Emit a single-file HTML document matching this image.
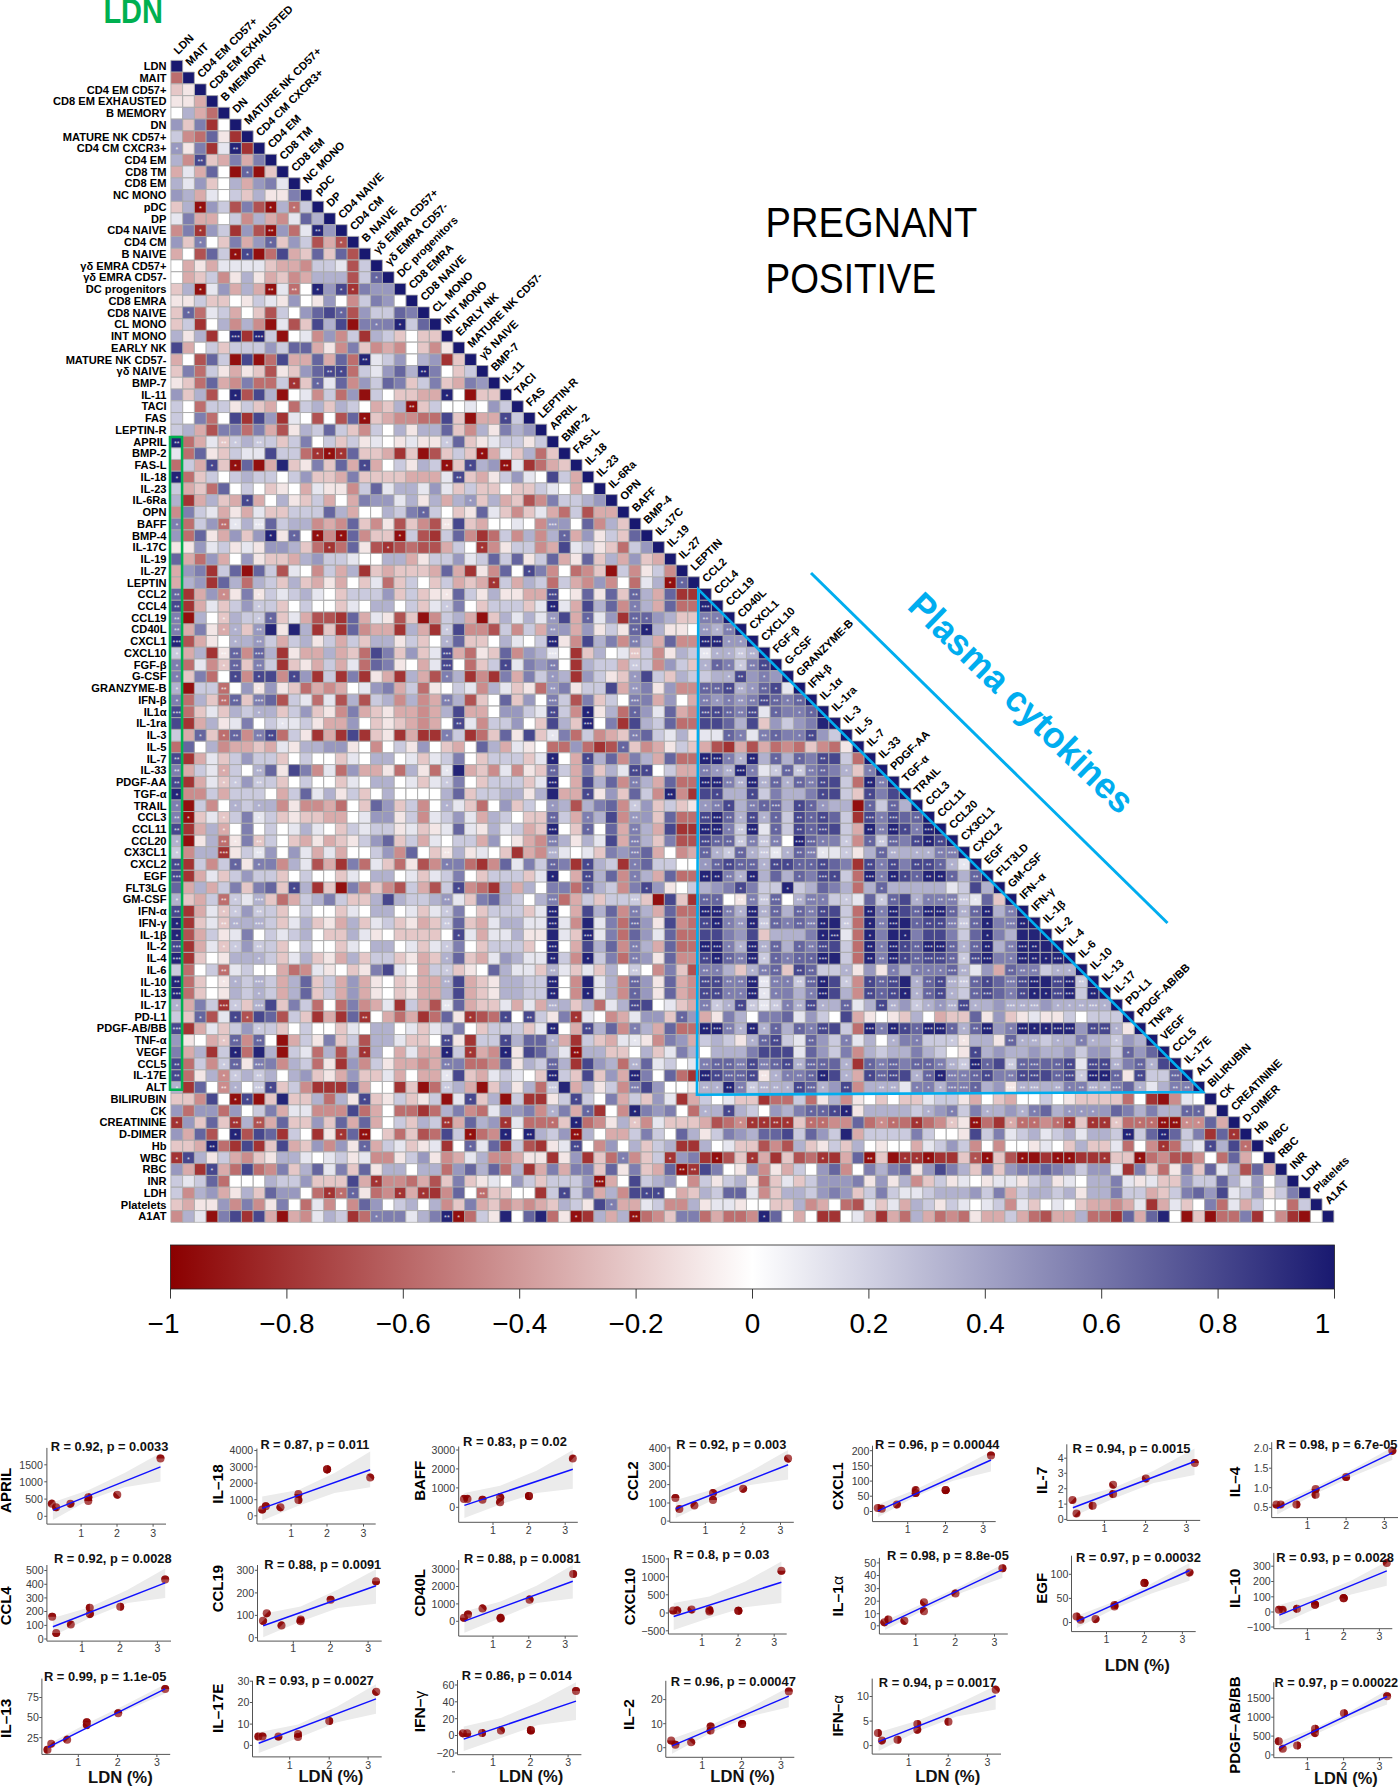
<!DOCTYPE html>
<html><head><meta charset="utf-8"><title>Correlation matrix</title>
<style>html,body{margin:0;padding:0;background:#fff}svg{display:block}</style></head>
<body><svg width="1398" height="1789" viewBox="0 0 1398 1789">
<rect width="1398" height="1789" fill="#fff"/>
<g stroke="#ababab" stroke-width="0.8">
<path fill="#191970" d="M170.9 60.4h11.75v11.74h-11.75zM182.6 72.1h11.75v11.74h-11.75zM194.4 83.9h11.75v11.74h-11.75zM206.1 95.6h11.75v11.74h-11.75zM217.9 107.3h11.75v11.74h-11.75zM229.6 119.1h11.75v11.74h-11.75zM241.4 130.8h11.75v11.74h-11.75zM253.1 142.6h11.75v11.74h-11.75zM264.9 154.3h11.75v11.74h-11.75zM276.6 166.0h11.75v11.74h-11.75zM288.4 177.8h11.75v11.74h-11.75zM300.1 189.5h11.75v11.74h-11.75zM311.9 201.2h11.75v11.74h-11.75zM323.6 213.0h11.75v11.74h-11.75zM335.4 224.7h11.75v11.74h-11.75zM347.1 236.4h11.75v11.74h-11.75zM358.8 248.2h11.75v11.74h-11.75zM370.6 259.9h11.75v11.74h-11.75zM382.3 271.7h11.75v11.74h-11.75zM394.1 283.4h11.75v11.74h-11.75zM405.8 295.1h11.75v11.74h-11.75zM417.6 306.9h11.75v11.74h-11.75zM429.3 318.6h11.75v11.74h-11.75zM441.1 330.3h11.75v11.74h-11.75zM452.8 342.1h11.75v11.74h-11.75zM464.6 353.8h11.75v11.74h-11.75zM476.3 365.5h11.75v11.74h-11.75zM488.1 377.3h11.75v11.74h-11.75zM499.8 389.0h11.75v11.74h-11.75zM511.5 400.8h11.75v11.74h-11.75zM523.3 412.5h11.75v11.74h-11.75zM535.0 424.2h11.75v11.74h-11.75zM546.8 436.0h11.75v11.74h-11.75zM558.5 447.7h11.75v11.74h-11.75zM570.3 459.4h11.75v11.74h-11.75zM582.0 471.2h11.75v11.74h-11.75zM593.8 482.9h11.75v11.74h-11.75zM605.5 494.6h11.75v11.74h-11.75zM617.3 506.4h11.75v11.74h-11.75zM629.0 518.1h11.75v11.74h-11.75zM640.8 529.9h11.75v11.74h-11.75zM652.5 541.6h11.75v11.74h-11.75zM664.3 553.3h11.75v11.74h-11.75zM676.0 565.1h11.75v11.74h-11.75zM687.7 576.8h11.75v11.74h-11.75zM699.5 588.5h11.75v11.74h-11.75zM711.2 600.3h11.75v11.74h-11.75zM723.0 612.0h11.75v11.74h-11.75zM734.7 623.7h11.75v11.74h-11.75zM746.5 635.5h11.75v11.74h-11.75zM758.2 647.2h11.75v11.74h-11.75zM770.0 659.0h11.75v11.74h-11.75zM781.7 670.7h11.75v11.74h-11.75zM793.5 682.4h11.75v11.74h-11.75zM805.2 694.2h11.75v11.74h-11.75zM817.0 705.9h11.75v11.74h-11.75zM828.7 717.6h11.75v11.74h-11.75zM840.4 729.4h11.75v11.74h-11.75zM852.2 741.1h11.75v11.74h-11.75zM863.9 752.8h11.75v11.74h-11.75zM875.7 764.6h11.75v11.74h-11.75zM887.4 776.3h11.75v11.74h-11.75zM899.2 788.1h11.75v11.74h-11.75zM910.9 799.8h11.75v11.74h-11.75zM922.7 811.5h11.75v11.74h-11.75zM934.4 823.3h11.75v11.74h-11.75zM946.2 835.0h11.75v11.74h-11.75zM957.9 846.7h11.75v11.74h-11.75zM969.7 858.5h11.75v11.74h-11.75zM981.4 870.2h11.75v11.74h-11.75zM993.2 881.9h11.75v11.74h-11.75zM1004.9 893.7h11.75v11.74h-11.75zM1016.6 905.4h11.75v11.74h-11.75zM1028.4 917.2h11.75v11.74h-11.75zM1040.1 928.9h11.75v11.74h-11.75zM1051.9 940.6h11.75v11.74h-11.75zM1063.6 952.4h11.75v11.74h-11.75zM1075.4 964.1h11.75v11.74h-11.75zM1087.1 975.8h11.75v11.74h-11.75zM1098.9 987.6h11.75v11.74h-11.75zM1110.6 999.3h11.75v11.74h-11.75zM1122.4 1011.0h11.75v11.74h-11.75zM1134.1 1022.8h11.75v11.74h-11.75zM1145.9 1034.5h11.75v11.74h-11.75zM1157.6 1046.3h11.75v11.74h-11.75zM1169.3 1058.0h11.75v11.74h-11.75zM1181.1 1069.7h11.75v11.74h-11.75zM1192.8 1081.5h11.75v11.74h-11.75zM1204.6 1093.2h11.75v11.74h-11.75zM1216.3 1104.9h11.75v11.74h-11.75zM1228.1 1116.7h11.75v11.74h-11.75zM1239.8 1128.4h11.75v11.74h-11.75zM1251.6 1140.1h11.75v11.74h-11.75zM1263.3 1151.9h11.75v11.74h-11.75zM1275.1 1163.6h11.75v11.74h-11.75zM1286.8 1175.4h11.75v11.74h-11.75zM1298.6 1187.1h11.75v11.74h-11.75zM1310.3 1198.8h11.75v11.74h-11.75zM1322.1 1210.6h11.75v11.74h-11.75z"/>
<path fill="#bd6e6e" d="M170.9 72.1h11.75v11.74h-11.75zM206.1 107.3h11.75v11.74h-11.75zM194.4 130.8h11.75v11.74h-11.75zM288.4 201.2h11.75v11.74h-11.75zM288.4 224.7h11.75v11.74h-11.75zM264.9 248.2h11.75v11.74h-11.75zM288.4 283.4h11.75v11.74h-11.75zM194.4 306.9h11.75v11.74h-11.75zM264.9 353.8h11.75v11.74h-11.75zM347.1 353.8h11.75v11.74h-11.75zM194.4 365.5h11.75v11.74h-11.75zM347.1 365.5h11.75v11.74h-11.75zM194.4 377.3h11.75v11.74h-11.75zM253.1 377.3h11.75v11.74h-11.75zM264.9 377.3h11.75v11.74h-11.75zM335.4 389.0h11.75v11.74h-11.75zM194.4 400.8h11.75v11.74h-11.75zM288.4 400.8h11.75v11.74h-11.75zM206.1 412.5h11.75v11.74h-11.75zM417.6 412.5h11.75v11.74h-11.75zM429.3 412.5h11.75v11.74h-11.75zM241.4 424.2h11.75v11.74h-11.75zM182.6 436.0h11.75v11.74h-11.75zM182.6 447.7h11.75v11.74h-11.75zM300.1 447.7h11.75v11.74h-11.75zM535.0 447.7h11.75v11.74h-11.75zM170.9 459.4h11.75v11.74h-11.75zM535.0 459.4h11.75v11.74h-11.75zM182.6 471.2h11.75v11.74h-11.75zM206.1 482.9h11.75v11.74h-11.75zM558.5 506.4h11.75v11.74h-11.75zM182.6 518.1h11.75v11.74h-11.75zM217.9 518.1h11.75v11.74h-11.75zM182.6 529.9h11.75v11.74h-11.75zM488.1 529.9h11.75v11.74h-11.75zM311.9 541.6h11.75v11.74h-11.75zM335.4 541.6h11.75v11.74h-11.75zM405.8 541.6h11.75v11.74h-11.75zM617.3 541.6h11.75v11.74h-11.75zM194.4 553.3h11.75v11.74h-11.75zM570.3 565.1h11.75v11.74h-11.75zM241.4 576.8h11.75v11.74h-11.75zM382.3 576.8h11.75v11.74h-11.75zM546.8 576.8h11.75v11.74h-11.75zM629.0 576.8h11.75v11.74h-11.75zM676.0 600.3h11.75v11.74h-11.75zM687.7 600.3h11.75v11.74h-11.75zM358.8 647.2h11.75v11.74h-11.75zM464.6 647.2h11.75v11.74h-11.75zM182.6 659.0h11.75v11.74h-11.75zM358.8 659.0h11.75v11.74h-11.75zM464.6 659.0h11.75v11.74h-11.75zM206.1 670.7h11.75v11.74h-11.75zM217.9 682.4h11.75v11.74h-11.75zM300.1 682.4h11.75v11.74h-11.75zM417.6 682.4h11.75v11.74h-11.75zM535.0 682.4h11.75v11.74h-11.75zM182.6 694.2h11.75v11.74h-11.75zM217.9 694.2h11.75v11.74h-11.75zM311.9 694.2h11.75v11.74h-11.75zM182.6 705.9h11.75v11.74h-11.75zM617.3 705.9h11.75v11.74h-11.75zM676.0 717.6h11.75v11.74h-11.75zM687.7 717.6h11.75v11.74h-11.75zM217.9 729.4h11.75v11.74h-11.75zM276.6 729.4h11.75v11.74h-11.75zM476.3 729.4h11.75v11.74h-11.75zM570.3 729.4h11.75v11.74h-11.75zM170.9 741.1h11.75v11.74h-11.75zM546.8 741.1h11.75v11.74h-11.75zM558.5 741.1h11.75v11.74h-11.75zM582.0 741.1h11.75v11.74h-11.75zM770.0 741.1h11.75v11.74h-11.75zM793.5 741.1h11.75v11.74h-11.75zM828.7 741.1h11.75v11.74h-11.75zM676.0 752.8h11.75v11.74h-11.75zM687.7 752.8h11.75v11.74h-11.75zM852.2 752.8h11.75v11.74h-11.75zM335.4 764.6h11.75v11.74h-11.75zM394.1 764.6h11.75v11.74h-11.75zM429.3 764.6h11.75v11.74h-11.75zM676.0 776.3h11.75v11.74h-11.75zM687.7 776.3h11.75v11.74h-11.75zM852.2 776.3h11.75v11.74h-11.75zM335.4 799.8h11.75v11.74h-11.75zM476.3 799.8h11.75v11.74h-11.75zM676.0 811.5h11.75v11.74h-11.75zM687.7 811.5h11.75v11.74h-11.75zM217.9 835.0h11.75v11.74h-11.75zM358.8 858.5h11.75v11.74h-11.75zM394.1 858.5h11.75v11.74h-11.75zM464.6 858.5h11.75v11.74h-11.75zM676.0 870.2h11.75v11.74h-11.75zM687.7 870.2h11.75v11.74h-11.75zM852.2 870.2h11.75v11.74h-11.75zM476.3 881.9h11.75v11.74h-11.75zM570.3 881.9h11.75v11.74h-11.75zM852.2 881.9h11.75v11.74h-11.75zM217.9 893.7h11.75v11.74h-11.75zM276.6 893.7h11.75v11.74h-11.75zM558.5 893.7h11.75v11.74h-11.75zM676.0 905.4h11.75v11.74h-11.75zM687.7 905.4h11.75v11.74h-11.75zM852.2 905.4h11.75v11.74h-11.75zM617.3 917.2h11.75v11.74h-11.75zM687.7 917.2h11.75v11.74h-11.75zM852.2 917.2h11.75v11.74h-11.75zM617.3 928.9h11.75v11.74h-11.75zM676.0 928.9h11.75v11.74h-11.75zM687.7 928.9h11.75v11.74h-11.75zM852.2 928.9h11.75v11.74h-11.75zM676.0 940.6h11.75v11.74h-11.75zM687.7 940.6h11.75v11.74h-11.75zM852.2 940.6h11.75v11.74h-11.75zM617.3 952.4h11.75v11.74h-11.75zM852.2 952.4h11.75v11.74h-11.75zM182.6 964.1h11.75v11.74h-11.75zM217.9 964.1h11.75v11.74h-11.75zM288.4 964.1h11.75v11.74h-11.75zM182.6 975.8h11.75v11.74h-11.75zM182.6 987.6h11.75v11.74h-11.75zM311.9 999.3h11.75v11.74h-11.75zM335.4 999.3h11.75v11.74h-11.75zM593.8 999.3h11.75v11.74h-11.75zM394.1 1011.0h11.75v11.74h-11.75zM429.3 1011.0h11.75v11.74h-11.75zM488.1 1011.0h11.75v11.74h-11.75zM676.0 1022.8h11.75v11.74h-11.75zM687.7 1022.8h11.75v11.74h-11.75zM852.2 1022.8h11.75v11.74h-11.75zM241.4 1046.3h11.75v11.74h-11.75zM311.9 1046.3h11.75v11.74h-11.75zM182.6 1058.0h11.75v11.74h-11.75zM311.9 1058.0h11.75v11.74h-11.75zM464.6 1058.0h11.75v11.74h-11.75zM476.3 1058.0h11.75v11.74h-11.75zM617.3 1058.0h11.75v11.74h-11.75zM182.6 1069.7h11.75v11.74h-11.75zM676.0 1069.7h11.75v11.74h-11.75zM429.3 1081.5h11.75v11.74h-11.75zM535.0 1081.5h11.75v11.74h-11.75zM323.6 1093.2h11.75v11.74h-11.75zM770.0 1093.2h11.75v11.74h-11.75zM781.7 1093.2h11.75v11.74h-11.75zM805.2 1093.2h11.75v11.74h-11.75zM1122.4 1093.2h11.75v11.74h-11.75zM182.6 1104.9h11.75v11.74h-11.75zM217.9 1104.9h11.75v11.74h-11.75zM358.8 1104.9h11.75v11.74h-11.75zM394.1 1104.9h11.75v11.74h-11.75zM405.8 1104.9h11.75v11.74h-11.75zM429.3 1104.9h11.75v11.74h-11.75zM476.3 1104.9h11.75v11.74h-11.75zM687.7 1104.9h11.75v11.74h-11.75zM523.3 1116.7h11.75v11.74h-11.75zM535.0 1116.7h11.75v11.74h-11.75zM546.8 1116.7h11.75v11.74h-11.75zM582.0 1116.7h11.75v11.74h-11.75zM723.0 1116.7h11.75v11.74h-11.75zM805.2 1116.7h11.75v11.74h-11.75zM817.0 1116.7h11.75v11.74h-11.75zM863.9 1116.7h11.75v11.74h-11.75zM887.4 1116.7h11.75v11.74h-11.75zM899.2 1116.7h11.75v11.74h-11.75zM922.7 1116.7h11.75v11.74h-11.75zM981.4 1116.7h11.75v11.74h-11.75zM1016.6 1116.7h11.75v11.74h-11.75zM1028.4 1116.7h11.75v11.74h-11.75zM1051.9 1116.7h11.75v11.74h-11.75zM1122.4 1116.7h11.75v11.74h-11.75zM1134.1 1116.7h11.75v11.74h-11.75zM1145.9 1116.7h11.75v11.74h-11.75zM394.1 1128.4h11.75v11.74h-11.75zM429.3 1128.4h11.75v11.74h-11.75zM476.3 1128.4h11.75v11.74h-11.75zM217.9 1140.1h11.75v11.74h-11.75zM1122.4 1140.1h11.75v11.74h-11.75zM1169.3 1140.1h11.75v11.74h-11.75zM1239.8 1140.1h11.75v11.74h-11.75zM605.5 1151.9h11.75v11.74h-11.75zM805.2 1151.9h11.75v11.74h-11.75zM1145.9 1151.9h11.75v11.74h-11.75zM1216.3 1151.9h11.75v11.74h-11.75zM229.6 1163.6h11.75v11.74h-11.75zM253.1 1163.6h11.75v11.74h-11.75zM441.1 1163.6h11.75v11.74h-11.75zM499.8 1163.6h11.75v11.74h-11.75zM1157.6 1163.6h11.75v11.74h-11.75zM217.9 1175.4h11.75v11.74h-11.75zM405.8 1175.4h11.75v11.74h-11.75zM758.2 1175.4h11.75v11.74h-11.75zM311.9 1187.1h11.75v11.74h-11.75zM335.4 1187.1h11.75v11.74h-11.75zM370.6 1187.1h11.75v11.74h-11.75zM476.3 1187.1h11.75v11.74h-11.75zM300.1 1198.8h11.75v11.74h-11.75zM840.4 1198.8h11.75v11.74h-11.75zM1216.3 1198.8h11.75v11.74h-11.75zM1286.8 1198.8h11.75v11.74h-11.75zM358.8 1210.6h11.75v11.74h-11.75zM464.6 1210.6h11.75v11.74h-11.75zM546.8 1210.6h11.75v11.74h-11.75zM640.8 1210.6h11.75v11.74h-11.75zM699.5 1210.6h11.75v11.74h-11.75zM723.0 1210.6h11.75v11.74h-11.75zM734.7 1210.6h11.75v11.74h-11.75zM899.2 1210.6h11.75v11.74h-11.75zM934.4 1210.6h11.75v11.74h-11.75zM957.9 1210.6h11.75v11.74h-11.75zM1028.4 1210.6h11.75v11.74h-11.75zM1087.1 1210.6h11.75v11.74h-11.75zM1098.9 1210.6h11.75v11.74h-11.75zM1216.3 1210.6h11.75v11.74h-11.75zM1228.1 1210.6h11.75v11.74h-11.75z"/>
<path fill="#e5c7c7" d="M170.9 83.9h11.75v11.74h-11.75zM182.6 119.1h11.75v11.74h-11.75zM206.1 154.3h11.75v11.74h-11.75zM264.9 166.0h11.75v11.74h-11.75zM206.1 177.8h11.75v11.74h-11.75zM241.4 189.5h11.75v11.74h-11.75zM170.9 201.2h11.75v11.74h-11.75zM182.6 236.4h11.75v11.74h-11.75zM217.9 236.4h11.75v11.74h-11.75zM276.6 236.4h11.75v11.74h-11.75zM300.1 248.2h11.75v11.74h-11.75zM323.6 248.2h11.75v11.74h-11.75zM264.9 259.9h11.75v11.74h-11.75zM194.4 271.7h11.75v11.74h-11.75zM276.6 271.7h11.75v11.74h-11.75zM170.9 283.4h11.75v11.74h-11.75zM206.1 295.1h11.75v11.74h-11.75zM217.9 295.1h11.75v11.74h-11.75zM170.9 306.9h11.75v11.74h-11.75zM253.1 306.9h11.75v11.74h-11.75zM170.9 318.6h11.75v11.74h-11.75zM300.1 318.6h11.75v11.74h-11.75zM394.1 330.3h11.75v11.74h-11.75zM417.6 330.3h11.75v11.74h-11.75zM429.3 330.3h11.75v11.74h-11.75zM217.9 342.1h11.75v11.74h-11.75zM358.8 342.1h11.75v11.74h-11.75zM417.6 342.1h11.75v11.74h-11.75zM452.8 353.8h11.75v11.74h-11.75zM170.9 365.5h11.75v11.74h-11.75zM253.1 365.5h11.75v11.74h-11.75zM288.4 365.5h11.75v11.74h-11.75zM452.8 365.5h11.75v11.74h-11.75zM182.6 377.3h11.75v11.74h-11.75zM300.1 377.3h11.75v11.74h-11.75zM405.8 377.3h11.75v11.74h-11.75zM441.1 377.3h11.75v11.74h-11.75zM182.6 389.0h11.75v11.74h-11.75zM394.1 389.0h11.75v11.74h-11.75zM405.8 389.0h11.75v11.74h-11.75zM476.3 389.0h11.75v11.74h-11.75zM488.1 389.0h11.75v11.74h-11.75zM253.1 400.8h11.75v11.74h-11.75zM323.6 400.8h11.75v11.74h-11.75zM382.3 400.8h11.75v11.74h-11.75zM417.6 400.8h11.75v11.74h-11.75zM370.6 412.5h11.75v11.74h-11.75zM452.8 412.5h11.75v11.74h-11.75zM347.1 424.2h11.75v11.74h-11.75zM452.8 424.2h11.75v11.74h-11.75zM217.9 436.0h11.75v11.74h-11.75zM276.6 436.0h11.75v11.74h-11.75zM335.4 436.0h11.75v11.74h-11.75zM464.6 436.0h11.75v11.74h-11.75zM217.9 447.7h11.75v11.74h-11.75zM358.8 447.7h11.75v11.74h-11.75zM370.6 447.7h11.75v11.74h-11.75zM405.8 447.7h11.75v11.74h-11.75zM441.1 447.7h11.75v11.74h-11.75zM464.6 447.7h11.75v11.74h-11.75zM511.5 447.7h11.75v11.74h-11.75zM546.8 447.7h11.75v11.74h-11.75zM217.9 459.4h11.75v11.74h-11.75zM288.4 459.4h11.75v11.74h-11.75zM323.6 459.4h11.75v11.74h-11.75zM452.8 459.4h11.75v11.74h-11.75zM558.5 459.4h11.75v11.74h-11.75zM194.4 471.2h11.75v11.74h-11.75zM311.9 471.2h11.75v11.74h-11.75zM323.6 471.2h11.75v11.74h-11.75zM358.8 471.2h11.75v11.74h-11.75zM370.6 471.2h11.75v11.74h-11.75zM382.3 471.2h11.75v11.74h-11.75zM394.1 471.2h11.75v11.74h-11.75zM464.6 471.2h11.75v11.74h-11.75zM194.4 482.9h11.75v11.74h-11.75zM264.9 482.9h11.75v11.74h-11.75zM452.8 482.9h11.75v11.74h-11.75zM476.3 482.9h11.75v11.74h-11.75zM488.1 482.9h11.75v11.74h-11.75zM511.5 482.9h11.75v11.74h-11.75zM523.3 482.9h11.75v11.74h-11.75zM217.9 494.6h11.75v11.74h-11.75zM300.1 494.6h11.75v11.74h-11.75zM476.3 494.6h11.75v11.74h-11.75zM511.5 494.6h11.75v11.74h-11.75zM264.9 506.4h11.75v11.74h-11.75zM276.6 506.4h11.75v11.74h-11.75zM452.8 506.4h11.75v11.74h-11.75zM499.8 506.4h11.75v11.74h-11.75zM523.3 506.4h11.75v11.74h-11.75zM358.8 518.1h11.75v11.74h-11.75zM405.8 518.1h11.75v11.74h-11.75zM464.6 518.1h11.75v11.74h-11.75zM617.3 518.1h11.75v11.74h-11.75zM241.4 529.9h11.75v11.74h-11.75zM370.6 529.9h11.75v11.74h-11.75zM382.3 529.9h11.75v11.74h-11.75zM617.3 529.9h11.75v11.74h-11.75zM300.1 541.6h11.75v11.74h-11.75zM605.5 541.6h11.75v11.74h-11.75zM264.9 553.3h11.75v11.74h-11.75zM276.6 553.3h11.75v11.74h-11.75zM593.8 553.3h11.75v11.74h-11.75zM640.8 553.3h11.75v11.74h-11.75zM370.6 565.1h11.75v11.74h-11.75zM394.1 565.1h11.75v11.74h-11.75zM405.8 565.1h11.75v11.74h-11.75zM417.6 565.1h11.75v11.74h-11.75zM593.8 565.1h11.75v11.74h-11.75zM276.6 576.8h11.75v11.74h-11.75zM300.1 576.8h11.75v11.74h-11.75zM358.8 576.8h11.75v11.74h-11.75zM394.1 576.8h11.75v11.74h-11.75zM429.3 576.8h11.75v11.74h-11.75zM464.6 576.8h11.75v11.74h-11.75zM335.4 588.5h11.75v11.74h-11.75zM394.1 588.5h11.75v11.74h-11.75zM417.6 588.5h11.75v11.74h-11.75zM617.3 588.5h11.75v11.74h-11.75zM217.9 600.3h11.75v11.74h-11.75zM276.6 600.3h11.75v11.74h-11.75zM335.4 600.3h11.75v11.74h-11.75zM417.6 600.3h11.75v11.74h-11.75zM476.3 600.3h11.75v11.74h-11.75zM523.3 600.3h11.75v11.74h-11.75zM217.9 612.0h11.75v11.74h-11.75zM276.6 612.0h11.75v11.74h-11.75zM405.8 612.0h11.75v11.74h-11.75zM488.1 612.0h11.75v11.74h-11.75zM676.0 612.0h11.75v11.74h-11.75zM687.7 612.0h11.75v11.74h-11.75zM241.4 623.7h11.75v11.74h-11.75zM323.6 623.7h11.75v11.74h-11.75zM358.8 635.5h11.75v11.74h-11.75zM417.6 635.5h11.75v11.74h-11.75zM464.6 635.5h11.75v11.74h-11.75zM476.3 635.5h11.75v11.74h-11.75zM347.1 647.2h11.75v11.74h-11.75zM394.1 647.2h11.75v11.74h-11.75zM417.6 647.2h11.75v11.74h-11.75zM488.1 647.2h11.75v11.74h-11.75zM582.0 647.2h11.75v11.74h-11.75zM629.0 647.2h11.75v11.74h-11.75zM217.9 659.0h11.75v11.74h-11.75zM241.4 659.0h11.75v11.74h-11.75zM288.4 659.0h11.75v11.74h-11.75zM476.3 659.0h11.75v11.74h-11.75zM687.7 659.0h11.75v11.74h-11.75zM182.6 670.7h11.75v11.74h-11.75zM617.3 670.7h11.75v11.74h-11.75zM664.3 670.7h11.75v11.74h-11.75zM288.4 682.4h11.75v11.74h-11.75zM511.5 682.4h11.75v11.74h-11.75zM206.1 694.2h11.75v11.74h-11.75zM241.4 694.2h11.75v11.74h-11.75zM476.3 694.2h11.75v11.74h-11.75zM511.5 694.2h11.75v11.74h-11.75zM593.8 694.2h11.75v11.74h-11.75zM194.4 705.9h11.75v11.74h-11.75zM217.9 705.9h11.75v11.74h-11.75zM276.6 705.9h11.75v11.74h-11.75zM311.9 705.9h11.75v11.74h-11.75zM370.6 705.9h11.75v11.74h-11.75zM370.6 717.6h11.75v11.74h-11.75zM394.1 717.6h11.75v11.74h-11.75zM535.0 717.6h11.75v11.74h-11.75zM570.3 717.6h11.75v11.74h-11.75zM758.2 717.6h11.75v11.74h-11.75zM206.1 729.4h11.75v11.74h-11.75zM370.6 729.4h11.75v11.74h-11.75zM488.1 729.4h11.75v11.74h-11.75zM535.0 729.4h11.75v11.74h-11.75zM617.3 729.4h11.75v11.74h-11.75zM253.1 741.1h11.75v11.74h-11.75zM441.1 741.1h11.75v11.74h-11.75zM629.0 741.1h11.75v11.74h-11.75zM687.7 741.1h11.75v11.74h-11.75zM805.2 741.1h11.75v11.74h-11.75zM217.9 752.8h11.75v11.74h-11.75zM276.6 752.8h11.75v11.74h-11.75zM335.4 752.8h11.75v11.74h-11.75zM417.6 752.8h11.75v11.74h-11.75zM476.3 752.8h11.75v11.74h-11.75zM523.3 752.8h11.75v11.74h-11.75zM476.3 764.6h11.75v11.74h-11.75zM535.0 764.6h11.75v11.74h-11.75zM593.8 764.6h11.75v11.74h-11.75zM852.2 764.6h11.75v11.74h-11.75zM217.9 776.3h11.75v11.74h-11.75zM276.6 776.3h11.75v11.74h-11.75zM335.4 776.3h11.75v11.74h-11.75zM417.6 776.3h11.75v11.74h-11.75zM476.3 776.3h11.75v11.74h-11.75zM523.3 776.3h11.75v11.74h-11.75zM358.8 788.1h11.75v11.74h-11.75zM464.6 788.1h11.75v11.74h-11.75zM617.3 788.1h11.75v11.74h-11.75zM852.2 788.1h11.75v11.74h-11.75zM358.8 799.8h11.75v11.74h-11.75zM394.1 799.8h11.75v11.74h-11.75zM464.6 799.8h11.75v11.74h-11.75zM511.5 799.8h11.75v11.74h-11.75zM652.5 799.8h11.75v11.74h-11.75zM676.0 799.8h11.75v11.74h-11.75zM194.4 811.5h11.75v11.74h-11.75zM217.9 811.5h11.75v11.74h-11.75zM276.6 811.5h11.75v11.74h-11.75zM300.1 811.5h11.75v11.74h-11.75zM311.9 811.5h11.75v11.74h-11.75zM523.3 811.5h11.75v11.74h-11.75zM535.0 811.5h11.75v11.74h-11.75zM652.5 811.5h11.75v11.74h-11.75zM335.4 823.3h11.75v11.74h-11.75zM417.6 823.3h11.75v11.74h-11.75zM535.0 823.3h11.75v11.74h-11.75zM570.3 823.3h11.75v11.74h-11.75zM253.1 835.0h11.75v11.74h-11.75zM288.4 835.0h11.75v11.74h-11.75zM335.4 835.0h11.75v11.74h-11.75zM394.1 835.0h11.75v11.74h-11.75zM652.5 835.0h11.75v11.74h-11.75zM429.3 846.7h11.75v11.74h-11.75zM499.8 846.7h11.75v11.74h-11.75zM593.8 846.7h11.75v11.74h-11.75zM382.3 858.5h11.75v11.74h-11.75zM217.9 870.2h11.75v11.74h-11.75zM276.6 870.2h11.75v11.74h-11.75zM335.4 870.2h11.75v11.74h-11.75zM417.6 870.2h11.75v11.74h-11.75zM476.3 870.2h11.75v11.74h-11.75zM523.3 870.2h11.75v11.74h-11.75zM241.4 881.9h11.75v11.74h-11.75zM276.6 881.9h11.75v11.74h-11.75zM323.6 881.9h11.75v11.74h-11.75zM370.6 881.9h11.75v11.74h-11.75zM182.6 893.7h11.75v11.74h-11.75zM264.9 893.7h11.75v11.74h-11.75zM347.1 893.7h11.75v11.74h-11.75zM358.8 893.7h11.75v11.74h-11.75zM464.6 893.7h11.75v11.74h-11.75zM593.8 893.7h11.75v11.74h-11.75zM640.8 893.7h11.75v11.74h-11.75zM676.0 893.7h11.75v11.74h-11.75zM993.2 893.7h11.75v11.74h-11.75zM217.9 905.4h11.75v11.74h-11.75zM276.6 905.4h11.75v11.74h-11.75zM335.4 905.4h11.75v11.74h-11.75zM417.6 905.4h11.75v11.74h-11.75zM476.3 905.4h11.75v11.74h-11.75zM523.3 905.4h11.75v11.74h-11.75zM194.4 917.2h11.75v11.74h-11.75zM217.9 917.2h11.75v11.74h-11.75zM276.6 917.2h11.75v11.74h-11.75zM311.9 917.2h11.75v11.74h-11.75zM358.8 917.2h11.75v11.74h-11.75zM394.1 917.2h11.75v11.74h-11.75zM429.3 917.2h11.75v11.74h-11.75zM464.6 917.2h11.75v11.74h-11.75zM323.6 928.9h11.75v11.74h-11.75zM335.4 928.9h11.75v11.74h-11.75zM394.1 928.9h11.75v11.74h-11.75zM405.8 928.9h11.75v11.74h-11.75zM417.6 928.9h11.75v11.74h-11.75zM429.3 928.9h11.75v11.74h-11.75zM570.3 928.9h11.75v11.74h-11.75zM758.2 928.9h11.75v11.74h-11.75zM217.9 940.6h11.75v11.74h-11.75zM276.6 940.6h11.75v11.74h-11.75zM335.4 940.6h11.75v11.74h-11.75zM417.6 940.6h11.75v11.74h-11.75zM476.3 940.6h11.75v11.74h-11.75zM523.3 940.6h11.75v11.74h-11.75zM194.4 952.4h11.75v11.74h-11.75zM276.6 952.4h11.75v11.74h-11.75zM311.9 952.4h11.75v11.74h-11.75zM358.8 952.4h11.75v11.74h-11.75zM394.1 952.4h11.75v11.74h-11.75zM429.3 952.4h11.75v11.74h-11.75zM464.6 952.4h11.75v11.74h-11.75zM347.1 964.1h11.75v11.74h-11.75zM452.8 964.1h11.75v11.74h-11.75zM535.0 964.1h11.75v11.74h-11.75zM570.3 964.1h11.75v11.74h-11.75zM593.8 964.1h11.75v11.74h-11.75zM676.0 964.1h11.75v11.74h-11.75zM734.7 964.1h11.75v11.74h-11.75zM781.7 964.1h11.75v11.74h-11.75zM194.4 975.8h11.75v11.74h-11.75zM311.9 975.8h11.75v11.74h-11.75zM394.1 975.8h11.75v11.74h-11.75zM476.3 975.8h11.75v11.74h-11.75zM194.4 987.6h11.75v11.74h-11.75zM311.9 987.6h11.75v11.74h-11.75zM394.1 987.6h11.75v11.74h-11.75zM476.3 987.6h11.75v11.74h-11.75zM241.4 999.3h11.75v11.74h-11.75zM276.6 999.3h11.75v11.74h-11.75zM476.3 999.3h11.75v11.74h-11.75zM488.1 999.3h11.75v11.74h-11.75zM570.3 999.3h11.75v11.74h-11.75zM676.0 999.3h11.75v11.74h-11.75zM182.6 1011.0h11.75v11.74h-11.75zM300.1 1011.0h11.75v11.74h-11.75zM664.3 1011.0h11.75v11.74h-11.75zM899.2 1011.0h11.75v11.74h-11.75zM946.2 1011.0h11.75v11.74h-11.75zM957.9 1011.0h11.75v11.74h-11.75zM1004.9 1011.0h11.75v11.74h-11.75zM217.9 1022.8h11.75v11.74h-11.75zM276.6 1022.8h11.75v11.74h-11.75zM335.4 1022.8h11.75v11.74h-11.75zM417.6 1022.8h11.75v11.74h-11.75zM476.3 1022.8h11.75v11.74h-11.75zM523.3 1022.8h11.75v11.74h-11.75zM217.9 1034.5h11.75v11.74h-11.75zM335.4 1034.5h11.75v11.74h-11.75zM405.8 1034.5h11.75v11.74h-11.75zM417.6 1034.5h11.75v11.74h-11.75zM593.8 1034.5h11.75v11.74h-11.75zM605.5 1046.3h11.75v11.74h-11.75zM617.3 1046.3h11.75v11.74h-11.75zM652.5 1046.3h11.75v11.74h-11.75zM311.9 1069.7h11.75v11.74h-11.75zM358.8 1069.7h11.75v11.74h-11.75zM370.6 1069.7h11.75v11.74h-11.75zM464.6 1069.7h11.75v11.74h-11.75zM535.0 1069.7h11.75v11.74h-11.75zM570.3 1069.7h11.75v11.74h-11.75zM593.8 1069.7h11.75v11.74h-11.75zM276.6 1081.5h11.75v11.74h-11.75zM405.8 1081.5h11.75v11.74h-11.75zM488.1 1081.5h11.75v11.74h-11.75zM170.9 1093.2h11.75v11.74h-11.75zM182.6 1093.2h11.75v11.74h-11.75zM264.9 1093.2h11.75v11.74h-11.75zM288.4 1093.2h11.75v11.74h-11.75zM300.1 1093.2h11.75v11.74h-11.75zM370.6 1093.2h11.75v11.74h-11.75zM405.8 1093.2h11.75v11.74h-11.75zM476.3 1093.2h11.75v11.74h-11.75zM640.8 1093.2h11.75v11.74h-11.75zM734.7 1093.2h11.75v11.74h-11.75zM746.5 1093.2h11.75v11.74h-11.75zM875.7 1093.2h11.75v11.74h-11.75zM899.2 1093.2h11.75v11.74h-11.75zM910.9 1093.2h11.75v11.74h-11.75zM993.2 1093.2h11.75v11.74h-11.75zM1075.4 1093.2h11.75v11.74h-11.75zM1087.1 1093.2h11.75v11.74h-11.75zM1098.9 1093.2h11.75v11.74h-11.75zM1110.6 1093.2h11.75v11.74h-11.75zM194.4 1116.7h11.75v11.74h-11.75zM217.9 1116.7h11.75v11.74h-11.75zM288.4 1116.7h11.75v11.74h-11.75zM300.1 1116.7h11.75v11.74h-11.75zM323.6 1116.7h11.75v11.74h-11.75zM405.8 1116.7h11.75v11.74h-11.75zM558.5 1116.7h11.75v11.74h-11.75zM629.0 1116.7h11.75v11.74h-11.75zM664.3 1116.7h11.75v11.74h-11.75zM676.0 1116.7h11.75v11.74h-11.75zM687.7 1116.7h11.75v11.74h-11.75zM793.5 1116.7h11.75v11.74h-11.75zM946.2 1116.7h11.75v11.74h-11.75zM1075.4 1116.7h11.75v11.74h-11.75zM1110.6 1116.7h11.75v11.74h-11.75zM382.3 1128.4h11.75v11.74h-11.75zM405.8 1128.4h11.75v11.74h-11.75zM170.9 1140.1h11.75v11.74h-11.75zM182.6 1140.1h11.75v11.74h-11.75zM264.9 1140.1h11.75v11.74h-11.75zM300.1 1140.1h11.75v11.74h-11.75zM405.8 1140.1h11.75v11.74h-11.75zM640.8 1140.1h11.75v11.74h-11.75zM734.7 1140.1h11.75v11.74h-11.75zM746.5 1140.1h11.75v11.74h-11.75zM805.2 1140.1h11.75v11.74h-11.75zM840.4 1140.1h11.75v11.74h-11.75zM1063.6 1140.1h11.75v11.74h-11.75zM1087.1 1140.1h11.75v11.74h-11.75zM1098.9 1140.1h11.75v11.74h-11.75zM253.1 1151.9h11.75v11.74h-11.75zM593.8 1151.9h11.75v11.74h-11.75zM640.8 1151.9h11.75v11.74h-11.75zM734.7 1151.9h11.75v11.74h-11.75zM781.7 1151.9h11.75v11.74h-11.75zM875.7 1151.9h11.75v11.74h-11.75zM957.9 1151.9h11.75v11.74h-11.75zM993.2 1151.9h11.75v11.74h-11.75zM1110.6 1151.9h11.75v11.74h-11.75zM1122.4 1151.9h11.75v11.74h-11.75zM288.4 1163.6h11.75v11.74h-11.75zM347.1 1163.6h11.75v11.74h-11.75zM593.8 1163.6h11.75v11.74h-11.75zM640.8 1163.6h11.75v11.74h-11.75zM969.7 1163.6h11.75v11.74h-11.75zM993.2 1163.6h11.75v11.74h-11.75zM1145.9 1163.6h11.75v11.74h-11.75zM1192.8 1163.6h11.75v11.74h-11.75zM311.9 1175.4h11.75v11.74h-11.75zM323.6 1175.4h11.75v11.74h-11.75zM335.4 1175.4h11.75v11.74h-11.75zM441.1 1175.4h11.75v11.74h-11.75zM464.6 1175.4h11.75v11.74h-11.75zM535.0 1175.4h11.75v11.74h-11.75zM770.0 1175.4h11.75v11.74h-11.75zM793.5 1175.4h11.75v11.74h-11.75zM922.7 1175.4h11.75v11.74h-11.75zM1157.6 1175.4h11.75v11.74h-11.75zM1169.3 1175.4h11.75v11.74h-11.75zM253.1 1187.1h11.75v11.74h-11.75zM488.1 1187.1h11.75v11.74h-11.75zM499.8 1187.1h11.75v11.74h-11.75zM687.7 1187.1h11.75v11.74h-11.75zM770.0 1187.1h11.75v11.74h-11.75zM852.2 1187.1h11.75v11.74h-11.75zM1157.6 1187.1h11.75v11.74h-11.75zM170.9 1198.8h11.75v11.74h-11.75zM452.8 1198.8h11.75v11.74h-11.75zM488.1 1198.8h11.75v11.74h-11.75zM546.8 1198.8h11.75v11.74h-11.75zM770.0 1198.8h11.75v11.74h-11.75zM781.7 1198.8h11.75v11.74h-11.75zM875.7 1198.8h11.75v11.74h-11.75zM1028.4 1198.8h11.75v11.74h-11.75zM1075.4 1198.8h11.75v11.74h-11.75zM1181.1 1198.8h11.75v11.74h-11.75zM664.3 1210.6h11.75v11.74h-11.75zM1192.8 1210.6h11.75v11.74h-11.75z"/>
<path fill="#f3e6e6" d="M182.6 83.9h11.75v11.74h-11.75zM170.9 95.6h11.75v11.74h-11.75zM182.6 95.6h11.75v11.74h-11.75zM217.9 130.8h11.75v11.74h-11.75zM182.6 142.6h11.75v11.74h-11.75zM264.9 189.5h11.75v11.74h-11.75zM276.6 189.5h11.75v11.74h-11.75zM194.4 259.9h11.75v11.74h-11.75zM229.6 271.7h11.75v11.74h-11.75zM253.1 271.7h11.75v11.74h-11.75zM170.9 295.1h11.75v11.74h-11.75zM182.6 295.1h11.75v11.74h-11.75zM241.4 295.1h11.75v11.74h-11.75zM276.6 295.1h11.75v11.74h-11.75zM311.9 295.1h11.75v11.74h-11.75zM182.6 330.3h11.75v11.74h-11.75zM323.6 342.1h11.75v11.74h-11.75zM441.1 342.1h11.75v11.74h-11.75zM217.9 365.5h11.75v11.74h-11.75zM241.4 365.5h11.75v11.74h-11.75zM276.6 365.5h11.75v11.74h-11.75zM170.9 377.3h11.75v11.74h-11.75zM229.6 400.8h11.75v11.74h-11.75zM288.4 424.2h11.75v11.74h-11.75zM405.8 424.2h11.75v11.74h-11.75zM488.1 424.2h11.75v11.74h-11.75zM358.8 436.0h11.75v11.74h-11.75zM394.1 436.0h11.75v11.74h-11.75zM417.6 436.0h11.75v11.74h-11.75zM429.3 436.0h11.75v11.74h-11.75zM476.3 436.0h11.75v11.74h-11.75zM523.3 436.0h11.75v11.74h-11.75zM206.1 447.7h11.75v11.74h-11.75zM300.1 459.4h11.75v11.74h-11.75zM405.8 459.4h11.75v11.74h-11.75zM488.1 471.2h11.75v11.74h-11.75zM276.6 482.9h11.75v11.74h-11.75zM323.6 482.9h11.75v11.74h-11.75zM335.4 482.9h11.75v11.74h-11.75zM288.4 494.6h11.75v11.74h-11.75zM417.6 494.6h11.75v11.74h-11.75zM229.6 506.4h11.75v11.74h-11.75zM464.6 506.4h11.75v11.74h-11.75zM382.3 518.1h11.75v11.74h-11.75zM441.1 518.1h11.75v11.74h-11.75zM206.1 529.9h11.75v11.74h-11.75zM276.6 529.9h11.75v11.74h-11.75zM593.8 529.9h11.75v11.74h-11.75zM170.9 541.6h11.75v11.74h-11.75zM182.6 541.6h11.75v11.74h-11.75zM229.6 541.6h11.75v11.74h-11.75zM253.1 541.6h11.75v11.74h-11.75zM358.8 541.6h11.75v11.74h-11.75zM499.8 541.6h11.75v11.74h-11.75zM593.8 541.6h11.75v11.74h-11.75zM253.1 553.3h11.75v11.74h-11.75zM417.6 553.3h11.75v11.74h-11.75zM523.3 553.3h11.75v11.74h-11.75zM570.3 553.3h11.75v11.74h-11.75zM476.3 565.1h11.75v11.74h-11.75zM640.8 565.1h11.75v11.74h-11.75zM323.6 576.8h11.75v11.74h-11.75zM229.6 588.5h11.75v11.74h-11.75zM253.1 588.5h11.75v11.74h-11.75zM429.3 588.5h11.75v11.74h-11.75zM441.1 588.5h11.75v11.74h-11.75zM476.3 588.5h11.75v11.74h-11.75zM499.8 588.5h11.75v11.74h-11.75zM511.5 588.5h11.75v11.74h-11.75zM570.3 588.5h11.75v11.74h-11.75zM593.8 588.5h11.75v11.74h-11.75zM382.3 612.0h11.75v11.74h-11.75zM206.1 623.7h11.75v11.74h-11.75zM276.6 623.7h11.75v11.74h-11.75zM593.8 623.7h11.75v11.74h-11.75zM617.3 623.7h11.75v11.74h-11.75zM664.3 623.7h11.75v11.74h-11.75zM676.0 623.7h11.75v11.74h-11.75zM206.1 635.5h11.75v11.74h-11.75zM311.9 635.5h11.75v11.74h-11.75zM394.1 635.5h11.75v11.74h-11.75zM558.5 635.5h11.75v11.74h-11.75zM217.9 647.2h11.75v11.74h-11.75zM288.4 647.2h11.75v11.74h-11.75zM476.3 647.2h11.75v11.74h-11.75zM664.3 647.2h11.75v11.74h-11.75zM300.1 659.0h11.75v11.74h-11.75zM394.1 659.0h11.75v11.74h-11.75zM370.6 670.7h11.75v11.74h-11.75zM605.5 670.7h11.75v11.74h-11.75zM253.1 682.4h11.75v11.74h-11.75zM276.6 682.4h11.75v11.74h-11.75zM429.3 682.4h11.75v11.74h-11.75zM523.3 682.4h11.75v11.74h-11.75zM570.3 682.4h11.75v11.74h-11.75zM652.5 682.4h11.75v11.74h-11.75zM323.6 705.9h11.75v11.74h-11.75zM382.3 705.9h11.75v11.74h-11.75zM593.8 705.9h11.75v11.74h-11.75zM217.9 717.6h11.75v11.74h-11.75zM311.9 717.6h11.75v11.74h-11.75zM382.3 717.6h11.75v11.74h-11.75zM300.1 729.4h11.75v11.74h-11.75zM382.3 729.4h11.75v11.74h-11.75zM511.5 729.4h11.75v11.74h-11.75zM687.7 729.4h11.75v11.74h-11.75zM288.4 741.1h11.75v11.74h-11.75zM347.1 741.1h11.75v11.74h-11.75zM405.8 741.1h11.75v11.74h-11.75zM523.3 741.1h11.75v11.74h-11.75zM664.3 741.1h11.75v11.74h-11.75zM840.4 741.1h11.75v11.74h-11.75zM276.6 764.6h11.75v11.74h-11.75zM382.3 764.6h11.75v11.74h-11.75zM417.6 764.6h11.75v11.74h-11.75zM523.3 764.6h11.75v11.74h-11.75zM335.4 788.1h11.75v11.74h-11.75zM523.3 788.1h11.75v11.74h-11.75zM593.8 788.1h11.75v11.74h-11.75zM288.4 799.8h11.75v11.74h-11.75zM687.7 799.8h11.75v11.74h-11.75zM288.4 811.5h11.75v11.74h-11.75zM394.1 811.5h11.75v11.74h-11.75zM394.1 823.3h11.75v11.74h-11.75zM429.3 823.3h11.75v11.74h-11.75zM476.3 823.3h11.75v11.74h-11.75zM194.4 835.0h11.75v11.74h-11.75zM229.6 835.0h11.75v11.74h-11.75zM311.9 835.0h11.75v11.74h-11.75zM347.1 835.0h11.75v11.74h-11.75zM511.5 835.0h11.75v11.74h-11.75zM570.3 835.0h11.75v11.74h-11.75zM229.6 846.7h11.75v11.74h-11.75zM441.1 846.7h11.75v11.74h-11.75zM464.6 846.7h11.75v11.74h-11.75zM852.2 846.7h11.75v11.74h-11.75zM241.4 858.5h11.75v11.74h-11.75zM405.8 858.5h11.75v11.74h-11.75zM664.3 881.9h11.75v11.74h-11.75zM734.7 893.7h11.75v11.74h-11.75zM323.6 917.2h11.75v11.74h-11.75zM405.8 917.2h11.75v11.74h-11.75zM652.5 917.2h11.75v11.74h-11.75zM217.9 928.9h11.75v11.74h-11.75zM370.6 928.9h11.75v11.74h-11.75zM523.3 928.9h11.75v11.74h-11.75zM535.0 928.9h11.75v11.74h-11.75zM217.9 952.4h11.75v11.74h-11.75zM323.6 952.4h11.75v11.74h-11.75zM405.8 952.4h11.75v11.74h-11.75zM652.5 952.4h11.75v11.74h-11.75zM323.6 964.1h11.75v11.74h-11.75zM358.8 964.1h11.75v11.74h-11.75zM464.6 964.1h11.75v11.74h-11.75zM852.2 964.1h11.75v11.74h-11.75zM875.7 964.1h11.75v11.74h-11.75zM217.9 975.8h11.75v11.74h-11.75zM370.6 975.8h11.75v11.74h-11.75zM405.8 975.8h11.75v11.74h-11.75zM488.1 975.8h11.75v11.74h-11.75zM652.5 975.8h11.75v11.74h-11.75zM217.9 987.6h11.75v11.74h-11.75zM370.6 987.6h11.75v11.74h-11.75zM405.8 987.6h11.75v11.74h-11.75zM488.1 987.6h11.75v11.74h-11.75zM652.5 987.6h11.75v11.74h-11.75zM452.8 1011.0h11.75v11.74h-11.75zM546.8 1011.0h11.75v11.74h-11.75zM711.2 1011.0h11.75v11.74h-11.75zM863.9 1011.0h11.75v11.74h-11.75zM887.4 1011.0h11.75v11.74h-11.75zM981.4 1011.0h11.75v11.74h-11.75zM1016.6 1011.0h11.75v11.74h-11.75zM1040.1 1011.0h11.75v11.74h-11.75zM1051.9 1011.0h11.75v11.74h-11.75zM1122.4 1022.8h11.75v11.74h-11.75zM182.6 1034.5h11.75v11.74h-11.75zM311.9 1034.5h11.75v11.74h-11.75zM452.8 1034.5h11.75v11.74h-11.75zM640.8 1034.5h11.75v11.74h-11.75zM734.7 1034.5h11.75v11.74h-11.75zM957.9 1034.5h11.75v11.74h-11.75zM993.2 1034.5h11.75v11.74h-11.75zM511.5 1046.3h11.75v11.74h-11.75zM957.9 1046.3h11.75v11.74h-11.75zM241.4 1058.0h11.75v11.74h-11.75zM323.6 1058.0h11.75v11.74h-11.75zM382.3 1058.0h11.75v11.74h-11.75zM511.5 1058.0h11.75v11.74h-11.75zM194.4 1069.7h11.75v11.74h-11.75zM323.6 1069.7h11.75v11.74h-11.75zM758.2 1069.7h11.75v11.74h-11.75zM1122.4 1069.7h11.75v11.74h-11.75zM511.5 1081.5h11.75v11.74h-11.75zM593.8 1081.5h11.75v11.74h-11.75zM687.7 1081.5h11.75v11.74h-11.75zM1004.9 1081.5h11.75v11.74h-11.75zM347.1 1093.2h11.75v11.74h-11.75zM382.3 1093.2h11.75v11.74h-11.75zM417.6 1093.2h11.75v11.74h-11.75zM546.8 1093.2h11.75v11.74h-11.75zM817.0 1093.2h11.75v11.74h-11.75zM852.2 1093.2h11.75v11.74h-11.75zM957.9 1093.2h11.75v11.74h-11.75zM1063.6 1093.2h11.75v11.74h-11.75zM852.2 1104.9h11.75v11.74h-11.75zM1204.6 1104.9h11.75v11.74h-11.75zM605.5 1116.7h11.75v11.74h-11.75zM957.9 1116.7h11.75v11.74h-11.75zM323.6 1128.4h11.75v11.74h-11.75zM699.5 1128.4h11.75v11.74h-11.75zM957.9 1128.4h11.75v11.74h-11.75zM347.1 1140.1h11.75v11.74h-11.75zM417.6 1140.1h11.75v11.74h-11.75zM546.8 1140.1h11.75v11.74h-11.75zM817.0 1140.1h11.75v11.74h-11.75zM875.7 1140.1h11.75v11.74h-11.75zM1028.4 1140.1h11.75v11.74h-11.75zM206.1 1151.9h11.75v11.74h-11.75zM264.9 1151.9h11.75v11.74h-11.75zM347.1 1151.9h11.75v11.74h-11.75zM394.1 1151.9h11.75v11.74h-11.75zM429.3 1151.9h11.75v11.74h-11.75zM523.3 1151.9h11.75v11.74h-11.75zM535.0 1151.9h11.75v11.74h-11.75zM558.5 1151.9h11.75v11.74h-11.75zM370.6 1163.6h11.75v11.74h-11.75zM617.3 1163.6h11.75v11.74h-11.75zM734.7 1163.6h11.75v11.74h-11.75zM770.0 1163.6h11.75v11.74h-11.75zM910.9 1163.6h11.75v11.74h-11.75zM1169.3 1163.6h11.75v11.74h-11.75zM476.3 1175.4h11.75v11.74h-11.75zM711.2 1175.4h11.75v11.74h-11.75zM746.5 1175.4h11.75v11.74h-11.75zM863.9 1175.4h11.75v11.74h-11.75zM887.4 1175.4h11.75v11.74h-11.75zM946.2 1175.4h11.75v11.74h-11.75zM981.4 1175.4h11.75v11.74h-11.75zM1016.6 1175.4h11.75v11.74h-11.75zM1051.9 1175.4h11.75v11.74h-11.75zM1134.1 1175.4h11.75v11.74h-11.75zM229.6 1187.1h11.75v11.74h-11.75zM358.8 1187.1h11.75v11.74h-11.75zM1075.4 1187.1h11.75v11.74h-11.75zM1263.3 1187.1h11.75v11.74h-11.75zM194.4 1198.8h11.75v11.74h-11.75zM206.1 1198.8h11.75v11.74h-11.75zM264.9 1198.8h11.75v11.74h-11.75zM582.0 1198.8h11.75v11.74h-11.75zM699.5 1198.8h11.75v11.74h-11.75zM734.7 1198.8h11.75v11.74h-11.75zM934.4 1198.8h11.75v11.74h-11.75zM488.1 1210.6h11.75v11.74h-11.75zM558.5 1210.6h11.75v11.74h-11.75zM969.7 1210.6h11.75v11.74h-11.75z"/>
<path fill="#d9abab" d="M194.4 95.6h11.75v11.74h-11.75zM194.4 107.3h11.75v11.74h-11.75zM217.9 154.3h11.75v11.74h-11.75zM241.4 154.3h11.75v11.74h-11.75zM170.9 166.0h11.75v11.74h-11.75zM194.4 166.0h11.75v11.74h-11.75zM241.4 177.8h11.75v11.74h-11.75zM194.4 189.5h11.75v11.74h-11.75zM194.4 213.0h11.75v11.74h-11.75zM206.1 213.0h11.75v11.74h-11.75zM264.9 213.0h11.75v11.74h-11.75zM241.4 236.4h11.75v11.74h-11.75zM323.6 236.4h11.75v11.74h-11.75zM170.9 248.2h11.75v11.74h-11.75zM288.4 248.2h11.75v11.74h-11.75zM182.6 259.9h11.75v11.74h-11.75zM206.1 259.9h11.75v11.74h-11.75zM276.6 259.9h11.75v11.74h-11.75zM288.4 259.9h11.75v11.74h-11.75zM182.6 271.7h11.75v11.74h-11.75zM264.9 271.7h11.75v11.74h-11.75zM300.1 271.7h11.75v11.74h-11.75zM229.6 283.4h11.75v11.74h-11.75zM253.1 283.4h11.75v11.74h-11.75zM229.6 306.9h11.75v11.74h-11.75zM182.6 342.1h11.75v11.74h-11.75zM311.9 342.1h11.75v11.74h-11.75zM382.3 342.1h11.75v11.74h-11.75zM170.9 353.8h11.75v11.74h-11.75zM288.4 353.8h11.75v11.74h-11.75zM300.1 353.8h11.75v11.74h-11.75zM323.6 353.8h11.75v11.74h-11.75zM229.6 365.5h11.75v11.74h-11.75zM217.9 377.3h11.75v11.74h-11.75zM452.8 377.3h11.75v11.74h-11.75zM417.6 389.0h11.75v11.74h-11.75zM429.3 389.0h11.75v11.74h-11.75zM264.9 400.8h11.75v11.74h-11.75zM370.6 400.8h11.75v11.74h-11.75zM382.3 412.5h11.75v11.74h-11.75zM476.3 412.5h11.75v11.74h-11.75zM488.1 412.5h11.75v11.74h-11.75zM194.4 424.2h11.75v11.74h-11.75zM264.9 424.2h11.75v11.74h-11.75zM194.4 436.0h11.75v11.74h-11.75zM382.3 447.7h11.75v11.74h-11.75zM488.1 447.7h11.75v11.74h-11.75zM194.4 459.4h11.75v11.74h-11.75zM264.9 459.4h11.75v11.74h-11.75zM347.1 459.4h11.75v11.74h-11.75zM370.6 459.4h11.75v11.74h-11.75zM546.8 459.4h11.75v11.74h-11.75zM335.4 471.2h11.75v11.74h-11.75zM405.8 471.2h11.75v11.74h-11.75zM417.6 471.2h11.75v11.74h-11.75zM429.3 471.2h11.75v11.74h-11.75zM476.3 471.2h11.75v11.74h-11.75zM570.3 471.2h11.75v11.74h-11.75zM182.6 482.9h11.75v11.74h-11.75zM300.1 482.9h11.75v11.74h-11.75zM570.3 482.9h11.75v11.74h-11.75zM194.4 494.6h11.75v11.74h-11.75zM229.6 494.6h11.75v11.74h-11.75zM253.1 494.6h11.75v11.74h-11.75zM323.6 494.6h11.75v11.74h-11.75zM347.1 494.6h11.75v11.74h-11.75zM441.1 494.6h11.75v11.74h-11.75zM499.8 494.6h11.75v11.74h-11.75zM217.9 506.4h11.75v11.74h-11.75zM241.4 506.4h11.75v11.74h-11.75zM347.1 506.4h11.75v11.74h-11.75zM546.8 506.4h11.75v11.74h-11.75zM593.8 506.4h11.75v11.74h-11.75zM605.5 506.4h11.75v11.74h-11.75zM323.6 518.1h11.75v11.74h-11.75zM476.3 518.1h11.75v11.74h-11.75zM217.9 529.9h11.75v11.74h-11.75zM570.3 529.9h11.75v11.74h-11.75zM441.1 541.6h11.75v11.74h-11.75zM546.8 541.6h11.75v11.74h-11.75zM182.6 553.3h11.75v11.74h-11.75zM217.9 553.3h11.75v11.74h-11.75zM288.4 553.3h11.75v11.74h-11.75zM405.8 553.3h11.75v11.74h-11.75zM558.5 553.3h11.75v11.74h-11.75zM617.3 553.3h11.75v11.74h-11.75zM652.5 553.3h11.75v11.74h-11.75zM170.9 565.1h11.75v11.74h-11.75zM335.4 565.1h11.75v11.74h-11.75zM382.3 565.1h11.75v11.74h-11.75zM429.3 565.1h11.75v11.74h-11.75zM452.8 565.1h11.75v11.74h-11.75zM170.9 576.8h11.75v11.74h-11.75zM311.9 576.8h11.75v11.74h-11.75zM335.4 576.8h11.75v11.74h-11.75zM452.8 576.8h11.75v11.74h-11.75zM476.3 576.8h11.75v11.74h-11.75zM511.5 576.8h11.75v11.74h-11.75zM570.3 576.8h11.75v11.74h-11.75zM194.4 588.5h11.75v11.74h-11.75zM523.3 588.5h11.75v11.74h-11.75zM535.0 588.5h11.75v11.74h-11.75zM652.5 588.5h11.75v11.74h-11.75zM194.4 600.3h11.75v11.74h-11.75zM570.3 600.3h11.75v11.74h-11.75zM652.5 600.3h11.75v11.74h-11.75zM300.1 612.0h11.75v11.74h-11.75zM358.8 612.0h11.75v11.74h-11.75zM464.6 612.0h11.75v11.74h-11.75zM570.3 612.0h11.75v11.74h-11.75zM182.6 623.7h11.75v11.74h-11.75zM217.9 623.7h11.75v11.74h-11.75zM370.6 623.7h11.75v11.74h-11.75zM382.3 623.7h11.75v11.74h-11.75zM417.6 623.7h11.75v11.74h-11.75zM535.0 623.7h11.75v11.74h-11.75zM570.3 623.7h11.75v11.74h-11.75zM194.4 635.5h11.75v11.74h-11.75zM276.6 635.5h11.75v11.74h-11.75zM335.4 635.5h11.75v11.74h-11.75zM652.5 635.5h11.75v11.74h-11.75zM182.6 647.2h11.75v11.74h-11.75zM300.1 647.2h11.75v11.74h-11.75zM311.9 647.2h11.75v11.74h-11.75zM335.4 647.2h11.75v11.74h-11.75zM452.8 647.2h11.75v11.74h-11.75zM311.9 659.0h11.75v11.74h-11.75zM335.4 659.0h11.75v11.74h-11.75zM417.6 659.0h11.75v11.74h-11.75zM617.3 659.0h11.75v11.74h-11.75zM382.3 670.7h11.75v11.74h-11.75zM417.6 670.7h11.75v11.74h-11.75zM511.5 670.7h11.75v11.74h-11.75zM311.9 682.4h11.75v11.74h-11.75zM335.4 682.4h11.75v11.74h-11.75zM394.1 682.4h11.75v11.74h-11.75zM617.3 682.4h11.75v11.74h-11.75zM429.3 694.2h11.75v11.74h-11.75zM652.5 694.2h11.75v11.74h-11.75zM687.7 694.2h11.75v11.74h-11.75zM358.8 705.9h11.75v11.74h-11.75zM394.1 705.9h11.75v11.74h-11.75zM405.8 705.9h11.75v11.74h-11.75zM429.3 705.9h11.75v11.74h-11.75zM464.6 705.9h11.75v11.74h-11.75zM476.3 705.9h11.75v11.74h-11.75zM676.0 705.9h11.75v11.74h-11.75zM194.4 717.6h11.75v11.74h-11.75zM323.6 717.6h11.75v11.74h-11.75zM335.4 717.6h11.75v11.74h-11.75zM405.8 717.6h11.75v11.74h-11.75zM429.3 717.6h11.75v11.74h-11.75zM182.6 729.4h11.75v11.74h-11.75zM323.6 729.4h11.75v11.74h-11.75zM405.8 729.4h11.75v11.74h-11.75zM605.5 729.4h11.75v11.74h-11.75zM229.6 741.1h11.75v11.74h-11.75zM241.4 741.1h11.75v11.74h-11.75zM264.9 741.1h11.75v11.74h-11.75zM452.8 741.1h11.75v11.74h-11.75zM499.8 741.1h11.75v11.74h-11.75zM652.5 741.1h11.75v11.74h-11.75zM699.5 741.1h11.75v11.74h-11.75zM734.7 741.1h11.75v11.74h-11.75zM758.2 741.1h11.75v11.74h-11.75zM194.4 752.8h11.75v11.74h-11.75zM570.3 752.8h11.75v11.74h-11.75zM652.5 752.8h11.75v11.74h-11.75zM182.6 764.6h11.75v11.74h-11.75zM217.9 764.6h11.75v11.74h-11.75zM358.8 764.6h11.75v11.74h-11.75zM370.6 764.6h11.75v11.74h-11.75zM464.6 764.6h11.75v11.74h-11.75zM570.3 764.6h11.75v11.74h-11.75zM676.0 764.6h11.75v11.74h-11.75zM687.7 764.6h11.75v11.74h-11.75zM194.4 776.3h11.75v11.74h-11.75zM570.3 776.3h11.75v11.74h-11.75zM652.5 776.3h11.75v11.74h-11.75zM217.9 788.1h11.75v11.74h-11.75zM276.6 788.1h11.75v11.74h-11.75zM558.5 788.1h11.75v11.74h-11.75zM570.3 788.1h11.75v11.74h-11.75zM323.6 799.8h11.75v11.74h-11.75zM323.6 811.5h11.75v11.74h-11.75zM335.4 811.5h11.75v11.74h-11.75zM476.3 811.5h11.75v11.74h-11.75zM570.3 811.5h11.75v11.74h-11.75zM194.4 823.3h11.75v11.74h-11.75zM217.9 823.3h11.75v11.74h-11.75zM523.3 823.3h11.75v11.74h-11.75zM617.3 823.3h11.75v11.74h-11.75zM652.5 823.3h11.75v11.74h-11.75zM852.2 823.3h11.75v11.74h-11.75zM300.1 835.0h11.75v11.74h-11.75zM323.6 835.0h11.75v11.74h-11.75zM417.6 835.0h11.75v11.74h-11.75zM476.3 835.0h11.75v11.74h-11.75zM523.3 835.0h11.75v11.74h-11.75zM617.3 835.0h11.75v11.74h-11.75zM311.9 846.7h11.75v11.74h-11.75zM335.4 846.7h11.75v11.74h-11.75zM523.3 846.7h11.75v11.74h-11.75zM652.5 846.7h11.75v11.74h-11.75zM687.7 846.7h11.75v11.74h-11.75zM323.6 858.5h11.75v11.74h-11.75zM194.4 870.2h11.75v11.74h-11.75zM570.3 870.2h11.75v11.74h-11.75zM652.5 870.2h11.75v11.74h-11.75zM182.6 881.9h11.75v11.74h-11.75zM206.1 881.9h11.75v11.74h-11.75zM417.6 881.9h11.75v11.74h-11.75zM511.5 881.9h11.75v11.74h-11.75zM194.4 893.7h11.75v11.74h-11.75zM288.4 893.7h11.75v11.74h-11.75zM570.3 893.7h11.75v11.74h-11.75zM194.4 905.4h11.75v11.74h-11.75zM570.3 905.4h11.75v11.74h-11.75zM652.5 905.4h11.75v11.74h-11.75zM335.4 917.2h11.75v11.74h-11.75zM417.6 917.2h11.75v11.74h-11.75zM476.3 917.2h11.75v11.74h-11.75zM194.4 928.9h11.75v11.74h-11.75zM476.3 928.9h11.75v11.74h-11.75zM194.4 940.6h11.75v11.74h-11.75zM570.3 940.6h11.75v11.74h-11.75zM652.5 940.6h11.75v11.74h-11.75zM335.4 952.4h11.75v11.74h-11.75zM417.6 952.4h11.75v11.74h-11.75zM476.3 952.4h11.75v11.74h-11.75zM276.6 964.1h11.75v11.74h-11.75zM417.6 964.1h11.75v11.74h-11.75zM993.2 964.1h11.75v11.74h-11.75zM276.6 975.8h11.75v11.74h-11.75zM335.4 975.8h11.75v11.74h-11.75zM358.8 975.8h11.75v11.74h-11.75zM417.6 975.8h11.75v11.74h-11.75zM429.3 975.8h11.75v11.74h-11.75zM464.6 975.8h11.75v11.74h-11.75zM676.0 975.8h11.75v11.74h-11.75zM276.6 987.6h11.75v11.74h-11.75zM335.4 987.6h11.75v11.74h-11.75zM358.8 987.6h11.75v11.74h-11.75zM417.6 987.6h11.75v11.74h-11.75zM429.3 987.6h11.75v11.74h-11.75zM464.6 987.6h11.75v11.74h-11.75zM676.0 987.6h11.75v11.74h-11.75zM182.6 999.3h11.75v11.74h-11.75zM370.6 999.3h11.75v11.74h-11.75zM417.6 999.3h11.75v11.74h-11.75zM464.6 999.3h11.75v11.74h-11.75zM511.5 999.3h11.75v11.74h-11.75zM535.0 999.3h11.75v11.74h-11.75zM687.7 999.3h11.75v11.74h-11.75zM323.6 1011.0h11.75v11.74h-11.75zM382.3 1011.0h11.75v11.74h-11.75zM405.8 1011.0h11.75v11.74h-11.75zM617.3 1011.0h11.75v11.74h-11.75zM699.5 1011.0h11.75v11.74h-11.75zM852.2 1011.0h11.75v11.74h-11.75zM934.4 1011.0h11.75v11.74h-11.75zM194.4 1022.8h11.75v11.74h-11.75zM570.3 1022.8h11.75v11.74h-11.75zM652.5 1022.8h11.75v11.74h-11.75zM206.1 1034.5h11.75v11.74h-11.75zM288.4 1034.5h11.75v11.74h-11.75zM558.5 1034.5h11.75v11.74h-11.75zM605.5 1034.5h11.75v11.74h-11.75zM687.7 1034.5h11.75v11.74h-11.75zM182.6 1046.3h11.75v11.74h-11.75zM394.1 1046.3h11.75v11.74h-11.75zM417.6 1046.3h11.75v11.74h-11.75zM429.3 1046.3h11.75v11.74h-11.75zM476.3 1046.3h11.75v11.74h-11.75zM394.1 1058.0h11.75v11.74h-11.75zM405.8 1058.0h11.75v11.74h-11.75zM429.3 1058.0h11.75v11.74h-11.75zM335.4 1069.7h11.75v11.74h-11.75zM394.1 1069.7h11.75v11.74h-11.75zM417.6 1069.7h11.75v11.74h-11.75zM429.3 1069.7h11.75v11.74h-11.75zM476.3 1069.7h11.75v11.74h-11.75zM617.3 1069.7h11.75v11.74h-11.75zM852.2 1069.7h11.75v11.74h-11.75zM358.8 1081.5h11.75v11.74h-11.75zM464.6 1081.5h11.75v11.74h-11.75zM570.3 1081.5h11.75v11.74h-11.75zM617.3 1093.2h11.75v11.74h-11.75zM687.7 1093.2h11.75v11.74h-11.75zM969.7 1093.2h11.75v11.74h-11.75zM1004.9 1093.2h11.75v11.74h-11.75zM276.6 1104.9h11.75v11.74h-11.75zM370.6 1104.9h11.75v11.74h-11.75zM570.3 1104.9h11.75v11.74h-11.75zM264.9 1116.7h11.75v11.74h-11.75zM347.1 1116.7h11.75v11.74h-11.75zM370.6 1116.7h11.75v11.74h-11.75zM452.8 1116.7h11.75v11.74h-11.75zM699.5 1116.7h11.75v11.74h-11.75zM1004.9 1116.7h11.75v11.74h-11.75zM1216.3 1116.7h11.75v11.74h-11.75zM182.6 1128.4h11.75v11.74h-11.75zM605.5 1128.4h11.75v11.74h-11.75zM617.3 1128.4h11.75v11.74h-11.75zM852.2 1128.4h11.75v11.74h-11.75zM194.4 1140.1h11.75v11.74h-11.75zM288.4 1140.1h11.75v11.74h-11.75zM370.6 1140.1h11.75v11.74h-11.75zM910.9 1140.1h11.75v11.74h-11.75zM229.6 1151.9h11.75v11.74h-11.75zM452.8 1151.9h11.75v11.74h-11.75zM511.5 1151.9h11.75v11.74h-11.75zM758.2 1151.9h11.75v11.74h-11.75zM840.4 1151.9h11.75v11.74h-11.75zM1239.8 1151.9h11.75v11.74h-11.75zM182.6 1163.6h11.75v11.74h-11.75zM217.9 1163.6h11.75v11.74h-11.75zM535.0 1163.6h11.75v11.74h-11.75zM558.5 1163.6h11.75v11.74h-11.75zM652.5 1163.6h11.75v11.74h-11.75zM781.7 1163.6h11.75v11.74h-11.75zM1263.3 1163.6h11.75v11.74h-11.75zM358.8 1175.4h11.75v11.74h-11.75zM417.6 1175.4h11.75v11.74h-11.75zM605.5 1175.4h11.75v11.74h-11.75zM217.9 1187.1h11.75v11.74h-11.75zM405.8 1187.1h11.75v11.74h-11.75zM593.8 1187.1h11.75v11.74h-11.75zM676.0 1187.1h11.75v11.74h-11.75zM1004.9 1187.1h11.75v11.74h-11.75zM1145.9 1187.1h11.75v11.74h-11.75zM182.6 1198.8h11.75v11.74h-11.75zM476.3 1198.8h11.75v11.74h-11.75zM511.5 1198.8h11.75v11.74h-11.75zM535.0 1198.8h11.75v11.74h-11.75zM617.3 1198.8h11.75v11.74h-11.75zM629.0 1198.8h11.75v11.74h-11.75zM817.0 1198.8h11.75v11.74h-11.75zM899.2 1198.8h11.75v11.74h-11.75zM1087.1 1198.8h11.75v11.74h-11.75zM1098.9 1198.8h11.75v11.74h-11.75zM1122.4 1198.8h11.75v11.74h-11.75zM1157.6 1198.8h11.75v11.74h-11.75zM1239.8 1198.8h11.75v11.74h-11.75zM264.9 1210.6h11.75v11.74h-11.75zM288.4 1210.6h11.75v11.74h-11.75zM605.5 1210.6h11.75v11.74h-11.75zM711.2 1210.6h11.75v11.74h-11.75zM793.5 1210.6h11.75v11.74h-11.75zM863.9 1210.6h11.75v11.74h-11.75zM887.4 1210.6h11.75v11.74h-11.75zM922.7 1210.6h11.75v11.74h-11.75zM981.4 1210.6h11.75v11.74h-11.75zM993.2 1210.6h11.75v11.74h-11.75zM1016.6 1210.6h11.75v11.74h-11.75zM1051.9 1210.6h11.75v11.74h-11.75zM1063.6 1210.6h11.75v11.74h-11.75zM1134.1 1210.6h11.75v11.74h-11.75z"/>
<path fill="#ffffff" d="M170.9 107.3h11.75v11.74h-11.75zM217.9 119.1h11.75v11.74h-11.75zM217.9 166.0h11.75v11.74h-11.75zM217.9 177.8h11.75v11.74h-11.75zM217.9 189.5h11.75v11.74h-11.75zM217.9 213.0h11.75v11.74h-11.75zM206.1 236.4h11.75v11.74h-11.75zM182.6 248.2h11.75v11.74h-11.75zM170.9 259.9h11.75v11.74h-11.75zM170.9 271.7h11.75v11.74h-11.75zM300.1 283.4h11.75v11.74h-11.75zM229.6 295.1h11.75v11.74h-11.75zM300.1 295.1h11.75v11.74h-11.75zM335.4 295.1h11.75v11.74h-11.75zM394.1 295.1h11.75v11.74h-11.75zM241.4 306.9h11.75v11.74h-11.75zM288.4 306.9h11.75v11.74h-11.75zM206.1 318.6h11.75v11.74h-11.75zM217.9 330.3h11.75v11.74h-11.75zM288.4 330.3h11.75v11.74h-11.75zM405.8 330.3h11.75v11.74h-11.75zM194.4 342.1h11.75v11.74h-11.75zM405.8 342.1h11.75v11.74h-11.75zM182.6 353.8h11.75v11.74h-11.75zM405.8 353.8h11.75v11.74h-11.75zM441.1 365.5h11.75v11.74h-11.75zM217.9 389.0h11.75v11.74h-11.75zM288.4 389.0h11.75v11.74h-11.75zM382.3 389.0h11.75v11.74h-11.75zM452.8 389.0h11.75v11.74h-11.75zM182.6 400.8h11.75v11.74h-11.75zM276.6 400.8h11.75v11.74h-11.75zM358.8 400.8h11.75v11.74h-11.75zM441.1 400.8h11.75v11.74h-11.75zM452.8 400.8h11.75v11.74h-11.75zM476.3 400.8h11.75v11.74h-11.75zM182.6 412.5h11.75v11.74h-11.75zM217.9 412.5h11.75v11.74h-11.75zM300.1 412.5h11.75v11.74h-11.75zM323.6 412.5h11.75v11.74h-11.75zM382.3 424.2h11.75v11.74h-11.75zM311.9 436.0h11.75v11.74h-11.75zM382.3 436.0h11.75v11.74h-11.75zM382.3 459.4h11.75v11.74h-11.75zM217.9 471.2h11.75v11.74h-11.75zM276.6 471.2h11.75v11.74h-11.75zM535.0 471.2h11.75v11.74h-11.75zM229.6 482.9h11.75v11.74h-11.75zM253.1 482.9h11.75v11.74h-11.75zM288.4 482.9h11.75v11.74h-11.75zM499.8 482.9h11.75v11.74h-11.75zM558.5 482.9h11.75v11.74h-11.75zM582.0 482.9h11.75v11.74h-11.75zM264.9 494.6h11.75v11.74h-11.75zM335.4 494.6h11.75v11.74h-11.75zM358.8 506.4h11.75v11.74h-11.75zM370.6 506.4h11.75v11.74h-11.75zM441.1 506.4h11.75v11.74h-11.75zM488.1 518.1h11.75v11.74h-11.75zM499.8 518.1h11.75v11.74h-11.75zM523.3 518.1h11.75v11.74h-11.75zM570.3 518.1h11.75v11.74h-11.75zM300.1 529.9h11.75v11.74h-11.75zM464.6 541.6h11.75v11.74h-11.75zM229.6 553.3h11.75v11.74h-11.75zM358.8 553.3h11.75v11.74h-11.75zM370.6 553.3h11.75v11.74h-11.75zM300.1 565.1h11.75v11.74h-11.75zM511.5 565.1h11.75v11.74h-11.75zM558.5 565.1h11.75v11.74h-11.75zM347.1 576.8h11.75v11.74h-11.75zM417.6 576.8h11.75v11.74h-11.75zM617.3 576.8h11.75v11.74h-11.75zM323.6 588.5h11.75v11.74h-11.75zM558.5 588.5h11.75v11.74h-11.75zM288.4 600.3h11.75v11.74h-11.75zM311.9 600.3h11.75v11.74h-11.75zM323.6 600.3h11.75v11.74h-11.75zM358.8 600.3h11.75v11.74h-11.75zM394.1 600.3h11.75v11.74h-11.75zM464.6 600.3h11.75v11.74h-11.75zM206.1 612.0h11.75v11.74h-11.75zM687.7 623.7h11.75v11.74h-11.75zM217.9 635.5h11.75v11.74h-11.75zM429.3 635.5h11.75v11.74h-11.75zM488.1 635.5h11.75v11.74h-11.75zM523.3 635.5h11.75v11.74h-11.75zM558.5 647.2h11.75v11.74h-11.75zM605.5 647.2h11.75v11.74h-11.75zM405.8 659.0h11.75v11.74h-11.75zM452.8 659.0h11.75v11.74h-11.75zM558.5 659.0h11.75v11.74h-11.75zM217.9 670.7h11.75v11.74h-11.75zM229.6 682.4h11.75v11.74h-11.75zM347.1 682.4h11.75v11.74h-11.75zM441.1 682.4h11.75v11.74h-11.75zM488.1 694.2h11.75v11.74h-11.75zM535.0 694.2h11.75v11.74h-11.75zM617.3 694.2h11.75v11.74h-11.75zM676.0 694.2h11.75v11.74h-11.75zM488.1 705.9h11.75v11.74h-11.75zM253.1 717.6h11.75v11.74h-11.75zM358.8 717.6h11.75v11.74h-11.75zM441.1 717.6h11.75v11.74h-11.75zM523.3 717.6h11.75v11.74h-11.75zM593.8 717.6h11.75v11.74h-11.75zM194.4 741.1h11.75v11.74h-11.75zM358.8 741.1h11.75v11.74h-11.75zM382.3 741.1h11.75v11.74h-11.75zM429.3 741.1h11.75v11.74h-11.75zM464.6 741.1h11.75v11.74h-11.75zM535.0 741.1h11.75v11.74h-11.75zM288.4 752.8h11.75v11.74h-11.75zM311.9 752.8h11.75v11.74h-11.75zM323.6 752.8h11.75v11.74h-11.75zM358.8 752.8h11.75v11.74h-11.75zM394.1 752.8h11.75v11.74h-11.75zM464.6 752.8h11.75v11.74h-11.75zM558.5 752.8h11.75v11.74h-11.75zM241.4 764.6h11.75v11.74h-11.75zM652.5 764.6h11.75v11.74h-11.75zM288.4 776.3h11.75v11.74h-11.75zM311.9 776.3h11.75v11.74h-11.75zM323.6 776.3h11.75v11.74h-11.75zM358.8 776.3h11.75v11.74h-11.75zM394.1 776.3h11.75v11.74h-11.75zM464.6 776.3h11.75v11.74h-11.75zM558.5 776.3h11.75v11.74h-11.75zM264.9 788.1h11.75v11.74h-11.75zM370.6 788.1h11.75v11.74h-11.75zM394.1 788.1h11.75v11.74h-11.75zM405.8 788.1h11.75v11.74h-11.75zM417.6 788.1h11.75v11.74h-11.75zM429.3 788.1h11.75v11.74h-11.75zM217.9 799.8h11.75v11.74h-11.75zM347.1 799.8h11.75v11.74h-11.75zM429.3 799.8h11.75v11.74h-11.75zM488.1 799.8h11.75v11.74h-11.75zM535.0 799.8h11.75v11.74h-11.75zM347.1 811.5h11.75v11.74h-11.75zM511.5 811.5h11.75v11.74h-11.75zM229.6 823.3h11.75v11.74h-11.75zM253.1 823.3h11.75v11.74h-11.75zM276.6 823.3h11.75v11.74h-11.75zM323.6 823.3h11.75v11.74h-11.75zM558.5 823.3h11.75v11.74h-11.75zM593.8 823.3h11.75v11.74h-11.75zM276.6 835.0h11.75v11.74h-11.75zM441.1 835.0h11.75v11.74h-11.75zM499.8 835.0h11.75v11.74h-11.75zM781.7 835.0h11.75v11.74h-11.75zM276.6 846.7h11.75v11.74h-11.75zM347.1 846.7h11.75v11.74h-11.75zM358.8 846.7h11.75v11.74h-11.75zM417.6 846.7h11.75v11.74h-11.75zM488.1 846.7h11.75v11.74h-11.75zM570.3 846.7h11.75v11.74h-11.75zM664.3 846.7h11.75v11.74h-11.75zM676.0 858.5h11.75v11.74h-11.75zM687.7 858.5h11.75v11.74h-11.75zM288.4 870.2h11.75v11.74h-11.75zM311.9 870.2h11.75v11.74h-11.75zM323.6 870.2h11.75v11.74h-11.75zM358.8 870.2h11.75v11.74h-11.75zM394.1 870.2h11.75v11.74h-11.75zM464.6 870.2h11.75v11.74h-11.75zM558.5 870.2h11.75v11.74h-11.75zM535.0 881.9h11.75v11.74h-11.75zM676.0 881.9h11.75v11.74h-11.75zM523.3 893.7h11.75v11.74h-11.75zM723.0 893.7h11.75v11.74h-11.75zM781.7 893.7h11.75v11.74h-11.75zM288.4 905.4h11.75v11.74h-11.75zM311.9 905.4h11.75v11.74h-11.75zM323.6 905.4h11.75v11.74h-11.75zM358.8 905.4h11.75v11.74h-11.75zM394.1 905.4h11.75v11.74h-11.75zM464.6 905.4h11.75v11.74h-11.75zM558.5 905.4h11.75v11.74h-11.75zM253.1 928.9h11.75v11.74h-11.75zM311.9 928.9h11.75v11.74h-11.75zM382.3 928.9h11.75v11.74h-11.75zM441.1 928.9h11.75v11.74h-11.75zM288.4 940.6h11.75v11.74h-11.75zM311.9 940.6h11.75v11.74h-11.75zM323.6 940.6h11.75v11.74h-11.75zM358.8 940.6h11.75v11.74h-11.75zM394.1 940.6h11.75v11.74h-11.75zM464.6 940.6h11.75v11.74h-11.75zM535.0 940.6h11.75v11.74h-11.75zM558.5 940.6h11.75v11.74h-11.75zM206.1 952.4h11.75v11.74h-11.75zM194.4 964.1h11.75v11.74h-11.75zM253.1 964.1h11.75v11.74h-11.75zM264.9 964.1h11.75v11.74h-11.75zM335.4 964.1h11.75v11.74h-11.75zM405.8 964.1h11.75v11.74h-11.75zM476.3 964.1h11.75v11.74h-11.75zM617.3 964.1h11.75v11.74h-11.75zM640.8 964.1h11.75v11.74h-11.75zM206.1 975.8h11.75v11.74h-11.75zM382.3 975.8h11.75v11.74h-11.75zM558.5 975.8h11.75v11.74h-11.75zM206.1 987.6h11.75v11.74h-11.75zM382.3 987.6h11.75v11.74h-11.75zM558.5 987.6h11.75v11.74h-11.75zM323.6 999.3h11.75v11.74h-11.75zM652.5 999.3h11.75v11.74h-11.75zM370.6 1011.0h11.75v11.74h-11.75zM511.5 1011.0h11.75v11.74h-11.75zM593.8 1011.0h11.75v11.74h-11.75zM746.5 1011.0h11.75v11.74h-11.75zM828.7 1011.0h11.75v11.74h-11.75zM875.7 1011.0h11.75v11.74h-11.75zM922.7 1011.0h11.75v11.74h-11.75zM1075.4 1011.0h11.75v11.74h-11.75zM288.4 1022.8h11.75v11.74h-11.75zM311.9 1022.8h11.75v11.74h-11.75zM323.6 1022.8h11.75v11.74h-11.75zM358.8 1022.8h11.75v11.74h-11.75zM394.1 1022.8h11.75v11.74h-11.75zM464.6 1022.8h11.75v11.74h-11.75zM558.5 1022.8h11.75v11.74h-11.75zM194.4 1034.5h11.75v11.74h-11.75zM264.9 1034.5h11.75v11.74h-11.75zM429.3 1034.5h11.75v11.74h-11.75zM875.7 1034.5h11.75v11.74h-11.75zM382.3 1046.3h11.75v11.74h-11.75zM629.0 1046.3h11.75v11.74h-11.75zM699.5 1046.3h11.75v11.74h-11.75zM946.2 1046.3h11.75v11.74h-11.75zM676.0 1058.0h11.75v11.74h-11.75zM276.6 1069.7h11.75v11.74h-11.75zM405.8 1069.7h11.75v11.74h-11.75zM523.3 1069.7h11.75v11.74h-11.75zM652.5 1069.7h11.75v11.74h-11.75zM206.1 1081.5h11.75v11.74h-11.75zM241.4 1081.5h11.75v11.74h-11.75zM370.6 1081.5h11.75v11.74h-11.75zM382.3 1081.5h11.75v11.74h-11.75zM664.3 1081.5h11.75v11.74h-11.75zM676.0 1081.5h11.75v11.74h-11.75zM217.9 1093.2h11.75v11.74h-11.75zM593.8 1093.2h11.75v11.74h-11.75zM711.2 1093.2h11.75v11.74h-11.75zM863.9 1093.2h11.75v11.74h-11.75zM887.4 1093.2h11.75v11.74h-11.75zM981.4 1093.2h11.75v11.74h-11.75zM1016.6 1093.2h11.75v11.74h-11.75zM1028.4 1093.2h11.75v11.74h-11.75zM1051.9 1093.2h11.75v11.74h-11.75zM1134.1 1093.2h11.75v11.74h-11.75zM1192.8 1093.2h11.75v11.74h-11.75zM241.4 1104.9h11.75v11.74h-11.75zM382.3 1104.9h11.75v11.74h-11.75zM605.5 1104.9h11.75v11.74h-11.75zM676.0 1104.9h11.75v11.74h-11.75zM758.2 1104.9h11.75v11.74h-11.75zM382.3 1116.7h11.75v11.74h-11.75zM217.9 1128.4h11.75v11.74h-11.75zM300.1 1128.4h11.75v11.74h-11.75zM370.6 1128.4h11.75v11.74h-11.75zM511.5 1128.4h11.75v11.74h-11.75zM593.8 1128.4h11.75v11.74h-11.75zM664.3 1128.4h11.75v11.74h-11.75zM934.4 1128.4h11.75v11.74h-11.75zM946.2 1128.4h11.75v11.74h-11.75zM452.8 1140.1h11.75v11.74h-11.75zM582.0 1140.1h11.75v11.74h-11.75zM617.3 1140.1h11.75v11.74h-11.75zM711.2 1140.1h11.75v11.74h-11.75zM863.9 1140.1h11.75v11.74h-11.75zM887.4 1140.1h11.75v11.74h-11.75zM899.2 1140.1h11.75v11.74h-11.75zM981.4 1140.1h11.75v11.74h-11.75zM1004.9 1140.1h11.75v11.74h-11.75zM1016.6 1140.1h11.75v11.74h-11.75zM1051.9 1140.1h11.75v11.74h-11.75zM1134.1 1140.1h11.75v11.74h-11.75zM311.9 1151.9h11.75v11.74h-11.75zM1204.6 1151.9h11.75v11.74h-11.75zM1251.6 1151.9h11.75v11.74h-11.75zM405.8 1163.6h11.75v11.74h-11.75zM723.0 1163.6h11.75v11.74h-11.75zM805.2 1163.6h11.75v11.74h-11.75zM852.2 1163.6h11.75v11.74h-11.75zM229.6 1175.4h11.75v11.74h-11.75zM241.4 1175.4h11.75v11.74h-11.75zM253.1 1175.4h11.75v11.74h-11.75zM499.8 1175.4h11.75v11.74h-11.75zM617.3 1175.4h11.75v11.74h-11.75zM676.0 1175.4h11.75v11.74h-11.75zM969.7 1175.4h11.75v11.74h-11.75zM1075.4 1175.4h11.75v11.74h-11.75zM1263.3 1175.4h11.75v11.74h-11.75zM300.1 1187.1h11.75v11.74h-11.75zM464.6 1187.1h11.75v11.74h-11.75zM511.5 1187.1h11.75v11.74h-11.75zM523.3 1187.1h11.75v11.74h-11.75zM664.3 1187.1h11.75v11.74h-11.75zM288.4 1198.8h11.75v11.74h-11.75zM335.4 1198.8h11.75v11.74h-11.75zM382.3 1198.8h11.75v11.74h-11.75zM417.6 1198.8h11.75v11.74h-11.75zM746.5 1198.8h11.75v11.74h-11.75zM758.2 1198.8h11.75v11.74h-11.75zM828.7 1198.8h11.75v11.74h-11.75zM969.7 1198.8h11.75v11.74h-11.75zM1040.1 1198.8h11.75v11.74h-11.75zM1063.6 1198.8h11.75v11.74h-11.75zM1192.8 1198.8h11.75v11.74h-11.75zM1263.3 1198.8h11.75v11.74h-11.75zM1275.1 1198.8h11.75v11.74h-11.75zM511.5 1210.6h11.75v11.74h-11.75zM781.7 1210.6h11.75v11.74h-11.75zM805.2 1210.6h11.75v11.74h-11.75zM840.4 1210.6h11.75v11.74h-11.75zM1169.3 1210.6h11.75v11.74h-11.75zM1263.3 1210.6h11.75v11.74h-11.75zM1310.3 1210.6h11.75v11.74h-11.75z"/>
<path fill="#b1b1ce" d="M182.6 107.3h11.75v11.74h-11.75zM170.9 154.3h11.75v11.74h-11.75zM170.9 177.8h11.75v11.74h-11.75zM229.6 177.8h11.75v11.74h-11.75zM182.6 189.5h11.75v11.74h-11.75zM253.1 189.5h11.75v11.74h-11.75zM182.6 201.2h11.75v11.74h-11.75zM276.6 201.2h11.75v11.74h-11.75zM253.1 213.0h11.75v11.74h-11.75zM311.9 213.0h11.75v11.74h-11.75zM241.4 271.7h11.75v11.74h-11.75zM311.9 271.7h11.75v11.74h-11.75zM323.6 271.7h11.75v11.74h-11.75zM335.4 271.7h11.75v11.74h-11.75zM182.6 283.4h11.75v11.74h-11.75zM241.4 283.4h11.75v11.74h-11.75zM217.9 318.6h11.75v11.74h-11.75zM241.4 318.6h11.75v11.74h-11.75zM323.6 318.6h11.75v11.74h-11.75zM170.9 330.3h11.75v11.74h-11.75zM194.4 330.3h11.75v11.74h-11.75zM370.6 330.3h11.75v11.74h-11.75zM417.6 353.8h11.75v11.74h-11.75zM405.8 365.5h11.75v11.74h-11.75zM194.4 389.0h11.75v11.74h-11.75zM264.9 389.0h11.75v11.74h-11.75zM311.9 400.8h11.75v11.74h-11.75zM335.4 400.8h11.75v11.74h-11.75zM394.1 400.8h11.75v11.74h-11.75zM182.6 424.2h11.75v11.74h-11.75zM300.1 424.2h11.75v11.74h-11.75zM394.1 424.2h11.75v11.74h-11.75zM417.6 424.2h11.75v11.74h-11.75zM429.3 424.2h11.75v11.74h-11.75zM476.3 424.2h11.75v11.74h-11.75zM511.5 424.2h11.75v11.74h-11.75zM241.4 436.0h11.75v11.74h-11.75zM523.3 447.7h11.75v11.74h-11.75zM417.6 459.4h11.75v11.74h-11.75zM476.3 459.4h11.75v11.74h-11.75zM241.4 471.2h11.75v11.74h-11.75zM394.1 482.9h11.75v11.74h-11.75zM405.8 482.9h11.75v11.74h-11.75zM170.9 494.6h11.75v11.74h-11.75zM206.1 494.6h11.75v11.74h-11.75zM276.6 494.6h11.75v11.74h-11.75zM405.8 494.6h11.75v11.74h-11.75zM429.3 494.6h11.75v11.74h-11.75zM452.8 494.6h11.75v11.74h-11.75zM488.1 494.6h11.75v11.74h-11.75zM582.0 494.6h11.75v11.74h-11.75zM335.4 506.4h11.75v11.74h-11.75zM382.3 506.4h11.75v11.74h-11.75zM241.4 518.1h11.75v11.74h-11.75zM288.4 518.1h11.75v11.74h-11.75zM300.1 518.1h11.75v11.74h-11.75zM605.5 518.1h11.75v11.74h-11.75zM523.3 529.9h11.75v11.74h-11.75zM546.8 529.9h11.75v11.74h-11.75zM288.4 541.6h11.75v11.74h-11.75zM300.1 553.3h11.75v11.74h-11.75zM382.3 553.3h11.75v11.74h-11.75zM394.1 553.3h11.75v11.74h-11.75zM605.5 553.3h11.75v11.74h-11.75zM347.1 565.1h11.75v11.74h-11.75zM182.6 576.8h11.75v11.74h-11.75zM229.6 576.8h11.75v11.74h-11.75zM253.1 576.8h11.75v11.74h-11.75zM288.4 576.8h11.75v11.74h-11.75zM523.3 576.8h11.75v11.74h-11.75zM652.5 576.8h11.75v11.74h-11.75zM300.1 588.5h11.75v11.74h-11.75zM488.1 588.5h11.75v11.74h-11.75zM640.8 588.5h11.75v11.74h-11.75zM370.6 600.3h11.75v11.74h-11.75zM382.3 600.3h11.75v11.74h-11.75zM593.8 600.3h11.75v11.74h-11.75zM640.8 600.3h11.75v11.74h-11.75zM194.4 612.0h11.75v11.74h-11.75zM229.6 612.0h11.75v11.74h-11.75zM452.8 612.0h11.75v11.74h-11.75zM499.8 612.0h11.75v11.74h-11.75zM523.3 612.0h11.75v11.74h-11.75zM664.3 612.0h11.75v11.74h-11.75zM229.6 623.7h11.75v11.74h-11.75zM300.1 623.7h11.75v11.74h-11.75zM405.8 623.7h11.75v11.74h-11.75zM652.5 623.7h11.75v11.74h-11.75zM711.2 623.7h11.75v11.74h-11.75zM229.6 635.5h11.75v11.74h-11.75zM241.4 635.5h11.75v11.74h-11.75zM300.1 635.5h11.75v11.74h-11.75zM370.6 635.5h11.75v11.74h-11.75zM382.3 635.5h11.75v11.74h-11.75zM441.1 635.5h11.75v11.74h-11.75zM499.8 635.5h11.75v11.74h-11.75zM593.8 635.5h11.75v11.74h-11.75zM640.8 635.5h11.75v11.74h-11.75zM194.4 647.2h11.75v11.74h-11.75zM264.9 647.2h11.75v11.74h-11.75zM323.6 647.2h11.75v11.74h-11.75zM535.0 647.2h11.75v11.74h-11.75zM593.8 647.2h11.75v11.74h-11.75zM676.0 647.2h11.75v11.74h-11.75zM711.2 647.2h11.75v11.74h-11.75zM723.0 647.2h11.75v11.74h-11.75zM746.5 647.2h11.75v11.74h-11.75zM582.0 659.0h11.75v11.74h-11.75zM699.5 659.0h11.75v11.74h-11.75zM405.8 670.7h11.75v11.74h-11.75zM452.8 670.7h11.75v11.74h-11.75zM558.5 670.7h11.75v11.74h-11.75zM676.0 670.7h11.75v11.74h-11.75zM711.2 670.7h11.75v11.74h-11.75zM723.0 670.7h11.75v11.74h-11.75zM170.9 682.4h11.75v11.74h-11.75zM488.1 682.4h11.75v11.74h-11.75zM734.7 682.4h11.75v11.74h-11.75zM194.4 694.2h11.75v11.74h-11.75zM347.1 694.2h11.75v11.74h-11.75zM382.3 694.2h11.75v11.74h-11.75zM405.8 694.2h11.75v11.74h-11.75zM452.8 694.2h11.75v11.74h-11.75zM229.6 705.9h11.75v11.74h-11.75zM253.1 705.9h11.75v11.74h-11.75zM264.9 705.9h11.75v11.74h-11.75zM441.1 705.9h11.75v11.74h-11.75zM605.5 705.9h11.75v11.74h-11.75zM206.1 717.6h11.75v11.74h-11.75zM558.5 717.6h11.75v11.74h-11.75zM640.8 717.6h11.75v11.74h-11.75zM734.7 717.6h11.75v11.74h-11.75zM676.0 729.4h11.75v11.74h-11.75zM206.1 741.1h11.75v11.74h-11.75zM300.1 741.1h11.75v11.74h-11.75zM311.9 741.1h11.75v11.74h-11.75zM488.1 741.1h11.75v11.74h-11.75zM370.6 752.8h11.75v11.74h-11.75zM382.3 752.8h11.75v11.74h-11.75zM593.8 752.8h11.75v11.74h-11.75zM640.8 752.8h11.75v11.74h-11.75zM734.7 752.8h11.75v11.74h-11.75zM758.2 752.8h11.75v11.74h-11.75zM781.7 752.8h11.75v11.74h-11.75zM253.1 764.6h11.75v11.74h-11.75zM405.8 764.6h11.75v11.74h-11.75zM605.5 764.6h11.75v11.74h-11.75zM723.0 764.6h11.75v11.74h-11.75zM840.4 764.6h11.75v11.74h-11.75zM370.6 776.3h11.75v11.74h-11.75zM382.3 776.3h11.75v11.74h-11.75zM593.8 776.3h11.75v11.74h-11.75zM640.8 776.3h11.75v11.74h-11.75zM734.7 776.3h11.75v11.74h-11.75zM758.2 776.3h11.75v11.74h-11.75zM781.7 776.3h11.75v11.74h-11.75zM323.6 788.1h11.75v11.74h-11.75zM382.3 788.1h11.75v11.74h-11.75zM441.1 788.1h11.75v11.74h-11.75zM499.8 788.1h11.75v11.74h-11.75zM511.5 788.1h11.75v11.74h-11.75zM535.0 788.1h11.75v11.74h-11.75zM723.0 788.1h11.75v11.74h-11.75zM734.7 788.1h11.75v11.74h-11.75zM781.7 788.1h11.75v11.74h-11.75zM793.5 788.1h11.75v11.74h-11.75zM229.6 799.8h11.75v11.74h-11.75zM253.1 799.8h11.75v11.74h-11.75zM264.9 799.8h11.75v11.74h-11.75zM441.1 799.8h11.75v11.74h-11.75zM558.5 799.8h11.75v11.74h-11.75zM582.0 799.8h11.75v11.74h-11.75zM734.7 799.8h11.75v11.74h-11.75zM781.7 799.8h11.75v11.74h-11.75zM828.7 799.8h11.75v11.74h-11.75zM840.4 799.8h11.75v11.74h-11.75zM899.2 799.8h11.75v11.74h-11.75zM488.1 811.5h11.75v11.74h-11.75zM593.8 811.5h11.75v11.74h-11.75zM734.7 811.5h11.75v11.74h-11.75zM758.2 811.5h11.75v11.74h-11.75zM206.1 823.3h11.75v11.74h-11.75zM300.1 823.3h11.75v11.74h-11.75zM488.1 823.3h11.75v11.74h-11.75zM640.8 823.3h11.75v11.74h-11.75zM170.9 835.0h11.75v11.74h-11.75zM206.1 835.0h11.75v11.74h-11.75zM558.5 835.0h11.75v11.74h-11.75zM582.0 835.0h11.75v11.74h-11.75zM640.8 835.0h11.75v11.74h-11.75zM194.4 846.7h11.75v11.74h-11.75zM206.1 846.7h11.75v11.74h-11.75zM452.8 846.7h11.75v11.74h-11.75zM546.8 846.7h11.75v11.74h-11.75zM711.2 846.7h11.75v11.74h-11.75zM746.5 846.7h11.75v11.74h-11.75zM781.7 846.7h11.75v11.74h-11.75zM863.9 846.7h11.75v11.74h-11.75zM887.4 846.7h11.75v11.74h-11.75zM899.2 846.7h11.75v11.74h-11.75zM910.9 846.7h11.75v11.74h-11.75zM922.7 846.7h11.75v11.74h-11.75zM288.4 858.5h11.75v11.74h-11.75zM593.8 858.5h11.75v11.74h-11.75zM758.2 858.5h11.75v11.74h-11.75zM946.2 858.5h11.75v11.74h-11.75zM370.6 870.2h11.75v11.74h-11.75zM382.3 870.2h11.75v11.74h-11.75zM593.8 870.2h11.75v11.74h-11.75zM640.8 870.2h11.75v11.74h-11.75zM734.7 870.2h11.75v11.74h-11.75zM758.2 870.2h11.75v11.74h-11.75zM781.7 870.2h11.75v11.74h-11.75zM957.9 870.2h11.75v11.74h-11.75zM194.4 881.9h11.75v11.74h-11.75zM300.1 881.9h11.75v11.74h-11.75zM499.8 881.9h11.75v11.74h-11.75zM523.3 881.9h11.75v11.74h-11.75zM593.8 881.9h11.75v11.74h-11.75zM699.5 881.9h11.75v11.74h-11.75zM805.2 881.9h11.75v11.74h-11.75zM840.4 881.9h11.75v11.74h-11.75zM863.9 881.9h11.75v11.74h-11.75zM887.4 881.9h11.75v11.74h-11.75zM899.2 881.9h11.75v11.74h-11.75zM910.9 881.9h11.75v11.74h-11.75zM922.7 881.9h11.75v11.74h-11.75zM934.4 881.9h11.75v11.74h-11.75zM981.4 881.9h11.75v11.74h-11.75zM170.9 893.7h11.75v11.74h-11.75zM253.1 893.7h11.75v11.74h-11.75zM311.9 893.7h11.75v11.74h-11.75zM370.6 893.7h11.75v11.74h-11.75zM394.1 893.7h11.75v11.74h-11.75zM429.3 893.7h11.75v11.74h-11.75zM499.8 893.7h11.75v11.74h-11.75zM535.0 893.7h11.75v11.74h-11.75zM793.5 893.7h11.75v11.74h-11.75zM910.9 893.7h11.75v11.74h-11.75zM370.6 905.4h11.75v11.74h-11.75zM382.3 905.4h11.75v11.74h-11.75zM593.8 905.4h11.75v11.74h-11.75zM640.8 905.4h11.75v11.74h-11.75zM734.7 905.4h11.75v11.74h-11.75zM758.2 905.4h11.75v11.74h-11.75zM781.7 905.4h11.75v11.74h-11.75zM957.9 905.4h11.75v11.74h-11.75zM993.2 905.4h11.75v11.74h-11.75zM229.6 917.2h11.75v11.74h-11.75zM241.4 917.2h11.75v11.74h-11.75zM253.1 917.2h11.75v11.74h-11.75zM300.1 917.2h11.75v11.74h-11.75zM347.1 917.2h11.75v11.74h-11.75zM499.8 917.2h11.75v11.74h-11.75zM511.5 917.2h11.75v11.74h-11.75zM300.1 928.9h11.75v11.74h-11.75zM347.1 928.9h11.75v11.74h-11.75zM511.5 928.9h11.75v11.74h-11.75zM770.0 928.9h11.75v11.74h-11.75zM781.7 928.9h11.75v11.74h-11.75zM793.5 928.9h11.75v11.74h-11.75zM1004.9 928.9h11.75v11.74h-11.75zM370.6 940.6h11.75v11.74h-11.75zM382.3 940.6h11.75v11.74h-11.75zM593.8 940.6h11.75v11.74h-11.75zM640.8 940.6h11.75v11.74h-11.75zM734.7 940.6h11.75v11.74h-11.75zM758.2 940.6h11.75v11.74h-11.75zM781.7 940.6h11.75v11.74h-11.75zM957.9 940.6h11.75v11.74h-11.75zM993.2 940.6h11.75v11.74h-11.75zM229.6 952.4h11.75v11.74h-11.75zM241.4 952.4h11.75v11.74h-11.75zM253.1 952.4h11.75v11.74h-11.75zM300.1 952.4h11.75v11.74h-11.75zM347.1 952.4h11.75v11.74h-11.75zM441.1 952.4h11.75v11.74h-11.75zM511.5 952.4h11.75v11.74h-11.75zM499.8 964.1h11.75v11.74h-11.75zM546.8 964.1h11.75v11.74h-11.75zM605.5 964.1h11.75v11.74h-11.75zM723.0 964.1h11.75v11.74h-11.75zM746.5 964.1h11.75v11.74h-11.75zM840.4 964.1h11.75v11.74h-11.75zM899.2 964.1h11.75v11.74h-11.75zM957.9 964.1h11.75v11.74h-11.75zM1051.9 964.1h11.75v11.74h-11.75zM1063.6 964.1h11.75v11.74h-11.75zM229.6 975.8h11.75v11.74h-11.75zM253.1 975.8h11.75v11.74h-11.75zM288.4 975.8h11.75v11.74h-11.75zM441.1 975.8h11.75v11.74h-11.75zM499.8 975.8h11.75v11.74h-11.75zM511.5 975.8h11.75v11.74h-11.75zM605.5 975.8h11.75v11.74h-11.75zM910.9 975.8h11.75v11.74h-11.75zM946.2 975.8h11.75v11.74h-11.75zM229.6 987.6h11.75v11.74h-11.75zM253.1 987.6h11.75v11.74h-11.75zM288.4 987.6h11.75v11.74h-11.75zM441.1 987.6h11.75v11.74h-11.75zM499.8 987.6h11.75v11.74h-11.75zM511.5 987.6h11.75v11.74h-11.75zM605.5 987.6h11.75v11.74h-11.75zM793.5 987.6h11.75v11.74h-11.75zM840.4 987.6h11.75v11.74h-11.75zM910.9 987.6h11.75v11.74h-11.75zM946.2 987.6h11.75v11.74h-11.75zM170.9 999.3h11.75v11.74h-11.75zM253.1 999.3h11.75v11.74h-11.75zM546.8 999.3h11.75v11.74h-11.75zM558.5 999.3h11.75v11.74h-11.75zM582.0 999.3h11.75v11.74h-11.75zM617.3 999.3h11.75v11.74h-11.75zM723.0 999.3h11.75v11.74h-11.75zM793.5 999.3h11.75v11.74h-11.75zM817.0 999.3h11.75v11.74h-11.75zM828.7 999.3h11.75v11.74h-11.75zM863.9 999.3h11.75v11.74h-11.75zM887.4 999.3h11.75v11.74h-11.75zM922.7 999.3h11.75v11.74h-11.75zM946.2 999.3h11.75v11.74h-11.75zM969.7 999.3h11.75v11.74h-11.75zM981.4 999.3h11.75v11.74h-11.75zM1004.9 999.3h11.75v11.74h-11.75zM1016.6 999.3h11.75v11.74h-11.75zM1028.4 999.3h11.75v11.74h-11.75zM1051.9 999.3h11.75v11.74h-11.75zM1063.6 999.3h11.75v11.74h-11.75zM1075.4 999.3h11.75v11.74h-11.75zM1087.1 999.3h11.75v11.74h-11.75zM1098.9 999.3h11.75v11.74h-11.75zM734.7 1011.0h11.75v11.74h-11.75zM910.9 1011.0h11.75v11.74h-11.75zM370.6 1022.8h11.75v11.74h-11.75zM382.3 1022.8h11.75v11.74h-11.75zM593.8 1022.8h11.75v11.74h-11.75zM640.8 1022.8h11.75v11.74h-11.75zM734.7 1022.8h11.75v11.74h-11.75zM758.2 1022.8h11.75v11.74h-11.75zM781.7 1022.8h11.75v11.74h-11.75zM957.9 1022.8h11.75v11.74h-11.75zM1110.6 1022.8h11.75v11.74h-11.75zM370.6 1034.5h11.75v11.74h-11.75zM382.3 1034.5h11.75v11.74h-11.75zM511.5 1034.5h11.75v11.74h-11.75zM546.8 1034.5h11.75v11.74h-11.75zM711.2 1034.5h11.75v11.74h-11.75zM746.5 1034.5h11.75v11.74h-11.75zM863.9 1034.5h11.75v11.74h-11.75zM887.4 1034.5h11.75v11.74h-11.75zM969.7 1034.5h11.75v11.74h-11.75zM981.4 1034.5h11.75v11.74h-11.75zM1016.6 1034.5h11.75v11.74h-11.75zM1028.4 1034.5h11.75v11.74h-11.75zM1051.9 1034.5h11.75v11.74h-11.75zM1063.6 1034.5h11.75v11.74h-11.75zM1087.1 1034.5h11.75v11.74h-11.75zM1098.9 1034.5h11.75v11.74h-11.75zM1134.1 1034.5h11.75v11.74h-11.75zM194.4 1046.3h11.75v11.74h-11.75zM264.9 1046.3h11.75v11.74h-11.75zM323.6 1046.3h11.75v11.74h-11.75zM347.1 1046.3h11.75v11.74h-11.75zM370.6 1046.3h11.75v11.74h-11.75zM546.8 1046.3h11.75v11.74h-11.75zM582.0 1046.3h11.75v11.74h-11.75zM593.8 1046.3h11.75v11.74h-11.75zM640.8 1046.3h11.75v11.74h-11.75zM687.7 1046.3h11.75v11.74h-11.75zM711.2 1046.3h11.75v11.74h-11.75zM723.0 1046.3h11.75v11.74h-11.75zM734.7 1046.3h11.75v11.74h-11.75zM863.9 1046.3h11.75v11.74h-11.75zM887.4 1046.3h11.75v11.74h-11.75zM899.2 1046.3h11.75v11.74h-11.75zM922.7 1046.3h11.75v11.74h-11.75zM981.4 1046.3h11.75v11.74h-11.75zM1004.9 1046.3h11.75v11.74h-11.75zM1016.6 1046.3h11.75v11.74h-11.75zM1040.1 1046.3h11.75v11.74h-11.75zM1051.9 1046.3h11.75v11.74h-11.75zM288.4 1058.0h11.75v11.74h-11.75zM523.3 1058.0h11.75v11.74h-11.75zM558.5 1058.0h11.75v11.74h-11.75zM605.5 1058.0h11.75v11.74h-11.75zM629.0 1058.0h11.75v11.74h-11.75zM793.5 1058.0h11.75v11.74h-11.75zM840.4 1058.0h11.75v11.74h-11.75zM946.2 1058.0h11.75v11.74h-11.75zM1110.6 1058.0h11.75v11.74h-11.75zM1145.9 1058.0h11.75v11.74h-11.75zM206.1 1069.7h11.75v11.74h-11.75zM241.4 1069.7h11.75v11.74h-11.75zM264.9 1069.7h11.75v11.74h-11.75zM288.4 1069.7h11.75v11.74h-11.75zM770.0 1069.7h11.75v11.74h-11.75zM840.4 1069.7h11.75v11.74h-11.75zM910.9 1069.7h11.75v11.74h-11.75zM170.9 1081.5h11.75v11.74h-11.75zM229.6 1081.5h11.75v11.74h-11.75zM452.8 1081.5h11.75v11.74h-11.75zM499.8 1081.5h11.75v11.74h-11.75zM523.3 1081.5h11.75v11.74h-11.75zM582.0 1081.5h11.75v11.74h-11.75zM699.5 1081.5h11.75v11.74h-11.75zM711.2 1081.5h11.75v11.74h-11.75zM758.2 1081.5h11.75v11.74h-11.75zM770.0 1081.5h11.75v11.74h-11.75zM781.7 1081.5h11.75v11.74h-11.75zM817.0 1081.5h11.75v11.74h-11.75zM863.9 1081.5h11.75v11.74h-11.75zM875.7 1081.5h11.75v11.74h-11.75zM887.4 1081.5h11.75v11.74h-11.75zM934.4 1081.5h11.75v11.74h-11.75zM981.4 1081.5h11.75v11.74h-11.75zM1016.6 1081.5h11.75v11.74h-11.75zM1028.4 1081.5h11.75v11.74h-11.75zM1040.1 1081.5h11.75v11.74h-11.75zM1051.9 1081.5h11.75v11.74h-11.75zM1087.1 1081.5h11.75v11.74h-11.75zM1098.9 1081.5h11.75v11.74h-11.75zM1134.1 1081.5h11.75v11.74h-11.75zM1157.6 1081.5h11.75v11.74h-11.75zM311.9 1093.2h11.75v11.74h-11.75zM335.4 1093.2h11.75v11.74h-11.75zM488.1 1093.2h11.75v11.74h-11.75zM828.7 1093.2h11.75v11.74h-11.75zM441.1 1104.9h11.75v11.74h-11.75zM546.8 1104.9h11.75v11.74h-11.75zM699.5 1104.9h11.75v11.74h-11.75zM711.2 1104.9h11.75v11.74h-11.75zM734.7 1104.9h11.75v11.74h-11.75zM781.7 1104.9h11.75v11.74h-11.75zM863.9 1104.9h11.75v11.74h-11.75zM875.7 1104.9h11.75v11.74h-11.75zM887.4 1104.9h11.75v11.74h-11.75zM899.2 1104.9h11.75v11.74h-11.75zM922.7 1104.9h11.75v11.74h-11.75zM981.4 1104.9h11.75v11.74h-11.75zM993.2 1104.9h11.75v11.74h-11.75zM1016.6 1104.9h11.75v11.74h-11.75zM1051.9 1104.9h11.75v11.74h-11.75zM1134.1 1104.9h11.75v11.74h-11.75zM1157.6 1104.9h11.75v11.74h-11.75zM1169.3 1104.9h11.75v11.74h-11.75zM241.4 1116.7h11.75v11.74h-11.75zM417.6 1116.7h11.75v11.74h-11.75zM476.3 1116.7h11.75v11.74h-11.75zM617.3 1116.7h11.75v11.74h-11.75zM535.0 1128.4h11.75v11.74h-11.75zM582.0 1128.4h11.75v11.74h-11.75zM687.7 1128.4h11.75v11.74h-11.75zM746.5 1128.4h11.75v11.74h-11.75zM1028.4 1128.4h11.75v11.74h-11.75zM1063.6 1128.4h11.75v11.74h-11.75zM1087.1 1128.4h11.75v11.74h-11.75zM1098.9 1128.4h11.75v11.74h-11.75zM629.0 1140.1h11.75v11.74h-11.75zM664.3 1140.1h11.75v11.74h-11.75zM699.5 1140.1h11.75v11.74h-11.75zM793.5 1140.1h11.75v11.74h-11.75zM852.2 1140.1h11.75v11.74h-11.75zM1075.4 1140.1h11.75v11.74h-11.75zM1216.3 1140.1h11.75v11.74h-11.75zM194.4 1151.9h11.75v11.74h-11.75zM276.6 1151.9h11.75v11.74h-11.75zM288.4 1151.9h11.75v11.74h-11.75zM476.3 1151.9h11.75v11.74h-11.75zM300.1 1163.6h11.75v11.74h-11.75zM382.3 1163.6h11.75v11.74h-11.75zM394.1 1163.6h11.75v11.74h-11.75zM417.6 1163.6h11.75v11.74h-11.75zM429.3 1163.6h11.75v11.74h-11.75zM476.3 1163.6h11.75v11.74h-11.75zM511.5 1163.6h11.75v11.74h-11.75zM875.7 1163.6h11.75v11.74h-11.75zM957.9 1163.6h11.75v11.74h-11.75zM1228.1 1163.6h11.75v11.74h-11.75zM264.9 1175.4h11.75v11.74h-11.75zM652.5 1175.4h11.75v11.74h-11.75zM734.7 1175.4h11.75v11.74h-11.75zM899.2 1175.4h11.75v11.74h-11.75zM1040.1 1175.4h11.75v11.74h-11.75zM1087.1 1175.4h11.75v11.74h-11.75zM1098.9 1175.4h11.75v11.74h-11.75zM1228.1 1175.4h11.75v11.74h-11.75zM1275.1 1175.4h11.75v11.74h-11.75zM194.4 1187.1h11.75v11.74h-11.75zM241.4 1187.1h11.75v11.74h-11.75zM605.5 1187.1h11.75v11.74h-11.75zM699.5 1187.1h11.75v11.74h-11.75zM781.7 1187.1h11.75v11.74h-11.75zM793.5 1187.1h11.75v11.74h-11.75zM934.4 1187.1h11.75v11.74h-11.75zM946.2 1187.1h11.75v11.74h-11.75zM957.9 1187.1h11.75v11.74h-11.75zM1028.4 1187.1h11.75v11.74h-11.75zM1040.1 1187.1h11.75v11.74h-11.75zM1063.6 1187.1h11.75v11.74h-11.75zM1087.1 1187.1h11.75v11.74h-11.75zM1098.9 1187.1h11.75v11.74h-11.75zM405.8 1198.8h11.75v11.74h-11.75zM429.3 1198.8h11.75v11.74h-11.75zM558.5 1198.8h11.75v11.74h-11.75zM687.7 1198.8h11.75v11.74h-11.75zM793.5 1198.8h11.75v11.74h-11.75zM910.9 1198.8h11.75v11.74h-11.75zM182.6 1210.6h11.75v11.74h-11.75zM323.6 1210.6h11.75v11.74h-11.75zM417.6 1210.6h11.75v11.74h-11.75zM593.8 1210.6h11.75v11.74h-11.75zM617.3 1210.6h11.75v11.74h-11.75zM910.9 1210.6h11.75v11.74h-11.75zM1075.4 1210.6h11.75v11.74h-11.75z"/>
<path fill="#9898bf" d="M170.9 119.1h11.75v11.74h-11.75zM170.9 142.6h11.75v11.74h-11.75zM194.4 177.8h11.75v11.74h-11.75zM253.1 177.8h11.75v11.74h-11.75zM170.9 189.5h11.75v11.74h-11.75zM206.1 201.2h11.75v11.74h-11.75zM206.1 224.7h11.75v11.74h-11.75zM241.4 224.7h11.75v11.74h-11.75zM276.6 224.7h11.75v11.74h-11.75zM323.6 224.7h11.75v11.74h-11.75zM170.9 236.4h11.75v11.74h-11.75zM253.1 236.4h11.75v11.74h-11.75zM288.4 236.4h11.75v11.74h-11.75zM217.9 283.4h11.75v11.74h-11.75zM323.6 283.4h11.75v11.74h-11.75zM370.6 283.4h11.75v11.74h-11.75zM382.3 283.4h11.75v11.74h-11.75zM288.4 295.1h11.75v11.74h-11.75zM323.6 295.1h11.75v11.74h-11.75zM382.3 295.1h11.75v11.74h-11.75zM300.1 306.9h11.75v11.74h-11.75zM358.8 306.9h11.75v11.74h-11.75zM323.6 330.3h11.75v11.74h-11.75zM264.9 342.1h11.75v11.74h-11.75zM394.1 353.8h11.75v11.74h-11.75zM429.3 353.8h11.75v11.74h-11.75zM300.1 365.5h11.75v11.74h-11.75zM382.3 365.5h11.75v11.74h-11.75zM358.8 377.3h11.75v11.74h-11.75zM476.3 377.3h11.75v11.74h-11.75zM170.9 389.0h11.75v11.74h-11.75zM347.1 389.0h11.75v11.74h-11.75zM488.1 400.8h11.75v11.74h-11.75zM264.9 412.5h11.75v11.74h-11.75zM523.3 424.2h11.75v11.74h-11.75zM488.1 459.4h11.75v11.74h-11.75zM300.1 471.2h11.75v11.74h-11.75zM511.5 471.2h11.75v11.74h-11.75zM429.3 482.9h11.75v11.74h-11.75zM370.6 494.6h11.75v11.74h-11.75zM382.3 494.6h11.75v11.74h-11.75zM464.6 494.6h11.75v11.74h-11.75zM593.8 494.6h11.75v11.74h-11.75zM206.1 518.1h11.75v11.74h-11.75zM546.8 518.1h11.75v11.74h-11.75zM558.5 518.1h11.75v11.74h-11.75zM170.9 529.9h11.75v11.74h-11.75zM229.6 529.9h11.75v11.74h-11.75zM253.1 529.9h11.75v11.74h-11.75zM582.0 529.9h11.75v11.74h-11.75zM194.4 541.6h11.75v11.74h-11.75zM264.9 541.6h11.75v11.74h-11.75zM276.6 541.6h11.75v11.74h-11.75zM640.8 541.6h11.75v11.74h-11.75zM206.1 553.3h11.75v11.74h-11.75zM241.4 553.3h11.75v11.74h-11.75zM311.9 553.3h11.75v11.74h-11.75zM452.8 553.3h11.75v11.74h-11.75zM629.0 553.3h11.75v11.74h-11.75zM182.6 565.1h11.75v11.74h-11.75zM194.4 576.8h11.75v11.74h-11.75zM593.8 576.8h11.75v11.74h-11.75zM206.1 588.5h11.75v11.74h-11.75zM382.3 588.5h11.75v11.74h-11.75zM241.4 600.3h11.75v11.74h-11.75zM546.8 612.0h11.75v11.74h-11.75zM605.5 612.0h11.75v11.74h-11.75zM652.5 612.0h11.75v11.74h-11.75zM253.1 623.7h11.75v11.74h-11.75zM546.8 623.7h11.75v11.74h-11.75zM558.5 623.7h11.75v11.74h-11.75zM582.0 623.7h11.75v11.74h-11.75zM699.5 623.7h11.75v11.74h-11.75zM253.1 635.5h11.75v11.74h-11.75zM723.0 635.5h11.75v11.74h-11.75zM734.7 635.5h11.75v11.74h-11.75zM405.8 647.2h11.75v11.74h-11.75zM523.3 647.2h11.75v11.74h-11.75zM535.0 659.0h11.75v11.74h-11.75zM664.3 659.0h11.75v11.74h-11.75zM300.1 670.7h11.75v11.74h-11.75zM546.8 670.7h11.75v11.74h-11.75zM582.0 670.7h11.75v11.74h-11.75zM629.0 670.7h11.75v11.74h-11.75zM746.5 670.7h11.75v11.74h-11.75zM770.0 670.7h11.75v11.74h-11.75zM241.4 682.4h11.75v11.74h-11.75zM264.9 682.4h11.75v11.74h-11.75zM370.6 682.4h11.75v11.74h-11.75zM546.8 682.4h11.75v11.74h-11.75zM629.0 682.4h11.75v11.74h-11.75zM664.3 682.4h11.75v11.74h-11.75zM746.5 682.4h11.75v11.74h-11.75zM523.3 694.2h11.75v11.74h-11.75zM664.3 694.2h11.75v11.74h-11.75zM711.2 694.2h11.75v11.74h-11.75zM734.7 694.2h11.75v11.74h-11.75zM300.1 705.9h11.75v11.74h-11.75zM499.8 705.9h11.75v11.74h-11.75zM511.5 705.9h11.75v11.74h-11.75zM640.8 705.9h11.75v11.74h-11.75zM347.1 717.6h11.75v11.74h-11.75zM511.5 717.6h11.75v11.74h-11.75zM770.0 717.6h11.75v11.74h-11.75zM793.5 717.6h11.75v11.74h-11.75zM817.0 729.4h11.75v11.74h-11.75zM323.6 741.1h11.75v11.74h-11.75zM335.4 741.1h11.75v11.74h-11.75zM417.6 741.1h11.75v11.74h-11.75zM570.3 741.1h11.75v11.74h-11.75zM241.4 752.8h11.75v11.74h-11.75zM347.1 764.6h11.75v11.74h-11.75zM711.2 764.6h11.75v11.74h-11.75zM241.4 776.3h11.75v11.74h-11.75zM605.5 788.1h11.75v11.74h-11.75zM382.3 799.8h11.75v11.74h-11.75zM499.8 799.8h11.75v11.74h-11.75zM546.8 799.8h11.75v11.74h-11.75zM640.8 799.8h11.75v11.74h-11.75zM699.5 799.8h11.75v11.74h-11.75zM817.0 799.8h11.75v11.74h-11.75zM370.6 811.5h11.75v11.74h-11.75zM382.3 811.5h11.75v11.74h-11.75zM452.8 811.5h11.75v11.74h-11.75zM629.0 811.5h11.75v11.74h-11.75zM640.8 811.5h11.75v11.74h-11.75zM370.6 835.0h11.75v11.74h-11.75zM488.1 835.0h11.75v11.74h-11.75zM264.9 846.7h11.75v11.74h-11.75zM288.4 846.7h11.75v11.74h-11.75zM382.3 846.7h11.75v11.74h-11.75zM617.3 846.7h11.75v11.74h-11.75zM699.5 858.5h11.75v11.74h-11.75zM241.4 870.2h11.75v11.74h-11.75zM652.5 881.9h11.75v11.74h-11.75zM711.2 881.9h11.75v11.74h-11.75zM441.1 893.7h11.75v11.74h-11.75zM241.4 905.4h11.75v11.74h-11.75zM640.8 917.2h11.75v11.74h-11.75zM734.7 917.2h11.75v11.74h-11.75zM640.8 928.9h11.75v11.74h-11.75zM734.7 928.9h11.75v11.74h-11.75zM241.4 940.6h11.75v11.74h-11.75zM499.8 952.4h11.75v11.74h-11.75zM640.8 952.4h11.75v11.74h-11.75zM863.9 964.1h11.75v11.74h-11.75zM981.4 964.1h11.75v11.74h-11.75zM347.1 975.8h11.75v11.74h-11.75zM640.8 975.8h11.75v11.74h-11.75zM347.1 987.6h11.75v11.74h-11.75zM640.8 987.6h11.75v11.74h-11.75zM899.2 999.3h11.75v11.74h-11.75zM934.4 999.3h11.75v11.74h-11.75zM993.2 999.3h11.75v11.74h-11.75zM1040.1 999.3h11.75v11.74h-11.75zM640.8 1011.0h11.75v11.74h-11.75zM652.5 1011.0h11.75v11.74h-11.75zM687.7 1011.0h11.75v11.74h-11.75zM805.2 1011.0h11.75v11.74h-11.75zM993.2 1011.0h11.75v11.74h-11.75zM241.4 1022.8h11.75v11.74h-11.75zM993.2 1022.8h11.75v11.74h-11.75zM1075.4 1022.8h11.75v11.74h-11.75zM170.9 1034.5h11.75v11.74h-11.75zM676.0 1034.5h11.75v11.74h-11.75zM817.0 1034.5h11.75v11.74h-11.75zM1122.4 1034.5h11.75v11.74h-11.75zM817.0 1046.3h11.75v11.74h-11.75zM993.2 1046.3h11.75v11.74h-11.75zM1028.4 1046.3h11.75v11.74h-11.75zM1063.6 1046.3h11.75v11.74h-11.75zM1087.1 1046.3h11.75v11.74h-11.75zM1098.9 1046.3h11.75v11.74h-11.75zM1134.1 1046.3h11.75v11.74h-11.75zM347.1 1058.0h11.75v11.74h-11.75zM593.8 1058.0h11.75v11.74h-11.75zM300.1 1069.7h11.75v11.74h-11.75zM347.1 1069.7h11.75v11.74h-11.75zM605.5 1069.7h11.75v11.74h-11.75zM652.5 1081.5h11.75v11.74h-11.75zM828.7 1081.5h11.75v11.74h-11.75zM993.2 1081.5h11.75v11.74h-11.75zM652.5 1093.2h11.75v11.74h-11.75zM170.9 1104.9h11.75v11.74h-11.75zM194.4 1104.9h11.75v11.74h-11.75zM206.1 1104.9h11.75v11.74h-11.75zM229.6 1104.9h11.75v11.74h-11.75zM499.8 1104.9h11.75v11.74h-11.75zM511.5 1104.9h11.75v11.74h-11.75zM652.5 1104.9h11.75v11.74h-11.75zM770.0 1104.9h11.75v11.74h-11.75zM934.4 1104.9h11.75v11.74h-11.75zM1004.9 1104.9h11.75v11.74h-11.75zM1063.6 1104.9h11.75v11.74h-11.75zM1075.4 1104.9h11.75v11.74h-11.75zM1087.1 1104.9h11.75v11.74h-11.75zM1098.9 1104.9h11.75v11.74h-11.75zM182.6 1116.7h11.75v11.74h-11.75zM311.9 1116.7h11.75v11.74h-11.75zM488.1 1116.7h11.75v11.74h-11.75zM170.9 1128.4h11.75v11.74h-11.75zM558.5 1128.4h11.75v11.74h-11.75zM734.7 1128.4h11.75v11.74h-11.75zM817.0 1128.4h11.75v11.74h-11.75zM311.9 1140.1h11.75v11.74h-11.75zM335.4 1140.1h11.75v11.74h-11.75zM605.5 1140.1h11.75v11.74h-11.75zM946.2 1140.1h11.75v11.74h-11.75zM417.6 1151.9h11.75v11.74h-11.75zM570.3 1151.9h11.75v11.74h-11.75zM676.0 1151.9h11.75v11.74h-11.75zM170.9 1163.6h11.75v11.74h-11.75zM452.8 1163.6h11.75v11.74h-11.75zM746.5 1163.6h11.75v11.74h-11.75zM817.0 1163.6h11.75v11.74h-11.75zM922.7 1163.6h11.75v11.74h-11.75zM1004.9 1163.6h11.75v11.74h-11.75zM1063.6 1163.6h11.75v11.74h-11.75zM1087.1 1163.6h11.75v11.74h-11.75zM1098.9 1163.6h11.75v11.74h-11.75zM300.1 1175.4h11.75v11.74h-11.75zM511.5 1175.4h11.75v11.74h-11.75zM582.0 1175.4h11.75v11.74h-11.75zM664.3 1175.4h11.75v11.74h-11.75zM817.0 1175.4h11.75v11.74h-11.75zM828.7 1175.4h11.75v11.74h-11.75zM840.4 1175.4h11.75v11.74h-11.75zM875.7 1175.4h11.75v11.74h-11.75zM1181.1 1175.4h11.75v11.74h-11.75zM1251.6 1175.4h11.75v11.74h-11.75zM206.1 1187.1h11.75v11.74h-11.75zM276.6 1187.1h11.75v11.74h-11.75zM288.4 1187.1h11.75v11.74h-11.75zM817.0 1187.1h11.75v11.74h-11.75zM840.4 1187.1h11.75v11.74h-11.75zM969.7 1187.1h11.75v11.74h-11.75zM1204.6 1187.1h11.75v11.74h-11.75zM1251.6 1187.1h11.75v11.74h-11.75zM217.9 1198.8h11.75v11.74h-11.75zM370.6 1198.8h11.75v11.74h-11.75z"/>
<path fill="#7e7eaf" d="M194.4 119.1h11.75v11.74h-11.75zM194.4 142.6h11.75v11.74h-11.75zM229.6 154.3h11.75v11.74h-11.75zM253.1 154.3h11.75v11.74h-11.75zM264.9 177.8h11.75v11.74h-11.75zM288.4 189.5h11.75v11.74h-11.75zM241.4 201.2h11.75v11.74h-11.75zM182.6 213.0h11.75v11.74h-11.75zM182.6 224.7h11.75v11.74h-11.75zM194.4 236.4h11.75v11.74h-11.75zM229.6 236.4h11.75v11.74h-11.75zM358.8 283.4h11.75v11.74h-11.75zM370.6 295.1h11.75v11.74h-11.75zM405.8 306.9h11.75v11.74h-11.75zM358.8 318.6h11.75v11.74h-11.75zM370.6 318.6h11.75v11.74h-11.75zM382.3 318.6h11.75v11.74h-11.75zM347.1 342.1h11.75v11.74h-11.75zM182.6 365.5h11.75v11.74h-11.75zM429.3 365.5h11.75v11.74h-11.75zM241.4 377.3h11.75v11.74h-11.75zM394.1 377.3h11.75v11.74h-11.75zM429.3 377.3h11.75v11.74h-11.75zM464.6 377.3h11.75v11.74h-11.75zM194.4 412.5h11.75v11.74h-11.75zM217.9 424.2h11.75v11.74h-11.75zM229.6 424.2h11.75v11.74h-11.75zM253.1 424.2h11.75v11.74h-11.75zM499.8 424.2h11.75v11.74h-11.75zM300.1 436.0h11.75v11.74h-11.75zM311.9 459.4h11.75v11.74h-11.75zM347.1 471.2h11.75v11.74h-11.75zM358.8 494.6h11.75v11.74h-11.75zM546.8 494.6h11.75v11.74h-11.75zM182.6 506.4h11.75v11.74h-11.75zM405.8 506.4h11.75v11.74h-11.75zM170.9 518.1h11.75v11.74h-11.75zM194.4 565.1h11.75v11.74h-11.75zM535.0 565.1h11.75v11.74h-11.75zM241.4 588.5h11.75v11.74h-11.75zM452.8 600.3h11.75v11.74h-11.75zM629.0 600.3h11.75v11.74h-11.75zM170.9 612.0h11.75v11.74h-11.75zM699.5 612.0h11.75v11.74h-11.75zM711.2 612.0h11.75v11.74h-11.75zM170.9 623.7h11.75v11.74h-11.75zM194.4 623.7h11.75v11.74h-11.75zM723.0 623.7h11.75v11.74h-11.75zM605.5 635.5h11.75v11.74h-11.75zM629.0 635.5h11.75v11.74h-11.75zM382.3 647.2h11.75v11.74h-11.75zM170.9 659.0h11.75v11.74h-11.75zM253.1 659.0h11.75v11.74h-11.75zM382.3 659.0h11.75v11.74h-11.75zM523.3 659.0h11.75v11.74h-11.75zM546.8 659.0h11.75v11.74h-11.75zM723.0 659.0h11.75v11.74h-11.75zM746.5 659.0h11.75v11.74h-11.75zM170.9 670.7h11.75v11.74h-11.75zM194.4 670.7h11.75v11.74h-11.75zM347.1 670.7h11.75v11.74h-11.75zM441.1 670.7h11.75v11.74h-11.75zM499.8 670.7h11.75v11.74h-11.75zM523.3 670.7h11.75v11.74h-11.75zM758.2 670.7h11.75v11.74h-11.75zM382.3 682.4h11.75v11.74h-11.75zM558.5 682.4h11.75v11.74h-11.75zM640.8 682.4h11.75v11.74h-11.75zM170.9 694.2h11.75v11.74h-11.75zM253.1 694.2h11.75v11.74h-11.75zM441.1 694.2h11.75v11.74h-11.75zM546.8 694.2h11.75v11.74h-11.75zM582.0 694.2h11.75v11.74h-11.75zM629.0 694.2h11.75v11.74h-11.75zM640.8 694.2h11.75v11.74h-11.75zM699.5 694.2h11.75v11.74h-11.75zM723.0 694.2h11.75v11.74h-11.75zM746.5 694.2h11.75v11.74h-11.75zM781.7 694.2h11.75v11.74h-11.75zM347.1 705.9h11.75v11.74h-11.75zM734.7 705.9h11.75v11.74h-11.75zM781.7 705.9h11.75v11.74h-11.75zM793.5 705.9h11.75v11.74h-11.75zM241.4 717.6h11.75v11.74h-11.75zM605.5 717.6h11.75v11.74h-11.75zM805.2 717.6h11.75v11.74h-11.75zM253.1 729.4h11.75v11.74h-11.75zM441.1 729.4h11.75v11.74h-11.75zM558.5 729.4h11.75v11.74h-11.75zM629.0 729.4h11.75v11.74h-11.75zM734.7 729.4h11.75v11.74h-11.75zM758.2 729.4h11.75v11.74h-11.75zM781.7 729.4h11.75v11.74h-11.75zM793.5 729.4h11.75v11.74h-11.75zM452.8 752.8h11.75v11.74h-11.75zM629.0 752.8h11.75v11.74h-11.75zM723.0 752.8h11.75v11.74h-11.75zM805.2 752.8h11.75v11.74h-11.75zM170.9 764.6h11.75v11.74h-11.75zM300.1 764.6h11.75v11.74h-11.75zM582.0 764.6h11.75v11.74h-11.75zM699.5 764.6h11.75v11.74h-11.75zM746.5 764.6h11.75v11.74h-11.75zM805.2 764.6h11.75v11.74h-11.75zM828.7 764.6h11.75v11.74h-11.75zM863.9 764.6h11.75v11.74h-11.75zM452.8 776.3h11.75v11.74h-11.75zM629.0 776.3h11.75v11.74h-11.75zM723.0 776.3h11.75v11.74h-11.75zM805.2 776.3h11.75v11.74h-11.75zM875.7 776.3h11.75v11.74h-11.75zM770.0 788.1h11.75v11.74h-11.75zM805.2 788.1h11.75v11.74h-11.75zM875.7 788.1h11.75v11.74h-11.75zM170.9 799.8h11.75v11.74h-11.75zM593.8 799.8h11.75v11.74h-11.75zM711.2 799.8h11.75v11.74h-11.75zM746.5 799.8h11.75v11.74h-11.75zM170.9 811.5h11.75v11.74h-11.75zM241.4 811.5h11.75v11.74h-11.75zM582.0 811.5h11.75v11.74h-11.75zM875.7 811.5h11.75v11.74h-11.75zM241.4 823.3h11.75v11.74h-11.75zM629.0 823.3h11.75v11.74h-11.75zM723.0 823.3h11.75v11.74h-11.75zM875.7 823.3h11.75v11.74h-11.75zM910.9 823.3h11.75v11.74h-11.75zM241.4 835.0h11.75v11.74h-11.75zM546.8 835.0h11.75v11.74h-11.75zM629.0 835.0h11.75v11.74h-11.75zM664.3 835.0h11.75v11.74h-11.75zM746.5 835.0h11.75v11.74h-11.75zM770.0 835.0h11.75v11.74h-11.75zM817.0 835.0h11.75v11.74h-11.75zM828.7 835.0h11.75v11.74h-11.75zM899.2 835.0h11.75v11.74h-11.75zM605.5 846.7h11.75v11.74h-11.75zM629.0 846.7h11.75v11.74h-11.75zM805.2 846.7h11.75v11.74h-11.75zM934.4 846.7h11.75v11.74h-11.75zM946.2 846.7h11.75v11.74h-11.75zM253.1 858.5h11.75v11.74h-11.75zM264.9 858.5h11.75v11.74h-11.75zM347.1 858.5h11.75v11.74h-11.75zM441.1 858.5h11.75v11.74h-11.75zM452.8 858.5h11.75v11.74h-11.75zM523.3 858.5h11.75v11.74h-11.75zM558.5 858.5h11.75v11.74h-11.75zM629.0 858.5h11.75v11.74h-11.75zM840.4 858.5h11.75v11.74h-11.75zM875.7 858.5h11.75v11.74h-11.75zM899.2 858.5h11.75v11.74h-11.75zM452.8 870.2h11.75v11.74h-11.75zM629.0 870.2h11.75v11.74h-11.75zM723.0 870.2h11.75v11.74h-11.75zM805.2 870.2h11.75v11.74h-11.75zM875.7 870.2h11.75v11.74h-11.75zM229.6 881.9h11.75v11.74h-11.75zM253.1 881.9h11.75v11.74h-11.75zM347.1 881.9h11.75v11.74h-11.75zM546.8 881.9h11.75v11.74h-11.75zM558.5 881.9h11.75v11.74h-11.75zM629.0 881.9h11.75v11.74h-11.75zM723.0 881.9h11.75v11.74h-11.75zM746.5 881.9h11.75v11.74h-11.75zM828.7 881.9h11.75v11.74h-11.75zM323.6 893.7h11.75v11.74h-11.75zM476.3 893.7h11.75v11.74h-11.75zM546.8 893.7h11.75v11.74h-11.75zM746.5 893.7h11.75v11.74h-11.75zM805.2 893.7h11.75v11.74h-11.75zM817.0 893.7h11.75v11.74h-11.75zM922.7 893.7h11.75v11.74h-11.75zM934.4 893.7h11.75v11.74h-11.75zM946.2 893.7h11.75v11.74h-11.75zM452.8 905.4h11.75v11.74h-11.75zM629.0 905.4h11.75v11.74h-11.75zM723.0 905.4h11.75v11.74h-11.75zM805.2 905.4h11.75v11.74h-11.75zM875.7 905.4h11.75v11.74h-11.75zM1004.9 905.4h11.75v11.74h-11.75zM605.5 917.2h11.75v11.74h-11.75zM723.0 917.2h11.75v11.74h-11.75zM781.7 917.2h11.75v11.74h-11.75zM805.2 917.2h11.75v11.74h-11.75zM875.7 917.2h11.75v11.74h-11.75zM946.2 917.2h11.75v11.74h-11.75zM993.2 917.2h11.75v11.74h-11.75zM1004.9 917.2h11.75v11.74h-11.75zM241.4 928.9h11.75v11.74h-11.75zM605.5 928.9h11.75v11.74h-11.75zM723.0 928.9h11.75v11.74h-11.75zM805.2 928.9h11.75v11.74h-11.75zM875.7 928.9h11.75v11.74h-11.75zM910.9 928.9h11.75v11.74h-11.75zM946.2 928.9h11.75v11.74h-11.75zM993.2 928.9h11.75v11.74h-11.75zM452.8 940.6h11.75v11.74h-11.75zM629.0 940.6h11.75v11.74h-11.75zM723.0 940.6h11.75v11.74h-11.75zM805.2 940.6h11.75v11.74h-11.75zM875.7 940.6h11.75v11.74h-11.75zM1004.9 940.6h11.75v11.74h-11.75zM605.5 952.4h11.75v11.74h-11.75zM629.0 952.4h11.75v11.74h-11.75zM734.7 952.4h11.75v11.74h-11.75zM781.7 952.4h11.75v11.74h-11.75zM875.7 952.4h11.75v11.74h-11.75zM993.2 952.4h11.75v11.74h-11.75zM1004.9 952.4h11.75v11.74h-11.75zM370.6 964.1h11.75v11.74h-11.75zM664.3 964.1h11.75v11.74h-11.75zM699.5 964.1h11.75v11.74h-11.75zM711.2 964.1h11.75v11.74h-11.75zM758.2 964.1h11.75v11.74h-11.75zM887.4 964.1h11.75v11.74h-11.75zM910.9 964.1h11.75v11.74h-11.75zM922.7 964.1h11.75v11.74h-11.75zM934.4 964.1h11.75v11.74h-11.75zM1016.6 964.1h11.75v11.74h-11.75zM1028.4 964.1h11.75v11.74h-11.75zM723.0 975.8h11.75v11.74h-11.75zM734.7 975.8h11.75v11.74h-11.75zM770.0 975.8h11.75v11.74h-11.75zM781.7 975.8h11.75v11.74h-11.75zM1004.9 975.8h11.75v11.74h-11.75zM723.0 987.6h11.75v11.74h-11.75zM734.7 987.6h11.75v11.74h-11.75zM770.0 987.6h11.75v11.74h-11.75zM781.7 987.6h11.75v11.74h-11.75zM805.2 987.6h11.75v11.74h-11.75zM1004.9 987.6h11.75v11.74h-11.75zM194.4 999.3h11.75v11.74h-11.75zM288.4 999.3h11.75v11.74h-11.75zM347.1 999.3h11.75v11.74h-11.75zM699.5 999.3h11.75v11.74h-11.75zM781.7 999.3h11.75v11.74h-11.75zM558.5 1011.0h11.75v11.74h-11.75zM723.0 1011.0h11.75v11.74h-11.75zM758.2 1011.0h11.75v11.74h-11.75zM770.0 1011.0h11.75v11.74h-11.75zM452.8 1022.8h11.75v11.74h-11.75zM629.0 1022.8h11.75v11.74h-11.75zM723.0 1022.8h11.75v11.74h-11.75zM805.2 1022.8h11.75v11.74h-11.75zM875.7 1022.8h11.75v11.74h-11.75zM1004.9 1022.8h11.75v11.74h-11.75zM323.6 1034.5h11.75v11.74h-11.75zM664.3 1034.5h11.75v11.74h-11.75zM840.4 1034.5h11.75v11.74h-11.75zM899.2 1034.5h11.75v11.74h-11.75zM910.9 1034.5h11.75v11.74h-11.75zM1075.4 1034.5h11.75v11.74h-11.75zM170.9 1046.3h11.75v11.74h-11.75zM676.0 1046.3h11.75v11.74h-11.75zM746.5 1046.3h11.75v11.74h-11.75zM840.4 1046.3h11.75v11.74h-11.75zM910.9 1046.3h11.75v11.74h-11.75zM253.1 1058.0h11.75v11.74h-11.75zM264.9 1058.0h11.75v11.74h-11.75zM441.1 1058.0h11.75v11.74h-11.75zM452.8 1058.0h11.75v11.74h-11.75zM699.5 1058.0h11.75v11.74h-11.75zM734.7 1058.0h11.75v11.74h-11.75zM758.2 1058.0h11.75v11.74h-11.75zM875.7 1058.0h11.75v11.74h-11.75zM899.2 1058.0h11.75v11.74h-11.75zM934.4 1058.0h11.75v11.74h-11.75zM1122.4 1058.0h11.75v11.74h-11.75zM640.8 1069.7h11.75v11.74h-11.75zM781.7 1069.7h11.75v11.74h-11.75zM793.5 1069.7h11.75v11.74h-11.75zM946.2 1069.7h11.75v11.74h-11.75zM957.9 1069.7h11.75v11.74h-11.75zM993.2 1069.7h11.75v11.74h-11.75zM1004.9 1069.7h11.75v11.74h-11.75zM629.0 1081.5h11.75v11.74h-11.75zM734.7 1081.5h11.75v11.74h-11.75zM910.9 1081.5h11.75v11.74h-11.75zM922.7 1081.5h11.75v11.74h-11.75zM946.2 1081.5h11.75v11.74h-11.75zM957.9 1081.5h11.75v11.74h-11.75zM1063.6 1081.5h11.75v11.74h-11.75zM1075.4 1081.5h11.75v11.74h-11.75zM1110.6 1081.5h11.75v11.74h-11.75zM1169.3 1081.5h11.75v11.74h-11.75zM1181.1 1081.5h11.75v11.74h-11.75zM605.5 1093.2h11.75v11.74h-11.75zM264.9 1104.9h11.75v11.74h-11.75zM452.8 1104.9h11.75v11.74h-11.75zM523.3 1104.9h11.75v11.74h-11.75zM558.5 1104.9h11.75v11.74h-11.75zM640.8 1104.9h11.75v11.74h-11.75zM664.3 1104.9h11.75v11.74h-11.75zM793.5 1104.9h11.75v11.74h-11.75zM946.2 1104.9h11.75v11.74h-11.75zM969.7 1104.9h11.75v11.74h-11.75zM1028.4 1104.9h11.75v11.74h-11.75zM1122.4 1104.9h11.75v11.74h-11.75zM1145.9 1104.9h11.75v11.74h-11.75zM640.8 1128.4h11.75v11.74h-11.75zM723.0 1128.4h11.75v11.74h-11.75zM910.9 1128.4h11.75v11.74h-11.75zM993.2 1128.4h11.75v11.74h-11.75zM1192.8 1128.4h11.75v11.74h-11.75zM617.3 1151.9h11.75v11.74h-11.75zM687.7 1151.9h11.75v11.74h-11.75zM276.6 1163.6h11.75v11.74h-11.75zM335.4 1163.6h11.75v11.74h-11.75zM546.8 1163.6h11.75v11.74h-11.75zM570.3 1163.6h11.75v11.74h-11.75zM582.0 1163.6h11.75v11.74h-11.75zM629.0 1163.6h11.75v11.74h-11.75zM711.2 1163.6h11.75v11.74h-11.75zM863.9 1163.6h11.75v11.74h-11.75zM887.4 1163.6h11.75v11.74h-11.75zM946.2 1163.6h11.75v11.74h-11.75zM981.4 1163.6h11.75v11.74h-11.75zM1016.6 1163.6h11.75v11.74h-11.75zM1028.4 1163.6h11.75v11.74h-11.75zM1051.9 1163.6h11.75v11.74h-11.75zM1134.1 1163.6h11.75v11.74h-11.75zM1181.1 1163.6h11.75v11.74h-11.75zM452.8 1175.4h11.75v11.74h-11.75zM852.2 1175.4h11.75v11.74h-11.75zM1110.6 1175.4h11.75v11.74h-11.75zM582.0 1187.1h11.75v11.74h-11.75zM828.7 1187.1h11.75v11.74h-11.75zM875.7 1187.1h11.75v11.74h-11.75zM993.2 1187.1h11.75v11.74h-11.75zM1110.6 1187.1h11.75v11.74h-11.75zM1181.1 1187.1h11.75v11.74h-11.75zM1286.8 1187.1h11.75v11.74h-11.75zM241.4 1198.8h11.75v11.74h-11.75zM276.6 1198.8h11.75v11.74h-11.75zM464.6 1198.8h11.75v11.74h-11.75zM605.5 1198.8h11.75v11.74h-11.75zM1204.6 1198.8h11.75v11.74h-11.75zM217.9 1210.6h11.75v11.74h-11.75zM370.6 1210.6h11.75v11.74h-11.75zM382.3 1210.6h11.75v11.74h-11.75zM394.1 1210.6h11.75v11.74h-11.75zM429.3 1210.6h11.75v11.74h-11.75zM676.0 1210.6h11.75v11.74h-11.75zM687.7 1210.6h11.75v11.74h-11.75zM1239.8 1210.6h11.75v11.74h-11.75z"/>
<path fill="#a23333" d="M206.1 119.1h11.75v11.74h-11.75zM229.6 130.8h11.75v11.74h-11.75zM206.1 142.6h11.75v11.74h-11.75zM241.4 142.6h11.75v11.74h-11.75zM194.4 224.7h11.75v11.74h-11.75zM229.6 224.7h11.75v11.74h-11.75zM347.1 283.4h11.75v11.74h-11.75zM194.4 318.6h11.75v11.74h-11.75zM206.1 330.3h11.75v11.74h-11.75zM241.4 330.3h11.75v11.74h-11.75zM358.8 330.3h11.75v11.74h-11.75zM441.1 353.8h11.75v11.74h-11.75zM288.4 377.3h11.75v11.74h-11.75zM241.4 412.5h11.75v11.74h-11.75zM276.6 412.5h11.75v11.74h-11.75zM311.9 447.7h11.75v11.74h-11.75zM335.4 447.7h11.75v11.74h-11.75zM394.1 447.7h11.75v11.74h-11.75zM523.3 459.4h11.75v11.74h-11.75zM182.6 494.6h11.75v11.74h-11.75zM429.3 529.9h11.75v11.74h-11.75zM476.3 529.9h11.75v11.74h-11.75zM323.6 541.6h11.75v11.74h-11.75zM382.3 541.6h11.75v11.74h-11.75zM476.3 541.6h11.75v11.74h-11.75zM206.1 565.1h11.75v11.74h-11.75zM358.8 565.1h11.75v11.74h-11.75zM464.6 565.1h11.75v11.74h-11.75zM206.1 576.8h11.75v11.74h-11.75zM488.1 576.8h11.75v11.74h-11.75zM182.6 588.5h11.75v11.74h-11.75zM676.0 588.5h11.75v11.74h-11.75zM687.7 588.5h11.75v11.74h-11.75zM182.6 600.3h11.75v11.74h-11.75zM335.4 612.0h11.75v11.74h-11.75zM617.3 612.0h11.75v11.74h-11.75zM311.9 623.7h11.75v11.74h-11.75zM335.4 623.7h11.75v11.74h-11.75zM394.1 623.7h11.75v11.74h-11.75zM429.3 623.7h11.75v11.74h-11.75zM206.1 647.2h11.75v11.74h-11.75zM276.6 647.2h11.75v11.74h-11.75zM570.3 647.2h11.75v11.74h-11.75zM276.6 659.0h11.75v11.74h-11.75zM570.3 659.0h11.75v11.74h-11.75zM311.9 670.7h11.75v11.74h-11.75zM335.4 670.7h11.75v11.74h-11.75zM358.8 670.7h11.75v11.74h-11.75zM394.1 670.7h11.75v11.74h-11.75zM464.6 670.7h11.75v11.74h-11.75zM488.1 670.7h11.75v11.74h-11.75zM570.3 670.7h11.75v11.74h-11.75zM182.6 717.6h11.75v11.74h-11.75zM617.3 717.6h11.75v11.74h-11.75zM311.9 729.4h11.75v11.74h-11.75zM335.4 729.4h11.75v11.74h-11.75zM358.8 729.4h11.75v11.74h-11.75zM394.1 729.4h11.75v11.74h-11.75zM417.6 729.4h11.75v11.74h-11.75zM429.3 729.4h11.75v11.74h-11.75zM464.6 729.4h11.75v11.74h-11.75zM593.8 741.1h11.75v11.74h-11.75zM723.0 741.1h11.75v11.74h-11.75zM182.6 752.8h11.75v11.74h-11.75zM182.6 776.3h11.75v11.74h-11.75zM687.7 788.1h11.75v11.74h-11.75zM852.2 811.5h11.75v11.74h-11.75zM182.6 823.3h11.75v11.74h-11.75zM676.0 823.3h11.75v11.74h-11.75zM687.7 823.3h11.75v11.74h-11.75zM217.9 846.7h11.75v11.74h-11.75zM511.5 846.7h11.75v11.74h-11.75zM182.6 858.5h11.75v11.74h-11.75zM335.4 858.5h11.75v11.74h-11.75zM476.3 858.5h11.75v11.74h-11.75zM570.3 858.5h11.75v11.74h-11.75zM617.3 858.5h11.75v11.74h-11.75zM852.2 858.5h11.75v11.74h-11.75zM182.6 870.2h11.75v11.74h-11.75zM311.9 881.9h11.75v11.74h-11.75zM488.1 881.9h11.75v11.74h-11.75zM687.7 893.7h11.75v11.74h-11.75zM182.6 905.4h11.75v11.74h-11.75zM182.6 917.2h11.75v11.74h-11.75zM182.6 940.6h11.75v11.74h-11.75zM182.6 952.4h11.75v11.74h-11.75zM217.9 999.3h11.75v11.74h-11.75zM394.1 999.3h11.75v11.74h-11.75zM311.9 1011.0h11.75v11.74h-11.75zM335.4 1011.0h11.75v11.74h-11.75zM358.8 1011.0h11.75v11.74h-11.75zM417.6 1011.0h11.75v11.74h-11.75zM464.6 1011.0h11.75v11.74h-11.75zM570.3 1011.0h11.75v11.74h-11.75zM182.6 1022.8h11.75v11.74h-11.75zM464.6 1034.5h11.75v11.74h-11.75zM570.3 1034.5h11.75v11.74h-11.75zM206.1 1046.3h11.75v11.74h-11.75zM358.8 1046.3h11.75v11.74h-11.75zM464.6 1046.3h11.75v11.74h-11.75zM335.4 1058.0h11.75v11.74h-11.75zM570.3 1058.0h11.75v11.74h-11.75zM852.2 1058.0h11.75v11.74h-11.75zM687.7 1069.7h11.75v11.74h-11.75zM182.6 1081.5h11.75v11.74h-11.75zM311.9 1081.5h11.75v11.74h-11.75zM323.6 1081.5h11.75v11.74h-11.75zM335.4 1081.5h11.75v11.74h-11.75zM394.1 1081.5h11.75v11.74h-11.75zM523.3 1093.2h11.75v11.74h-11.75zM535.0 1093.2h11.75v11.74h-11.75zM676.0 1093.2h11.75v11.74h-11.75zM758.2 1093.2h11.75v11.74h-11.75zM1145.9 1093.2h11.75v11.74h-11.75zM417.6 1104.9h11.75v11.74h-11.75zM593.8 1104.9h11.75v11.74h-11.75zM170.9 1116.7h11.75v11.74h-11.75zM229.6 1116.7h11.75v11.74h-11.75zM441.1 1116.7h11.75v11.74h-11.75zM499.8 1116.7h11.75v11.74h-11.75zM746.5 1116.7h11.75v11.74h-11.75zM758.2 1116.7h11.75v11.74h-11.75zM770.0 1116.7h11.75v11.74h-11.75zM781.7 1116.7h11.75v11.74h-11.75zM910.9 1116.7h11.75v11.74h-11.75zM993.2 1116.7h11.75v11.74h-11.75zM1063.6 1116.7h11.75v11.74h-11.75zM1087.1 1116.7h11.75v11.74h-11.75zM1098.9 1116.7h11.75v11.74h-11.75zM276.6 1128.4h11.75v11.74h-11.75zM311.9 1128.4h11.75v11.74h-11.75zM335.4 1128.4h11.75v11.74h-11.75zM1204.6 1128.4h11.75v11.74h-11.75zM1228.1 1128.4h11.75v11.74h-11.75zM229.6 1140.1h11.75v11.74h-11.75zM253.1 1140.1h11.75v11.74h-11.75zM441.1 1140.1h11.75v11.74h-11.75zM499.8 1140.1h11.75v11.74h-11.75zM535.0 1140.1h11.75v11.74h-11.75zM676.0 1140.1h11.75v11.74h-11.75zM687.7 1140.1h11.75v11.74h-11.75zM1157.6 1140.1h11.75v11.74h-11.75zM170.9 1151.9h11.75v11.74h-11.75zM546.8 1151.9h11.75v11.74h-11.75zM582.0 1151.9h11.75v11.74h-11.75zM664.3 1151.9h11.75v11.74h-11.75zM699.5 1151.9h11.75v11.74h-11.75zM746.5 1151.9h11.75v11.74h-11.75zM770.0 1151.9h11.75v11.74h-11.75zM817.0 1151.9h11.75v11.74h-11.75zM828.7 1151.9h11.75v11.74h-11.75zM899.2 1151.9h11.75v11.74h-11.75zM910.9 1151.9h11.75v11.74h-11.75zM934.4 1151.9h11.75v11.74h-11.75zM946.2 1151.9h11.75v11.74h-11.75zM1040.1 1151.9h11.75v11.74h-11.75zM1075.4 1151.9h11.75v11.74h-11.75zM1087.1 1151.9h11.75v11.74h-11.75zM1098.9 1151.9h11.75v11.74h-11.75zM194.4 1163.6h11.75v11.74h-11.75zM523.3 1163.6h11.75v11.74h-11.75zM687.7 1163.6h11.75v11.74h-11.75zM1122.4 1163.6h11.75v11.74h-11.75zM370.6 1175.4h11.75v11.74h-11.75zM323.6 1187.1h11.75v11.74h-11.75zM394.1 1187.1h11.75v11.74h-11.75zM417.6 1187.1h11.75v11.74h-11.75zM429.3 1187.1h11.75v11.74h-11.75zM535.0 1187.1h11.75v11.74h-11.75zM1145.9 1198.8h11.75v11.74h-11.75zM241.4 1210.6h11.75v11.74h-11.75zM347.1 1210.6h11.75v11.74h-11.75zM582.0 1210.6h11.75v11.74h-11.75zM817.0 1210.6h11.75v11.74h-11.75zM828.7 1210.6h11.75v11.74h-11.75zM875.7 1210.6h11.75v11.74h-11.75zM1110.6 1210.6h11.75v11.74h-11.75zM1251.6 1210.6h11.75v11.74h-11.75zM1286.8 1210.6h11.75v11.74h-11.75z"/>
<path fill="#cacade" d="M170.9 130.8h11.75v11.74h-11.75zM229.6 189.5h11.75v11.74h-11.75zM217.9 201.2h11.75v11.74h-11.75zM300.1 201.2h11.75v11.74h-11.75zM229.6 213.0h11.75v11.74h-11.75zM217.9 224.7h11.75v11.74h-11.75zM300.1 236.4h11.75v11.74h-11.75zM217.9 248.2h11.75v11.74h-11.75zM311.9 259.9h11.75v11.74h-11.75zM323.6 259.9h11.75v11.74h-11.75zM358.8 259.9h11.75v11.74h-11.75zM206.1 271.7h11.75v11.74h-11.75zM358.8 271.7h11.75v11.74h-11.75zM194.4 295.1h11.75v11.74h-11.75zM253.1 295.1h11.75v11.74h-11.75zM358.8 295.1h11.75v11.74h-11.75zM217.9 306.9h11.75v11.74h-11.75zM276.6 306.9h11.75v11.74h-11.75zM370.6 306.9h11.75v11.74h-11.75zM382.3 306.9h11.75v11.74h-11.75zM182.6 318.6h11.75v11.74h-11.75zM405.8 318.6h11.75v11.74h-11.75zM264.9 330.3h11.75v11.74h-11.75zM347.1 330.3h11.75v11.74h-11.75zM382.3 330.3h11.75v11.74h-11.75zM206.1 342.1h11.75v11.74h-11.75zM229.6 342.1h11.75v11.74h-11.75zM241.4 342.1h11.75v11.74h-11.75zM253.1 342.1h11.75v11.74h-11.75zM276.6 342.1h11.75v11.74h-11.75zM217.9 353.8h11.75v11.74h-11.75zM382.3 353.8h11.75v11.74h-11.75zM206.1 365.5h11.75v11.74h-11.75zM358.8 365.5h11.75v11.74h-11.75zM464.6 365.5h11.75v11.74h-11.75zM276.6 377.3h11.75v11.74h-11.75zM370.6 377.3h11.75v11.74h-11.75zM417.6 377.3h11.75v11.74h-11.75zM323.6 389.0h11.75v11.74h-11.75zM370.6 389.0h11.75v11.74h-11.75zM170.9 400.8h11.75v11.74h-11.75zM206.1 400.8h11.75v11.74h-11.75zM217.9 400.8h11.75v11.74h-11.75zM241.4 400.8h11.75v11.74h-11.75zM300.1 400.8h11.75v11.74h-11.75zM347.1 400.8h11.75v11.74h-11.75zM429.3 400.8h11.75v11.74h-11.75zM499.8 400.8h11.75v11.74h-11.75zM170.9 412.5h11.75v11.74h-11.75zM511.5 412.5h11.75v11.74h-11.75zM170.9 424.2h11.75v11.74h-11.75zM311.9 424.2h11.75v11.74h-11.75zM335.4 424.2h11.75v11.74h-11.75zM370.6 424.2h11.75v11.74h-11.75zM229.6 436.0h11.75v11.74h-11.75zM253.1 436.0h11.75v11.74h-11.75zM264.9 436.0h11.75v11.74h-11.75zM288.4 436.0h11.75v11.74h-11.75zM323.6 436.0h11.75v11.74h-11.75zM347.1 436.0h11.75v11.74h-11.75zM441.1 436.0h11.75v11.74h-11.75zM499.8 436.0h11.75v11.74h-11.75zM511.5 436.0h11.75v11.74h-11.75zM535.0 436.0h11.75v11.74h-11.75zM229.6 447.7h11.75v11.74h-11.75zM276.6 447.7h11.75v11.74h-11.75zM288.4 447.7h11.75v11.74h-11.75zM452.8 447.7h11.75v11.74h-11.75zM182.6 459.4h11.75v11.74h-11.75zM394.1 459.4h11.75v11.74h-11.75zM429.3 459.4h11.75v11.74h-11.75zM206.1 471.2h11.75v11.74h-11.75zM229.6 471.2h11.75v11.74h-11.75zM253.1 471.2h11.75v11.74h-11.75zM264.9 471.2h11.75v11.74h-11.75zM288.4 471.2h11.75v11.74h-11.75zM499.8 471.2h11.75v11.74h-11.75zM558.5 471.2h11.75v11.74h-11.75zM170.9 482.9h11.75v11.74h-11.75zM241.4 482.9h11.75v11.74h-11.75zM358.8 482.9h11.75v11.74h-11.75zM464.6 482.9h11.75v11.74h-11.75zM535.0 482.9h11.75v11.74h-11.75zM311.9 494.6h11.75v11.74h-11.75zM558.5 494.6h11.75v11.74h-11.75zM570.3 494.6h11.75v11.74h-11.75zM194.4 506.4h11.75v11.74h-11.75zM288.4 506.4h11.75v11.74h-11.75zM300.1 506.4h11.75v11.74h-11.75zM311.9 506.4h11.75v11.74h-11.75zM394.1 506.4h11.75v11.74h-11.75zM429.3 506.4h11.75v11.74h-11.75zM570.3 506.4h11.75v11.74h-11.75zM194.4 518.1h11.75v11.74h-11.75zM276.6 518.1h11.75v11.74h-11.75zM405.8 529.9h11.75v11.74h-11.75zM441.1 529.9h11.75v11.74h-11.75zM499.8 529.9h11.75v11.74h-11.75zM605.5 529.9h11.75v11.74h-11.75zM217.9 541.6h11.75v11.74h-11.75zM452.8 541.6h11.75v11.74h-11.75zM511.5 541.6h11.75v11.74h-11.75zM523.3 541.6h11.75v11.74h-11.75zM582.0 541.6h11.75v11.74h-11.75zM629.0 541.6h11.75v11.74h-11.75zM323.6 553.3h11.75v11.74h-11.75zM335.4 553.3h11.75v11.74h-11.75zM429.3 553.3h11.75v11.74h-11.75zM441.1 553.3h11.75v11.74h-11.75zM476.3 553.3h11.75v11.74h-11.75zM499.8 553.3h11.75v11.74h-11.75zM535.0 553.3h11.75v11.74h-11.75zM217.9 565.1h11.75v11.74h-11.75zM264.9 565.1h11.75v11.74h-11.75zM323.6 565.1h11.75v11.74h-11.75zM617.3 565.1h11.75v11.74h-11.75zM652.5 565.1h11.75v11.74h-11.75zM264.9 576.8h11.75v11.74h-11.75zM405.8 576.8h11.75v11.74h-11.75zM441.1 576.8h11.75v11.74h-11.75zM499.8 576.8h11.75v11.74h-11.75zM535.0 576.8h11.75v11.74h-11.75zM558.5 576.8h11.75v11.74h-11.75zM264.9 588.5h11.75v11.74h-11.75zM288.4 588.5h11.75v11.74h-11.75zM347.1 588.5h11.75v11.74h-11.75zM358.8 588.5h11.75v11.74h-11.75zM370.6 588.5h11.75v11.74h-11.75zM405.8 588.5h11.75v11.74h-11.75zM464.6 588.5h11.75v11.74h-11.75zM229.6 600.3h11.75v11.74h-11.75zM253.1 600.3h11.75v11.74h-11.75zM264.9 600.3h11.75v11.74h-11.75zM300.1 600.3h11.75v11.74h-11.75zM405.8 600.3h11.75v11.74h-11.75zM441.1 600.3h11.75v11.74h-11.75zM488.1 600.3h11.75v11.74h-11.75zM499.8 600.3h11.75v11.74h-11.75zM511.5 600.3h11.75v11.74h-11.75zM241.4 612.0h11.75v11.74h-11.75zM253.1 612.0h11.75v11.74h-11.75zM441.1 612.0h11.75v11.74h-11.75zM441.1 623.7h11.75v11.74h-11.75zM499.8 623.7h11.75v11.74h-11.75zM523.3 623.7h11.75v11.74h-11.75zM605.5 623.7h11.75v11.74h-11.75zM264.9 635.5h11.75v11.74h-11.75zM288.4 635.5h11.75v11.74h-11.75zM323.6 635.5h11.75v11.74h-11.75zM347.1 635.5h11.75v11.74h-11.75zM405.8 635.5h11.75v11.74h-11.75zM535.0 635.5h11.75v11.74h-11.75zM170.9 647.2h11.75v11.74h-11.75zM640.8 647.2h11.75v11.74h-11.75zM687.7 647.2h11.75v11.74h-11.75zM734.7 647.2h11.75v11.74h-11.75zM264.9 659.0h11.75v11.74h-11.75zM323.6 659.0h11.75v11.74h-11.75zM488.1 659.0h11.75v11.74h-11.75zM593.8 659.0h11.75v11.74h-11.75zM605.5 659.0h11.75v11.74h-11.75zM629.0 659.0h11.75v11.74h-11.75zM640.8 659.0h11.75v11.74h-11.75zM676.0 659.0h11.75v11.74h-11.75zM734.7 659.0h11.75v11.74h-11.75zM323.6 670.7h11.75v11.74h-11.75zM535.0 670.7h11.75v11.74h-11.75zM593.8 670.7h11.75v11.74h-11.75zM652.5 670.7h11.75v11.74h-11.75zM687.7 670.7h11.75v11.74h-11.75zM699.5 670.7h11.75v11.74h-11.75zM194.4 682.4h11.75v11.74h-11.75zM206.1 682.4h11.75v11.74h-11.75zM405.8 682.4h11.75v11.74h-11.75zM452.8 682.4h11.75v11.74h-11.75zM582.0 682.4h11.75v11.74h-11.75zM593.8 682.4h11.75v11.74h-11.75zM288.4 694.2h11.75v11.74h-11.75zM370.6 694.2h11.75v11.74h-11.75zM558.5 694.2h11.75v11.74h-11.75zM605.5 694.2h11.75v11.74h-11.75zM241.4 705.9h11.75v11.74h-11.75zM288.4 705.9h11.75v11.74h-11.75zM523.3 705.9h11.75v11.74h-11.75zM558.5 705.9h11.75v11.74h-11.75zM264.9 717.6h11.75v11.74h-11.75zM300.1 717.6h11.75v11.74h-11.75zM488.1 717.6h11.75v11.74h-11.75zM499.8 717.6h11.75v11.74h-11.75zM652.5 717.6h11.75v11.74h-11.75zM781.7 717.6h11.75v11.74h-11.75zM170.9 729.4h11.75v11.74h-11.75zM288.4 729.4h11.75v11.74h-11.75zM452.8 729.4h11.75v11.74h-11.75zM582.0 729.4h11.75v11.74h-11.75zM652.5 729.4h11.75v11.74h-11.75zM828.7 729.4h11.75v11.74h-11.75zM394.1 741.1h11.75v11.74h-11.75zM676.0 741.1h11.75v11.74h-11.75zM229.6 752.8h11.75v11.74h-11.75zM253.1 752.8h11.75v11.74h-11.75zM264.9 752.8h11.75v11.74h-11.75zM300.1 752.8h11.75v11.74h-11.75zM441.1 752.8h11.75v11.74h-11.75zM488.1 752.8h11.75v11.74h-11.75zM499.8 752.8h11.75v11.74h-11.75zM511.5 752.8h11.75v11.74h-11.75zM840.4 752.8h11.75v11.74h-11.75zM194.4 764.6h11.75v11.74h-11.75zM229.6 764.6h11.75v11.74h-11.75zM558.5 764.6h11.75v11.74h-11.75zM664.3 764.6h11.75v11.74h-11.75zM770.0 764.6h11.75v11.74h-11.75zM793.5 764.6h11.75v11.74h-11.75zM229.6 776.3h11.75v11.74h-11.75zM253.1 776.3h11.75v11.74h-11.75zM264.9 776.3h11.75v11.74h-11.75zM300.1 776.3h11.75v11.74h-11.75zM441.1 776.3h11.75v11.74h-11.75zM488.1 776.3h11.75v11.74h-11.75zM499.8 776.3h11.75v11.74h-11.75zM511.5 776.3h11.75v11.74h-11.75zM840.4 776.3h11.75v11.74h-11.75zM206.1 788.1h11.75v11.74h-11.75zM229.6 788.1h11.75v11.74h-11.75zM241.4 788.1h11.75v11.74h-11.75zM253.1 788.1h11.75v11.74h-11.75zM288.4 788.1h11.75v11.74h-11.75zM347.1 788.1h11.75v11.74h-11.75zM476.3 788.1h11.75v11.74h-11.75zM488.1 788.1h11.75v11.74h-11.75zM640.8 788.1h11.75v11.74h-11.75zM758.2 788.1h11.75v11.74h-11.75zM840.4 788.1h11.75v11.74h-11.75zM194.4 799.8h11.75v11.74h-11.75zM241.4 799.8h11.75v11.74h-11.75zM405.8 799.8h11.75v11.74h-11.75zM523.3 799.8h11.75v11.74h-11.75zM629.0 799.8h11.75v11.74h-11.75zM664.3 799.8h11.75v11.74h-11.75zM875.7 799.8h11.75v11.74h-11.75zM229.6 811.5h11.75v11.74h-11.75zM264.9 811.5h11.75v11.74h-11.75zM405.8 811.5h11.75v11.74h-11.75zM441.1 811.5h11.75v11.74h-11.75zM499.8 811.5h11.75v11.74h-11.75zM558.5 811.5h11.75v11.74h-11.75zM781.7 811.5h11.75v11.74h-11.75zM840.4 811.5h11.75v11.74h-11.75zM264.9 823.3h11.75v11.74h-11.75zM347.1 823.3h11.75v11.74h-11.75zM370.6 823.3h11.75v11.74h-11.75zM382.3 823.3h11.75v11.74h-11.75zM511.5 823.3h11.75v11.74h-11.75zM734.7 823.3h11.75v11.74h-11.75zM781.7 823.3h11.75v11.74h-11.75zM840.4 823.3h11.75v11.74h-11.75zM264.9 835.0h11.75v11.74h-11.75zM358.8 835.0h11.75v11.74h-11.75zM405.8 835.0h11.75v11.74h-11.75zM452.8 835.0h11.75v11.74h-11.75zM464.6 835.0h11.75v11.74h-11.75zM734.7 835.0h11.75v11.74h-11.75zM758.2 835.0h11.75v11.74h-11.75zM840.4 835.0h11.75v11.74h-11.75zM875.7 835.0h11.75v11.74h-11.75zM170.9 846.7h11.75v11.74h-11.75zM241.4 846.7h11.75v11.74h-11.75zM370.6 846.7h11.75v11.74h-11.75zM723.0 846.7h11.75v11.74h-11.75zM758.2 846.7h11.75v11.74h-11.75zM840.4 846.7h11.75v11.74h-11.75zM194.4 858.5h11.75v11.74h-11.75zM217.9 858.5h11.75v11.74h-11.75zM535.0 858.5h11.75v11.74h-11.75zM605.5 858.5h11.75v11.74h-11.75zM652.5 858.5h11.75v11.74h-11.75zM664.3 858.5h11.75v11.74h-11.75zM229.6 870.2h11.75v11.74h-11.75zM253.1 870.2h11.75v11.74h-11.75zM264.9 870.2h11.75v11.74h-11.75zM300.1 870.2h11.75v11.74h-11.75zM441.1 870.2h11.75v11.74h-11.75zM488.1 870.2h11.75v11.74h-11.75zM499.8 870.2h11.75v11.74h-11.75zM511.5 870.2h11.75v11.74h-11.75zM840.4 870.2h11.75v11.74h-11.75zM217.9 881.9h11.75v11.74h-11.75zM405.8 881.9h11.75v11.74h-11.75zM441.1 881.9h11.75v11.74h-11.75zM605.5 881.9h11.75v11.74h-11.75zM687.7 881.9h11.75v11.74h-11.75zM758.2 881.9h11.75v11.74h-11.75zM770.0 881.9h11.75v11.74h-11.75zM793.5 881.9h11.75v11.74h-11.75zM957.9 881.9h11.75v11.74h-11.75zM206.1 893.7h11.75v11.74h-11.75zM229.6 893.7h11.75v11.74h-11.75zM300.1 893.7h11.75v11.74h-11.75zM335.4 893.7h11.75v11.74h-11.75zM405.8 893.7h11.75v11.74h-11.75zM417.6 893.7h11.75v11.74h-11.75zM511.5 893.7h11.75v11.74h-11.75zM582.0 893.7h11.75v11.74h-11.75zM605.5 893.7h11.75v11.74h-11.75zM617.3 893.7h11.75v11.74h-11.75zM629.0 893.7h11.75v11.74h-11.75zM758.2 893.7h11.75v11.74h-11.75zM828.7 893.7h11.75v11.74h-11.75zM840.4 893.7h11.75v11.74h-11.75zM875.7 893.7h11.75v11.74h-11.75zM957.9 893.7h11.75v11.74h-11.75zM229.6 905.4h11.75v11.74h-11.75zM253.1 905.4h11.75v11.74h-11.75zM264.9 905.4h11.75v11.74h-11.75zM300.1 905.4h11.75v11.74h-11.75zM441.1 905.4h11.75v11.74h-11.75zM488.1 905.4h11.75v11.74h-11.75zM499.8 905.4h11.75v11.74h-11.75zM511.5 905.4h11.75v11.74h-11.75zM840.4 905.4h11.75v11.74h-11.75zM264.9 917.2h11.75v11.74h-11.75zM382.3 917.2h11.75v11.74h-11.75zM441.1 917.2h11.75v11.74h-11.75zM758.2 917.2h11.75v11.74h-11.75zM840.4 917.2h11.75v11.74h-11.75zM957.9 917.2h11.75v11.74h-11.75zM206.1 928.9h11.75v11.74h-11.75zM264.9 928.9h11.75v11.74h-11.75zM288.4 928.9h11.75v11.74h-11.75zM957.9 928.9h11.75v11.74h-11.75zM229.6 940.6h11.75v11.74h-11.75zM253.1 940.6h11.75v11.74h-11.75zM264.9 940.6h11.75v11.74h-11.75zM300.1 940.6h11.75v11.74h-11.75zM441.1 940.6h11.75v11.74h-11.75zM488.1 940.6h11.75v11.74h-11.75zM499.8 940.6h11.75v11.74h-11.75zM511.5 940.6h11.75v11.74h-11.75zM840.4 940.6h11.75v11.74h-11.75zM264.9 952.4h11.75v11.74h-11.75zM370.6 952.4h11.75v11.74h-11.75zM382.3 952.4h11.75v11.74h-11.75zM558.5 952.4h11.75v11.74h-11.75zM593.8 952.4h11.75v11.74h-11.75zM758.2 952.4h11.75v11.74h-11.75zM840.4 952.4h11.75v11.74h-11.75zM957.9 952.4h11.75v11.74h-11.75zM170.9 964.1h11.75v11.74h-11.75zM206.1 964.1h11.75v11.74h-11.75zM241.4 964.1h11.75v11.74h-11.75zM429.3 964.1h11.75v11.74h-11.75zM441.1 964.1h11.75v11.74h-11.75zM629.0 964.1h11.75v11.74h-11.75zM817.0 964.1h11.75v11.74h-11.75zM828.7 964.1h11.75v11.74h-11.75zM1040.1 964.1h11.75v11.74h-11.75zM241.4 975.8h11.75v11.74h-11.75zM264.9 975.8h11.75v11.74h-11.75zM323.6 975.8h11.75v11.74h-11.75zM523.3 975.8h11.75v11.74h-11.75zM535.0 975.8h11.75v11.74h-11.75zM793.5 975.8h11.75v11.74h-11.75zM840.4 975.8h11.75v11.74h-11.75zM957.9 975.8h11.75v11.74h-11.75zM1075.4 975.8h11.75v11.74h-11.75zM241.4 987.6h11.75v11.74h-11.75zM264.9 987.6h11.75v11.74h-11.75zM323.6 987.6h11.75v11.74h-11.75zM523.3 987.6h11.75v11.74h-11.75zM535.0 987.6h11.75v11.74h-11.75zM957.9 987.6h11.75v11.74h-11.75zM1075.4 987.6h11.75v11.74h-11.75zM206.1 999.3h11.75v11.74h-11.75zM229.6 999.3h11.75v11.74h-11.75zM300.1 999.3h11.75v11.74h-11.75zM405.8 999.3h11.75v11.74h-11.75zM711.2 999.3h11.75v11.74h-11.75zM746.5 999.3h11.75v11.74h-11.75zM770.0 999.3h11.75v11.74h-11.75zM910.9 999.3h11.75v11.74h-11.75zM170.9 1011.0h11.75v11.74h-11.75zM288.4 1011.0h11.75v11.74h-11.75zM535.0 1011.0h11.75v11.74h-11.75zM817.0 1011.0h11.75v11.74h-11.75zM1063.6 1011.0h11.75v11.74h-11.75zM1087.1 1011.0h11.75v11.74h-11.75zM1098.9 1011.0h11.75v11.74h-11.75zM1110.6 1011.0h11.75v11.74h-11.75zM229.6 1022.8h11.75v11.74h-11.75zM253.1 1022.8h11.75v11.74h-11.75zM264.9 1022.8h11.75v11.74h-11.75zM300.1 1022.8h11.75v11.74h-11.75zM441.1 1022.8h11.75v11.74h-11.75zM488.1 1022.8h11.75v11.74h-11.75zM499.8 1022.8h11.75v11.74h-11.75zM511.5 1022.8h11.75v11.74h-11.75zM840.4 1022.8h11.75v11.74h-11.75zM300.1 1034.5h11.75v11.74h-11.75zM347.1 1034.5h11.75v11.74h-11.75zM476.3 1034.5h11.75v11.74h-11.75zM488.1 1034.5h11.75v11.74h-11.75zM582.0 1034.5h11.75v11.74h-11.75zM699.5 1034.5h11.75v11.74h-11.75zM723.0 1034.5h11.75v11.74h-11.75zM781.7 1034.5h11.75v11.74h-11.75zM828.7 1034.5h11.75v11.74h-11.75zM922.7 1034.5h11.75v11.74h-11.75zM934.4 1034.5h11.75v11.74h-11.75zM946.2 1034.5h11.75v11.74h-11.75zM1040.1 1034.5h11.75v11.74h-11.75zM1110.6 1034.5h11.75v11.74h-11.75zM217.9 1046.3h11.75v11.74h-11.75zM288.4 1046.3h11.75v11.74h-11.75zM452.8 1046.3h11.75v11.74h-11.75zM828.7 1046.3h11.75v11.74h-11.75zM875.7 1046.3h11.75v11.74h-11.75zM934.4 1046.3h11.75v11.74h-11.75zM1075.4 1046.3h11.75v11.74h-11.75zM1110.6 1046.3h11.75v11.74h-11.75zM194.4 1058.0h11.75v11.74h-11.75zM217.9 1058.0h11.75v11.74h-11.75zM300.1 1058.0h11.75v11.74h-11.75zM370.6 1058.0h11.75v11.74h-11.75zM535.0 1058.0h11.75v11.74h-11.75zM664.3 1058.0h11.75v11.74h-11.75zM957.9 1058.0h11.75v11.74h-11.75zM1004.9 1058.0h11.75v11.74h-11.75zM229.6 1069.7h11.75v11.74h-11.75zM253.1 1069.7h11.75v11.74h-11.75zM499.8 1069.7h11.75v11.74h-11.75zM558.5 1069.7h11.75v11.74h-11.75zM1075.4 1069.7h11.75v11.74h-11.75zM1145.9 1069.7h11.75v11.74h-11.75zM1157.6 1069.7h11.75v11.74h-11.75zM253.1 1081.5h11.75v11.74h-11.75zM288.4 1081.5h11.75v11.74h-11.75zM441.1 1081.5h11.75v11.74h-11.75zM546.8 1081.5h11.75v11.74h-11.75zM605.5 1081.5h11.75v11.74h-11.75zM746.5 1081.5h11.75v11.74h-11.75zM394.1 1093.2h11.75v11.74h-11.75zM429.3 1093.2h11.75v11.74h-11.75zM511.5 1093.2h11.75v11.74h-11.75zM558.5 1093.2h11.75v11.74h-11.75zM582.0 1093.2h11.75v11.74h-11.75zM629.0 1093.2h11.75v11.74h-11.75zM699.5 1093.2h11.75v11.74h-11.75zM793.5 1093.2h11.75v11.74h-11.75zM934.4 1093.2h11.75v11.74h-11.75zM946.2 1093.2h11.75v11.74h-11.75zM1040.1 1093.2h11.75v11.74h-11.75zM253.1 1104.9h11.75v11.74h-11.75zM746.5 1104.9h11.75v11.74h-11.75zM910.9 1104.9h11.75v11.74h-11.75zM957.9 1104.9h11.75v11.74h-11.75zM394.1 1116.7h11.75v11.74h-11.75zM429.3 1116.7h11.75v11.74h-11.75zM288.4 1128.4h11.75v11.74h-11.75zM452.8 1128.4h11.75v11.74h-11.75zM546.8 1128.4h11.75v11.74h-11.75zM629.0 1128.4h11.75v11.74h-11.75zM652.5 1128.4h11.75v11.74h-11.75zM711.2 1128.4h11.75v11.74h-11.75zM793.5 1128.4h11.75v11.74h-11.75zM828.7 1128.4h11.75v11.74h-11.75zM863.9 1128.4h11.75v11.74h-11.75zM875.7 1128.4h11.75v11.74h-11.75zM887.4 1128.4h11.75v11.74h-11.75zM899.2 1128.4h11.75v11.74h-11.75zM922.7 1128.4h11.75v11.74h-11.75zM981.4 1128.4h11.75v11.74h-11.75zM1016.6 1128.4h11.75v11.74h-11.75zM1051.9 1128.4h11.75v11.74h-11.75zM1110.6 1128.4h11.75v11.74h-11.75zM1134.1 1128.4h11.75v11.74h-11.75zM1181.1 1128.4h11.75v11.74h-11.75zM382.3 1140.1h11.75v11.74h-11.75zM511.5 1140.1h11.75v11.74h-11.75zM652.5 1140.1h11.75v11.74h-11.75zM828.7 1140.1h11.75v11.74h-11.75zM934.4 1140.1h11.75v11.74h-11.75zM957.9 1140.1h11.75v11.74h-11.75zM1181.1 1140.1h11.75v11.74h-11.75zM217.9 1151.9h11.75v11.74h-11.75zM335.4 1151.9h11.75v11.74h-11.75zM405.8 1151.9h11.75v11.74h-11.75zM652.5 1151.9h11.75v11.74h-11.75zM793.5 1163.6h11.75v11.74h-11.75zM1075.4 1163.6h11.75v11.74h-11.75zM170.9 1175.4h11.75v11.74h-11.75zM194.4 1175.4h11.75v11.74h-11.75zM276.6 1175.4h11.75v11.74h-11.75zM288.4 1175.4h11.75v11.74h-11.75zM523.3 1175.4h11.75v11.74h-11.75zM546.8 1175.4h11.75v11.74h-11.75zM558.5 1175.4h11.75v11.74h-11.75zM570.3 1175.4h11.75v11.74h-11.75zM640.8 1175.4h11.75v11.74h-11.75zM699.5 1175.4h11.75v11.74h-11.75zM723.0 1175.4h11.75v11.74h-11.75zM805.2 1175.4h11.75v11.74h-11.75zM934.4 1175.4h11.75v11.74h-11.75zM1028.4 1175.4h11.75v11.74h-11.75zM1192.8 1175.4h11.75v11.74h-11.75zM1204.6 1175.4h11.75v11.74h-11.75zM170.9 1187.1h11.75v11.74h-11.75zM546.8 1187.1h11.75v11.74h-11.75zM570.3 1187.1h11.75v11.74h-11.75zM711.2 1187.1h11.75v11.74h-11.75zM805.2 1187.1h11.75v11.74h-11.75zM863.9 1187.1h11.75v11.74h-11.75zM887.4 1187.1h11.75v11.74h-11.75zM922.7 1187.1h11.75v11.74h-11.75zM981.4 1187.1h11.75v11.74h-11.75zM1016.6 1187.1h11.75v11.74h-11.75zM1051.9 1187.1h11.75v11.74h-11.75zM1122.4 1187.1h11.75v11.74h-11.75zM1134.1 1187.1h11.75v11.74h-11.75zM1169.3 1187.1h11.75v11.74h-11.75zM1239.8 1187.1h11.75v11.74h-11.75zM1275.1 1187.1h11.75v11.74h-11.75zM394.1 1198.8h11.75v11.74h-11.75zM570.3 1198.8h11.75v11.74h-11.75zM652.5 1198.8h11.75v11.74h-11.75zM922.7 1198.8h11.75v11.74h-11.75zM946.2 1198.8h11.75v11.74h-11.75zM993.2 1198.8h11.75v11.74h-11.75zM1251.6 1198.8h11.75v11.74h-11.75zM1298.6 1198.8h11.75v11.74h-11.75zM335.4 1210.6h11.75v11.74h-11.75zM476.3 1210.6h11.75v11.74h-11.75zM1004.9 1210.6h11.75v11.74h-11.75z"/>
<path fill="#cb8c8c" d="M182.6 130.8h11.75v11.74h-11.75zM182.6 154.3h11.75v11.74h-11.75zM241.4 213.0h11.75v11.74h-11.75zM276.6 213.0h11.75v11.74h-11.75zM170.9 224.7h11.75v11.74h-11.75zM300.1 259.9h11.75v11.74h-11.75zM217.9 271.7h11.75v11.74h-11.75zM288.4 271.7h11.75v11.74h-11.75zM347.1 295.1h11.75v11.74h-11.75zM229.6 318.6h11.75v11.74h-11.75zM253.1 318.6h11.75v11.74h-11.75zM311.9 330.3h11.75v11.74h-11.75zM335.4 330.3h11.75v11.74h-11.75zM335.4 342.1h11.75v11.74h-11.75zM370.6 342.1h11.75v11.74h-11.75zM394.1 342.1h11.75v11.74h-11.75zM429.3 342.1h11.75v11.74h-11.75zM229.6 377.3h11.75v11.74h-11.75zM347.1 377.3h11.75v11.74h-11.75zM311.9 389.0h11.75v11.74h-11.75zM394.1 412.5h11.75v11.74h-11.75zM405.8 412.5h11.75v11.74h-11.75zM358.8 424.2h11.75v11.74h-11.75zM464.6 424.2h11.75v11.74h-11.75zM347.1 482.9h11.75v11.74h-11.75zM535.0 494.6h11.75v11.74h-11.75zM170.9 506.4h11.75v11.74h-11.75zM511.5 506.4h11.75v11.74h-11.75zM311.9 518.1h11.75v11.74h-11.75zM335.4 518.1h11.75v11.74h-11.75zM370.6 518.1h11.75v11.74h-11.75zM417.6 518.1h11.75v11.74h-11.75zM535.0 518.1h11.75v11.74h-11.75zM593.8 518.1h11.75v11.74h-11.75zM323.6 529.9h11.75v11.74h-11.75zM358.8 529.9h11.75v11.74h-11.75zM464.6 529.9h11.75v11.74h-11.75zM511.5 529.9h11.75v11.74h-11.75zM535.0 529.9h11.75v11.74h-11.75zM488.1 541.6h11.75v11.74h-11.75zM535.0 541.6h11.75v11.74h-11.75zM311.9 565.1h11.75v11.74h-11.75zM488.1 565.1h11.75v11.74h-11.75zM546.8 565.1h11.75v11.74h-11.75zM582.0 565.1h11.75v11.74h-11.75zM629.0 565.1h11.75v11.74h-11.75zM664.3 565.1h11.75v11.74h-11.75zM582.0 576.8h11.75v11.74h-11.75zM605.5 576.8h11.75v11.74h-11.75zM217.9 588.5h11.75v11.74h-11.75zM617.3 600.3h11.75v11.74h-11.75zM429.3 612.0h11.75v11.74h-11.75zM358.8 623.7h11.75v11.74h-11.75zM464.6 623.7h11.75v11.74h-11.75zM476.3 623.7h11.75v11.74h-11.75zM511.5 623.7h11.75v11.74h-11.75zM570.3 635.5h11.75v11.74h-11.75zM617.3 635.5h11.75v11.74h-11.75zM676.0 635.5h11.75v11.74h-11.75zM687.7 635.5h11.75v11.74h-11.75zM241.4 647.2h11.75v11.74h-11.75zM511.5 647.2h11.75v11.74h-11.75zM652.5 647.2h11.75v11.74h-11.75zM206.1 659.0h11.75v11.74h-11.75zM652.5 659.0h11.75v11.74h-11.75zM241.4 670.7h11.75v11.74h-11.75zM276.6 670.7h11.75v11.74h-11.75zM476.3 670.7h11.75v11.74h-11.75zM323.6 682.4h11.75v11.74h-11.75zM476.3 682.4h11.75v11.74h-11.75zM676.0 682.4h11.75v11.74h-11.75zM687.7 682.4h11.75v11.74h-11.75zM394.1 694.2h11.75v11.74h-11.75zM417.6 694.2h11.75v11.74h-11.75zM335.4 705.9h11.75v11.74h-11.75zM417.6 705.9h11.75v11.74h-11.75zM570.3 705.9h11.75v11.74h-11.75zM687.7 705.9h11.75v11.74h-11.75zM417.6 717.6h11.75v11.74h-11.75zM476.3 717.6h11.75v11.74h-11.75zM241.4 729.4h11.75v11.74h-11.75zM593.8 729.4h11.75v11.74h-11.75zM217.9 741.1h11.75v11.74h-11.75zM370.6 741.1h11.75v11.74h-11.75zM640.8 741.1h11.75v11.74h-11.75zM781.7 741.1h11.75v11.74h-11.75zM817.0 741.1h11.75v11.74h-11.75zM617.3 752.8h11.75v11.74h-11.75zM311.9 764.6h11.75v11.74h-11.75zM488.1 764.6h11.75v11.74h-11.75zM511.5 764.6h11.75v11.74h-11.75zM617.3 776.3h11.75v11.74h-11.75zM182.6 788.1h11.75v11.74h-11.75zM194.4 788.1h11.75v11.74h-11.75zM652.5 788.1h11.75v11.74h-11.75zM676.0 788.1h11.75v11.74h-11.75zM206.1 799.8h11.75v11.74h-11.75zM276.6 799.8h11.75v11.74h-11.75zM300.1 799.8h11.75v11.74h-11.75zM311.9 799.8h11.75v11.74h-11.75zM417.6 799.8h11.75v11.74h-11.75zM617.3 799.8h11.75v11.74h-11.75zM417.6 811.5h11.75v11.74h-11.75zM617.3 811.5h11.75v11.74h-11.75zM535.0 835.0h11.75v11.74h-11.75zM852.2 835.0h11.75v11.74h-11.75zM182.6 846.7h11.75v11.74h-11.75zM394.1 846.7h11.75v11.74h-11.75zM535.0 846.7h11.75v11.74h-11.75zM676.0 846.7h11.75v11.74h-11.75zM206.1 858.5h11.75v11.74h-11.75zM276.6 858.5h11.75v11.74h-11.75zM429.3 858.5h11.75v11.74h-11.75zM488.1 858.5h11.75v11.74h-11.75zM617.3 870.2h11.75v11.74h-11.75zM358.8 881.9h11.75v11.74h-11.75zM382.3 881.9h11.75v11.74h-11.75zM464.6 881.9h11.75v11.74h-11.75zM617.3 881.9h11.75v11.74h-11.75zM617.3 905.4h11.75v11.74h-11.75zM570.3 917.2h11.75v11.74h-11.75zM676.0 917.2h11.75v11.74h-11.75zM617.3 940.6h11.75v11.74h-11.75zM570.3 952.4h11.75v11.74h-11.75zM676.0 952.4h11.75v11.74h-11.75zM687.7 952.4h11.75v11.74h-11.75zM300.1 964.1h11.75v11.74h-11.75zM652.5 964.1h11.75v11.74h-11.75zM570.3 975.8h11.75v11.74h-11.75zM617.3 975.8h11.75v11.74h-11.75zM687.7 975.8h11.75v11.74h-11.75zM852.2 975.8h11.75v11.74h-11.75zM570.3 987.6h11.75v11.74h-11.75zM617.3 987.6h11.75v11.74h-11.75zM687.7 987.6h11.75v11.74h-11.75zM852.2 987.6h11.75v11.74h-11.75zM358.8 999.3h11.75v11.74h-11.75zM605.5 1011.0h11.75v11.74h-11.75zM617.3 1022.8h11.75v11.74h-11.75zM241.4 1034.5h11.75v11.74h-11.75zM652.5 1034.5h11.75v11.74h-11.75zM488.1 1046.3h11.75v11.74h-11.75zM852.2 1046.3h11.75v11.74h-11.75zM206.1 1058.0h11.75v11.74h-11.75zM276.6 1058.0h11.75v11.74h-11.75zM358.8 1058.0h11.75v11.74h-11.75zM417.6 1058.0h11.75v11.74h-11.75zM488.1 1058.0h11.75v11.74h-11.75zM217.9 1069.7h11.75v11.74h-11.75zM217.9 1081.5h11.75v11.74h-11.75zM300.1 1081.5h11.75v11.74h-11.75zM617.3 1081.5h11.75v11.74h-11.75zM852.2 1081.5h11.75v11.74h-11.75zM194.4 1093.2h11.75v11.74h-11.75zM840.4 1093.2h11.75v11.74h-11.75zM1169.3 1093.2h11.75v11.74h-11.75zM311.9 1104.9h11.75v11.74h-11.75zM323.6 1104.9h11.75v11.74h-11.75zM335.4 1104.9h11.75v11.74h-11.75zM464.6 1104.9h11.75v11.74h-11.75zM535.0 1104.9h11.75v11.74h-11.75zM617.3 1104.9h11.75v11.74h-11.75zM593.8 1116.7h11.75v11.74h-11.75zM640.8 1116.7h11.75v11.74h-11.75zM734.7 1116.7h11.75v11.74h-11.75zM828.7 1116.7h11.75v11.74h-11.75zM840.4 1116.7h11.75v11.74h-11.75zM875.7 1116.7h11.75v11.74h-11.75zM934.4 1116.7h11.75v11.74h-11.75zM1040.1 1116.7h11.75v11.74h-11.75zM1181.1 1116.7h11.75v11.74h-11.75zM1192.8 1116.7h11.75v11.74h-11.75zM488.1 1128.4h11.75v11.74h-11.75zM323.6 1140.1h11.75v11.74h-11.75zM593.8 1140.1h11.75v11.74h-11.75zM770.0 1140.1h11.75v11.74h-11.75zM969.7 1140.1h11.75v11.74h-11.75zM993.2 1140.1h11.75v11.74h-11.75zM1145.9 1140.1h11.75v11.74h-11.75zM241.4 1151.9h11.75v11.74h-11.75zM370.6 1151.9h11.75v11.74h-11.75zM382.3 1151.9h11.75v11.74h-11.75zM441.1 1151.9h11.75v11.74h-11.75zM488.1 1151.9h11.75v11.74h-11.75zM499.8 1151.9h11.75v11.74h-11.75zM629.0 1151.9h11.75v11.74h-11.75zM1157.6 1151.9h11.75v11.74h-11.75zM1192.8 1151.9h11.75v11.74h-11.75zM264.9 1163.6h11.75v11.74h-11.75zM758.2 1163.6h11.75v11.74h-11.75zM840.4 1163.6h11.75v11.74h-11.75zM382.3 1175.4h11.75v11.74h-11.75zM394.1 1175.4h11.75v11.74h-11.75zM687.7 1175.4h11.75v11.74h-11.75zM910.9 1175.4h11.75v11.74h-11.75zM182.6 1187.1h11.75v11.74h-11.75zM382.3 1187.1h11.75v11.74h-11.75zM441.1 1187.1h11.75v11.74h-11.75zM617.3 1187.1h11.75v11.74h-11.75zM758.2 1187.1h11.75v11.74h-11.75zM229.6 1198.8h11.75v11.74h-11.75zM253.1 1198.8h11.75v11.74h-11.75zM323.6 1198.8h11.75v11.74h-11.75zM347.1 1198.8h11.75v11.74h-11.75zM441.1 1198.8h11.75v11.74h-11.75zM499.8 1198.8h11.75v11.74h-11.75zM523.3 1198.8h11.75v11.74h-11.75zM664.3 1198.8h11.75v11.74h-11.75zM676.0 1198.8h11.75v11.74h-11.75zM805.2 1198.8h11.75v11.74h-11.75zM1004.9 1198.8h11.75v11.74h-11.75zM1110.6 1198.8h11.75v11.74h-11.75zM170.9 1210.6h11.75v11.74h-11.75zM300.1 1210.6h11.75v11.74h-11.75zM652.5 1210.6h11.75v11.74h-11.75zM746.5 1210.6h11.75v11.74h-11.75zM946.2 1210.6h11.75v11.74h-11.75zM1275.1 1210.6h11.75v11.74h-11.75z"/>
<path fill="#65659f" d="M206.1 130.8h11.75v11.74h-11.75zM206.1 166.0h11.75v11.74h-11.75zM241.4 166.0h11.75v11.74h-11.75zM300.1 213.0h11.75v11.74h-11.75zM264.9 236.4h11.75v11.74h-11.75zM206.1 248.2h11.75v11.74h-11.75zM311.9 248.2h11.75v11.74h-11.75zM335.4 248.2h11.75v11.74h-11.75zM370.6 271.7h11.75v11.74h-11.75zM182.6 306.9h11.75v11.74h-11.75zM311.9 306.9h11.75v11.74h-11.75zM335.4 306.9h11.75v11.74h-11.75zM394.1 306.9h11.75v11.74h-11.75zM417.6 318.6h11.75v11.74h-11.75zM288.4 342.1h11.75v11.74h-11.75zM300.1 342.1h11.75v11.74h-11.75zM206.1 353.8h11.75v11.74h-11.75zM311.9 353.8h11.75v11.74h-11.75zM335.4 353.8h11.75v11.74h-11.75zM311.9 365.5h11.75v11.74h-11.75zM394.1 365.5h11.75v11.74h-11.75zM206.1 377.3h11.75v11.74h-11.75zM311.9 377.3h11.75v11.74h-11.75zM335.4 377.3h11.75v11.74h-11.75zM382.3 377.3h11.75v11.74h-11.75zM347.1 412.5h11.75v11.74h-11.75zM323.6 424.2h11.75v11.74h-11.75zM441.1 424.2h11.75v11.74h-11.75zM452.8 436.0h11.75v11.74h-11.75zM194.4 447.7h11.75v11.74h-11.75zM347.1 447.7h11.75v11.74h-11.75zM241.4 459.4h11.75v11.74h-11.75zM335.4 459.4h11.75v11.74h-11.75zM217.9 482.9h11.75v11.74h-11.75zM370.6 482.9h11.75v11.74h-11.75zM323.6 506.4h11.75v11.74h-11.75zM417.6 506.4h11.75v11.74h-11.75zM476.3 506.4h11.75v11.74h-11.75zM264.9 518.1h11.75v11.74h-11.75zM347.1 518.1h11.75v11.74h-11.75zM582.0 518.1h11.75v11.74h-11.75zM194.4 529.9h11.75v11.74h-11.75zM288.4 529.9h11.75v11.74h-11.75zM347.1 529.9h11.75v11.74h-11.75zM452.8 529.9h11.75v11.74h-11.75zM558.5 529.9h11.75v11.74h-11.75zM629.0 529.9h11.75v11.74h-11.75zM347.1 541.6h11.75v11.74h-11.75zM170.9 553.3h11.75v11.74h-11.75zM488.1 553.3h11.75v11.74h-11.75zM511.5 553.3h11.75v11.74h-11.75zM546.8 553.3h11.75v11.74h-11.75zM582.0 553.3h11.75v11.74h-11.75zM229.6 565.1h11.75v11.74h-11.75zM253.1 565.1h11.75v11.74h-11.75zM441.1 565.1h11.75v11.74h-11.75zM499.8 565.1h11.75v11.74h-11.75zM217.9 576.8h11.75v11.74h-11.75zM676.0 576.8h11.75v11.74h-11.75zM170.9 588.5h11.75v11.74h-11.75zM452.8 588.5h11.75v11.74h-11.75zM582.0 588.5h11.75v11.74h-11.75zM605.5 588.5h11.75v11.74h-11.75zM629.0 588.5h11.75v11.74h-11.75zM664.3 588.5h11.75v11.74h-11.75zM605.5 600.3h11.75v11.74h-11.75zM664.3 600.3h11.75v11.74h-11.75zM264.9 612.0h11.75v11.74h-11.75zM347.1 612.0h11.75v11.74h-11.75zM582.0 612.0h11.75v11.74h-11.75zM629.0 612.0h11.75v11.74h-11.75zM640.8 612.0h11.75v11.74h-11.75zM347.1 623.7h11.75v11.74h-11.75zM629.0 623.7h11.75v11.74h-11.75zM452.8 635.5h11.75v11.74h-11.75zM664.3 635.5h11.75v11.74h-11.75zM229.6 647.2h11.75v11.74h-11.75zM253.1 647.2h11.75v11.74h-11.75zM499.8 647.2h11.75v11.74h-11.75zM229.6 659.0h11.75v11.74h-11.75zM370.6 659.0h11.75v11.74h-11.75zM711.2 659.0h11.75v11.74h-11.75zM699.5 682.4h11.75v11.74h-11.75zM711.2 682.4h11.75v11.74h-11.75zM758.2 682.4h11.75v11.74h-11.75zM229.6 694.2h11.75v11.74h-11.75zM264.9 694.2h11.75v11.74h-11.75zM499.8 694.2h11.75v11.74h-11.75zM770.0 694.2h11.75v11.74h-11.75zM793.5 694.2h11.75v11.74h-11.75zM629.0 705.9h11.75v11.74h-11.75zM664.3 705.9h11.75v11.74h-11.75zM723.0 705.9h11.75v11.74h-11.75zM770.0 705.9h11.75v11.74h-11.75zM805.2 705.9h11.75v11.74h-11.75zM664.3 717.6h11.75v11.74h-11.75zM723.0 717.6h11.75v11.74h-11.75zM194.4 729.4h11.75v11.74h-11.75zM229.6 729.4h11.75v11.74h-11.75zM499.8 729.4h11.75v11.74h-11.75zM640.8 729.4h11.75v11.74h-11.75zM723.0 729.4h11.75v11.74h-11.75zM770.0 729.4h11.75v11.74h-11.75zM182.6 741.1h11.75v11.74h-11.75zM476.3 741.1h11.75v11.74h-11.75zM617.3 741.1h11.75v11.74h-11.75zM605.5 752.8h11.75v11.74h-11.75zM664.3 752.8h11.75v11.74h-11.75zM770.0 752.8h11.75v11.74h-11.75zM793.5 752.8h11.75v11.74h-11.75zM264.9 764.6h11.75v11.74h-11.75zM546.8 764.6h11.75v11.74h-11.75zM781.7 764.6h11.75v11.74h-11.75zM817.0 764.6h11.75v11.74h-11.75zM605.5 776.3h11.75v11.74h-11.75zM664.3 776.3h11.75v11.74h-11.75zM770.0 776.3h11.75v11.74h-11.75zM793.5 776.3h11.75v11.74h-11.75zM300.1 788.1h11.75v11.74h-11.75zM452.8 788.1h11.75v11.74h-11.75zM629.0 788.1h11.75v11.74h-11.75zM370.6 799.8h11.75v11.74h-11.75zM605.5 799.8h11.75v11.74h-11.75zM758.2 799.8h11.75v11.74h-11.75zM770.0 799.8h11.75v11.74h-11.75zM805.2 799.8h11.75v11.74h-11.75zM863.9 799.8h11.75v11.74h-11.75zM887.4 799.8h11.75v11.74h-11.75zM546.8 811.5h11.75v11.74h-11.75zM664.3 811.5h11.75v11.74h-11.75zM723.0 811.5h11.75v11.74h-11.75zM770.0 811.5h11.75v11.74h-11.75zM805.2 811.5h11.75v11.74h-11.75zM828.7 811.5h11.75v11.74h-11.75zM899.2 811.5h11.75v11.74h-11.75zM910.9 811.5h11.75v11.74h-11.75zM452.8 823.3h11.75v11.74h-11.75zM582.0 823.3h11.75v11.74h-11.75zM605.5 823.3h11.75v11.74h-11.75zM770.0 823.3h11.75v11.74h-11.75zM805.2 823.3h11.75v11.74h-11.75zM382.3 835.0h11.75v11.74h-11.75zM711.2 835.0h11.75v11.74h-11.75zM723.0 835.0h11.75v11.74h-11.75zM805.2 835.0h11.75v11.74h-11.75zM863.9 835.0h11.75v11.74h-11.75zM887.4 835.0h11.75v11.74h-11.75zM405.8 846.7h11.75v11.74h-11.75zM640.8 846.7h11.75v11.74h-11.75zM699.5 846.7h11.75v11.74h-11.75zM734.7 846.7h11.75v11.74h-11.75zM793.5 846.7h11.75v11.74h-11.75zM875.7 846.7h11.75v11.74h-11.75zM229.6 858.5h11.75v11.74h-11.75zM499.8 858.5h11.75v11.74h-11.75zM546.8 858.5h11.75v11.74h-11.75zM640.8 858.5h11.75v11.74h-11.75zM711.2 858.5h11.75v11.74h-11.75zM734.7 858.5h11.75v11.74h-11.75zM746.5 858.5h11.75v11.74h-11.75zM793.5 858.5h11.75v11.74h-11.75zM805.2 858.5h11.75v11.74h-11.75zM828.7 858.5h11.75v11.74h-11.75zM934.4 858.5h11.75v11.74h-11.75zM605.5 870.2h11.75v11.74h-11.75zM664.3 870.2h11.75v11.74h-11.75zM770.0 870.2h11.75v11.74h-11.75zM793.5 870.2h11.75v11.74h-11.75zM910.9 870.2h11.75v11.74h-11.75zM946.2 870.2h11.75v11.74h-11.75zM969.7 870.2h11.75v11.74h-11.75zM170.9 881.9h11.75v11.74h-11.75zM264.9 881.9h11.75v11.74h-11.75zM582.0 881.9h11.75v11.74h-11.75zM817.0 881.9h11.75v11.74h-11.75zM875.7 881.9h11.75v11.74h-11.75zM488.1 893.7h11.75v11.74h-11.75zM699.5 893.7h11.75v11.74h-11.75zM711.2 893.7h11.75v11.74h-11.75zM770.0 893.7h11.75v11.74h-11.75zM863.9 893.7h11.75v11.74h-11.75zM887.4 893.7h11.75v11.74h-11.75zM981.4 893.7h11.75v11.74h-11.75zM605.5 905.4h11.75v11.74h-11.75zM664.3 905.4h11.75v11.74h-11.75zM770.0 905.4h11.75v11.74h-11.75zM793.5 905.4h11.75v11.74h-11.75zM910.9 905.4h11.75v11.74h-11.75zM946.2 905.4h11.75v11.74h-11.75zM969.7 905.4h11.75v11.74h-11.75zM452.8 917.2h11.75v11.74h-11.75zM629.0 917.2h11.75v11.74h-11.75zM770.0 917.2h11.75v11.74h-11.75zM793.5 917.2h11.75v11.74h-11.75zM910.9 917.2h11.75v11.74h-11.75zM969.7 917.2h11.75v11.74h-11.75zM629.0 928.9h11.75v11.74h-11.75zM664.3 928.9h11.75v11.74h-11.75zM969.7 928.9h11.75v11.74h-11.75zM605.5 940.6h11.75v11.74h-11.75zM664.3 940.6h11.75v11.74h-11.75zM770.0 940.6h11.75v11.74h-11.75zM793.5 940.6h11.75v11.74h-11.75zM910.9 940.6h11.75v11.74h-11.75zM946.2 940.6h11.75v11.74h-11.75zM969.7 940.6h11.75v11.74h-11.75zM452.8 952.4h11.75v11.74h-11.75zM664.3 952.4h11.75v11.74h-11.75zM723.0 952.4h11.75v11.74h-11.75zM770.0 952.4h11.75v11.74h-11.75zM793.5 952.4h11.75v11.74h-11.75zM805.2 952.4h11.75v11.74h-11.75zM910.9 952.4h11.75v11.74h-11.75zM946.2 952.4h11.75v11.74h-11.75zM488.1 964.1h11.75v11.74h-11.75zM770.0 964.1h11.75v11.74h-11.75zM805.2 964.1h11.75v11.74h-11.75zM946.2 964.1h11.75v11.74h-11.75zM1004.9 964.1h11.75v11.74h-11.75zM300.1 975.8h11.75v11.74h-11.75zM629.0 975.8h11.75v11.74h-11.75zM664.3 975.8h11.75v11.74h-11.75zM805.2 975.8h11.75v11.74h-11.75zM875.7 975.8h11.75v11.74h-11.75zM922.7 975.8h11.75v11.74h-11.75zM969.7 975.8h11.75v11.74h-11.75zM993.2 975.8h11.75v11.74h-11.75zM300.1 987.6h11.75v11.74h-11.75zM629.0 987.6h11.75v11.74h-11.75zM664.3 987.6h11.75v11.74h-11.75zM875.7 987.6h11.75v11.74h-11.75zM922.7 987.6h11.75v11.74h-11.75zM969.7 987.6h11.75v11.74h-11.75zM993.2 987.6h11.75v11.74h-11.75zM452.8 999.3h11.75v11.74h-11.75zM840.4 999.3h11.75v11.74h-11.75zM194.4 1011.0h11.75v11.74h-11.75zM264.9 1011.0h11.75v11.74h-11.75zM347.1 1011.0h11.75v11.74h-11.75zM441.1 1011.0h11.75v11.74h-11.75zM676.0 1011.0h11.75v11.74h-11.75zM781.7 1011.0h11.75v11.74h-11.75zM969.7 1011.0h11.75v11.74h-11.75zM605.5 1022.8h11.75v11.74h-11.75zM664.3 1022.8h11.75v11.74h-11.75zM770.0 1022.8h11.75v11.74h-11.75zM793.5 1022.8h11.75v11.74h-11.75zM910.9 1022.8h11.75v11.74h-11.75zM946.2 1022.8h11.75v11.74h-11.75zM969.7 1022.8h11.75v11.74h-11.75zM229.6 1034.5h11.75v11.74h-11.75zM253.1 1034.5h11.75v11.74h-11.75zM523.3 1034.5h11.75v11.74h-11.75zM535.0 1034.5h11.75v11.74h-11.75zM758.2 1034.5h11.75v11.74h-11.75zM805.2 1034.5h11.75v11.74h-11.75zM1004.9 1034.5h11.75v11.74h-11.75zM535.0 1046.3h11.75v11.74h-11.75zM805.2 1046.3h11.75v11.74h-11.75zM1122.4 1046.3h11.75v11.74h-11.75zM1145.9 1046.3h11.75v11.74h-11.75zM229.6 1058.0h11.75v11.74h-11.75zM499.8 1058.0h11.75v11.74h-11.75zM546.8 1058.0h11.75v11.74h-11.75zM640.8 1058.0h11.75v11.74h-11.75zM711.2 1058.0h11.75v11.74h-11.75zM723.0 1058.0h11.75v11.74h-11.75zM770.0 1058.0h11.75v11.74h-11.75zM805.2 1058.0h11.75v11.74h-11.75zM817.0 1058.0h11.75v11.74h-11.75zM828.7 1058.0h11.75v11.74h-11.75zM863.9 1058.0h11.75v11.74h-11.75zM887.4 1058.0h11.75v11.74h-11.75zM910.9 1058.0h11.75v11.74h-11.75zM922.7 1058.0h11.75v11.74h-11.75zM981.4 1058.0h11.75v11.74h-11.75zM1016.6 1058.0h11.75v11.74h-11.75zM1028.4 1058.0h11.75v11.74h-11.75zM1040.1 1058.0h11.75v11.74h-11.75zM1051.9 1058.0h11.75v11.74h-11.75zM1134.1 1058.0h11.75v11.74h-11.75zM664.3 1069.7h11.75v11.74h-11.75zM723.0 1069.7h11.75v11.74h-11.75zM734.7 1069.7h11.75v11.74h-11.75zM805.2 1069.7h11.75v11.74h-11.75zM875.7 1069.7h11.75v11.74h-11.75zM922.7 1069.7h11.75v11.74h-11.75zM969.7 1069.7h11.75v11.74h-11.75zM1051.9 1069.7h11.75v11.74h-11.75zM1110.6 1069.7h11.75v11.74h-11.75zM1169.3 1069.7h11.75v11.74h-11.75zM194.4 1081.5h11.75v11.74h-11.75zM347.1 1081.5h11.75v11.74h-11.75zM805.2 1081.5h11.75v11.74h-11.75zM969.7 1081.5h11.75v11.74h-11.75zM1122.4 1081.5h11.75v11.74h-11.75zM582.0 1104.9h11.75v11.74h-11.75zM805.2 1104.9h11.75v11.74h-11.75zM817.0 1104.9h11.75v11.74h-11.75zM1040.1 1104.9h11.75v11.74h-11.75zM1110.6 1104.9h11.75v11.74h-11.75zM1181.1 1104.9h11.75v11.74h-11.75zM1192.8 1104.9h11.75v11.74h-11.75zM206.1 1116.7h11.75v11.74h-11.75zM276.6 1116.7h11.75v11.74h-11.75zM335.4 1116.7h11.75v11.74h-11.75zM358.8 1116.7h11.75v11.74h-11.75zM464.6 1116.7h11.75v11.74h-11.75zM852.2 1116.7h11.75v11.74h-11.75zM1204.6 1116.7h11.75v11.74h-11.75zM194.4 1128.4h11.75v11.74h-11.75zM264.9 1128.4h11.75v11.74h-11.75zM347.1 1128.4h11.75v11.74h-11.75zM676.0 1128.4h11.75v11.74h-11.75zM758.2 1128.4h11.75v11.74h-11.75zM770.0 1128.4h11.75v11.74h-11.75zM805.2 1128.4h11.75v11.74h-11.75zM1145.9 1128.4h11.75v11.74h-11.75zM1169.3 1128.4h11.75v11.74h-11.75zM1216.3 1128.4h11.75v11.74h-11.75zM358.8 1140.1h11.75v11.74h-11.75zM464.6 1140.1h11.75v11.74h-11.75zM488.1 1140.1h11.75v11.74h-11.75zM852.2 1151.9h11.75v11.74h-11.75zM1228.1 1151.9h11.75v11.74h-11.75zM311.9 1163.6h11.75v11.74h-11.75zM358.8 1163.6h11.75v11.74h-11.75zM464.6 1163.6h11.75v11.74h-11.75zM488.1 1163.6h11.75v11.74h-11.75zM605.5 1163.6h11.75v11.74h-11.75zM664.3 1163.6h11.75v11.74h-11.75zM828.7 1163.6h11.75v11.74h-11.75zM899.2 1163.6h11.75v11.74h-11.75zM1040.1 1163.6h11.75v11.74h-11.75zM1204.6 1163.6h11.75v11.74h-11.75zM1251.6 1163.6h11.75v11.74h-11.75zM206.1 1175.4h11.75v11.74h-11.75zM1216.3 1175.4h11.75v11.74h-11.75zM264.9 1187.1h11.75v11.74h-11.75zM347.1 1187.1h11.75v11.74h-11.75zM452.8 1187.1h11.75v11.74h-11.75zM723.0 1187.1h11.75v11.74h-11.75zM734.7 1187.1h11.75v11.74h-11.75zM1192.8 1187.1h11.75v11.74h-11.75zM358.8 1198.8h11.75v11.74h-11.75zM523.3 1210.6h11.75v11.74h-11.75zM770.0 1210.6h11.75v11.74h-11.75zM1122.4 1210.6h11.75v11.74h-11.75zM1145.9 1210.6h11.75v11.74h-11.75z"/>
<path fill="#e6e6ef" d="M217.9 142.6h11.75v11.74h-11.75zM182.6 166.0h11.75v11.74h-11.75zM182.6 177.8h11.75v11.74h-11.75zM276.6 177.8h11.75v11.74h-11.75zM206.1 189.5h11.75v11.74h-11.75zM170.9 213.0h11.75v11.74h-11.75zM288.4 213.0h11.75v11.74h-11.75zM300.1 224.7h11.75v11.74h-11.75zM217.9 259.9h11.75v11.74h-11.75zM229.6 259.9h11.75v11.74h-11.75zM241.4 259.9h11.75v11.74h-11.75zM253.1 259.9h11.75v11.74h-11.75zM335.4 259.9h11.75v11.74h-11.75zM206.1 283.4h11.75v11.74h-11.75zM276.6 283.4h11.75v11.74h-11.75zM264.9 295.1h11.75v11.74h-11.75zM206.1 306.9h11.75v11.74h-11.75zM276.6 318.6h11.75v11.74h-11.75zM300.1 330.3h11.75v11.74h-11.75zM370.6 353.8h11.75v11.74h-11.75zM370.6 365.5h11.75v11.74h-11.75zM323.6 377.3h11.75v11.74h-11.75zM300.1 389.0h11.75v11.74h-11.75zM464.6 400.8h11.75v11.74h-11.75zM288.4 412.5h11.75v11.74h-11.75zM206.1 436.0h11.75v11.74h-11.75zM370.6 436.0h11.75v11.74h-11.75zM405.8 436.0h11.75v11.74h-11.75zM488.1 436.0h11.75v11.74h-11.75zM170.9 447.7h11.75v11.74h-11.75zM241.4 447.7h11.75v11.74h-11.75zM253.1 447.7h11.75v11.74h-11.75zM499.8 447.7h11.75v11.74h-11.75zM511.5 459.4h11.75v11.74h-11.75zM441.1 471.2h11.75v11.74h-11.75zM523.3 471.2h11.75v11.74h-11.75zM311.9 482.9h11.75v11.74h-11.75zM382.3 482.9h11.75v11.74h-11.75zM417.6 482.9h11.75v11.74h-11.75zM441.1 482.9h11.75v11.74h-11.75zM546.8 482.9h11.75v11.74h-11.75zM394.1 494.6h11.75v11.74h-11.75zM206.1 506.4h11.75v11.74h-11.75zM253.1 506.4h11.75v11.74h-11.75zM488.1 506.4h11.75v11.74h-11.75zM535.0 506.4h11.75v11.74h-11.75zM229.6 518.1h11.75v11.74h-11.75zM253.1 518.1h11.75v11.74h-11.75zM511.5 518.1h11.75v11.74h-11.75zM206.1 541.6h11.75v11.74h-11.75zM241.4 541.6h11.75v11.74h-11.75zM570.3 541.6h11.75v11.74h-11.75zM347.1 553.3h11.75v11.74h-11.75zM464.6 553.3h11.75v11.74h-11.75zM288.4 565.1h11.75v11.74h-11.75zM370.6 576.8h11.75v11.74h-11.75zM640.8 576.8h11.75v11.74h-11.75zM276.6 588.5h11.75v11.74h-11.75zM311.9 588.5h11.75v11.74h-11.75zM206.1 600.3h11.75v11.74h-11.75zM347.1 600.3h11.75v11.74h-11.75zM429.3 600.3h11.75v11.74h-11.75zM535.0 600.3h11.75v11.74h-11.75zM558.5 600.3h11.75v11.74h-11.75zM288.4 612.0h11.75v11.74h-11.75zM370.6 612.0h11.75v11.74h-11.75zM511.5 612.0h11.75v11.74h-11.75zM535.0 612.0h11.75v11.74h-11.75zM593.8 612.0h11.75v11.74h-11.75zM511.5 635.5h11.75v11.74h-11.75zM429.3 647.2h11.75v11.74h-11.75zM546.8 647.2h11.75v11.74h-11.75zM617.3 647.2h11.75v11.74h-11.75zM699.5 647.2h11.75v11.74h-11.75zM194.4 659.0h11.75v11.74h-11.75zM347.1 659.0h11.75v11.74h-11.75zM429.3 659.0h11.75v11.74h-11.75zM511.5 659.0h11.75v11.74h-11.75zM358.8 682.4h11.75v11.74h-11.75zM464.6 682.4h11.75v11.74h-11.75zM499.8 682.4h11.75v11.74h-11.75zM781.7 682.4h11.75v11.74h-11.75zM300.1 694.2h11.75v11.74h-11.75zM323.6 694.2h11.75v11.74h-11.75zM206.1 705.9h11.75v11.74h-11.75zM535.0 705.9h11.75v11.74h-11.75zM652.5 705.9h11.75v11.74h-11.75zM758.2 705.9h11.75v11.74h-11.75zM229.6 717.6h11.75v11.74h-11.75zM276.6 717.6h11.75v11.74h-11.75zM288.4 717.6h11.75v11.74h-11.75zM464.6 717.6h11.75v11.74h-11.75zM546.8 729.4h11.75v11.74h-11.75zM664.3 729.4h11.75v11.74h-11.75zM699.5 729.4h11.75v11.74h-11.75zM711.2 729.4h11.75v11.74h-11.75zM746.5 729.4h11.75v11.74h-11.75zM276.6 741.1h11.75v11.74h-11.75zM511.5 741.1h11.75v11.74h-11.75zM206.1 752.8h11.75v11.74h-11.75zM347.1 752.8h11.75v11.74h-11.75zM405.8 752.8h11.75v11.74h-11.75zM429.3 752.8h11.75v11.74h-11.75zM535.0 752.8h11.75v11.74h-11.75zM206.1 764.6h11.75v11.74h-11.75zM323.6 764.6h11.75v11.74h-11.75zM441.1 764.6h11.75v11.74h-11.75zM499.8 764.6h11.75v11.74h-11.75zM617.3 764.6h11.75v11.74h-11.75zM758.2 764.6h11.75v11.74h-11.75zM206.1 776.3h11.75v11.74h-11.75zM347.1 776.3h11.75v11.74h-11.75zM405.8 776.3h11.75v11.74h-11.75zM429.3 776.3h11.75v11.74h-11.75zM535.0 776.3h11.75v11.74h-11.75zM311.9 788.1h11.75v11.74h-11.75zM452.8 799.8h11.75v11.74h-11.75zM206.1 811.5h11.75v11.74h-11.75zM253.1 811.5h11.75v11.74h-11.75zM358.8 811.5h11.75v11.74h-11.75zM429.3 811.5h11.75v11.74h-11.75zM464.6 811.5h11.75v11.74h-11.75zM288.4 823.3h11.75v11.74h-11.75zM311.9 823.3h11.75v11.74h-11.75zM358.8 823.3h11.75v11.74h-11.75zM405.8 823.3h11.75v11.74h-11.75zM441.1 823.3h11.75v11.74h-11.75zM464.6 823.3h11.75v11.74h-11.75zM499.8 823.3h11.75v11.74h-11.75zM758.2 823.3h11.75v11.74h-11.75zM429.3 835.0h11.75v11.74h-11.75zM593.8 835.0h11.75v11.74h-11.75zM253.1 846.7h11.75v11.74h-11.75zM300.1 846.7h11.75v11.74h-11.75zM323.6 846.7h11.75v11.74h-11.75zM476.3 846.7h11.75v11.74h-11.75zM558.5 846.7h11.75v11.74h-11.75zM582.0 846.7h11.75v11.74h-11.75zM770.0 846.7h11.75v11.74h-11.75zM817.0 846.7h11.75v11.74h-11.75zM828.7 846.7h11.75v11.74h-11.75zM300.1 858.5h11.75v11.74h-11.75zM370.6 858.5h11.75v11.74h-11.75zM511.5 858.5h11.75v11.74h-11.75zM957.9 858.5h11.75v11.74h-11.75zM206.1 870.2h11.75v11.74h-11.75zM347.1 870.2h11.75v11.74h-11.75zM405.8 870.2h11.75v11.74h-11.75zM429.3 870.2h11.75v11.74h-11.75zM535.0 870.2h11.75v11.74h-11.75zM946.2 881.9h11.75v11.74h-11.75zM241.4 893.7h11.75v11.74h-11.75zM452.8 893.7h11.75v11.74h-11.75zM852.2 893.7h11.75v11.74h-11.75zM969.7 893.7h11.75v11.74h-11.75zM206.1 905.4h11.75v11.74h-11.75zM347.1 905.4h11.75v11.74h-11.75zM405.8 905.4h11.75v11.74h-11.75zM429.3 905.4h11.75v11.74h-11.75zM535.0 905.4h11.75v11.74h-11.75zM206.1 917.2h11.75v11.74h-11.75zM288.4 917.2h11.75v11.74h-11.75zM370.6 917.2h11.75v11.74h-11.75zM488.1 917.2h11.75v11.74h-11.75zM523.3 917.2h11.75v11.74h-11.75zM535.0 917.2h11.75v11.74h-11.75zM558.5 917.2h11.75v11.74h-11.75zM593.8 917.2h11.75v11.74h-11.75zM229.6 928.9h11.75v11.74h-11.75zM276.6 928.9h11.75v11.74h-11.75zM358.8 928.9h11.75v11.74h-11.75zM464.6 928.9h11.75v11.74h-11.75zM488.1 928.9h11.75v11.74h-11.75zM499.8 928.9h11.75v11.74h-11.75zM558.5 928.9h11.75v11.74h-11.75zM593.8 928.9h11.75v11.74h-11.75zM652.5 928.9h11.75v11.74h-11.75zM840.4 928.9h11.75v11.74h-11.75zM206.1 940.6h11.75v11.74h-11.75zM347.1 940.6h11.75v11.74h-11.75zM405.8 940.6h11.75v11.74h-11.75zM429.3 940.6h11.75v11.74h-11.75zM288.4 952.4h11.75v11.74h-11.75zM488.1 952.4h11.75v11.74h-11.75zM523.3 952.4h11.75v11.74h-11.75zM535.0 952.4h11.75v11.74h-11.75zM229.6 964.1h11.75v11.74h-11.75zM311.9 964.1h11.75v11.74h-11.75zM394.1 964.1h11.75v11.74h-11.75zM511.5 964.1h11.75v11.74h-11.75zM523.3 964.1h11.75v11.74h-11.75zM558.5 964.1h11.75v11.74h-11.75zM582.0 964.1h11.75v11.74h-11.75zM969.7 964.1h11.75v11.74h-11.75zM593.8 975.8h11.75v11.74h-11.75zM758.2 975.8h11.75v11.74h-11.75zM593.8 987.6h11.75v11.74h-11.75zM758.2 987.6h11.75v11.74h-11.75zM382.3 999.3h11.75v11.74h-11.75zM441.1 999.3h11.75v11.74h-11.75zM499.8 999.3h11.75v11.74h-11.75zM523.3 999.3h11.75v11.74h-11.75zM605.5 999.3h11.75v11.74h-11.75zM664.3 999.3h11.75v11.74h-11.75zM758.2 999.3h11.75v11.74h-11.75zM852.2 999.3h11.75v11.74h-11.75zM217.9 1011.0h11.75v11.74h-11.75zM582.0 1011.0h11.75v11.74h-11.75zM629.0 1011.0h11.75v11.74h-11.75zM793.5 1011.0h11.75v11.74h-11.75zM1028.4 1011.0h11.75v11.74h-11.75zM206.1 1022.8h11.75v11.74h-11.75zM347.1 1022.8h11.75v11.74h-11.75zM405.8 1022.8h11.75v11.74h-11.75zM429.3 1022.8h11.75v11.74h-11.75zM535.0 1022.8h11.75v11.74h-11.75zM394.1 1034.5h11.75v11.74h-11.75zM617.3 1034.5h11.75v11.74h-11.75zM629.0 1034.5h11.75v11.74h-11.75zM793.5 1034.5h11.75v11.74h-11.75zM852.2 1034.5h11.75v11.74h-11.75zM300.1 1046.3h11.75v11.74h-11.75zM405.8 1046.3h11.75v11.74h-11.75zM558.5 1046.3h11.75v11.74h-11.75zM664.3 1046.3h11.75v11.74h-11.75zM793.5 1046.3h11.75v11.74h-11.75zM652.5 1058.0h11.75v11.74h-11.75zM687.7 1058.0h11.75v11.74h-11.75zM1075.4 1058.0h11.75v11.74h-11.75zM382.3 1069.7h11.75v11.74h-11.75zM441.1 1069.7h11.75v11.74h-11.75zM488.1 1069.7h11.75v11.74h-11.75zM511.5 1069.7h11.75v11.74h-11.75zM899.2 1081.5h11.75v11.74h-11.75zM1145.9 1081.5h11.75v11.74h-11.75zM452.8 1093.2h11.75v11.74h-11.75zM664.3 1093.2h11.75v11.74h-11.75zM723.0 1093.2h11.75v11.74h-11.75zM922.7 1093.2h11.75v11.74h-11.75zM1181.1 1093.2h11.75v11.74h-11.75zM288.4 1104.9h11.75v11.74h-11.75zM300.1 1104.9h11.75v11.74h-11.75zM488.1 1104.9h11.75v11.74h-11.75zM511.5 1116.7h11.75v11.74h-11.75zM652.5 1116.7h11.75v11.74h-11.75zM1004.9 1128.4h11.75v11.74h-11.75zM1040.1 1128.4h11.75v11.74h-11.75zM1075.4 1128.4h11.75v11.74h-11.75zM394.1 1140.1h11.75v11.74h-11.75zM429.3 1140.1h11.75v11.74h-11.75zM476.3 1140.1h11.75v11.74h-11.75zM558.5 1140.1h11.75v11.74h-11.75zM723.0 1140.1h11.75v11.74h-11.75zM922.7 1140.1h11.75v11.74h-11.75zM1040.1 1140.1h11.75v11.74h-11.75zM1110.6 1140.1h11.75v11.74h-11.75zM1192.8 1140.1h11.75v11.74h-11.75zM300.1 1151.9h11.75v11.74h-11.75zM323.6 1151.9h11.75v11.74h-11.75zM358.8 1151.9h11.75v11.74h-11.75zM464.6 1151.9h11.75v11.74h-11.75zM323.6 1163.6h11.75v11.74h-11.75zM1110.6 1163.6h11.75v11.74h-11.75zM1216.3 1163.6h11.75v11.74h-11.75zM182.6 1175.4h11.75v11.74h-11.75zM488.1 1175.4h11.75v11.74h-11.75zM781.7 1175.4h11.75v11.74h-11.75zM957.9 1175.4h11.75v11.74h-11.75zM993.2 1175.4h11.75v11.74h-11.75zM1004.9 1175.4h11.75v11.74h-11.75zM1063.6 1175.4h11.75v11.74h-11.75zM1122.4 1175.4h11.75v11.74h-11.75zM1145.9 1175.4h11.75v11.74h-11.75zM1239.8 1175.4h11.75v11.74h-11.75zM746.5 1187.1h11.75v11.74h-11.75zM899.2 1187.1h11.75v11.74h-11.75zM910.9 1187.1h11.75v11.74h-11.75zM1228.1 1187.1h11.75v11.74h-11.75zM311.9 1198.8h11.75v11.74h-11.75zM640.8 1198.8h11.75v11.74h-11.75zM711.2 1198.8h11.75v11.74h-11.75zM723.0 1198.8h11.75v11.74h-11.75zM863.9 1198.8h11.75v11.74h-11.75zM887.4 1198.8h11.75v11.74h-11.75zM957.9 1198.8h11.75v11.74h-11.75zM981.4 1198.8h11.75v11.74h-11.75zM1016.6 1198.8h11.75v11.74h-11.75zM1051.9 1198.8h11.75v11.74h-11.75zM1134.1 1198.8h11.75v11.74h-11.75zM1169.3 1198.8h11.75v11.74h-11.75zM1228.1 1198.8h11.75v11.74h-11.75zM194.4 1210.6h11.75v11.74h-11.75zM311.9 1210.6h11.75v11.74h-11.75zM405.8 1210.6h11.75v11.74h-11.75zM852.2 1210.6h11.75v11.74h-11.75z"/>
<path fill="#242477" d="M229.6 142.6h11.75v11.74h-11.75zM311.9 224.7h11.75v11.74h-11.75zM311.9 283.4h11.75v11.74h-11.75zM394.1 318.6h11.75v11.74h-11.75zM229.6 330.3h11.75v11.74h-11.75zM253.1 330.3h11.75v11.74h-11.75zM358.8 353.8h11.75v11.74h-11.75zM417.6 365.5h11.75v11.74h-11.75zM229.6 389.0h11.75v11.74h-11.75zM441.1 389.0h11.75v11.74h-11.75zM170.9 436.0h11.75v11.74h-11.75zM276.6 459.4h11.75v11.74h-11.75zM170.9 471.2h11.75v11.74h-11.75zM264.9 529.9h11.75v11.74h-11.75zM546.8 600.3h11.75v11.74h-11.75zM699.5 600.3h11.75v11.74h-11.75zM264.9 623.7h11.75v11.74h-11.75zM288.4 623.7h11.75v11.74h-11.75zM640.8 623.7h11.75v11.74h-11.75zM170.9 635.5h11.75v11.74h-11.75zM546.8 635.5h11.75v11.74h-11.75zM699.5 635.5h11.75v11.74h-11.75zM711.2 635.5h11.75v11.74h-11.75zM582.0 705.9h11.75v11.74h-11.75zM582.0 717.6h11.75v11.74h-11.75zM817.0 717.6h11.75v11.74h-11.75zM546.8 752.8h11.75v11.74h-11.75zM699.5 752.8h11.75v11.74h-11.75zM711.2 752.8h11.75v11.74h-11.75zM746.5 752.8h11.75v11.74h-11.75zM452.8 764.6h11.75v11.74h-11.75zM734.7 764.6h11.75v11.74h-11.75zM546.8 776.3h11.75v11.74h-11.75zM699.5 776.3h11.75v11.74h-11.75zM711.2 776.3h11.75v11.74h-11.75zM746.5 776.3h11.75v11.74h-11.75zM863.9 776.3h11.75v11.74h-11.75zM170.9 788.1h11.75v11.74h-11.75zM546.8 788.1h11.75v11.74h-11.75zM664.3 788.1h11.75v11.74h-11.75zM711.2 811.5h11.75v11.74h-11.75zM546.8 823.3h11.75v11.74h-11.75zM699.5 823.3h11.75v11.74h-11.75zM711.2 823.3h11.75v11.74h-11.75zM746.5 823.3h11.75v11.74h-11.75zM863.9 823.3h11.75v11.74h-11.75zM887.4 823.3h11.75v11.74h-11.75zM922.7 823.3h11.75v11.74h-11.75zM793.5 835.0h11.75v11.74h-11.75zM922.7 835.0h11.75v11.74h-11.75zM546.8 870.2h11.75v11.74h-11.75zM699.5 870.2h11.75v11.74h-11.75zM711.2 870.2h11.75v11.74h-11.75zM746.5 870.2h11.75v11.74h-11.75zM863.9 870.2h11.75v11.74h-11.75zM887.4 870.2h11.75v11.74h-11.75zM922.7 870.2h11.75v11.74h-11.75zM934.4 870.2h11.75v11.74h-11.75zM781.7 881.9h11.75v11.74h-11.75zM546.8 905.4h11.75v11.74h-11.75zM699.5 905.4h11.75v11.74h-11.75zM711.2 905.4h11.75v11.74h-11.75zM746.5 905.4h11.75v11.74h-11.75zM863.9 905.4h11.75v11.74h-11.75zM887.4 905.4h11.75v11.74h-11.75zM922.7 905.4h11.75v11.74h-11.75zM934.4 905.4h11.75v11.74h-11.75zM981.4 905.4h11.75v11.74h-11.75zM170.9 917.2h11.75v11.74h-11.75zM546.8 917.2h11.75v11.74h-11.75zM582.0 917.2h11.75v11.74h-11.75zM711.2 917.2h11.75v11.74h-11.75zM746.5 917.2h11.75v11.74h-11.75zM817.0 917.2h11.75v11.74h-11.75zM828.7 917.2h11.75v11.74h-11.75zM863.9 917.2h11.75v11.74h-11.75zM887.4 917.2h11.75v11.74h-11.75zM899.2 917.2h11.75v11.74h-11.75zM981.4 917.2h11.75v11.74h-11.75zM1016.6 917.2h11.75v11.74h-11.75zM170.9 928.9h11.75v11.74h-11.75zM546.8 928.9h11.75v11.74h-11.75zM582.0 928.9h11.75v11.74h-11.75zM817.0 928.9h11.75v11.74h-11.75zM828.7 928.9h11.75v11.74h-11.75zM863.9 928.9h11.75v11.74h-11.75zM887.4 928.9h11.75v11.74h-11.75zM899.2 928.9h11.75v11.74h-11.75zM981.4 928.9h11.75v11.74h-11.75zM1016.6 928.9h11.75v11.74h-11.75zM1028.4 928.9h11.75v11.74h-11.75zM546.8 940.6h11.75v11.74h-11.75zM699.5 940.6h11.75v11.74h-11.75zM711.2 940.6h11.75v11.74h-11.75zM746.5 940.6h11.75v11.74h-11.75zM863.9 940.6h11.75v11.74h-11.75zM887.4 940.6h11.75v11.74h-11.75zM922.7 940.6h11.75v11.74h-11.75zM934.4 940.6h11.75v11.74h-11.75zM981.4 940.6h11.75v11.74h-11.75zM1016.6 940.6h11.75v11.74h-11.75zM1028.4 940.6h11.75v11.74h-11.75zM1040.1 940.6h11.75v11.74h-11.75zM170.9 952.4h11.75v11.74h-11.75zM546.8 952.4h11.75v11.74h-11.75zM582.0 952.4h11.75v11.74h-11.75zM711.2 952.4h11.75v11.74h-11.75zM746.5 952.4h11.75v11.74h-11.75zM817.0 952.4h11.75v11.74h-11.75zM828.7 952.4h11.75v11.74h-11.75zM863.9 952.4h11.75v11.74h-11.75zM887.4 952.4h11.75v11.74h-11.75zM981.4 952.4h11.75v11.74h-11.75zM1016.6 952.4h11.75v11.74h-11.75zM1028.4 952.4h11.75v11.74h-11.75zM1040.1 952.4h11.75v11.74h-11.75zM1051.9 952.4h11.75v11.74h-11.75zM170.9 975.8h11.75v11.74h-11.75zM546.8 975.8h11.75v11.74h-11.75zM582.0 975.8h11.75v11.74h-11.75zM746.5 975.8h11.75v11.74h-11.75zM817.0 975.8h11.75v11.74h-11.75zM899.2 975.8h11.75v11.74h-11.75zM1028.4 975.8h11.75v11.74h-11.75zM1040.1 975.8h11.75v11.74h-11.75zM1063.6 975.8h11.75v11.74h-11.75zM170.9 987.6h11.75v11.74h-11.75zM546.8 987.6h11.75v11.74h-11.75zM582.0 987.6h11.75v11.74h-11.75zM746.5 987.6h11.75v11.74h-11.75zM817.0 987.6h11.75v11.74h-11.75zM899.2 987.6h11.75v11.74h-11.75zM1028.4 987.6h11.75v11.74h-11.75zM1040.1 987.6h11.75v11.74h-11.75zM1063.6 987.6h11.75v11.74h-11.75zM1087.1 987.6h11.75v11.74h-11.75zM546.8 1022.8h11.75v11.74h-11.75zM699.5 1022.8h11.75v11.74h-11.75zM711.2 1022.8h11.75v11.74h-11.75zM746.5 1022.8h11.75v11.74h-11.75zM863.9 1022.8h11.75v11.74h-11.75zM887.4 1022.8h11.75v11.74h-11.75zM922.7 1022.8h11.75v11.74h-11.75zM934.4 1022.8h11.75v11.74h-11.75zM981.4 1022.8h11.75v11.74h-11.75zM1016.6 1022.8h11.75v11.74h-11.75zM1028.4 1022.8h11.75v11.74h-11.75zM1040.1 1022.8h11.75v11.74h-11.75zM1051.9 1022.8h11.75v11.74h-11.75zM1063.6 1022.8h11.75v11.74h-11.75zM229.6 1046.3h11.75v11.74h-11.75zM253.1 1046.3h11.75v11.74h-11.75zM441.1 1046.3h11.75v11.74h-11.75zM499.8 1046.3h11.75v11.74h-11.75zM969.7 1058.0h11.75v11.74h-11.75zM546.8 1069.7h11.75v11.74h-11.75zM629.0 1069.7h11.75v11.74h-11.75zM699.5 1069.7h11.75v11.74h-11.75zM817.0 1069.7h11.75v11.74h-11.75zM934.4 1069.7h11.75v11.74h-11.75zM1087.1 1069.7h11.75v11.74h-11.75zM1098.9 1069.7h11.75v11.74h-11.75zM558.5 1081.5h11.75v11.74h-11.75zM723.0 1081.5h11.75v11.74h-11.75zM276.6 1093.2h11.75v11.74h-11.75zM629.0 1104.9h11.75v11.74h-11.75zM840.4 1104.9h11.75v11.74h-11.75zM570.3 1116.7h11.75v11.74h-11.75zM229.6 1128.4h11.75v11.74h-11.75zM499.8 1128.4h11.75v11.74h-11.75zM523.3 1128.4h11.75v11.74h-11.75zM840.4 1128.4h11.75v11.74h-11.75zM1122.4 1128.4h11.75v11.74h-11.75zM1157.6 1128.4h11.75v11.74h-11.75zM206.1 1140.1h11.75v11.74h-11.75zM441.1 1210.6h11.75v11.74h-11.75zM499.8 1210.6h11.75v11.74h-11.75zM535.0 1210.6h11.75v11.74h-11.75zM758.2 1210.6h11.75v11.74h-11.75zM1157.6 1210.6h11.75v11.74h-11.75z"/>
<path fill="#47478d" d="M194.4 154.3h11.75v11.74h-11.75zM241.4 248.2h11.75v11.74h-11.75zM276.6 248.2h11.75v11.74h-11.75zM335.4 283.4h11.75v11.74h-11.75zM323.6 306.9h11.75v11.74h-11.75zM311.9 318.6h11.75v11.74h-11.75zM335.4 318.6h11.75v11.74h-11.75zM170.9 342.1h11.75v11.74h-11.75zM241.4 353.8h11.75v11.74h-11.75zM276.6 353.8h11.75v11.74h-11.75zM323.6 365.5h11.75v11.74h-11.75zM335.4 365.5h11.75v11.74h-11.75zM253.1 389.0h11.75v11.74h-11.75zM229.6 412.5h11.75v11.74h-11.75zM253.1 412.5h11.75v11.74h-11.75zM441.1 412.5h11.75v11.74h-11.75zM499.8 412.5h11.75v11.74h-11.75zM264.9 447.7h11.75v11.74h-11.75zM206.1 459.4h11.75v11.74h-11.75zM358.8 459.4h11.75v11.74h-11.75zM464.6 459.4h11.75v11.74h-11.75zM452.8 471.2h11.75v11.74h-11.75zM546.8 471.2h11.75v11.74h-11.75zM241.4 494.6h11.75v11.74h-11.75zM452.8 518.1h11.75v11.74h-11.75zM558.5 541.6h11.75v11.74h-11.75zM523.3 565.1h11.75v11.74h-11.75zM546.8 588.5h11.75v11.74h-11.75zM170.9 600.3h11.75v11.74h-11.75zM582.0 600.3h11.75v11.74h-11.75zM558.5 612.0h11.75v11.74h-11.75zM452.8 623.7h11.75v11.74h-11.75zM582.0 635.5h11.75v11.74h-11.75zM370.6 647.2h11.75v11.74h-11.75zM441.1 647.2h11.75v11.74h-11.75zM441.1 659.0h11.75v11.74h-11.75zM499.8 659.0h11.75v11.74h-11.75zM758.2 659.0h11.75v11.74h-11.75zM229.6 670.7h11.75v11.74h-11.75zM253.1 670.7h11.75v11.74h-11.75zM264.9 670.7h11.75v11.74h-11.75zM288.4 670.7h11.75v11.74h-11.75zM640.8 670.7h11.75v11.74h-11.75zM734.7 670.7h11.75v11.74h-11.75zM605.5 682.4h11.75v11.74h-11.75zM723.0 682.4h11.75v11.74h-11.75zM770.0 682.4h11.75v11.74h-11.75zM758.2 694.2h11.75v11.74h-11.75zM170.9 705.9h11.75v11.74h-11.75zM452.8 705.9h11.75v11.74h-11.75zM546.8 705.9h11.75v11.74h-11.75zM699.5 705.9h11.75v11.74h-11.75zM711.2 705.9h11.75v11.74h-11.75zM746.5 705.9h11.75v11.74h-11.75zM170.9 717.6h11.75v11.74h-11.75zM452.8 717.6h11.75v11.74h-11.75zM546.8 717.6h11.75v11.74h-11.75zM629.0 717.6h11.75v11.74h-11.75zM699.5 717.6h11.75v11.74h-11.75zM711.2 717.6h11.75v11.74h-11.75zM746.5 717.6h11.75v11.74h-11.75zM264.9 729.4h11.75v11.74h-11.75zM347.1 729.4h11.75v11.74h-11.75zM523.3 729.4h11.75v11.74h-11.75zM805.2 729.4h11.75v11.74h-11.75zM170.9 752.8h11.75v11.74h-11.75zM582.0 752.8h11.75v11.74h-11.75zM817.0 752.8h11.75v11.74h-11.75zM828.7 752.8h11.75v11.74h-11.75zM288.4 764.6h11.75v11.74h-11.75zM629.0 764.6h11.75v11.74h-11.75zM640.8 764.6h11.75v11.74h-11.75zM170.9 776.3h11.75v11.74h-11.75zM582.0 776.3h11.75v11.74h-11.75zM817.0 776.3h11.75v11.74h-11.75zM828.7 776.3h11.75v11.74h-11.75zM582.0 788.1h11.75v11.74h-11.75zM699.5 788.1h11.75v11.74h-11.75zM711.2 788.1h11.75v11.74h-11.75zM746.5 788.1h11.75v11.74h-11.75zM817.0 788.1h11.75v11.74h-11.75zM828.7 788.1h11.75v11.74h-11.75zM863.9 788.1h11.75v11.74h-11.75zM887.4 788.1h11.75v11.74h-11.75zM723.0 799.8h11.75v11.74h-11.75zM793.5 799.8h11.75v11.74h-11.75zM605.5 811.5h11.75v11.74h-11.75zM699.5 811.5h11.75v11.74h-11.75zM746.5 811.5h11.75v11.74h-11.75zM793.5 811.5h11.75v11.74h-11.75zM817.0 811.5h11.75v11.74h-11.75zM863.9 811.5h11.75v11.74h-11.75zM887.4 811.5h11.75v11.74h-11.75zM170.9 823.3h11.75v11.74h-11.75zM664.3 823.3h11.75v11.74h-11.75zM793.5 823.3h11.75v11.74h-11.75zM817.0 823.3h11.75v11.74h-11.75zM828.7 823.3h11.75v11.74h-11.75zM899.2 823.3h11.75v11.74h-11.75zM605.5 835.0h11.75v11.74h-11.75zM699.5 835.0h11.75v11.74h-11.75zM910.9 835.0h11.75v11.74h-11.75zM934.4 835.0h11.75v11.74h-11.75zM170.9 858.5h11.75v11.74h-11.75zM582.0 858.5h11.75v11.74h-11.75zM723.0 858.5h11.75v11.74h-11.75zM770.0 858.5h11.75v11.74h-11.75zM781.7 858.5h11.75v11.74h-11.75zM817.0 858.5h11.75v11.74h-11.75zM863.9 858.5h11.75v11.74h-11.75zM887.4 858.5h11.75v11.74h-11.75zM910.9 858.5h11.75v11.74h-11.75zM922.7 858.5h11.75v11.74h-11.75zM170.9 870.2h11.75v11.74h-11.75zM582.0 870.2h11.75v11.74h-11.75zM817.0 870.2h11.75v11.74h-11.75zM828.7 870.2h11.75v11.74h-11.75zM899.2 870.2h11.75v11.74h-11.75zM288.4 881.9h11.75v11.74h-11.75zM452.8 881.9h11.75v11.74h-11.75zM640.8 881.9h11.75v11.74h-11.75zM734.7 881.9h11.75v11.74h-11.75zM969.7 881.9h11.75v11.74h-11.75zM382.3 893.7h11.75v11.74h-11.75zM664.3 893.7h11.75v11.74h-11.75zM899.2 893.7h11.75v11.74h-11.75zM170.9 905.4h11.75v11.74h-11.75zM582.0 905.4h11.75v11.74h-11.75zM817.0 905.4h11.75v11.74h-11.75zM828.7 905.4h11.75v11.74h-11.75zM899.2 905.4h11.75v11.74h-11.75zM664.3 917.2h11.75v11.74h-11.75zM699.5 917.2h11.75v11.74h-11.75zM922.7 917.2h11.75v11.74h-11.75zM934.4 917.2h11.75v11.74h-11.75zM452.8 928.9h11.75v11.74h-11.75zM699.5 928.9h11.75v11.74h-11.75zM711.2 928.9h11.75v11.74h-11.75zM746.5 928.9h11.75v11.74h-11.75zM922.7 928.9h11.75v11.74h-11.75zM934.4 928.9h11.75v11.74h-11.75zM170.9 940.6h11.75v11.74h-11.75zM582.0 940.6h11.75v11.74h-11.75zM817.0 940.6h11.75v11.74h-11.75zM828.7 940.6h11.75v11.74h-11.75zM899.2 940.6h11.75v11.74h-11.75zM699.5 952.4h11.75v11.74h-11.75zM899.2 952.4h11.75v11.74h-11.75zM922.7 952.4h11.75v11.74h-11.75zM934.4 952.4h11.75v11.74h-11.75zM969.7 952.4h11.75v11.74h-11.75zM382.3 964.1h11.75v11.74h-11.75zM793.5 964.1h11.75v11.74h-11.75zM452.8 975.8h11.75v11.74h-11.75zM699.5 975.8h11.75v11.74h-11.75zM711.2 975.8h11.75v11.74h-11.75zM828.7 975.8h11.75v11.74h-11.75zM863.9 975.8h11.75v11.74h-11.75zM887.4 975.8h11.75v11.74h-11.75zM934.4 975.8h11.75v11.74h-11.75zM981.4 975.8h11.75v11.74h-11.75zM1016.6 975.8h11.75v11.74h-11.75zM1051.9 975.8h11.75v11.74h-11.75zM452.8 987.6h11.75v11.74h-11.75zM699.5 987.6h11.75v11.74h-11.75zM711.2 987.6h11.75v11.74h-11.75zM828.7 987.6h11.75v11.74h-11.75zM863.9 987.6h11.75v11.74h-11.75zM887.4 987.6h11.75v11.74h-11.75zM934.4 987.6h11.75v11.74h-11.75zM981.4 987.6h11.75v11.74h-11.75zM1016.6 987.6h11.75v11.74h-11.75zM1051.9 987.6h11.75v11.74h-11.75zM264.9 999.3h11.75v11.74h-11.75zM629.0 999.3h11.75v11.74h-11.75zM640.8 999.3h11.75v11.74h-11.75zM734.7 999.3h11.75v11.74h-11.75zM805.2 999.3h11.75v11.74h-11.75zM875.7 999.3h11.75v11.74h-11.75zM957.9 999.3h11.75v11.74h-11.75zM229.6 1011.0h11.75v11.74h-11.75zM253.1 1011.0h11.75v11.74h-11.75zM499.8 1011.0h11.75v11.74h-11.75zM523.3 1011.0h11.75v11.74h-11.75zM840.4 1011.0h11.75v11.74h-11.75zM170.9 1022.8h11.75v11.74h-11.75zM582.0 1022.8h11.75v11.74h-11.75zM817.0 1022.8h11.75v11.74h-11.75zM828.7 1022.8h11.75v11.74h-11.75zM899.2 1022.8h11.75v11.74h-11.75zM1087.1 1022.8h11.75v11.74h-11.75zM1098.9 1022.8h11.75v11.74h-11.75zM441.1 1034.5h11.75v11.74h-11.75zM499.8 1034.5h11.75v11.74h-11.75zM770.0 1034.5h11.75v11.74h-11.75zM523.3 1046.3h11.75v11.74h-11.75zM758.2 1046.3h11.75v11.74h-11.75zM770.0 1046.3h11.75v11.74h-11.75zM781.7 1046.3h11.75v11.74h-11.75zM969.7 1046.3h11.75v11.74h-11.75zM170.9 1058.0h11.75v11.74h-11.75zM582.0 1058.0h11.75v11.74h-11.75zM746.5 1058.0h11.75v11.74h-11.75zM781.7 1058.0h11.75v11.74h-11.75zM993.2 1058.0h11.75v11.74h-11.75zM1063.6 1058.0h11.75v11.74h-11.75zM1087.1 1058.0h11.75v11.74h-11.75zM1098.9 1058.0h11.75v11.74h-11.75zM1157.6 1058.0h11.75v11.74h-11.75zM170.9 1069.7h11.75v11.74h-11.75zM452.8 1069.7h11.75v11.74h-11.75zM582.0 1069.7h11.75v11.74h-11.75zM711.2 1069.7h11.75v11.74h-11.75zM746.5 1069.7h11.75v11.74h-11.75zM828.7 1069.7h11.75v11.74h-11.75zM863.9 1069.7h11.75v11.74h-11.75zM887.4 1069.7h11.75v11.74h-11.75zM899.2 1069.7h11.75v11.74h-11.75zM981.4 1069.7h11.75v11.74h-11.75zM1016.6 1069.7h11.75v11.74h-11.75zM1028.4 1069.7h11.75v11.74h-11.75zM1040.1 1069.7h11.75v11.74h-11.75zM1063.6 1069.7h11.75v11.74h-11.75zM1134.1 1069.7h11.75v11.74h-11.75zM264.9 1081.5h11.75v11.74h-11.75zM640.8 1081.5h11.75v11.74h-11.75zM793.5 1081.5h11.75v11.74h-11.75zM840.4 1081.5h11.75v11.74h-11.75zM206.1 1093.2h11.75v11.74h-11.75zM241.4 1093.2h11.75v11.74h-11.75zM358.8 1093.2h11.75v11.74h-11.75zM464.6 1093.2h11.75v11.74h-11.75zM570.3 1093.2h11.75v11.74h-11.75zM347.1 1104.9h11.75v11.74h-11.75zM723.0 1104.9h11.75v11.74h-11.75zM828.7 1104.9h11.75v11.74h-11.75zM253.1 1128.4h11.75v11.74h-11.75zM441.1 1128.4h11.75v11.74h-11.75zM781.7 1128.4h11.75v11.74h-11.75zM969.7 1128.4h11.75v11.74h-11.75zM241.4 1140.1h11.75v11.74h-11.75zM276.6 1140.1h11.75v11.74h-11.75zM570.3 1140.1h11.75v11.74h-11.75zM1204.6 1140.1h11.75v11.74h-11.75zM1228.1 1140.1h11.75v11.74h-11.75zM182.6 1151.9h11.75v11.74h-11.75zM206.1 1163.6h11.75v11.74h-11.75zM241.4 1163.6h11.75v11.74h-11.75zM699.5 1163.6h11.75v11.74h-11.75zM934.4 1163.6h11.75v11.74h-11.75zM347.1 1175.4h11.75v11.74h-11.75zM629.0 1175.4h11.75v11.74h-11.75zM558.5 1187.1h11.75v11.74h-11.75zM629.0 1187.1h11.75v11.74h-11.75zM640.8 1187.1h11.75v11.74h-11.75zM652.5 1187.1h11.75v11.74h-11.75zM1216.3 1187.1h11.75v11.74h-11.75zM593.8 1198.8h11.75v11.74h-11.75zM229.6 1210.6h11.75v11.74h-11.75zM253.1 1210.6h11.75v11.74h-11.75z"/>
<path fill="#920f0f" d="M229.6 166.0h11.75v11.74h-11.75zM253.1 166.0h11.75v11.74h-11.75zM194.4 201.2h11.75v11.74h-11.75zM264.9 201.2h11.75v11.74h-11.75zM264.9 224.7h11.75v11.74h-11.75zM229.6 248.2h11.75v11.74h-11.75zM253.1 248.2h11.75v11.74h-11.75zM194.4 283.4h11.75v11.74h-11.75zM264.9 283.4h11.75v11.74h-11.75zM264.9 318.6h11.75v11.74h-11.75zM347.1 318.6h11.75v11.74h-11.75zM276.6 330.3h11.75v11.74h-11.75zM229.6 353.8h11.75v11.74h-11.75zM253.1 353.8h11.75v11.74h-11.75zM276.6 389.0h11.75v11.74h-11.75zM358.8 389.0h11.75v11.74h-11.75zM464.6 389.0h11.75v11.74h-11.75zM405.8 400.8h11.75v11.74h-11.75zM358.8 412.5h11.75v11.74h-11.75zM464.6 412.5h11.75v11.74h-11.75zM323.6 447.7h11.75v11.74h-11.75zM417.6 447.7h11.75v11.74h-11.75zM476.3 447.7h11.75v11.74h-11.75zM229.6 459.4h11.75v11.74h-11.75zM253.1 459.4h11.75v11.74h-11.75zM441.1 459.4h11.75v11.74h-11.75zM499.8 459.4h11.75v11.74h-11.75zM311.9 529.9h11.75v11.74h-11.75zM335.4 529.9h11.75v11.74h-11.75zM394.1 529.9h11.75v11.74h-11.75zM241.4 565.1h11.75v11.74h-11.75zM605.5 565.1h11.75v11.74h-11.75zM664.3 576.8h11.75v11.74h-11.75zM182.6 612.0h11.75v11.74h-11.75zM417.6 612.0h11.75v11.74h-11.75zM476.3 612.0h11.75v11.74h-11.75zM182.6 682.4h11.75v11.74h-11.75zM182.6 799.8h11.75v11.74h-11.75zM852.2 799.8h11.75v11.74h-11.75zM182.6 811.5h11.75v11.74h-11.75zM182.6 835.0h11.75v11.74h-11.75zM335.4 881.9h11.75v11.74h-11.75zM652.5 893.7h11.75v11.74h-11.75zM276.6 1034.5h11.75v11.74h-11.75zM276.6 1046.3h11.75v11.74h-11.75zM570.3 1046.3h11.75v11.74h-11.75zM417.6 1081.5h11.75v11.74h-11.75zM476.3 1081.5h11.75v11.74h-11.75zM229.6 1093.2h11.75v11.74h-11.75zM253.1 1093.2h11.75v11.74h-11.75zM441.1 1093.2h11.75v11.74h-11.75zM499.8 1093.2h11.75v11.74h-11.75zM1157.6 1093.2h11.75v11.74h-11.75zM969.7 1116.7h11.75v11.74h-11.75zM1157.6 1116.7h11.75v11.74h-11.75zM1169.3 1116.7h11.75v11.74h-11.75zM358.8 1128.4h11.75v11.74h-11.75zM464.6 1128.4h11.75v11.74h-11.75zM570.3 1128.4h11.75v11.74h-11.75zM711.2 1151.9h11.75v11.74h-11.75zM863.9 1151.9h11.75v11.74h-11.75zM887.4 1151.9h11.75v11.74h-11.75zM922.7 1151.9h11.75v11.74h-11.75zM981.4 1151.9h11.75v11.74h-11.75zM1016.6 1151.9h11.75v11.74h-11.75zM1028.4 1151.9h11.75v11.74h-11.75zM1051.9 1151.9h11.75v11.74h-11.75zM1063.6 1151.9h11.75v11.74h-11.75zM1134.1 1151.9h11.75v11.74h-11.75zM676.0 1163.6h11.75v11.74h-11.75zM593.8 1175.4h11.75v11.74h-11.75zM206.1 1210.6h11.75v11.74h-11.75zM276.6 1210.6h11.75v11.74h-11.75zM452.8 1210.6h11.75v11.74h-11.75zM570.3 1210.6h11.75v11.74h-11.75zM629.0 1210.6h11.75v11.74h-11.75zM1181.1 1210.6h11.75v11.74h-11.75zM1204.6 1210.6h11.75v11.74h-11.75zM1298.6 1210.6h11.75v11.74h-11.75z"/>
<path fill="#b05252" d="M229.6 201.2h11.75v11.74h-11.75zM253.1 201.2h11.75v11.74h-11.75zM253.1 224.7h11.75v11.74h-11.75zM311.9 236.4h11.75v11.74h-11.75zM335.4 236.4h11.75v11.74h-11.75zM194.4 248.2h11.75v11.74h-11.75zM347.1 248.2h11.75v11.74h-11.75zM347.1 259.9h11.75v11.74h-11.75zM347.1 271.7h11.75v11.74h-11.75zM264.9 306.9h11.75v11.74h-11.75zM347.1 306.9h11.75v11.74h-11.75zM288.4 318.6h11.75v11.74h-11.75zM194.4 353.8h11.75v11.74h-11.75zM264.9 365.5h11.75v11.74h-11.75zM206.1 389.0h11.75v11.74h-11.75zM241.4 389.0h11.75v11.74h-11.75zM311.9 412.5h11.75v11.74h-11.75zM335.4 412.5h11.75v11.74h-11.75zM206.1 424.2h11.75v11.74h-11.75zM276.6 424.2h11.75v11.74h-11.75zM429.3 447.7h11.75v11.74h-11.75zM523.3 494.6h11.75v11.74h-11.75zM582.0 506.4h11.75v11.74h-11.75zM394.1 518.1h11.75v11.74h-11.75zM429.3 518.1h11.75v11.74h-11.75zM417.6 529.9h11.75v11.74h-11.75zM370.6 541.6h11.75v11.74h-11.75zM394.1 541.6h11.75v11.74h-11.75zM417.6 541.6h11.75v11.74h-11.75zM429.3 541.6h11.75v11.74h-11.75zM276.6 565.1h11.75v11.74h-11.75zM311.9 612.0h11.75v11.74h-11.75zM323.6 612.0h11.75v11.74h-11.75zM394.1 612.0h11.75v11.74h-11.75zM488.1 623.7h11.75v11.74h-11.75zM182.6 635.5h11.75v11.74h-11.75zM429.3 670.7h11.75v11.74h-11.75zM276.6 694.2h11.75v11.74h-11.75zM335.4 694.2h11.75v11.74h-11.75zM358.8 694.2h11.75v11.74h-11.75zM464.6 694.2h11.75v11.74h-11.75zM570.3 694.2h11.75v11.74h-11.75zM605.5 741.1h11.75v11.74h-11.75zM711.2 741.1h11.75v11.74h-11.75zM746.5 741.1h11.75v11.74h-11.75zM570.3 799.8h11.75v11.74h-11.75zM676.0 835.0h11.75v11.74h-11.75zM687.7 835.0h11.75v11.74h-11.75zM311.9 858.5h11.75v11.74h-11.75zM417.6 858.5h11.75v11.74h-11.75zM394.1 881.9h11.75v11.74h-11.75zM429.3 881.9h11.75v11.74h-11.75zM182.6 928.9h11.75v11.74h-11.75zM687.7 964.1h11.75v11.74h-11.75zM429.3 999.3h11.75v11.74h-11.75zM206.1 1011.0h11.75v11.74h-11.75zM241.4 1011.0h11.75v11.74h-11.75zM276.6 1011.0h11.75v11.74h-11.75zM476.3 1011.0h11.75v11.74h-11.75zM358.8 1034.5h11.75v11.74h-11.75zM335.4 1046.3h11.75v11.74h-11.75zM253.1 1116.7h11.75v11.74h-11.75zM711.2 1116.7h11.75v11.74h-11.75zM206.1 1128.4h11.75v11.74h-11.75zM241.4 1128.4h11.75v11.74h-11.75zM417.6 1128.4h11.75v11.74h-11.75zM523.3 1140.1h11.75v11.74h-11.75zM758.2 1140.1h11.75v11.74h-11.75zM781.7 1140.1h11.75v11.74h-11.75zM723.0 1151.9h11.75v11.74h-11.75zM793.5 1151.9h11.75v11.74h-11.75zM969.7 1151.9h11.75v11.74h-11.75zM1004.9 1151.9h11.75v11.74h-11.75zM1169.3 1151.9h11.75v11.74h-11.75zM1181.1 1151.9h11.75v11.74h-11.75zM1239.8 1163.6h11.75v11.74h-11.75zM429.3 1175.4h11.75v11.74h-11.75zM852.2 1198.8h11.75v11.74h-11.75zM1040.1 1210.6h11.75v11.74h-11.75z"/>
</g>
<g font-family="'Liberation Sans',sans-serif" font-size="7.2" fill="#fff" fill-opacity="0.82" text-anchor="middle">
<text x="176.8" y="152.1">*</text>
<text x="235.5" y="152.1">**</text>
<text x="200.3" y="163.9">**</text>
<text x="247.3" y="175.6">*</text>
<text x="200.3" y="210.8">*</text>
<text x="270.7" y="210.8">*</text>
<text x="294.2" y="210.8">*</text>
<text x="200.3" y="234.3">*</text>
<text x="270.7" y="234.3">**</text>
<text x="317.7" y="234.3">**</text>
<text x="200.3" y="246.0">*</text>
<text x="270.7" y="246.0">*</text>
<text x="341.2" y="246.0">*</text>
<text x="235.5" y="257.8">*</text>
<text x="247.3" y="257.8">*</text>
<text x="376.5" y="281.2">*</text>
<text x="200.3" y="293.0">*</text>
<text x="270.7" y="293.0">**</text>
<text x="294.2" y="293.0">**</text>
<text x="317.7" y="293.0">*</text>
<text x="341.2" y="293.0">*</text>
<text x="353.0" y="293.0">*</text>
<text x="188.5" y="316.4">*</text>
<text x="341.2" y="316.4">*</text>
<text x="376.5" y="328.2">*</text>
<text x="400.0" y="328.2">*</text>
<text x="235.5" y="339.9">***</text>
<text x="259.0" y="339.9">***</text>
<text x="364.7" y="363.4">**</text>
<text x="329.5" y="375.1">**</text>
<text x="341.2" y="375.1">*</text>
<text x="423.4" y="375.1">**</text>
<text x="294.2" y="386.8">*</text>
<text x="317.7" y="386.8">*</text>
<text x="235.5" y="398.6">*</text>
<text x="446.9" y="398.6">*</text>
<text x="411.7" y="410.3">**</text>
<text x="364.7" y="422.1">*</text>
<text x="505.7" y="422.1">*</text>
<text x="176.8" y="445.5">**</text>
<text x="223.8" y="445.5">**</text>
<text x="235.5" y="445.5">*</text>
<text x="259.0" y="445.5">**</text>
<text x="446.9" y="445.5">*</text>
<text x="317.7" y="457.3">*</text>
<text x="329.5" y="457.3">*</text>
<text x="341.2" y="457.3">*</text>
<text x="482.2" y="457.3">*</text>
<text x="212.0" y="469.0">*</text>
<text x="235.5" y="469.0">*</text>
<text x="364.7" y="469.0">*</text>
<text x="446.9" y="469.0">*</text>
<text x="470.4" y="469.0">*</text>
<text x="505.7" y="469.0">**</text>
<text x="176.8" y="480.7">*</text>
<text x="458.7" y="480.7">**</text>
<text x="247.3" y="504.2">*</text>
<text x="470.4" y="504.2">*</text>
<text x="423.4" y="515.9">*</text>
<text x="176.8" y="527.7">*</text>
<text x="223.8" y="527.7">**</text>
<text x="235.5" y="527.7">*</text>
<text x="259.0" y="527.7">***</text>
<text x="446.9" y="527.7">**</text>
<text x="552.7" y="527.7">***</text>
<text x="270.7" y="539.4">*</text>
<text x="294.2" y="539.4">*</text>
<text x="317.7" y="539.4">*</text>
<text x="341.2" y="539.4">*</text>
<text x="400.0" y="539.4">*</text>
<text x="564.4" y="539.4">*</text>
<text x="329.5" y="551.2">*</text>
<text x="388.2" y="551.2">*</text>
<text x="482.2" y="551.2">*</text>
<text x="529.2" y="574.6">*</text>
<text x="493.9" y="586.4">*</text>
<text x="670.1" y="586.4">*</text>
<text x="681.9" y="586.4">*</text>
<text x="176.8" y="598.1">**</text>
<text x="223.8" y="598.1">*</text>
<text x="259.0" y="598.1">*</text>
<text x="446.9" y="598.1">*</text>
<text x="552.7" y="598.1">***</text>
<text x="634.9" y="598.1">**</text>
<text x="176.8" y="609.8">**</text>
<text x="259.0" y="609.8">*</text>
<text x="446.9" y="609.8">*</text>
<text x="552.7" y="609.8">**</text>
<text x="634.9" y="609.8">*</text>
<text x="705.4" y="609.8">***</text>
<text x="176.8" y="621.6">**</text>
<text x="223.8" y="621.6">*</text>
<text x="259.0" y="621.6">*</text>
<text x="270.7" y="621.6">*</text>
<text x="552.7" y="621.6">**</text>
<text x="587.9" y="621.6">*</text>
<text x="634.9" y="621.6">**</text>
<text x="646.6" y="621.6">*</text>
<text x="705.4" y="621.6">**</text>
<text x="717.1" y="621.6">*</text>
<text x="176.8" y="633.3">**</text>
<text x="223.8" y="633.3">*</text>
<text x="235.5" y="633.3">*</text>
<text x="259.0" y="633.3">**</text>
<text x="446.9" y="633.3">*</text>
<text x="552.7" y="633.3">**</text>
<text x="634.9" y="633.3">**</text>
<text x="646.6" y="633.3">*</text>
<text x="705.4" y="633.3">**</text>
<text x="717.1" y="633.3">*</text>
<text x="728.9" y="633.3">**</text>
<text x="176.8" y="645.0">***</text>
<text x="235.5" y="645.0">*</text>
<text x="259.0" y="645.0">**</text>
<text x="446.9" y="645.0">*</text>
<text x="552.7" y="645.0">***</text>
<text x="634.9" y="645.0">**</text>
<text x="705.4" y="645.0">***</text>
<text x="717.1" y="645.0">***</text>
<text x="728.9" y="645.0">*</text>
<text x="740.6" y="645.0">*</text>
<text x="176.8" y="656.8">*</text>
<text x="223.8" y="656.8">**</text>
<text x="235.5" y="656.8">**</text>
<text x="259.0" y="656.8">***</text>
<text x="446.9" y="656.8">***</text>
<text x="552.7" y="656.8">***</text>
<text x="634.9" y="656.8">***</text>
<text x="705.4" y="656.8">**</text>
<text x="717.1" y="656.8">*</text>
<text x="728.9" y="656.8">*</text>
<text x="740.6" y="656.8">**</text>
<text x="752.3" y="656.8">**</text>
<text x="176.8" y="668.5">*</text>
<text x="223.8" y="668.5">*</text>
<text x="235.5" y="668.5">**</text>
<text x="259.0" y="668.5">**</text>
<text x="446.9" y="668.5">***</text>
<text x="505.7" y="668.5">*</text>
<text x="552.7" y="668.5">**</text>
<text x="634.9" y="668.5">**</text>
<text x="705.4" y="668.5">*</text>
<text x="717.1" y="668.5">*</text>
<text x="728.9" y="668.5">*</text>
<text x="740.6" y="668.5">*</text>
<text x="752.3" y="668.5">**</text>
<text x="764.1" y="668.5">**</text>
<text x="176.8" y="680.3">*</text>
<text x="235.5" y="680.3">*</text>
<text x="259.0" y="680.3">*</text>
<text x="294.2" y="680.3">*</text>
<text x="446.9" y="680.3">*</text>
<text x="552.7" y="680.3">*</text>
<text x="634.9" y="680.3">*</text>
<text x="728.9" y="680.3">*</text>
<text x="740.6" y="680.3">**</text>
<text x="764.1" y="680.3">*</text>
<text x="176.8" y="692.0">*</text>
<text x="223.8" y="692.0">**</text>
<text x="259.0" y="692.0">*</text>
<text x="552.7" y="692.0">**</text>
<text x="634.9" y="692.0">**</text>
<text x="705.4" y="692.0">**</text>
<text x="717.1" y="692.0">**</text>
<text x="728.9" y="692.0">**</text>
<text x="740.6" y="692.0">**</text>
<text x="752.3" y="692.0">*</text>
<text x="764.1" y="692.0">**</text>
<text x="775.8" y="692.0">*</text>
<text x="176.8" y="703.7">*</text>
<text x="223.8" y="703.7">**</text>
<text x="235.5" y="703.7">**</text>
<text x="259.0" y="703.7">***</text>
<text x="446.9" y="703.7">**</text>
<text x="552.7" y="703.7">***</text>
<text x="634.9" y="703.7">***</text>
<text x="705.4" y="703.7">**</text>
<text x="717.1" y="703.7">*</text>
<text x="728.9" y="703.7">*</text>
<text x="740.6" y="703.7">**</text>
<text x="752.3" y="703.7">**</text>
<text x="764.1" y="703.7">***</text>
<text x="775.8" y="703.7">**</text>
<text x="787.6" y="703.7">*</text>
<text x="799.3" y="703.7">**</text>
<text x="176.8" y="715.5">***</text>
<text x="259.0" y="715.5">*</text>
<text x="552.7" y="715.5">**</text>
<text x="587.9" y="715.5">*</text>
<text x="634.9" y="715.5">*</text>
<text x="705.4" y="715.5">***</text>
<text x="717.1" y="715.5">**</text>
<text x="728.9" y="715.5">**</text>
<text x="740.6" y="715.5">**</text>
<text x="752.3" y="715.5">***</text>
<text x="775.8" y="715.5">*</text>
<text x="799.3" y="715.5">*</text>
<text x="811.1" y="715.5">*</text>
<text x="282.5" y="727.2">*</text>
<text x="458.7" y="727.2">**</text>
<text x="587.9" y="727.2">***</text>
<text x="200.3" y="738.9">*</text>
<text x="223.8" y="738.9">*</text>
<text x="235.5" y="738.9">**</text>
<text x="259.0" y="738.9">**</text>
<text x="270.7" y="738.9">**</text>
<text x="446.9" y="738.9">*</text>
<text x="552.7" y="738.9">*</text>
<text x="634.9" y="738.9">**</text>
<text x="728.9" y="738.9">*</text>
<text x="740.6" y="738.9">*</text>
<text x="764.1" y="738.9">**</text>
<text x="775.8" y="738.9">*</text>
<text x="799.3" y="738.9">*</text>
<text x="811.1" y="738.9">**</text>
<text x="623.1" y="750.7">*</text>
<text x="176.8" y="762.4">**</text>
<text x="552.7" y="762.4">*</text>
<text x="587.9" y="762.4">*</text>
<text x="705.4" y="762.4">**</text>
<text x="717.1" y="762.4">***</text>
<text x="728.9" y="762.4">*</text>
<text x="740.6" y="762.4">*</text>
<text x="752.3" y="762.4">**</text>
<text x="775.8" y="762.4">*</text>
<text x="799.3" y="762.4">*</text>
<text x="822.8" y="762.4">**</text>
<text x="176.8" y="774.1">**</text>
<text x="223.8" y="774.1">*</text>
<text x="259.0" y="774.1">**</text>
<text x="446.9" y="774.1">*</text>
<text x="552.7" y="774.1">**</text>
<text x="634.9" y="774.1">**</text>
<text x="646.6" y="774.1">*</text>
<text x="705.4" y="774.1">**</text>
<text x="717.1" y="774.1">*</text>
<text x="728.9" y="774.1">**</text>
<text x="740.6" y="774.1">***</text>
<text x="752.3" y="774.1">*</text>
<text x="775.8" y="774.1">*</text>
<text x="787.6" y="774.1">**</text>
<text x="799.3" y="774.1">**</text>
<text x="811.1" y="774.1">**</text>
<text x="822.8" y="774.1">**</text>
<text x="846.3" y="774.1">*</text>
<text x="869.8" y="774.1">*</text>
<text x="176.8" y="785.9">**</text>
<text x="223.8" y="785.9">*</text>
<text x="235.5" y="785.9">*</text>
<text x="259.0" y="785.9">**</text>
<text x="446.9" y="785.9">*</text>
<text x="552.7" y="785.9">***</text>
<text x="634.9" y="785.9">**</text>
<text x="705.4" y="785.9">***</text>
<text x="717.1" y="785.9">***</text>
<text x="728.9" y="785.9">**</text>
<text x="740.6" y="785.9">**</text>
<text x="752.3" y="785.9">***</text>
<text x="764.1" y="785.9">**</text>
<text x="775.8" y="785.9">**</text>
<text x="787.6" y="785.9">*</text>
<text x="799.3" y="785.9">**</text>
<text x="811.1" y="785.9">**</text>
<text x="822.8" y="785.9">**</text>
<text x="869.8" y="785.9">**</text>
<text x="881.6" y="785.9">**</text>
<text x="176.8" y="797.6">*</text>
<text x="587.9" y="797.6">*</text>
<text x="670.1" y="797.6">**</text>
<text x="717.1" y="797.6">*</text>
<text x="752.3" y="797.6">*</text>
<text x="822.8" y="797.6">*</text>
<text x="869.8" y="797.6">*</text>
<text x="176.8" y="809.4">*</text>
<text x="235.5" y="809.4">*</text>
<text x="259.0" y="809.4">*</text>
<text x="446.9" y="809.4">*</text>
<text x="552.7" y="809.4">*</text>
<text x="634.9" y="809.4">*</text>
<text x="705.4" y="809.4">*</text>
<text x="717.1" y="809.4">**</text>
<text x="728.9" y="809.4">*</text>
<text x="752.3" y="809.4">**</text>
<text x="764.1" y="809.4">*</text>
<text x="775.8" y="809.4">***</text>
<text x="799.3" y="809.4">*</text>
<text x="811.1" y="809.4">*</text>
<text x="822.8" y="809.4">*</text>
<text x="869.8" y="809.4">*</text>
<text x="893.3" y="809.4">**</text>
<text x="176.8" y="821.1">**</text>
<text x="188.5" y="821.1">*</text>
<text x="223.8" y="821.1">*</text>
<text x="259.0" y="821.1">*</text>
<text x="552.7" y="821.1">**</text>
<text x="587.9" y="821.1">*</text>
<text x="634.9" y="821.1">**</text>
<text x="705.4" y="821.1">***</text>
<text x="717.1" y="821.1">***</text>
<text x="728.9" y="821.1">**</text>
<text x="740.6" y="821.1">*</text>
<text x="752.3" y="821.1">**</text>
<text x="764.1" y="821.1">*</text>
<text x="775.8" y="821.1">*</text>
<text x="799.3" y="821.1">**</text>
<text x="811.1" y="821.1">*</text>
<text x="822.8" y="821.1">**</text>
<text x="869.8" y="821.1">***</text>
<text x="881.6" y="821.1">*</text>
<text x="893.3" y="821.1">***</text>
<text x="916.8" y="821.1">**</text>
<text x="176.8" y="832.8">**</text>
<text x="223.8" y="832.8">*</text>
<text x="259.0" y="832.8">*</text>
<text x="552.7" y="832.8">***</text>
<text x="587.9" y="832.8">*</text>
<text x="634.9" y="832.8">**</text>
<text x="705.4" y="832.8">***</text>
<text x="717.1" y="832.8">***</text>
<text x="728.9" y="832.8">*</text>
<text x="740.6" y="832.8">**</text>
<text x="752.3" y="832.8">***</text>
<text x="775.8" y="832.8">*</text>
<text x="799.3" y="832.8">**</text>
<text x="811.1" y="832.8">*</text>
<text x="822.8" y="832.8">***</text>
<text x="869.8" y="832.8">**</text>
<text x="881.6" y="832.8">**</text>
<text x="893.3" y="832.8">***</text>
<text x="905.1" y="832.8">*</text>
<text x="916.8" y="832.8">*</text>
<text x="928.5" y="832.8">***</text>
<text x="176.8" y="844.6">*</text>
<text x="223.8" y="844.6">**</text>
<text x="235.5" y="844.6">*</text>
<text x="259.0" y="844.6">**</text>
<text x="552.7" y="844.6">***</text>
<text x="634.9" y="844.6">***</text>
<text x="705.4" y="844.6">***</text>
<text x="717.1" y="844.6">**</text>
<text x="728.9" y="844.6">**</text>
<text x="740.6" y="844.6">**</text>
<text x="752.3" y="844.6">**</text>
<text x="764.1" y="844.6">***</text>
<text x="775.8" y="844.6">**</text>
<text x="799.3" y="844.6">***</text>
<text x="811.1" y="844.6">***</text>
<text x="822.8" y="844.6">*</text>
<text x="846.3" y="844.6">*</text>
<text x="869.8" y="844.6">*</text>
<text x="881.6" y="844.6">**</text>
<text x="893.3" y="844.6">***</text>
<text x="916.8" y="844.6">**</text>
<text x="928.5" y="844.6">**</text>
<text x="940.3" y="844.6">**</text>
<text x="176.8" y="856.3">*</text>
<text x="223.8" y="856.3">***</text>
<text x="259.0" y="856.3">**</text>
<text x="446.9" y="856.3">**</text>
<text x="552.7" y="856.3">***</text>
<text x="634.9" y="856.3">***</text>
<text x="705.4" y="856.3">**</text>
<text x="717.1" y="856.3">*</text>
<text x="728.9" y="856.3">*</text>
<text x="740.6" y="856.3">**</text>
<text x="752.3" y="856.3">*</text>
<text x="764.1" y="856.3">***</text>
<text x="775.8" y="856.3">**</text>
<text x="787.6" y="856.3">*</text>
<text x="799.3" y="856.3">**</text>
<text x="811.1" y="856.3">***</text>
<text x="822.8" y="856.3">*</text>
<text x="846.3" y="856.3">*</text>
<text x="881.6" y="856.3">**</text>
<text x="893.3" y="856.3">**</text>
<text x="916.8" y="856.3">*</text>
<text x="928.5" y="856.3">*</text>
<text x="940.3" y="856.3">**</text>
<text x="952.0" y="856.3">***</text>
<text x="176.8" y="868.0">**</text>
<text x="235.5" y="868.0">*</text>
<text x="259.0" y="868.0">*</text>
<text x="446.9" y="868.0">*</text>
<text x="552.7" y="868.0">**</text>
<text x="587.9" y="868.0">*</text>
<text x="634.9" y="868.0">*</text>
<text x="705.4" y="868.0">*</text>
<text x="717.1" y="868.0">**</text>
<text x="728.9" y="868.0">**</text>
<text x="740.6" y="868.0">**</text>
<text x="752.3" y="868.0">**</text>
<text x="764.1" y="868.0">*</text>
<text x="775.8" y="868.0">**</text>
<text x="787.6" y="868.0">*</text>
<text x="799.3" y="868.0">*</text>
<text x="811.1" y="868.0">*</text>
<text x="822.8" y="868.0">**</text>
<text x="869.8" y="868.0">**</text>
<text x="881.6" y="868.0">*</text>
<text x="893.3" y="868.0">**</text>
<text x="916.8" y="868.0">**</text>
<text x="928.5" y="868.0">**</text>
<text x="940.3" y="868.0">*</text>
<text x="952.0" y="868.0">*</text>
<text x="963.8" y="868.0">*</text>
<text x="176.8" y="879.8">***</text>
<text x="552.7" y="879.8">*</text>
<text x="587.9" y="879.8">**</text>
<text x="634.9" y="879.8">*</text>
<text x="705.4" y="879.8">**</text>
<text x="717.1" y="879.8">**</text>
<text x="728.9" y="879.8">**</text>
<text x="740.6" y="879.8">*</text>
<text x="752.3" y="879.8">**</text>
<text x="799.3" y="879.8">*</text>
<text x="822.8" y="879.8">***</text>
<text x="834.6" y="879.8">*</text>
<text x="869.8" y="879.8">***</text>
<text x="881.6" y="879.8">*</text>
<text x="893.3" y="879.8">**</text>
<text x="905.1" y="879.8">*</text>
<text x="916.8" y="879.8">*</text>
<text x="928.5" y="879.8">**</text>
<text x="940.3" y="879.8">**</text>
<text x="952.0" y="879.8">*</text>
<text x="975.5" y="879.8">**</text>
<text x="294.2" y="891.5">*</text>
<text x="458.7" y="891.5">*</text>
<text x="587.9" y="891.5">*</text>
<text x="646.6" y="891.5">*</text>
<text x="740.6" y="891.5">*</text>
<text x="787.6" y="891.5">*</text>
<text x="881.6" y="891.5">*</text>
<text x="176.8" y="903.2">*</text>
<text x="223.8" y="903.2">**</text>
<text x="235.5" y="903.2">*</text>
<text x="259.0" y="903.2">***</text>
<text x="446.9" y="903.2">**</text>
<text x="552.7" y="903.2">***</text>
<text x="634.9" y="903.2">***</text>
<text x="705.4" y="903.2">**</text>
<text x="717.1" y="903.2">*</text>
<text x="728.9" y="903.2">*</text>
<text x="740.6" y="903.2">**</text>
<text x="752.3" y="903.2">**</text>
<text x="764.1" y="903.2">***</text>
<text x="775.8" y="903.2">***</text>
<text x="799.3" y="903.2">**</text>
<text x="811.1" y="903.2">***</text>
<text x="822.8" y="903.2">*</text>
<text x="846.3" y="903.2">*</text>
<text x="881.6" y="903.2">*</text>
<text x="893.3" y="903.2">**</text>
<text x="916.8" y="903.2">*</text>
<text x="928.5" y="903.2">*</text>
<text x="940.3" y="903.2">**</text>
<text x="952.0" y="903.2">***</text>
<text x="963.8" y="903.2">***</text>
<text x="975.5" y="903.2">*</text>
<text x="176.8" y="915.0">**</text>
<text x="223.8" y="915.0">*</text>
<text x="235.5" y="915.0">*</text>
<text x="259.0" y="915.0">**</text>
<text x="446.9" y="915.0">*</text>
<text x="552.7" y="915.0">***</text>
<text x="634.9" y="915.0">**</text>
<text x="705.4" y="915.0">***</text>
<text x="717.1" y="915.0">***</text>
<text x="728.9" y="915.0">**</text>
<text x="740.6" y="915.0">*</text>
<text x="752.3" y="915.0">***</text>
<text x="764.1" y="915.0">**</text>
<text x="775.8" y="915.0">**</text>
<text x="799.3" y="915.0">**</text>
<text x="811.1" y="915.0">**</text>
<text x="822.8" y="915.0">**</text>
<text x="869.8" y="915.0">**</text>
<text x="881.6" y="915.0">*</text>
<text x="893.3" y="915.0">***</text>
<text x="916.8" y="915.0">**</text>
<text x="928.5" y="915.0">***</text>
<text x="940.3" y="915.0">***</text>
<text x="952.0" y="915.0">**</text>
<text x="963.8" y="915.0">**</text>
<text x="975.5" y="915.0">**</text>
<text x="987.3" y="915.0">**</text>
<text x="1010.8" y="915.0">**</text>
<text x="176.8" y="926.7">*</text>
<text x="223.8" y="926.7">**</text>
<text x="235.5" y="926.7">**</text>
<text x="259.0" y="926.7">***</text>
<text x="446.9" y="926.7">**</text>
<text x="552.7" y="926.7">***</text>
<text x="634.9" y="926.7">***</text>
<text x="705.4" y="926.7">**</text>
<text x="717.1" y="926.7">**</text>
<text x="728.9" y="926.7">*</text>
<text x="740.6" y="926.7">**</text>
<text x="752.3" y="926.7">**</text>
<text x="764.1" y="926.7">***</text>
<text x="775.8" y="926.7">**</text>
<text x="787.6" y="926.7">*</text>
<text x="799.3" y="926.7">**</text>
<text x="811.1" y="926.7">***</text>
<text x="822.8" y="926.7">**</text>
<text x="846.3" y="926.7">**</text>
<text x="869.8" y="926.7">*</text>
<text x="881.6" y="926.7">**</text>
<text x="893.3" y="926.7">***</text>
<text x="916.8" y="926.7">*</text>
<text x="928.5" y="926.7">**</text>
<text x="940.3" y="926.7">**</text>
<text x="952.0" y="926.7">***</text>
<text x="963.8" y="926.7">***</text>
<text x="975.5" y="926.7">**</text>
<text x="987.3" y="926.7">*</text>
<text x="1010.8" y="926.7">***</text>
<text x="1022.5" y="926.7">**</text>
<text x="176.8" y="938.5">*</text>
<text x="458.7" y="938.5">*</text>
<text x="587.9" y="938.5">***</text>
<text x="822.8" y="938.5">*</text>
<text x="834.6" y="938.5">***</text>
<text x="869.8" y="938.5">*</text>
<text x="905.1" y="938.5">*</text>
<text x="987.3" y="938.5">*</text>
<text x="176.8" y="950.2">***</text>
<text x="223.8" y="950.2">*</text>
<text x="235.5" y="950.2">*</text>
<text x="259.0" y="950.2">**</text>
<text x="446.9" y="950.2">*</text>
<text x="552.7" y="950.2">***</text>
<text x="634.9" y="950.2">**</text>
<text x="705.4" y="950.2">***</text>
<text x="717.1" y="950.2">***</text>
<text x="728.9" y="950.2">*</text>
<text x="740.6" y="950.2">*</text>
<text x="752.3" y="950.2">***</text>
<text x="764.1" y="950.2">**</text>
<text x="775.8" y="950.2">**</text>
<text x="799.3" y="950.2">*</text>
<text x="811.1" y="950.2">**</text>
<text x="822.8" y="950.2">***</text>
<text x="869.8" y="950.2">**</text>
<text x="881.6" y="950.2">*</text>
<text x="893.3" y="950.2">***</text>
<text x="905.1" y="950.2">*</text>
<text x="916.8" y="950.2">**</text>
<text x="928.5" y="950.2">***</text>
<text x="940.3" y="950.2">***</text>
<text x="952.0" y="950.2">**</text>
<text x="963.8" y="950.2">*</text>
<text x="975.5" y="950.2">**</text>
<text x="987.3" y="950.2">**</text>
<text x="1010.8" y="950.2">**</text>
<text x="1022.5" y="950.2">***</text>
<text x="1034.3" y="950.2">**</text>
<text x="176.8" y="961.9">***</text>
<text x="259.0" y="961.9">*</text>
<text x="446.9" y="961.9">*</text>
<text x="552.7" y="961.9">**</text>
<text x="587.9" y="961.9">*</text>
<text x="634.9" y="961.9">**</text>
<text x="705.4" y="961.9">**</text>
<text x="717.1" y="961.9">**</text>
<text x="728.9" y="961.9">**</text>
<text x="740.6" y="961.9">**</text>
<text x="752.3" y="961.9">***</text>
<text x="764.1" y="961.9">*</text>
<text x="775.8" y="961.9">*</text>
<text x="787.6" y="961.9">*</text>
<text x="799.3" y="961.9">*</text>
<text x="811.1" y="961.9">*</text>
<text x="822.8" y="961.9">***</text>
<text x="869.8" y="961.9">**</text>
<text x="881.6" y="961.9">**</text>
<text x="893.3" y="961.9">***</text>
<text x="905.1" y="961.9">*</text>
<text x="916.8" y="961.9">**</text>
<text x="928.5" y="961.9">***</text>
<text x="940.3" y="961.9">***</text>
<text x="952.0" y="961.9">**</text>
<text x="963.8" y="961.9">*</text>
<text x="975.5" y="961.9">***</text>
<text x="987.3" y="961.9">***</text>
<text x="1010.8" y="961.9">*</text>
<text x="1022.5" y="961.9">***</text>
<text x="1034.3" y="961.9">**</text>
<text x="1046.0" y="961.9">*</text>
<text x="1057.8" y="961.9">***</text>
<text x="223.8" y="973.7">**</text>
<text x="446.9" y="973.7">*</text>
<text x="552.7" y="973.7">**</text>
<text x="634.9" y="973.7">**</text>
<text x="705.4" y="973.7">**</text>
<text x="717.1" y="973.7">*</text>
<text x="752.3" y="973.7">*</text>
<text x="764.1" y="973.7">**</text>
<text x="775.8" y="973.7">**</text>
<text x="799.3" y="973.7">**</text>
<text x="811.1" y="973.7">**</text>
<text x="846.3" y="973.7">*</text>
<text x="893.3" y="973.7">*</text>
<text x="916.8" y="973.7">*</text>
<text x="928.5" y="973.7">*</text>
<text x="940.3" y="973.7">*</text>
<text x="952.0" y="973.7">***</text>
<text x="963.8" y="973.7">**</text>
<text x="1010.8" y="973.7">**</text>
<text x="1022.5" y="973.7">**</text>
<text x="1034.3" y="973.7">**</text>
<text x="1057.8" y="973.7">*</text>
<text x="1069.5" y="973.7">*</text>
<text x="176.8" y="985.4">**</text>
<text x="223.8" y="985.4">*</text>
<text x="235.5" y="985.4">*</text>
<text x="259.0" y="985.4">***</text>
<text x="446.9" y="985.4">**</text>
<text x="552.7" y="985.4">***</text>
<text x="634.9" y="985.4">***</text>
<text x="705.4" y="985.4">***</text>
<text x="717.1" y="985.4">**</text>
<text x="728.9" y="985.4">**</text>
<text x="740.6" y="985.4">**</text>
<text x="752.3" y="985.4">***</text>
<text x="764.1" y="985.4">***</text>
<text x="775.8" y="985.4">**</text>
<text x="787.6" y="985.4">*</text>
<text x="799.3" y="985.4">**</text>
<text x="811.1" y="985.4">***</text>
<text x="822.8" y="985.4">**</text>
<text x="846.3" y="985.4">*</text>
<text x="869.8" y="985.4">*</text>
<text x="881.6" y="985.4">**</text>
<text x="893.3" y="985.4">***</text>
<text x="916.8" y="985.4">*</text>
<text x="928.5" y="985.4">**</text>
<text x="940.3" y="985.4">**</text>
<text x="952.0" y="985.4">***</text>
<text x="963.8" y="985.4">***</text>
<text x="975.5" y="985.4">**</text>
<text x="987.3" y="985.4">*</text>
<text x="1010.8" y="985.4">***</text>
<text x="1022.5" y="985.4">***</text>
<text x="1034.3" y="985.4">***</text>
<text x="1057.8" y="985.4">***</text>
<text x="1069.5" y="985.4">***</text>
<text x="1081.3" y="985.4">**</text>
<text x="176.8" y="997.1">***</text>
<text x="259.0" y="997.1">*</text>
<text x="552.7" y="997.1">**</text>
<text x="587.9" y="997.1">*</text>
<text x="634.9" y="997.1">*</text>
<text x="705.4" y="997.1">**</text>
<text x="717.1" y="997.1">**</text>
<text x="728.9" y="997.1">*</text>
<text x="740.6" y="997.1">*</text>
<text x="752.3" y="997.1">***</text>
<text x="764.1" y="997.1">*</text>
<text x="775.8" y="997.1">*</text>
<text x="811.1" y="997.1">*</text>
<text x="822.8" y="997.1">***</text>
<text x="869.8" y="997.1">**</text>
<text x="881.6" y="997.1">*</text>
<text x="893.3" y="997.1">**</text>
<text x="905.1" y="997.1">*</text>
<text x="916.8" y="997.1">*</text>
<text x="928.5" y="997.1">**</text>
<text x="940.3" y="997.1">**</text>
<text x="952.0" y="997.1">*</text>
<text x="975.5" y="997.1">**</text>
<text x="987.3" y="997.1">***</text>
<text x="1010.8" y="997.1">*</text>
<text x="1022.5" y="997.1">**</text>
<text x="1034.3" y="997.1">*</text>
<text x="1046.0" y="997.1">*</text>
<text x="1057.8" y="997.1">***</text>
<text x="1069.5" y="997.1">***</text>
<text x="1093.0" y="997.1">**</text>
<text x="176.8" y="1008.9">*</text>
<text x="223.8" y="1008.9">***</text>
<text x="235.5" y="1008.9">*</text>
<text x="259.0" y="1008.9">***</text>
<text x="446.9" y="1008.9">**</text>
<text x="552.7" y="1008.9">***</text>
<text x="634.9" y="1008.9">***</text>
<text x="705.4" y="1008.9">**</text>
<text x="717.1" y="1008.9">*</text>
<text x="728.9" y="1008.9">*</text>
<text x="740.6" y="1008.9">**</text>
<text x="752.3" y="1008.9">**</text>
<text x="764.1" y="1008.9">***</text>
<text x="775.8" y="1008.9">**</text>
<text x="787.6" y="1008.9">*</text>
<text x="799.3" y="1008.9">**</text>
<text x="811.1" y="1008.9">***</text>
<text x="822.8" y="1008.9">*</text>
<text x="846.3" y="1008.9">**</text>
<text x="881.6" y="1008.9">**</text>
<text x="893.3" y="1008.9">**</text>
<text x="916.8" y="1008.9">*</text>
<text x="928.5" y="1008.9">*</text>
<text x="940.3" y="1008.9">*</text>
<text x="952.0" y="1008.9">***</text>
<text x="963.8" y="1008.9">***</text>
<text x="975.5" y="1008.9">*</text>
<text x="1010.8" y="1008.9">***</text>
<text x="1022.5" y="1008.9">**</text>
<text x="1034.3" y="1008.9">***</text>
<text x="1057.8" y="1008.9">*</text>
<text x="1069.5" y="1008.9">*</text>
<text x="1081.3" y="1008.9">**</text>
<text x="1093.0" y="1008.9">***</text>
<text x="1104.7" y="1008.9">*</text>
<text x="200.3" y="1020.6">*</text>
<text x="235.5" y="1020.6">*</text>
<text x="247.3" y="1020.6">*</text>
<text x="364.7" y="1020.6">**</text>
<text x="470.4" y="1020.6">*</text>
<text x="505.7" y="1020.6">*</text>
<text x="529.2" y="1020.6">**</text>
<text x="576.2" y="1020.6">*</text>
<text x="681.9" y="1020.6">*</text>
<text x="176.8" y="1032.3">***</text>
<text x="259.0" y="1032.3">*</text>
<text x="552.7" y="1032.3">**</text>
<text x="587.9" y="1032.3">**</text>
<text x="634.9" y="1032.3">*</text>
<text x="705.4" y="1032.3">**</text>
<text x="717.1" y="1032.3">***</text>
<text x="728.9" y="1032.3">**</text>
<text x="740.6" y="1032.3">*</text>
<text x="752.3" y="1032.3">**</text>
<text x="764.1" y="1032.3">*</text>
<text x="775.8" y="1032.3">*</text>
<text x="799.3" y="1032.3">*</text>
<text x="811.1" y="1032.3">*</text>
<text x="822.8" y="1032.3">***</text>
<text x="869.8" y="1032.3">***</text>
<text x="881.6" y="1032.3">*</text>
<text x="893.3" y="1032.3">**</text>
<text x="905.1" y="1032.3">*</text>
<text x="916.8" y="1032.3">*</text>
<text x="928.5" y="1032.3">***</text>
<text x="940.3" y="1032.3">***</text>
<text x="952.0" y="1032.3">*</text>
<text x="963.8" y="1032.3">*</text>
<text x="975.5" y="1032.3">**</text>
<text x="987.3" y="1032.3">***</text>
<text x="1010.8" y="1032.3">*</text>
<text x="1022.5" y="1032.3">***</text>
<text x="1034.3" y="1032.3">*</text>
<text x="1046.0" y="1032.3">*</text>
<text x="1057.8" y="1032.3">***</text>
<text x="1069.5" y="1032.3">***</text>
<text x="1093.0" y="1032.3">**</text>
<text x="1104.7" y="1032.3">***</text>
<text x="1116.5" y="1032.3">*</text>
<text x="223.8" y="1044.1">*</text>
<text x="235.5" y="1044.1">**</text>
<text x="259.0" y="1044.1">**</text>
<text x="446.9" y="1044.1">**</text>
<text x="505.7" y="1044.1">*</text>
<text x="552.7" y="1044.1">*</text>
<text x="634.9" y="1044.1">*</text>
<text x="752.3" y="1044.1">*</text>
<text x="764.1" y="1044.1">**</text>
<text x="775.8" y="1044.1">**</text>
<text x="811.1" y="1044.1">**</text>
<text x="846.3" y="1044.1">*</text>
<text x="893.3" y="1044.1">*</text>
<text x="916.8" y="1044.1">*</text>
<text x="952.0" y="1044.1">*</text>
<text x="963.8" y="1044.1">*</text>
<text x="1010.8" y="1044.1">**</text>
<text x="1022.5" y="1044.1">*</text>
<text x="1034.3" y="1044.1">**</text>
<text x="1057.8" y="1044.1">*</text>
<text x="1081.3" y="1044.1">*</text>
<text x="1093.0" y="1044.1">*</text>
<text x="1116.5" y="1044.1">*</text>
<text x="235.5" y="1055.8">*</text>
<text x="364.7" y="1055.8">*</text>
<text x="446.9" y="1055.8">*</text>
<text x="470.4" y="1055.8">*</text>
<text x="505.7" y="1055.8">*</text>
<text x="576.2" y="1055.8">**</text>
<text x="975.5" y="1055.8">*</text>
<text x="1128.2" y="1055.8">*</text>
<text x="176.8" y="1067.6">**</text>
<text x="223.8" y="1067.6">*</text>
<text x="235.5" y="1067.6">**</text>
<text x="259.0" y="1067.6">***</text>
<text x="446.9" y="1067.6">**</text>
<text x="552.7" y="1067.6">***</text>
<text x="634.9" y="1067.6">**</text>
<text x="705.4" y="1067.6">**</text>
<text x="717.1" y="1067.6">**</text>
<text x="728.9" y="1067.6">**</text>
<text x="740.6" y="1067.6">***</text>
<text x="752.3" y="1067.6">**</text>
<text x="764.1" y="1067.6">***</text>
<text x="775.8" y="1067.6">**</text>
<text x="787.6" y="1067.6">**</text>
<text x="799.3" y="1067.6">**</text>
<text x="811.1" y="1067.6">***</text>
<text x="822.8" y="1067.6">**</text>
<text x="846.3" y="1067.6">*</text>
<text x="869.8" y="1067.6">*</text>
<text x="881.6" y="1067.6">**</text>
<text x="893.3" y="1067.6">***</text>
<text x="916.8" y="1067.6">**</text>
<text x="928.5" y="1067.6">**</text>
<text x="940.3" y="1067.6">**</text>
<text x="952.0" y="1067.6">**</text>
<text x="963.8" y="1067.6">**</text>
<text x="975.5" y="1067.6">***</text>
<text x="987.3" y="1067.6">*</text>
<text x="1010.8" y="1067.6">**</text>
<text x="1022.5" y="1067.6">**</text>
<text x="1034.3" y="1067.6">***</text>
<text x="1057.8" y="1067.6">**</text>
<text x="1069.5" y="1067.6">**</text>
<text x="1093.0" y="1067.6">***</text>
<text x="1104.7" y="1067.6">**</text>
<text x="1116.5" y="1067.6">**</text>
<text x="1140.0" y="1067.6">**</text>
<text x="1151.7" y="1067.6">*</text>
<text x="176.8" y="1079.3">**</text>
<text x="223.8" y="1079.3">*</text>
<text x="235.5" y="1079.3">*</text>
<text x="259.0" y="1079.3">**</text>
<text x="446.9" y="1079.3">*</text>
<text x="552.7" y="1079.3">***</text>
<text x="634.9" y="1079.3">***</text>
<text x="705.4" y="1079.3">***</text>
<text x="717.1" y="1079.3">**</text>
<text x="728.9" y="1079.3">***</text>
<text x="740.6" y="1079.3">***</text>
<text x="752.3" y="1079.3">**</text>
<text x="764.1" y="1079.3">**</text>
<text x="775.8" y="1079.3">*</text>
<text x="787.6" y="1079.3">*</text>
<text x="799.3" y="1079.3">**</text>
<text x="811.1" y="1079.3">**</text>
<text x="822.8" y="1079.3">**</text>
<text x="846.3" y="1079.3">*</text>
<text x="869.8" y="1079.3">*</text>
<text x="881.6" y="1079.3">***</text>
<text x="893.3" y="1079.3">***</text>
<text x="916.8" y="1079.3">*</text>
<text x="928.5" y="1079.3">**</text>
<text x="940.3" y="1079.3">**</text>
<text x="952.0" y="1079.3">***</text>
<text x="963.8" y="1079.3">**</text>
<text x="975.5" y="1079.3">**</text>
<text x="987.3" y="1079.3">**</text>
<text x="1010.8" y="1079.3">**</text>
<text x="1022.5" y="1079.3">**</text>
<text x="1034.3" y="1079.3">***</text>
<text x="1057.8" y="1079.3">**</text>
<text x="1069.5" y="1079.3">***</text>
<text x="1081.3" y="1079.3">*</text>
<text x="1093.0" y="1079.3">***</text>
<text x="1104.7" y="1079.3">**</text>
<text x="1116.5" y="1079.3">**</text>
<text x="1140.0" y="1079.3">**</text>
<text x="1175.2" y="1079.3">***</text>
<text x="176.8" y="1091.0">*</text>
<text x="223.8" y="1091.0">**</text>
<text x="235.5" y="1091.0">*</text>
<text x="259.0" y="1091.0">***</text>
<text x="270.7" y="1091.0">*</text>
<text x="446.9" y="1091.0">**</text>
<text x="552.7" y="1091.0">***</text>
<text x="634.9" y="1091.0">***</text>
<text x="705.4" y="1091.0">**</text>
<text x="717.1" y="1091.0">*</text>
<text x="728.9" y="1091.0">**</text>
<text x="740.6" y="1091.0">**</text>
<text x="752.3" y="1091.0">**</text>
<text x="764.1" y="1091.0">***</text>
<text x="775.8" y="1091.0">**</text>
<text x="787.6" y="1091.0">*</text>
<text x="799.3" y="1091.0">**</text>
<text x="811.1" y="1091.0">***</text>
<text x="822.8" y="1091.0">*</text>
<text x="846.3" y="1091.0">**</text>
<text x="881.6" y="1091.0">**</text>
<text x="893.3" y="1091.0">**</text>
<text x="916.8" y="1091.0">*</text>
<text x="928.5" y="1091.0">*</text>
<text x="940.3" y="1091.0">*</text>
<text x="952.0" y="1091.0">***</text>
<text x="963.8" y="1091.0">***</text>
<text x="975.5" y="1091.0">*</text>
<text x="1010.8" y="1091.0">***</text>
<text x="1022.5" y="1091.0">**</text>
<text x="1034.3" y="1091.0">***</text>
<text x="1057.8" y="1091.0">**</text>
<text x="1069.5" y="1091.0">*</text>
<text x="1081.3" y="1091.0">**</text>
<text x="1093.0" y="1091.0">***</text>
<text x="1104.7" y="1091.0">*</text>
<text x="1116.5" y="1091.0">***</text>
<text x="1140.0" y="1091.0">*</text>
<text x="1175.2" y="1091.0">**</text>
<text x="1187.0" y="1091.0">**</text>
<text x="235.5" y="1102.8">*</text>
<text x="247.3" y="1102.8">*</text>
<text x="364.7" y="1102.8">*</text>
<text x="470.4" y="1102.8">*</text>
<text x="576.2" y="1102.8">*</text>
<text x="552.7" y="1114.5">*</text>
<text x="587.9" y="1114.5">*</text>
<text x="634.9" y="1114.5">*</text>
<text x="705.4" y="1114.5">*</text>
<text x="728.9" y="1114.5">*</text>
<text x="811.1" y="1114.5">*</text>
<text x="822.8" y="1114.5">*</text>
<text x="834.6" y="1114.5">*</text>
<text x="846.3" y="1114.5">*</text>
<text x="928.5" y="1114.5">*</text>
<text x="952.0" y="1114.5">*</text>
<text x="987.3" y="1114.5">*</text>
<text x="1022.5" y="1114.5">*</text>
<text x="1034.3" y="1114.5">*</text>
<text x="1069.5" y="1114.5">*</text>
<text x="1081.3" y="1114.5">*</text>
<text x="1093.0" y="1114.5">*</text>
<text x="1187.0" y="1114.5">*</text>
<text x="1198.7" y="1114.5">*</text>
<text x="176.8" y="1126.2">*</text>
<text x="235.5" y="1126.2">**</text>
<text x="259.0" y="1126.2">**</text>
<text x="446.9" y="1126.2">**</text>
<text x="505.7" y="1126.2">*</text>
<text x="552.7" y="1126.2">*</text>
<text x="576.2" y="1126.2">*</text>
<text x="634.9" y="1126.2">*</text>
<text x="740.6" y="1126.2">*</text>
<text x="752.3" y="1126.2">*</text>
<text x="764.1" y="1126.2">*</text>
<text x="775.8" y="1126.2">**</text>
<text x="787.6" y="1126.2">*</text>
<text x="811.1" y="1126.2">*</text>
<text x="822.8" y="1126.2">*</text>
<text x="881.6" y="1126.2">*</text>
<text x="893.3" y="1126.2">*</text>
<text x="916.8" y="1126.2">*</text>
<text x="952.0" y="1126.2">*</text>
<text x="975.5" y="1126.2">**</text>
<text x="1010.8" y="1126.2">*</text>
<text x="1022.5" y="1126.2">*</text>
<text x="1034.3" y="1126.2">*</text>
<text x="1057.8" y="1126.2">*</text>
<text x="1069.5" y="1126.2">*</text>
<text x="1093.0" y="1126.2">*</text>
<text x="1104.7" y="1126.2">*</text>
<text x="1116.5" y="1126.2">*</text>
<text x="1140.0" y="1126.2">*</text>
<text x="1151.7" y="1126.2">*</text>
<text x="1163.5" y="1126.2">**</text>
<text x="1175.2" y="1126.2">**</text>
<text x="1187.0" y="1126.2">*</text>
<text x="1198.7" y="1126.2">*</text>
<text x="235.5" y="1138.0">*</text>
<text x="341.2" y="1138.0">*</text>
<text x="364.7" y="1138.0">**</text>
<text x="470.4" y="1138.0">*</text>
<text x="505.7" y="1138.0">*</text>
<text x="529.2" y="1138.0">**</text>
<text x="576.2" y="1138.0">**</text>
<text x="1128.2" y="1138.0">**</text>
<text x="1163.5" y="1138.0">**</text>
<text x="1234.0" y="1138.0">*</text>
<text x="212.0" y="1149.7">**</text>
<text x="364.7" y="1149.7">*</text>
<text x="470.4" y="1149.7">*</text>
<text x="576.2" y="1149.7">**</text>
<text x="1163.5" y="1149.7">*</text>
<text x="1210.5" y="1149.7">*</text>
<text x="1245.7" y="1149.7">*</text>
<text x="176.8" y="1161.5">*</text>
<text x="188.5" y="1161.5">*</text>
<text x="623.1" y="1161.5">*</text>
<text x="670.1" y="1161.5">*</text>
<text x="717.1" y="1161.5">*</text>
<text x="752.3" y="1161.5">*</text>
<text x="822.8" y="1161.5">*</text>
<text x="869.8" y="1161.5">**</text>
<text x="905.1" y="1161.5">*</text>
<text x="916.8" y="1161.5">*</text>
<text x="928.5" y="1161.5">*</text>
<text x="975.5" y="1161.5">*</text>
<text x="987.3" y="1161.5">*</text>
<text x="1022.5" y="1161.5">*</text>
<text x="1057.8" y="1161.5">*</text>
<text x="1069.5" y="1161.5">*</text>
<text x="1104.7" y="1161.5">*</text>
<text x="1140.0" y="1161.5">*</text>
<text x="212.0" y="1173.2">*</text>
<text x="681.9" y="1173.2">**</text>
<text x="693.6" y="1173.2">**</text>
<text x="376.5" y="1184.9">*</text>
<text x="599.6" y="1184.9">***</text>
<text x="329.5" y="1196.7">*</text>
<text x="341.2" y="1196.7">*</text>
<text x="353.0" y="1196.7">*</text>
<text x="400.0" y="1196.7">*</text>
<text x="423.4" y="1196.7">*</text>
<text x="482.2" y="1196.7">**</text>
<text x="564.4" y="1196.7">*</text>
<text x="646.6" y="1196.7">*</text>
<text x="658.4" y="1196.7">*</text>
<text x="611.4" y="1208.4">*</text>
<text x="376.5" y="1220.1">*</text>
<text x="446.9" y="1220.1">**</text>
<text x="458.7" y="1220.1">*</text>
<text x="576.2" y="1220.1">*</text>
<text x="634.9" y="1220.1">**</text>
<text x="764.1" y="1220.1">*</text>
</g>
<g font-family="'Liberation Sans',sans-serif" font-weight="bold" font-size="11.1" fill="#000">
<g text-anchor="end">
<text x="166.5" y="70.1">LDN</text>
<text x="166.5" y="81.8">MAIT</text>
<text x="166.5" y="93.5">CD4 EM CD57+</text>
<text x="166.5" y="105.3">CD8 EM EXHAUSTED</text>
<text x="166.5" y="117.0">B MEMORY</text>
<text x="166.5" y="128.8">DN</text>
<text x="166.5" y="140.5">MATURE NK CD57+</text>
<text x="166.5" y="152.2">CD4 CM CXCR3+</text>
<text x="166.5" y="164.0">CD4 EM</text>
<text x="166.5" y="175.7">CD8 TM</text>
<text x="166.5" y="187.4">CD8 EM</text>
<text x="166.5" y="199.2">NC MONO</text>
<text x="166.5" y="210.9">pDC</text>
<text x="166.5" y="222.6">DP</text>
<text x="166.5" y="234.4">CD4 NAIVE</text>
<text x="166.5" y="246.1">CD4 CM</text>
<text x="166.5" y="257.8">B NAIVE</text>
<text x="166.5" y="269.6">γδ EMRA CD57+</text>
<text x="166.5" y="281.3">γδ EMRA CD57-</text>
<text x="166.5" y="293.1">DC progenitors</text>
<text x="166.5" y="304.8">CD8 EMRA</text>
<text x="166.5" y="316.5">CD8 NAIVE</text>
<text x="166.5" y="328.3">CL MONO</text>
<text x="166.5" y="340.0">INT MONO</text>
<text x="166.5" y="351.7">EARLY NK</text>
<text x="166.5" y="363.5">MATURE NK CD57-</text>
<text x="166.5" y="375.2">γδ NAIVE</text>
<text x="166.5" y="386.9">BMP-7</text>
<text x="166.5" y="398.7">IL-11</text>
<text x="166.5" y="410.4">TACI</text>
<text x="166.5" y="422.2">FAS</text>
<text x="166.5" y="433.9">LEPTIN-R</text>
<text x="166.5" y="445.6">APRIL</text>
<text x="166.5" y="457.4">BMP-2</text>
<text x="166.5" y="469.1">FAS-L</text>
<text x="166.5" y="480.8">IL-18</text>
<text x="166.5" y="492.6">IL-23</text>
<text x="166.5" y="504.3">IL-6Ra</text>
<text x="166.5" y="516.0">OPN</text>
<text x="166.5" y="527.8">BAFF</text>
<text x="166.5" y="539.5">BMP-4</text>
<text x="166.5" y="551.3">IL-17C</text>
<text x="166.5" y="563.0">IL-19</text>
<text x="166.5" y="574.7">IL-27</text>
<text x="166.5" y="586.5">LEPTIN</text>
<text x="166.5" y="598.2">CCL2</text>
<text x="166.5" y="609.9">CCL4</text>
<text x="166.5" y="621.7">CCL19</text>
<text x="166.5" y="633.4">CD40L</text>
<text x="166.5" y="645.1">CXCL1</text>
<text x="166.5" y="656.9">CXCL10</text>
<text x="166.5" y="668.6">FGF-β</text>
<text x="166.5" y="680.4">G-CSF</text>
<text x="166.5" y="692.1">GRANZYME-B</text>
<text x="166.5" y="703.8">IFN-β</text>
<text x="166.5" y="715.6">IL1α</text>
<text x="166.5" y="727.3">IL-1ra</text>
<text x="166.5" y="739.0">IL-3</text>
<text x="166.5" y="750.8">IL-5</text>
<text x="166.5" y="762.5">IL-7</text>
<text x="166.5" y="774.2">IL-33</text>
<text x="166.5" y="786.0">PDGF-AA</text>
<text x="166.5" y="797.7">TGF-α</text>
<text x="166.5" y="809.5">TRAIL</text>
<text x="166.5" y="821.2">CCL3</text>
<text x="166.5" y="832.9">CCL11</text>
<text x="166.5" y="844.7">CCL20</text>
<text x="166.5" y="856.4">CX3CL1</text>
<text x="166.5" y="868.1">CXCL2</text>
<text x="166.5" y="879.9">EGF</text>
<text x="166.5" y="891.6">FLT3LG</text>
<text x="166.5" y="903.3">GM-CSF</text>
<text x="166.5" y="915.1">IFN-α</text>
<text x="166.5" y="926.8">IFN-γ</text>
<text x="166.5" y="938.6">IL-1β</text>
<text x="166.5" y="950.3">IL-2</text>
<text x="166.5" y="962.0">IL-4</text>
<text x="166.5" y="973.8">IL-6</text>
<text x="166.5" y="985.5">IL-10</text>
<text x="166.5" y="997.2">IL-13</text>
<text x="166.5" y="1009.0">IL-17</text>
<text x="166.5" y="1020.7">PD-L1</text>
<text x="166.5" y="1032.4">PDGF-AB/BB</text>
<text x="166.5" y="1044.2">TNF-α</text>
<text x="166.5" y="1055.9">VEGF</text>
<text x="166.5" y="1067.7">CCL5</text>
<text x="166.5" y="1079.4">IL-17E</text>
<text x="166.5" y="1091.1">ALT</text>
<text x="166.5" y="1102.9">BILIRUBIN</text>
<text x="166.5" y="1114.6">CK</text>
<text x="166.5" y="1126.3">CREATININE</text>
<text x="166.5" y="1138.1">D-DIMER</text>
<text x="166.5" y="1149.8">Hb</text>
<text x="166.5" y="1161.5">WBC</text>
<text x="166.5" y="1173.3">RBC</text>
<text x="166.5" y="1185.0">INR</text>
<text x="166.5" y="1196.8">LDH</text>
<text x="166.5" y="1208.5">Platelets</text>
<text x="166.5" y="1220.2">A1AT</text>
</g>
<text transform="translate(178.2 54.9) rotate(-45)" x="0" y="0">LDN</text>
<text transform="translate(190.0 66.6) rotate(-45)" x="0" y="0">MAIT</text>
<text transform="translate(201.7 78.4) rotate(-45)" x="0" y="0">CD4 EM CD57+</text>
<text transform="translate(213.5 90.1) rotate(-45)" x="0" y="0">CD8 EM EXHAUSTED</text>
<text transform="translate(225.2 101.8) rotate(-45)" x="0" y="0">B MEMORY</text>
<text transform="translate(237.0 113.6) rotate(-45)" x="0" y="0">DN</text>
<text transform="translate(248.7 125.3) rotate(-45)" x="0" y="0">MATURE NK CD57+</text>
<text transform="translate(260.5 137.1) rotate(-45)" x="0" y="0">CD4 CM CXCR3+</text>
<text transform="translate(272.2 148.8) rotate(-45)" x="0" y="0">CD4 EM</text>
<text transform="translate(284.0 160.5) rotate(-45)" x="0" y="0">CD8 TM</text>
<text transform="translate(295.7 172.3) rotate(-45)" x="0" y="0">CD8 EM</text>
<text transform="translate(307.5 184.0) rotate(-45)" x="0" y="0">NC MONO</text>
<text transform="translate(319.2 195.7) rotate(-45)" x="0" y="0">pDC</text>
<text transform="translate(331.0 207.5) rotate(-45)" x="0" y="0">DP</text>
<text transform="translate(342.7 219.2) rotate(-45)" x="0" y="0">CD4 NAIVE</text>
<text transform="translate(354.4 230.9) rotate(-45)" x="0" y="0">CD4 CM</text>
<text transform="translate(366.2 242.7) rotate(-45)" x="0" y="0">B NAIVE</text>
<text transform="translate(377.9 254.4) rotate(-45)" x="0" y="0">γδ EMRA CD57+</text>
<text transform="translate(389.7 266.2) rotate(-45)" x="0" y="0">γδ EMRA CD57-</text>
<text transform="translate(401.4 277.9) rotate(-45)" x="0" y="0">DC progenitors</text>
<text transform="translate(413.2 289.6) rotate(-45)" x="0" y="0">CD8 EMRA</text>
<text transform="translate(424.9 301.4) rotate(-45)" x="0" y="0">CD8 NAIVE</text>
<text transform="translate(436.7 313.1) rotate(-45)" x="0" y="0">CL MONO</text>
<text transform="translate(448.4 324.8) rotate(-45)" x="0" y="0">INT MONO</text>
<text transform="translate(460.2 336.6) rotate(-45)" x="0" y="0">EARLY NK</text>
<text transform="translate(471.9 348.3) rotate(-45)" x="0" y="0">MATURE NK CD57-</text>
<text transform="translate(483.7 360.0) rotate(-45)" x="0" y="0">γδ NAIVE</text>
<text transform="translate(495.4 371.8) rotate(-45)" x="0" y="0">BMP-7</text>
<text transform="translate(507.1 383.5) rotate(-45)" x="0" y="0">IL-11</text>
<text transform="translate(518.9 395.3) rotate(-45)" x="0" y="0">TACI</text>
<text transform="translate(530.6 407.0) rotate(-45)" x="0" y="0">FAS</text>
<text transform="translate(542.4 418.7) rotate(-45)" x="0" y="0">LEPTIN-R</text>
<text transform="translate(554.1 430.5) rotate(-45)" x="0" y="0">APRIL</text>
<text transform="translate(565.9 442.2) rotate(-45)" x="0" y="0">BMP-2</text>
<text transform="translate(577.6 453.9) rotate(-45)" x="0" y="0">FAS-L</text>
<text transform="translate(589.4 465.7) rotate(-45)" x="0" y="0">IL-18</text>
<text transform="translate(601.1 477.4) rotate(-45)" x="0" y="0">IL-23</text>
<text transform="translate(612.9 489.1) rotate(-45)" x="0" y="0">IL-6Ra</text>
<text transform="translate(624.6 500.9) rotate(-45)" x="0" y="0">OPN</text>
<text transform="translate(636.4 512.6) rotate(-45)" x="0" y="0">BAFF</text>
<text transform="translate(648.1 524.4) rotate(-45)" x="0" y="0">BMP-4</text>
<text transform="translate(659.9 536.1) rotate(-45)" x="0" y="0">IL-17C</text>
<text transform="translate(671.6 547.8) rotate(-45)" x="0" y="0">IL-19</text>
<text transform="translate(683.3 559.6) rotate(-45)" x="0" y="0">IL-27</text>
<text transform="translate(695.1 571.3) rotate(-45)" x="0" y="0">LEPTIN</text>
<text transform="translate(706.8 583.0) rotate(-45)" x="0" y="0">CCL2</text>
<text transform="translate(718.6 594.8) rotate(-45)" x="0" y="0">CCL4</text>
<text transform="translate(730.3 606.5) rotate(-45)" x="0" y="0">CCL19</text>
<text transform="translate(742.1 618.2) rotate(-45)" x="0" y="0">CD40L</text>
<text transform="translate(753.8 630.0) rotate(-45)" x="0" y="0">CXCL1</text>
<text transform="translate(765.6 641.7) rotate(-45)" x="0" y="0">CXCL10</text>
<text transform="translate(777.3 653.5) rotate(-45)" x="0" y="0">FGF-β</text>
<text transform="translate(789.1 665.2) rotate(-45)" x="0" y="0">G-CSF</text>
<text transform="translate(800.8 676.9) rotate(-45)" x="0" y="0">GRANZYME-B</text>
<text transform="translate(812.6 688.7) rotate(-45)" x="0" y="0">IFN-β</text>
<text transform="translate(824.3 700.4) rotate(-45)" x="0" y="0">IL-1α</text>
<text transform="translate(836.0 712.1) rotate(-45)" x="0" y="0">IL-1ra</text>
<text transform="translate(847.8 723.9) rotate(-45)" x="0" y="0">IL-3</text>
<text transform="translate(859.5 735.6) rotate(-45)" x="0" y="0">IL-5</text>
<text transform="translate(871.3 747.3) rotate(-45)" x="0" y="0">IL-7</text>
<text transform="translate(883.0 759.1) rotate(-45)" x="0" y="0">IL-33</text>
<text transform="translate(894.8 770.8) rotate(-45)" x="0" y="0">PDGF-AA</text>
<text transform="translate(906.5 782.6) rotate(-45)" x="0" y="0">TGF-α</text>
<text transform="translate(918.3 794.3) rotate(-45)" x="0" y="0">TRAIL</text>
<text transform="translate(930.0 806.0) rotate(-45)" x="0" y="0">CCL3</text>
<text transform="translate(941.8 817.8) rotate(-45)" x="0" y="0">CCL11</text>
<text transform="translate(953.5 829.5) rotate(-45)" x="0" y="0">CCL20</text>
<text transform="translate(965.3 841.2) rotate(-45)" x="0" y="0">CX3CL1</text>
<text transform="translate(977.0 853.0) rotate(-45)" x="0" y="0">CXCL2</text>
<text transform="translate(988.8 864.7) rotate(-45)" x="0" y="0">EGF</text>
<text transform="translate(1000.5 876.4) rotate(-45)" x="0" y="0">FLT3LD</text>
<text transform="translate(1012.2 888.2) rotate(-45)" x="0" y="0">GM-CSF</text>
<text transform="translate(1024.0 899.9) rotate(-45)" x="0" y="0">IFN--α</text>
<text transform="translate(1035.7 911.7) rotate(-45)" x="0" y="0">IFN-γ</text>
<text transform="translate(1047.5 923.4) rotate(-45)" x="0" y="0">IL-1β</text>
<text transform="translate(1059.2 935.1) rotate(-45)" x="0" y="0">IL-2</text>
<text transform="translate(1071.0 946.9) rotate(-45)" x="0" y="0">IL-4</text>
<text transform="translate(1082.7 958.6) rotate(-45)" x="0" y="0">IL-6</text>
<text transform="translate(1094.5 970.3) rotate(-45)" x="0" y="0">IL-10</text>
<text transform="translate(1106.2 982.1) rotate(-45)" x="0" y="0">IL-13</text>
<text transform="translate(1118.0 993.8) rotate(-45)" x="0" y="0">IL-17</text>
<text transform="translate(1129.7 1005.5) rotate(-45)" x="0" y="0">PD-L1</text>
<text transform="translate(1141.5 1017.3) rotate(-45)" x="0" y="0">PDGF-AB/BB</text>
<text transform="translate(1153.2 1029.0) rotate(-45)" x="0" y="0">TNFa</text>
<text transform="translate(1164.9 1040.8) rotate(-45)" x="0" y="0">VEGF</text>
<text transform="translate(1176.7 1052.5) rotate(-45)" x="0" y="0">CCL5</text>
<text transform="translate(1188.4 1064.2) rotate(-45)" x="0" y="0">IL-17E</text>
<text transform="translate(1200.2 1076.0) rotate(-45)" x="0" y="0">ALT</text>
<text transform="translate(1211.9 1087.7) rotate(-45)" x="0" y="0">BILIRUBIN</text>
<text transform="translate(1223.7 1099.4) rotate(-45)" x="0" y="0">CK</text>
<text transform="translate(1235.4 1111.2) rotate(-45)" x="0" y="0">CREATININE</text>
<text transform="translate(1247.2 1122.9) rotate(-45)" x="0" y="0">D-DIMER</text>
<text transform="translate(1258.9 1134.6) rotate(-45)" x="0" y="0">Hb</text>
<text transform="translate(1270.7 1146.4) rotate(-45)" x="0" y="0">WBC</text>
<text transform="translate(1282.4 1158.1) rotate(-45)" x="0" y="0">RBC</text>
<text transform="translate(1294.2 1169.9) rotate(-45)" x="0" y="0">INR</text>
<text transform="translate(1305.9 1181.6) rotate(-45)" x="0" y="0">LDH</text>
<text transform="translate(1317.7 1193.3) rotate(-45)" x="0" y="0">Platelets</text>
<text transform="translate(1329.4 1205.1) rotate(-45)" x="0" y="0">A1AT</text>
</g>
<text transform="translate(103.4 23.1) scale(1 1.21)" font-family="'Liberation Sans',sans-serif" font-weight="bold" font-size="29" fill="#00b050">LDN</text>
<g font-family="'Liberation Sans',sans-serif" font-size="42.8" fill="#000"><text x="765.6" y="236.9" textLength="211.8" lengthAdjust="spacingAndGlyphs">PREGNANT</text><text x="765.6" y="293.2" textLength="170.5" lengthAdjust="spacingAndGlyphs">POSITIVE</text></g>
<rect x="169.95" y="437.05" width="12.1" height="652.7" fill="none" stroke="#00b050" stroke-width="2.5"/>
<path d="M698.3 589.4 L697 1094.7 L1202.8 1092 Z" fill="none" stroke="#00adef" stroke-width="2.6" stroke-linejoin="miter"/>
<path d="M811 573 L1167.5 923" fill="none" stroke="#00adef" stroke-width="3"/>
<text transform="translate(906.1 607.7) rotate(44.3)" font-family="'Liberation Sans',sans-serif" font-weight="bold" font-size="36.5" fill="#00adef" textLength="298" lengthAdjust="spacingAndGlyphs">Plasma cytokines</text>
<defs><linearGradient id="cb" x1="0" x2="1" y1="0" y2="0"><stop offset="0" stop-color="#8b0000"/><stop offset="0.5" stop-color="#ffffff"/><stop offset="1" stop-color="#191970"/></linearGradient></defs>
<rect x="170.5" y="1245.0" width="1164.0" height="44.0" fill="url(#cb)" stroke="#222" stroke-width="0.8"/>
<g font-family="'Liberation Sans',sans-serif" font-size="27.9" fill="#000" text-anchor="middle">
<text x="163.5" y="1333.2">−1</text>
<text x="286.9" y="1333.2">−0.8</text>
<text x="403.3" y="1333.2">−0.6</text>
<text x="519.7" y="1333.2">−0.4</text>
<text x="636.1" y="1333.2">−0.2</text>
<text x="752.5" y="1333.2">0</text>
<text x="868.9" y="1333.2">0.2</text>
<text x="985.3" y="1333.2">0.4</text>
<text x="1101.7" y="1333.2">0.6</text>
<text x="1218.1" y="1333.2">0.8</text>
<text x="1322.5" y="1333.2">1</text>
</g>
<path d="M170.5 1289.0v9.6M286.9 1289.0v9.6M403.3 1289.0v9.6M519.7 1289.0v9.6M636.1 1289.0v9.6M752.5 1289.0v9.6M868.9 1289.0v9.6M985.3 1289.0v9.6M1101.7 1289.0v9.6M1218.1 1289.0v9.6M1334.5 1289.0v9.6" stroke="#222" stroke-width="0.9" fill="none"/>
<g><polygon points="52.9,1502.2 88.7,1490.1 124.5,1472.9 160.5,1452.9 160.5,1481.5 124.5,1487.2 88.7,1500.1 52.9,1520.1" fill="#ebebeb"/><circle cx="51.8" cy="1503.7" r="4" fill="#8b0000" fill-opacity="0.7"/><path d="M49.0 1506.5A4 4 0 0 1 54.6 1500.8Z" fill="#8b0000" fill-opacity="0.8"/><circle cx="56.1" cy="1507.3" r="4" fill="#8b0000" fill-opacity="0.7"/><path d="M58.9 1510.1A4 4 0 0 1 53.3 1504.4Z" fill="#8b0000" fill-opacity="0.8"/><circle cx="70.4" cy="1503.7" r="4" fill="#8b0000" fill-opacity="0.7"/><path d="M73.2 1500.8A4 4 0 0 1 67.6 1506.5Z" fill="#8b0000" fill-opacity="0.8"/><circle cx="88.3" cy="1497.2" r="4" fill="#8b0000" fill-opacity="0.7"/><path d="M88.3 1493.2A4 4 0 0 1 88.3 1501.2Z" fill="#8b0000" fill-opacity="0.8"/><circle cx="88.3" cy="1501.1" r="4" fill="#8b0000" fill-opacity="0.7"/><path d="M84.3 1501.1A4 4 0 0 1 92.3 1501.1Z" fill="#8b0000" fill-opacity="0.8"/><circle cx="117.3" cy="1494.7" r="4" fill="#8b0000" fill-opacity="0.7"/><path d="M120.1 1497.5A4 4 0 0 1 114.5 1491.8Z" fill="#8b0000" fill-opacity="0.8"/><circle cx="160.5" cy="1458.6" r="4" fill="#8b0000" fill-opacity="0.7"/><path d="M156.5 1458.6A4 4 0 0 1 164.5 1458.6Z" fill="#8b0000" fill-opacity="0.8"/><path d="M52.9 1510.1L160.5 1466.9" stroke="#1010ff" stroke-width="1.45" fill="none"/><path d="M46.9 1447.9V1524.1H166.0M46.9 1464.8h-2.6M46.9 1481.8h-2.6M46.9 1499.1h-2.6M46.9 1516.3h-2.6M81.1 1524.1v2.6M117.0 1524.1v2.6M153.1 1524.1v2.6" stroke="#555" stroke-width="1" fill="none"/><g font-family="'Liberation Sans',sans-serif" font-size="10.6" fill="#3c3c3c"><text x="42.9" y="1468.6" text-anchor="end">1500</text><text x="42.9" y="1485.6" text-anchor="end">1000</text><text x="42.9" y="1502.9" text-anchor="end">500</text><text x="42.9" y="1520.1" text-anchor="end">0</text><text x="81.1" y="1536.7" text-anchor="middle">1</text><text x="117.0" y="1536.7" text-anchor="middle">2</text><text x="153.1" y="1536.7" text-anchor="middle">3</text></g><text x="50.7" y="1450.7" font-family="'Liberation Sans',sans-serif" font-weight="bold" font-size="12.2" fill="#111" textLength="117.6" lengthAdjust="spacingAndGlyphs">R = 0.92, p = 0.0033</text><text transform="translate(11.4 1490.4) rotate(-90)" text-anchor="middle" font-family="'Liberation Sans',sans-serif" font-weight="bold" font-size="14.6" fill="#000" textLength="45.1" lengthAdjust="spacingAndGlyphs">APRIL</text></g>
<g><polygon points="52.9,1618.0 89.8,1607.2 127.3,1590.1 165.2,1568.6 165.2,1597.9 127.3,1602.9 89.8,1618.0 52.9,1635.9" fill="#ebebeb"/><circle cx="52.2" cy="1616.8" r="4" fill="#8b0000" fill-opacity="0.7"/><path d="M48.2 1616.8A4 4 0 0 1 56.2 1616.8Z" fill="#8b0000" fill-opacity="0.8"/><circle cx="56.2" cy="1633.0" r="4" fill="#8b0000" fill-opacity="0.7"/><path d="M60.2 1633.0A4 4 0 0 1 52.2 1633.0Z" fill="#8b0000" fill-opacity="0.8"/><circle cx="70.8" cy="1624.4" r="4" fill="#8b0000" fill-opacity="0.7"/><path d="M68.0 1627.2A4 4 0 0 1 73.6 1621.6Z" fill="#8b0000" fill-opacity="0.8"/><circle cx="89.8" cy="1607.7" r="4" fill="#8b0000" fill-opacity="0.7"/><path d="M89.8 1611.7A4 4 0 0 1 89.8 1603.7Z" fill="#8b0000" fill-opacity="0.8"/><circle cx="89.8" cy="1614.0" r="4" fill="#8b0000" fill-opacity="0.7"/><path d="M92.7 1611.1A4 4 0 0 1 87.0 1616.8Z" fill="#8b0000" fill-opacity="0.8"/><circle cx="120.2" cy="1606.8" r="4" fill="#8b0000" fill-opacity="0.7"/><path d="M120.2 1602.8A4 4 0 0 1 120.2 1610.8Z" fill="#8b0000" fill-opacity="0.8"/><circle cx="165.2" cy="1579.6" r="4" fill="#8b0000" fill-opacity="0.7"/><path d="M161.2 1579.6A4 4 0 0 1 169.2 1579.6Z" fill="#8b0000" fill-opacity="0.8"/><path d="M52.9 1626.8L165.2 1582.9" stroke="#1010ff" stroke-width="1.45" fill="none"/><path d="M46.9 1565.0V1641.1H171.0M46.9 1570.5h-2.6M46.9 1584.3h-2.6M46.9 1597.9h-2.6M46.9 1611.5h-2.6M46.9 1625.4h-2.6M46.9 1639.0h-2.6M82.0 1641.1v2.6M119.9 1641.1v2.6M157.4 1641.1v2.6" stroke="#555" stroke-width="1" fill="none"/><g font-family="'Liberation Sans',sans-serif" font-size="10.6" fill="#3c3c3c"><text x="43.6" y="1574.3" text-anchor="end">500</text><text x="43.6" y="1588.1" text-anchor="end">400</text><text x="43.6" y="1601.7" text-anchor="end">300</text><text x="43.6" y="1615.3" text-anchor="end">200</text><text x="43.6" y="1629.2" text-anchor="end">100</text><text x="43.6" y="1642.8" text-anchor="end">0</text><text x="82.0" y="1652.4" text-anchor="middle">1</text><text x="119.9" y="1652.4" text-anchor="middle">2</text><text x="157.4" y="1652.4" text-anchor="middle">3</text></g><text x="54.0" y="1563.2" font-family="'Liberation Sans',sans-serif" font-weight="bold" font-size="12.2" fill="#111" textLength="117.6" lengthAdjust="spacingAndGlyphs">R = 0.92, p = 0.0028</text><text transform="translate(11.4 1605.8) rotate(-90)" text-anchor="middle" font-family="'Liberation Sans',sans-serif" font-weight="bold" font-size="14.6" fill="#000" textLength="38.7" lengthAdjust="spacingAndGlyphs">CCL4</text></g>
<g><polygon points="47.9,1744.4 86.8,1723.4 125.9,1704.4 165.2,1684.3 165.2,1693.6 125.9,1710.8 86.8,1728.0 47.9,1750.1" fill="#ebebeb"/><circle cx="47.5" cy="1749.7" r="4" fill="#8b0000" fill-opacity="0.7"/><path d="M47.5 1753.7A4 4 0 0 1 47.5 1745.7Z" fill="#8b0000" fill-opacity="0.8"/><circle cx="51.2" cy="1743.7" r="4" fill="#8b0000" fill-opacity="0.7"/><path d="M54.0 1740.9A4 4 0 0 1 48.4 1746.5Z" fill="#8b0000" fill-opacity="0.8"/><circle cx="67.2" cy="1739.8" r="4" fill="#8b0000" fill-opacity="0.7"/><path d="M64.4 1742.7A4 4 0 0 1 70.1 1737.0Z" fill="#8b0000" fill-opacity="0.8"/><circle cx="86.8" cy="1722.2" r="4" fill="#8b0000" fill-opacity="0.7"/><path d="M82.8 1722.2A4 4 0 0 1 90.8 1722.2Z" fill="#8b0000" fill-opacity="0.8"/><circle cx="86.8" cy="1725.1" r="4" fill="#8b0000" fill-opacity="0.7"/><path d="M89.7 1727.9A4 4 0 0 1 84.0 1722.3Z" fill="#8b0000" fill-opacity="0.8"/><circle cx="118.2" cy="1713.2" r="4" fill="#8b0000" fill-opacity="0.7"/><path d="M114.2 1713.2A4 4 0 0 1 122.2 1713.2Z" fill="#8b0000" fill-opacity="0.8"/><circle cx="165.2" cy="1688.9" r="4" fill="#8b0000" fill-opacity="0.7"/><path d="M161.2 1688.9A4 4 0 0 1 169.2 1688.9Z" fill="#8b0000" fill-opacity="0.8"/><path d="M47.9 1747.3L165.2 1688.9" stroke="#1010ff" stroke-width="1.45" fill="none"/><path d="M41.9 1678.6V1754.4H170.2M41.9 1697.5h-2.6M41.9 1717.5h-2.6M41.9 1737.7h-2.6M78.3 1754.4v2.6M117.6 1754.4v2.6M156.9 1754.4v2.6" stroke="#555" stroke-width="1" fill="none"/><g font-family="'Liberation Sans',sans-serif" font-size="10.6" fill="#3c3c3c"><text x="38.9" y="1701.3" text-anchor="end">75</text><text x="38.9" y="1721.3" text-anchor="end">50</text><text x="38.9" y="1741.5" text-anchor="end">25</text><text x="78.3" y="1766.0" text-anchor="middle">1</text><text x="117.6" y="1766.0" text-anchor="middle">2</text><text x="156.9" y="1766.0" text-anchor="middle">3</text></g><text x="44.0" y="1681.2" font-family="'Liberation Sans',sans-serif" font-weight="bold" font-size="12.2" fill="#111" textLength="122.3" lengthAdjust="spacingAndGlyphs">R = 0.99, p = 1.1e-05</text><text transform="translate(11.4 1718.3) rotate(-90)" text-anchor="middle" font-family="'Liberation Sans',sans-serif" font-weight="bold" font-size="14.6" fill="#000" textLength="39.4" lengthAdjust="spacingAndGlyphs">IL–13</text><text x="88.0" y="1782.8" font-family="'Liberation Sans',sans-serif" font-weight="bold" font-size="15.6" fill="#111" textLength="64.7" lengthAdjust="spacingAndGlyphs">LDN (%)</text></g>
<g><polygon points="262.2,1496.5 298.4,1490.1 334.5,1472.9 370.2,1451.5 370.2,1487.2 334.5,1492.9 298.4,1505.8 262.2,1520.4" fill="#ebebeb"/><circle cx="262.2" cy="1509.4" r="4" fill="#8b0000" fill-opacity="0.7"/><path d="M266.2 1509.4A4 4 0 0 1 258.2 1509.4Z" fill="#8b0000" fill-opacity="0.8"/><circle cx="265.8" cy="1506.3" r="4" fill="#8b0000" fill-opacity="0.7"/><path d="M261.8 1506.3A4 4 0 0 1 269.8 1506.3Z" fill="#8b0000" fill-opacity="0.8"/><circle cx="280.5" cy="1507.3" r="4" fill="#8b0000" fill-opacity="0.7"/><path d="M283.4 1510.1A4 4 0 0 1 277.7 1504.4Z" fill="#8b0000" fill-opacity="0.8"/><circle cx="298.4" cy="1493.9" r="4" fill="#8b0000" fill-opacity="0.7"/><path d="M302.4 1493.9A4 4 0 0 1 294.4 1493.9Z" fill="#8b0000" fill-opacity="0.8"/><circle cx="298.4" cy="1500.1" r="4" fill="#8b0000" fill-opacity="0.7"/><path d="M298.4 1496.1A4 4 0 0 1 298.4 1504.1Z" fill="#8b0000" fill-opacity="0.8"/><circle cx="327.0" cy="1469.3" r="4" fill="#8b0000" fill-opacity="0.7"/><path d="M327.0 1465.3A4 4 0 0 1 327.0 1473.3Z" fill="#8b0000" fill-opacity="0.8"/><circle cx="327.0" cy="1469.3" r="4" fill="#8b0000" fill-opacity="0.7"/><path d="M329.9 1466.5A4 4 0 0 1 324.2 1472.2Z" fill="#8b0000" fill-opacity="0.8"/><circle cx="370.2" cy="1477.5" r="4" fill="#8b0000" fill-opacity="0.7"/><path d="M367.4 1474.7A4 4 0 0 1 373.1 1480.3Z" fill="#8b0000" fill-opacity="0.8"/><path d="M262.2 1508.4L370.2 1469.8" stroke="#1010ff" stroke-width="1.45" fill="none"/><path d="M256.9 1448.6V1524.0H375.7M256.9 1450.5h-2.6M256.9 1466.8h-2.6M256.9 1483.2h-2.6M256.9 1499.7h-2.6M256.9 1515.8h-2.6M291.1 1524.0v2.6M327.0 1524.0v2.6M363.5 1524.0v2.6" stroke="#555" stroke-width="1" fill="none"/><g font-family="'Liberation Sans',sans-serif" font-size="10.6" fill="#3c3c3c"><text x="253.2" y="1454.3" text-anchor="end">4000</text><text x="253.2" y="1470.6" text-anchor="end">3000</text><text x="253.2" y="1487.0" text-anchor="end">2000</text><text x="253.2" y="1503.5" text-anchor="end">1000</text><text x="253.2" y="1519.6" text-anchor="end">0</text><text x="291.1" y="1536.7" text-anchor="middle">1</text><text x="327.0" y="1536.7" text-anchor="middle">2</text><text x="363.5" y="1536.7" text-anchor="middle">3</text></g><text x="260.4" y="1449.3" font-family="'Liberation Sans',sans-serif" font-weight="bold" font-size="12.2" fill="#111" textLength="109.0" lengthAdjust="spacingAndGlyphs">R = 0.87, p = 0.011</text><text transform="translate(222.9 1484.0) rotate(-90)" text-anchor="middle" font-family="'Liberation Sans',sans-serif" font-weight="bold" font-size="14.6" fill="#000" textLength="39.4" lengthAdjust="spacingAndGlyphs">IL–18</text></g>
<g><polygon points="263.2,1613.7 300.6,1606.5 338.1,1589.4 376.0,1569.3 376.0,1603.7 338.1,1608.0 300.6,1621.5 263.2,1637.3" fill="#ebebeb"/><circle cx="262.9" cy="1620.8" r="4" fill="#8b0000" fill-opacity="0.7"/><path d="M265.8 1618.0A4 4 0 0 1 260.1 1623.7Z" fill="#8b0000" fill-opacity="0.8"/><circle cx="266.7" cy="1613.2" r="4" fill="#8b0000" fill-opacity="0.7"/><path d="M269.5 1610.4A4 4 0 0 1 263.8 1616.1Z" fill="#8b0000" fill-opacity="0.8"/><circle cx="281.5" cy="1625.4" r="4" fill="#8b0000" fill-opacity="0.7"/><path d="M278.7 1628.2A4 4 0 0 1 284.4 1622.6Z" fill="#8b0000" fill-opacity="0.8"/><circle cx="300.6" cy="1619.4" r="4" fill="#8b0000" fill-opacity="0.7"/><path d="M303.4 1616.6A4 4 0 0 1 297.7 1622.2Z" fill="#8b0000" fill-opacity="0.8"/><circle cx="300.6" cy="1621.3" r="4" fill="#8b0000" fill-opacity="0.7"/><path d="M297.7 1624.1A4 4 0 0 1 303.4 1618.4Z" fill="#8b0000" fill-opacity="0.8"/><circle cx="330.6" cy="1599.8" r="4" fill="#8b0000" fill-opacity="0.7"/><path d="M326.6 1599.8A4 4 0 0 1 334.6 1599.8Z" fill="#8b0000" fill-opacity="0.8"/><circle cx="376.0" cy="1581.2" r="4" fill="#8b0000" fill-opacity="0.7"/><path d="M380.0 1581.2A4 4 0 0 1 372.0 1581.2Z" fill="#8b0000" fill-opacity="0.8"/><path d="M263.2 1625.8L376.0 1585.8" stroke="#1010ff" stroke-width="1.45" fill="none"/><path d="M257.5 1565.0V1641.1H381.7M257.5 1570.3h-2.6M257.5 1592.9h-2.6M257.5 1615.4h-2.6M257.5 1637.7h-2.6M293.3 1641.1v2.6M330.5 1641.1v2.6M368.1 1641.1v2.6" stroke="#555" stroke-width="1" fill="none"/><g font-family="'Liberation Sans',sans-serif" font-size="10.6" fill="#3c3c3c"><text x="254.1" y="1574.1" text-anchor="end">300</text><text x="254.1" y="1596.7" text-anchor="end">200</text><text x="254.1" y="1619.2" text-anchor="end">100</text><text x="254.1" y="1641.5" text-anchor="end">0</text><text x="293.3" y="1652.4" text-anchor="middle">1</text><text x="330.5" y="1652.4" text-anchor="middle">2</text><text x="368.1" y="1652.4" text-anchor="middle">3</text></g><text x="264.3" y="1568.6" font-family="'Liberation Sans',sans-serif" font-weight="bold" font-size="12.2" fill="#111" textLength="116.9" lengthAdjust="spacingAndGlyphs">R = 0.88, p = 0.0091</text><text transform="translate(222.9 1588.6) rotate(-90)" text-anchor="middle" font-family="'Liberation Sans',sans-serif" font-weight="bold" font-size="14.6" fill="#000" textLength="47.3" lengthAdjust="spacingAndGlyphs">CCL19</text></g>
<g><polygon points="258.7,1732.3 298.0,1724.4 337.3,1706.5 376.0,1684.3 376.0,1713.7 337.3,1722.2 298.0,1738.0 258.7,1753.0" fill="#ebebeb"/><circle cx="258.4" cy="1736.5" r="4" fill="#8b0000" fill-opacity="0.7"/><path d="M258.4 1740.5A4 4 0 0 1 258.4 1732.5Z" fill="#8b0000" fill-opacity="0.8"/><circle cx="262.5" cy="1736.5" r="4" fill="#8b0000" fill-opacity="0.7"/><path d="M258.5 1736.5A4 4 0 0 1 266.5 1736.5Z" fill="#8b0000" fill-opacity="0.8"/><circle cx="278.4" cy="1736.5" r="4" fill="#8b0000" fill-opacity="0.7"/><path d="M282.4 1736.5A4 4 0 0 1 274.4 1736.5Z" fill="#8b0000" fill-opacity="0.8"/><circle cx="298.0" cy="1734.1" r="4" fill="#8b0000" fill-opacity="0.7"/><path d="M300.8 1731.3A4 4 0 0 1 295.2 1736.9Z" fill="#8b0000" fill-opacity="0.8"/><circle cx="298.0" cy="1737.0" r="4" fill="#8b0000" fill-opacity="0.7"/><path d="M294.0 1737.0A4 4 0 0 1 302.0 1737.0Z" fill="#8b0000" fill-opacity="0.8"/><circle cx="329.2" cy="1721.1" r="4" fill="#8b0000" fill-opacity="0.7"/><path d="M329.2 1717.1A4 4 0 0 1 329.2 1725.1Z" fill="#8b0000" fill-opacity="0.8"/><circle cx="376.3" cy="1691.8" r="4" fill="#8b0000" fill-opacity="0.7"/><path d="M379.1 1694.6A4 4 0 0 1 373.4 1688.9Z" fill="#8b0000" fill-opacity="0.8"/><path d="M258.7 1743.3L376.0 1698.9" stroke="#1010ff" stroke-width="1.45" fill="none"/><path d="M252.5 1680.8V1756.9H381.7M252.5 1681.2h-2.6M252.5 1702.5h-2.6M252.5 1724.1h-2.6M252.5 1745.4h-2.6M289.7 1756.9v2.6M329.2 1756.9v2.6M368.1 1756.9v2.6" stroke="#555" stroke-width="1" fill="none"/><g font-family="'Liberation Sans',sans-serif" font-size="10.6" fill="#3c3c3c"><text x="249.4" y="1685.0" text-anchor="end">30</text><text x="249.4" y="1706.3" text-anchor="end">20</text><text x="249.4" y="1727.9" text-anchor="end">10</text><text x="249.4" y="1749.2" text-anchor="end">0</text><text x="289.7" y="1768.6" text-anchor="middle">1</text><text x="329.2" y="1768.6" text-anchor="middle">2</text><text x="368.1" y="1768.6" text-anchor="middle">3</text></g><text x="255.7" y="1684.8" font-family="'Liberation Sans',sans-serif" font-weight="bold" font-size="12.2" fill="#111" textLength="118.0" lengthAdjust="spacingAndGlyphs">R = 0.93, p = 0.0027</text><text transform="translate(222.9 1708.3) rotate(-90)" text-anchor="middle" font-family="'Liberation Sans',sans-serif" font-weight="bold" font-size="14.6" fill="#000" textLength="49.4" lengthAdjust="spacingAndGlyphs">IL–17E</text><text x="298.4" y="1782.3" font-family="'Liberation Sans',sans-serif" font-weight="bold" font-size="15.6" fill="#111" textLength="64.9" lengthAdjust="spacingAndGlyphs">LDN (%)</text></g>
<g><polygon points="464.4,1492.9 500.1,1485.8 536.6,1470.8 572.8,1450.0 572.8,1488.7 536.6,1492.9 500.1,1504.4 464.4,1518.0" fill="#ebebeb"/><circle cx="463.9" cy="1499.0" r="4" fill="#8b0000" fill-opacity="0.7"/><path d="M461.1 1496.1A4 4 0 0 1 466.8 1501.8Z" fill="#8b0000" fill-opacity="0.8"/><circle cx="467.5" cy="1499.0" r="4" fill="#8b0000" fill-opacity="0.7"/><path d="M464.7 1501.8A4 4 0 0 1 470.4 1496.1Z" fill="#8b0000" fill-opacity="0.8"/><circle cx="482.5" cy="1499.7" r="4" fill="#8b0000" fill-opacity="0.7"/><path d="M478.5 1499.7A4 4 0 0 1 486.5 1499.7Z" fill="#8b0000" fill-opacity="0.8"/><circle cx="500.1" cy="1497.2" r="4" fill="#8b0000" fill-opacity="0.7"/><path d="M497.3 1494.4A4 4 0 0 1 503.0 1500.1Z" fill="#8b0000" fill-opacity="0.8"/><circle cx="500.1" cy="1502.2" r="4" fill="#8b0000" fill-opacity="0.7"/><path d="M497.3 1505.1A4 4 0 0 1 503.0 1499.4Z" fill="#8b0000" fill-opacity="0.8"/><circle cx="529.0" cy="1496.1" r="4" fill="#8b0000" fill-opacity="0.7"/><path d="M531.9 1498.9A4 4 0 0 1 526.2 1493.3Z" fill="#8b0000" fill-opacity="0.8"/><circle cx="529.0" cy="1496.1" r="4" fill="#8b0000" fill-opacity="0.7"/><path d="M529.0 1500.1A4 4 0 0 1 529.0 1492.1Z" fill="#8b0000" fill-opacity="0.8"/><circle cx="572.8" cy="1458.6" r="4" fill="#8b0000" fill-opacity="0.7"/><path d="M570.0 1461.4A4 4 0 0 1 575.6 1455.8Z" fill="#8b0000" fill-opacity="0.8"/><path d="M464.4 1505.4L572.8 1469.3" stroke="#1010ff" stroke-width="1.45" fill="none"/><path d="M458.7 1446.5V1522.3H577.8M458.7 1450.0h-2.6M458.7 1468.9h-2.6M458.7 1487.9h-2.6M458.7 1507.3h-2.6M493.0 1522.3v2.6M528.8 1522.3v2.6M565.2 1522.3v2.6" stroke="#555" stroke-width="1" fill="none"/><g font-family="'Liberation Sans',sans-serif" font-size="10.6" fill="#3c3c3c"><text x="455.1" y="1453.8" text-anchor="end">3000</text><text x="455.1" y="1472.7" text-anchor="end">2000</text><text x="455.1" y="1491.7" text-anchor="end">1000</text><text x="455.1" y="1511.1" text-anchor="end">0</text><text x="493.0" y="1533.8" text-anchor="middle">1</text><text x="528.8" y="1533.8" text-anchor="middle">2</text><text x="565.2" y="1533.8" text-anchor="middle">3</text></g><text x="463.1" y="1446.0" font-family="'Liberation Sans',sans-serif" font-weight="bold" font-size="12.2" fill="#111" textLength="103.8" lengthAdjust="spacingAndGlyphs">R = 0.83, p = 0.02</text><text transform="translate(425.0 1480.8) rotate(-90)" text-anchor="middle" font-family="'Liberation Sans',sans-serif" font-weight="bold" font-size="14.6" fill="#000" textLength="40.1" lengthAdjust="spacingAndGlyphs">BAFF</text></g>
<g><polygon points="464.4,1611.5 500.6,1601.5 536.6,1585.8 572.8,1565.0 572.8,1598.4 536.6,1602.9 500.6,1618.0 464.4,1632.7" fill="#ebebeb"/><circle cx="463.9" cy="1617.7" r="4" fill="#8b0000" fill-opacity="0.7"/><path d="M467.9 1617.7A4 4 0 0 1 459.9 1617.7Z" fill="#8b0000" fill-opacity="0.8"/><circle cx="468.0" cy="1614.4" r="4" fill="#8b0000" fill-opacity="0.7"/><path d="M464.0 1614.4A4 4 0 0 1 472.0 1614.4Z" fill="#8b0000" fill-opacity="0.8"/><circle cx="482.5" cy="1608.4" r="4" fill="#8b0000" fill-opacity="0.7"/><path d="M479.7 1605.6A4 4 0 0 1 485.4 1611.2Z" fill="#8b0000" fill-opacity="0.8"/><circle cx="500.6" cy="1617.7" r="4" fill="#8b0000" fill-opacity="0.7"/><path d="M497.7 1620.5A4 4 0 0 1 503.4 1614.9Z" fill="#8b0000" fill-opacity="0.8"/><circle cx="500.6" cy="1618.4" r="4" fill="#8b0000" fill-opacity="0.7"/><path d="M503.4 1615.6A4 4 0 0 1 497.7 1621.2Z" fill="#8b0000" fill-opacity="0.8"/><circle cx="529.5" cy="1599.7" r="4" fill="#8b0000" fill-opacity="0.7"/><path d="M526.6 1596.8A4 4 0 0 1 532.3 1602.5Z" fill="#8b0000" fill-opacity="0.8"/><circle cx="573.1" cy="1574.0" r="4" fill="#8b0000" fill-opacity="0.7"/><path d="M573.1 1570.0A4 4 0 0 1 573.1 1578.0Z" fill="#8b0000" fill-opacity="0.8"/><path d="M464.4 1621.1L572.8 1581.2" stroke="#1010ff" stroke-width="1.45" fill="none"/><path d="M458.7 1560.0V1636.1H577.8M458.7 1569.0h-2.6M458.7 1586.5h-2.6M458.7 1603.9h-2.6M458.7 1621.3h-2.6M493.0 1636.1v2.6M528.8 1636.1v2.6M565.2 1636.1v2.6" stroke="#555" stroke-width="1" fill="none"/><g font-family="'Liberation Sans',sans-serif" font-size="10.6" fill="#3c3c3c"><text x="455.1" y="1572.8" text-anchor="end">3000</text><text x="455.1" y="1590.3" text-anchor="end">2000</text><text x="455.1" y="1607.7" text-anchor="end">1000</text><text x="455.1" y="1625.1" text-anchor="end">0</text><text x="493.0" y="1648.1" text-anchor="middle">1</text><text x="528.8" y="1648.1" text-anchor="middle">2</text><text x="565.2" y="1648.1" text-anchor="middle">3</text></g><text x="463.9" y="1562.6" font-family="'Liberation Sans',sans-serif" font-weight="bold" font-size="12.2" fill="#111" textLength="116.7" lengthAdjust="spacingAndGlyphs">R = 0.88, p = 0.0081</text><text transform="translate(425.0 1592.8) rotate(-90)" text-anchor="middle" font-family="'Liberation Sans',sans-serif" font-weight="bold" font-size="14.6" fill="#000" textLength="47.6" lengthAdjust="spacingAndGlyphs">CD40L</text></g>
<g><polygon points="463.7,1726.5 500.9,1717.9 538.1,1702.2 576.0,1682.2 576.0,1720.1 538.1,1725.1 500.9,1738.0 463.7,1751.1" fill="#ebebeb"/><circle cx="462.9" cy="1733.3" r="4" fill="#8b0000" fill-opacity="0.7"/><path d="M465.8 1736.1A4 4 0 0 1 460.1 1730.4Z" fill="#8b0000" fill-opacity="0.8"/><circle cx="467.2" cy="1733.3" r="4" fill="#8b0000" fill-opacity="0.7"/><path d="M471.2 1733.3A4 4 0 0 1 463.2 1733.3Z" fill="#8b0000" fill-opacity="0.8"/><circle cx="482.0" cy="1733.0" r="4" fill="#8b0000" fill-opacity="0.7"/><path d="M482.0 1729.0A4 4 0 0 1 482.0 1737.0Z" fill="#8b0000" fill-opacity="0.8"/><circle cx="500.9" cy="1730.4" r="4" fill="#8b0000" fill-opacity="0.7"/><path d="M498.0 1727.6A4 4 0 0 1 503.7 1733.2Z" fill="#8b0000" fill-opacity="0.8"/><circle cx="530.9" cy="1730.1" r="4" fill="#8b0000" fill-opacity="0.7"/><path d="M530.9 1734.1A4 4 0 0 1 530.9 1726.1Z" fill="#8b0000" fill-opacity="0.8"/><circle cx="530.9" cy="1730.5" r="4" fill="#8b0000" fill-opacity="0.7"/><path d="M534.9 1730.5A4 4 0 0 1 526.9 1730.5Z" fill="#8b0000" fill-opacity="0.8"/><circle cx="576.0" cy="1691.1" r="4" fill="#8b0000" fill-opacity="0.7"/><path d="M572.0 1691.1A4 4 0 0 1 580.0 1691.1Z" fill="#8b0000" fill-opacity="0.8"/><path d="M463.7 1739.1L576.0 1701.1" stroke="#1010ff" stroke-width="1.45" fill="none"/><path d="M457.5 1680.0V1754.7H581.4M457.5 1685.0h-2.6M457.5 1701.8h-2.6M457.5 1718.7h-2.6M457.5 1735.5h-2.6M457.5 1753.0h-2.6M493.0 1754.7v2.6M530.5 1754.7v2.6M568.1 1754.7v2.6" stroke="#555" stroke-width="1" fill="none"/><g font-family="'Liberation Sans',sans-serif" font-size="10.6" fill="#3c3c3c"><text x="454.4" y="1688.8" text-anchor="end">60</text><text x="454.4" y="1705.6" text-anchor="end">40</text><text x="454.4" y="1722.5" text-anchor="end">20</text><text x="454.4" y="1739.3" text-anchor="end">0</text><text x="454.4" y="1756.8" text-anchor="end">−20</text><text x="493.0" y="1766.4" text-anchor="middle">1</text><text x="530.5" y="1766.4" text-anchor="middle">2</text><text x="568.1" y="1766.4" text-anchor="middle">3</text></g><text x="461.7" y="1679.6" font-family="'Liberation Sans',sans-serif" font-weight="bold" font-size="12.2" fill="#111" textLength="110.3" lengthAdjust="spacingAndGlyphs">R = 0.86, p = 0.014</text><text transform="translate(425.0 1711.5) rotate(-90)" text-anchor="middle" font-family="'Liberation Sans',sans-serif" font-weight="bold" font-size="14.6" fill="#000" textLength="41.6" lengthAdjust="spacingAndGlyphs">IFN–<tspan font-weight="normal">γ</tspan></text><text x="498.9" y="1782.0" font-family="'Liberation Sans',sans-serif" font-weight="bold" font-size="15.6" fill="#111" textLength="64.5" lengthAdjust="spacingAndGlyphs">LDN (%)</text></g>
<g><polygon points="675.8,1500.1 713.0,1489.4 750.2,1471.5 788.1,1450.0 788.1,1479.4 750.2,1485.1 713.0,1500.1 675.8,1518.0" fill="#ebebeb"/><circle cx="675.4" cy="1498.0" r="4" fill="#8b0000" fill-opacity="0.7"/><path d="M671.4 1498.0A4 4 0 0 1 679.4 1498.0Z" fill="#8b0000" fill-opacity="0.8"/><circle cx="679.4" cy="1509.1" r="4" fill="#8b0000" fill-opacity="0.7"/><path d="M676.6 1511.9A4 4 0 0 1 682.2 1506.3Z" fill="#8b0000" fill-opacity="0.8"/><circle cx="694.4" cy="1505.4" r="4" fill="#8b0000" fill-opacity="0.7"/><path d="M691.6 1508.2A4 4 0 0 1 697.2 1502.6Z" fill="#8b0000" fill-opacity="0.8"/><circle cx="713.0" cy="1492.9" r="4" fill="#8b0000" fill-opacity="0.7"/><path d="M710.2 1490.1A4 4 0 0 1 715.8 1495.8Z" fill="#8b0000" fill-opacity="0.8"/><circle cx="713.0" cy="1500.1" r="4" fill="#8b0000" fill-opacity="0.7"/><path d="M709.0 1500.1A4 4 0 0 1 717.0 1500.1Z" fill="#8b0000" fill-opacity="0.8"/><circle cx="743.1" cy="1488.7" r="4" fill="#8b0000" fill-opacity="0.7"/><path d="M745.9 1485.8A4 4 0 0 1 740.2 1491.5Z" fill="#8b0000" fill-opacity="0.8"/><circle cx="788.1" cy="1458.6" r="4" fill="#8b0000" fill-opacity="0.7"/><path d="M791.0 1461.4A4 4 0 0 1 785.3 1455.8Z" fill="#8b0000" fill-opacity="0.8"/><path d="M675.8 1508.7L788.1 1464.8" stroke="#1010ff" stroke-width="1.45" fill="none"/><path d="M669.8 1446.5V1522.3H793.8M669.8 1447.9h-2.6M669.8 1466.2h-2.6M669.8 1484.6h-2.6M669.8 1503.0h-2.6M669.8 1521.1h-2.6M705.4 1522.3v2.6M742.8 1522.3v2.6M780.5 1522.3v2.6" stroke="#555" stroke-width="1" fill="none"/><g font-family="'Liberation Sans',sans-serif" font-size="10.6" fill="#3c3c3c"><text x="666.5" y="1451.7" text-anchor="end">400</text><text x="666.5" y="1470.0" text-anchor="end">300</text><text x="666.5" y="1488.4" text-anchor="end">200</text><text x="666.5" y="1506.8" text-anchor="end">100</text><text x="666.5" y="1524.9" text-anchor="end">0</text><text x="705.4" y="1533.8" text-anchor="middle">1</text><text x="742.8" y="1533.8" text-anchor="middle">2</text><text x="780.5" y="1533.8" text-anchor="middle">3</text></g><text x="676.2" y="1448.6" font-family="'Liberation Sans',sans-serif" font-weight="bold" font-size="12.2" fill="#111" textLength="110.1" lengthAdjust="spacingAndGlyphs">R = 0.92, p = 0.003</text><text transform="translate(637.5 1481.1) rotate(-90)" text-anchor="middle" font-family="'Liberation Sans',sans-serif" font-weight="bold" font-size="14.6" fill="#000" textLength="39.4" lengthAdjust="spacingAndGlyphs">CCL2</text></g>
<g><polygon points="673.7,1602.9 709.4,1596.5 745.2,1581.5 781.4,1561.5 781.4,1602.9 745.2,1607.2 709.4,1618.0 673.7,1630.1" fill="#ebebeb"/><circle cx="673.2" cy="1610.4" r="4" fill="#8b0000" fill-opacity="0.7"/><path d="M677.2 1610.4A4 4 0 0 1 669.2 1610.4Z" fill="#8b0000" fill-opacity="0.8"/><circle cx="677.3" cy="1610.4" r="4" fill="#8b0000" fill-opacity="0.7"/><path d="M674.4 1607.6A4 4 0 0 1 680.1 1613.2Z" fill="#8b0000" fill-opacity="0.8"/><circle cx="691.6" cy="1609.4" r="4" fill="#8b0000" fill-opacity="0.7"/><path d="M694.4 1612.2A4 4 0 0 1 688.7 1606.6Z" fill="#8b0000" fill-opacity="0.8"/><circle cx="709.4" cy="1610.1" r="4" fill="#8b0000" fill-opacity="0.7"/><path d="M709.4 1606.1A4 4 0 0 1 709.4 1614.1Z" fill="#8b0000" fill-opacity="0.8"/><circle cx="709.4" cy="1611.5" r="4" fill="#8b0000" fill-opacity="0.7"/><path d="M706.6 1608.7A4 4 0 0 1 712.3 1614.4Z" fill="#8b0000" fill-opacity="0.8"/><circle cx="738.3" cy="1610.8" r="4" fill="#8b0000" fill-opacity="0.7"/><path d="M735.5 1608.0A4 4 0 0 1 741.2 1613.6Z" fill="#8b0000" fill-opacity="0.8"/><circle cx="738.3" cy="1610.8" r="4" fill="#8b0000" fill-opacity="0.7"/><path d="M738.3 1606.8A4 4 0 0 1 738.3 1614.8Z" fill="#8b0000" fill-opacity="0.8"/><circle cx="781.4" cy="1570.8" r="4" fill="#8b0000" fill-opacity="0.7"/><path d="M785.4 1570.8A4 4 0 0 1 777.4 1570.8Z" fill="#8b0000" fill-opacity="0.8"/><path d="M673.7 1616.5L781.4 1582.2" stroke="#1010ff" stroke-width="1.45" fill="none"/><path d="M668.4 1557.9V1634.0H786.7M668.4 1558.9h-2.6M668.4 1576.8h-2.6M668.4 1594.8h-2.6M668.4 1613.0h-2.6M668.4 1630.8h-2.6M702.0 1634.0v2.6M738.1 1634.0v2.6M774.2 1634.0v2.6" stroke="#555" stroke-width="1" fill="none"/><g font-family="'Liberation Sans',sans-serif" font-size="10.6" fill="#3c3c3c"><text x="665.1" y="1562.7" text-anchor="end">1500</text><text x="665.1" y="1580.6" text-anchor="end">1000</text><text x="665.1" y="1598.6" text-anchor="end">500</text><text x="665.1" y="1616.8" text-anchor="end">0</text><text x="665.1" y="1634.6" text-anchor="end">−500</text><text x="702.0" y="1645.6" text-anchor="middle">1</text><text x="738.1" y="1645.6" text-anchor="middle">2</text><text x="774.2" y="1645.6" text-anchor="middle">3</text></g><text x="673.6" y="1558.9" font-family="'Liberation Sans',sans-serif" font-weight="bold" font-size="12.2" fill="#111" textLength="95.8" lengthAdjust="spacingAndGlyphs">R = 0.8, p = 0.03</text><text transform="translate(635.1 1596.5) rotate(-90)" text-anchor="middle" font-family="'Liberation Sans',sans-serif" font-weight="bold" font-size="14.6" fill="#000" textLength="57.3" lengthAdjust="spacingAndGlyphs">CXCL10</text></g>
<g><polygon points="672.0,1738.7 710.6,1725.1 749.5,1707.9 788.8,1687.2 788.8,1707.2 749.5,1716.5 710.6,1733.0 672.0,1753.7" fill="#ebebeb"/><circle cx="671.2" cy="1740.6" r="4" fill="#8b0000" fill-opacity="0.7"/><path d="M675.2 1740.6A4 4 0 0 1 667.2 1740.6Z" fill="#8b0000" fill-opacity="0.8"/><circle cx="675.4" cy="1744.8" r="4" fill="#8b0000" fill-opacity="0.7"/><path d="M671.4 1744.8A4 4 0 0 1 679.4 1744.8Z" fill="#8b0000" fill-opacity="0.8"/><circle cx="691.1" cy="1742.3" r="4" fill="#8b0000" fill-opacity="0.7"/><path d="M688.3 1739.4A4 4 0 0 1 694.0 1745.1Z" fill="#8b0000" fill-opacity="0.8"/><circle cx="710.6" cy="1726.5" r="4" fill="#8b0000" fill-opacity="0.7"/><path d="M706.6 1726.5A4 4 0 0 1 714.6 1726.5Z" fill="#8b0000" fill-opacity="0.8"/><circle cx="710.6" cy="1730.4" r="4" fill="#8b0000" fill-opacity="0.7"/><path d="M710.6 1734.4A4 4 0 0 1 710.6 1726.4Z" fill="#8b0000" fill-opacity="0.8"/><circle cx="742.1" cy="1724.1" r="4" fill="#8b0000" fill-opacity="0.7"/><path d="M739.2 1726.9A4 4 0 0 1 744.9 1721.3Z" fill="#8b0000" fill-opacity="0.8"/><circle cx="742.1" cy="1724.1" r="4" fill="#8b0000" fill-opacity="0.7"/><path d="M738.1 1724.1A4 4 0 0 1 746.1 1724.1Z" fill="#8b0000" fill-opacity="0.8"/><circle cx="788.8" cy="1691.5" r="4" fill="#8b0000" fill-opacity="0.7"/><path d="M784.8 1691.5A4 4 0 0 1 792.8 1691.5Z" fill="#8b0000" fill-opacity="0.8"/><path d="M672.0 1745.8L788.8 1696.2" stroke="#1010ff" stroke-width="1.45" fill="none"/><path d="M665.8 1680.8V1757.3H794.3M665.8 1699.6h-2.6M665.8 1723.7h-2.6M665.8 1747.7h-2.6M702.3 1757.3v2.6M741.6 1757.3v2.6M781.0 1757.3v2.6" stroke="#555" stroke-width="1" fill="none"/><g font-family="'Liberation Sans',sans-serif" font-size="10.6" fill="#3c3c3c"><text x="662.7" y="1703.4" text-anchor="end">20</text><text x="662.7" y="1727.5" text-anchor="end">10</text><text x="662.7" y="1751.5" text-anchor="end">0</text><text x="702.3" y="1768.9" text-anchor="middle">1</text><text x="741.6" y="1768.9" text-anchor="middle">2</text><text x="781.0" y="1768.9" text-anchor="middle">3</text></g><text x="670.7" y="1685.8" font-family="'Liberation Sans',sans-serif" font-weight="bold" font-size="12.2" fill="#111" textLength="125.1" lengthAdjust="spacingAndGlyphs">R = 0.96, p = 0.00047</text><text transform="translate(634.3 1714.7) rotate(-90)" text-anchor="middle" font-family="'Liberation Sans',sans-serif" font-weight="bold" font-size="14.6" fill="#000" textLength="30.8" lengthAdjust="spacingAndGlyphs">IL–2</text><text x="710.3" y="1781.6" font-family="'Liberation Sans',sans-serif" font-weight="bold" font-size="15.6" fill="#111" textLength="64.5" lengthAdjust="spacingAndGlyphs">LDN (%)</text></g>
<g><polygon points="878.0,1504.4 915.6,1489.4 953.1,1471.5 991.0,1451.5 991.0,1471.5 953.1,1480.8 915.6,1496.5 878.0,1517.3" fill="#ebebeb"/><circle cx="877.7" cy="1508.0" r="4" fill="#8b0000" fill-opacity="0.7"/><path d="M877.7 1504.0A4 4 0 0 1 877.7 1512.0Z" fill="#8b0000" fill-opacity="0.8"/><circle cx="881.8" cy="1508.7" r="4" fill="#8b0000" fill-opacity="0.7"/><path d="M879.0 1511.5A4 4 0 0 1 884.7 1505.9Z" fill="#8b0000" fill-opacity="0.8"/><circle cx="896.9" cy="1504.4" r="4" fill="#8b0000" fill-opacity="0.7"/><path d="M899.7 1501.6A4 4 0 0 1 894.0 1507.2Z" fill="#8b0000" fill-opacity="0.8"/><circle cx="915.6" cy="1490.1" r="4" fill="#8b0000" fill-opacity="0.7"/><path d="M912.8 1492.9A4 4 0 0 1 918.4 1487.3Z" fill="#8b0000" fill-opacity="0.8"/><circle cx="915.6" cy="1492.9" r="4" fill="#8b0000" fill-opacity="0.7"/><path d="M919.6 1492.9A4 4 0 0 1 911.6 1492.9Z" fill="#8b0000" fill-opacity="0.8"/><circle cx="945.6" cy="1490.1" r="4" fill="#8b0000" fill-opacity="0.7"/><path d="M948.5 1487.3A4 4 0 0 1 942.8 1492.9Z" fill="#8b0000" fill-opacity="0.8"/><circle cx="945.6" cy="1490.1" r="4" fill="#8b0000" fill-opacity="0.7"/><path d="M949.6 1490.1A4 4 0 0 1 941.6 1490.1Z" fill="#8b0000" fill-opacity="0.8"/><circle cx="991.0" cy="1455.5" r="4" fill="#8b0000" fill-opacity="0.7"/><path d="M987.0 1455.5A4 4 0 0 1 995.0 1455.5Z" fill="#8b0000" fill-opacity="0.8"/><path d="M878.0 1510.8L991.0 1460.0" stroke="#1010ff" stroke-width="1.45" fill="none"/><path d="M872.5 1445.7V1521.6H995.7M872.5 1450.7h-2.6M872.5 1465.8h-2.6M872.5 1481.1h-2.6M872.5 1496.2h-2.6M872.5 1511.5h-2.6M907.7 1521.6v2.6M945.5 1521.6v2.6M983.1 1521.6v2.6" stroke="#555" stroke-width="1" fill="none"/><g font-family="'Liberation Sans',sans-serif" font-size="10.6" fill="#3c3c3c"><text x="869.4" y="1454.5" text-anchor="end">200</text><text x="869.4" y="1469.6" text-anchor="end">150</text><text x="869.4" y="1484.9" text-anchor="end">100</text><text x="869.4" y="1500.0" text-anchor="end">50</text><text x="869.4" y="1515.3" text-anchor="end">0</text><text x="907.7" y="1533.1" text-anchor="middle">1</text><text x="945.5" y="1533.1" text-anchor="middle">2</text><text x="983.1" y="1533.1" text-anchor="middle">3</text></g><text x="875.0" y="1448.9" font-family="'Liberation Sans',sans-serif" font-weight="bold" font-size="12.2" fill="#111" textLength="124.4" lengthAdjust="spacingAndGlyphs">R = 0.96, p = 0.00044</text><text transform="translate(842.5 1486.2) rotate(-90)" text-anchor="middle" font-family="'Liberation Sans',sans-serif" font-weight="bold" font-size="14.6" fill="#000" textLength="47.4" lengthAdjust="spacingAndGlyphs">CXCL1</text></g>
<g><polygon points="885.1,1620.8 924.0,1602.9 963.0,1585.1 1002.4,1564.3 1002.4,1577.9 963.0,1592.2 924.0,1610.1 885.1,1630.1" fill="#ebebeb"/><circle cx="884.4" cy="1622.3" r="4" fill="#8b0000" fill-opacity="0.7"/><path d="M887.2 1625.1A4 4 0 0 1 881.5 1619.4Z" fill="#8b0000" fill-opacity="0.8"/><circle cx="888.4" cy="1619.4" r="4" fill="#8b0000" fill-opacity="0.7"/><path d="M888.4 1623.4A4 4 0 0 1 888.4 1615.4Z" fill="#8b0000" fill-opacity="0.8"/><circle cx="904.4" cy="1620.8" r="4" fill="#8b0000" fill-opacity="0.7"/><path d="M907.2 1623.7A4 4 0 0 1 901.6 1618.0Z" fill="#8b0000" fill-opacity="0.8"/><circle cx="924.0" cy="1602.2" r="4" fill="#8b0000" fill-opacity="0.7"/><path d="M926.8 1605.1A4 4 0 0 1 921.2 1599.4Z" fill="#8b0000" fill-opacity="0.8"/><circle cx="924.0" cy="1611.2" r="4" fill="#8b0000" fill-opacity="0.7"/><path d="M921.2 1614.1A4 4 0 0 1 926.8 1608.4Z" fill="#8b0000" fill-opacity="0.8"/><circle cx="955.5" cy="1593.6" r="4" fill="#8b0000" fill-opacity="0.7"/><path d="M952.6 1596.5A4 4 0 0 1 958.3 1590.8Z" fill="#8b0000" fill-opacity="0.8"/><circle cx="1002.4" cy="1568.2" r="4" fill="#8b0000" fill-opacity="0.7"/><path d="M1002.4 1564.2A4 4 0 0 1 1002.4 1572.2Z" fill="#8b0000" fill-opacity="0.8"/><path d="M885.1 1624.8L1002.4 1569.6" stroke="#1010ff" stroke-width="1.45" fill="none"/><path d="M879.4 1557.9V1634.0H1007.8M879.4 1562.9h-2.6M879.4 1575.5h-2.6M879.4 1588.6h-2.6M879.4 1601.2h-2.6M879.4 1613.7h-2.6M879.4 1625.8h-2.6M915.8 1634.0v2.6M955.2 1634.0v2.6M994.5 1634.0v2.6" stroke="#555" stroke-width="1" fill="none"/><g font-family="'Liberation Sans',sans-serif" font-size="10.6" fill="#3c3c3c"><text x="876.1" y="1566.7" text-anchor="end">50</text><text x="876.1" y="1579.3" text-anchor="end">40</text><text x="876.1" y="1592.4" text-anchor="end">30</text><text x="876.1" y="1605.0" text-anchor="end">20</text><text x="876.1" y="1617.5" text-anchor="end">10</text><text x="876.1" y="1629.6" text-anchor="end">0</text><text x="915.8" y="1646.0" text-anchor="middle">1</text><text x="955.2" y="1646.0" text-anchor="middle">2</text><text x="994.5" y="1646.0" text-anchor="middle">3</text></g><text x="886.9" y="1559.7" font-family="'Liberation Sans',sans-serif" font-weight="bold" font-size="12.2" fill="#111" textLength="121.9" lengthAdjust="spacingAndGlyphs">R = 0.98, p = 8.8e-05</text><text transform="translate(842.9 1596.2) rotate(-90)" text-anchor="middle" font-family="'Liberation Sans',sans-serif" font-weight="bold" font-size="14.6" fill="#000" textLength="40.8" lengthAdjust="spacingAndGlyphs">IL–1<tspan font-weight="normal">α</tspan></text></g>
<g><polygon points="878.6,1732.3 917.3,1720.8 956.6,1704.4 995.7,1685.8 995.7,1709.4 956.6,1716.5 917.3,1731.5 878.6,1750.9" fill="#ebebeb"/><circle cx="877.9" cy="1733.0" r="4" fill="#8b0000" fill-opacity="0.7"/><path d="M877.9 1729.0A4 4 0 0 1 877.9 1737.0Z" fill="#8b0000" fill-opacity="0.8"/><circle cx="881.9" cy="1740.4" r="4" fill="#8b0000" fill-opacity="0.7"/><path d="M884.8 1737.6A4 4 0 0 1 879.1 1743.2Z" fill="#8b0000" fill-opacity="0.8"/><circle cx="897.5" cy="1739.7" r="4" fill="#8b0000" fill-opacity="0.7"/><path d="M897.5 1735.7A4 4 0 0 1 897.5 1743.7Z" fill="#8b0000" fill-opacity="0.8"/><circle cx="917.3" cy="1724.1" r="4" fill="#8b0000" fill-opacity="0.7"/><path d="M917.3 1720.1A4 4 0 0 1 917.3 1728.1Z" fill="#8b0000" fill-opacity="0.8"/><circle cx="917.3" cy="1729.8" r="4" fill="#8b0000" fill-opacity="0.7"/><path d="M920.1 1727.0A4 4 0 0 1 914.4 1732.6Z" fill="#8b0000" fill-opacity="0.8"/><circle cx="948.5" cy="1721.8" r="4" fill="#8b0000" fill-opacity="0.7"/><path d="M948.5 1725.8A4 4 0 0 1 948.5 1717.8Z" fill="#8b0000" fill-opacity="0.8"/><circle cx="995.7" cy="1689.8" r="4" fill="#8b0000" fill-opacity="0.7"/><path d="M992.8 1686.9A4 4 0 0 1 998.5 1692.6Z" fill="#8b0000" fill-opacity="0.8"/><path d="M878.6 1741.6L995.7 1695.8" stroke="#1010ff" stroke-width="1.45" fill="none"/><path d="M872.2 1678.6V1754.1H1001.0M872.2 1696.5h-2.6M872.2 1721.1h-2.6M872.2 1745.6h-2.6M908.7 1754.1v2.6M948.2 1754.1v2.6M987.4 1754.1v2.6" stroke="#555" stroke-width="1" fill="none"/><g font-family="'Liberation Sans',sans-serif" font-size="10.6" fill="#3c3c3c"><text x="868.9" y="1700.3" text-anchor="end">10</text><text x="868.9" y="1724.9" text-anchor="end">5</text><text x="868.9" y="1749.4" text-anchor="end">0</text><text x="908.7" y="1766.0" text-anchor="middle">1</text><text x="948.2" y="1766.0" text-anchor="middle">2</text><text x="987.4" y="1766.0" text-anchor="middle">3</text></g><text x="878.8" y="1686.8" font-family="'Liberation Sans',sans-serif" font-weight="bold" font-size="12.2" fill="#111" textLength="117.7" lengthAdjust="spacingAndGlyphs">R = 0.94, p = 0.0017</text><text transform="translate(842.9 1715.8) rotate(-90)" text-anchor="middle" font-family="'Liberation Sans',sans-serif" font-weight="bold" font-size="14.6" fill="#000" textLength="41.6" lengthAdjust="spacingAndGlyphs">IFN–<tspan font-weight="normal">α</tspan></text><text x="915.3" y="1782.0" font-family="'Liberation Sans',sans-serif" font-weight="bold" font-size="15.6" fill="#111" textLength="64.9" lengthAdjust="spacingAndGlyphs">LDN (%)</text></g>
<g><polygon points="1072.9,1498.7 1113.1,1487.9 1153.7,1470.8 1194.5,1448.6 1194.5,1475.1 1153.7,1482.9 1113.1,1498.7 1072.9,1516.6" fill="#ebebeb"/><circle cx="1072.5" cy="1500.1" r="4" fill="#8b0000" fill-opacity="0.7"/><path d="M1075.3 1497.3A4 4 0 0 1 1069.7 1502.9Z" fill="#8b0000" fill-opacity="0.8"/><circle cx="1076.5" cy="1513.4" r="4" fill="#8b0000" fill-opacity="0.7"/><path d="M1079.3 1510.6A4 4 0 0 1 1073.7 1516.2Z" fill="#8b0000" fill-opacity="0.8"/><circle cx="1092.7" cy="1505.8" r="4" fill="#8b0000" fill-opacity="0.7"/><path d="M1092.7 1509.8A4 4 0 0 1 1092.7 1501.8Z" fill="#8b0000" fill-opacity="0.8"/><circle cx="1113.1" cy="1484.8" r="4" fill="#8b0000" fill-opacity="0.7"/><path d="M1115.9 1487.6A4 4 0 0 1 1110.3 1482.0Z" fill="#8b0000" fill-opacity="0.8"/><circle cx="1113.1" cy="1493.9" r="4" fill="#8b0000" fill-opacity="0.7"/><path d="M1113.1 1497.9A4 4 0 0 1 1113.1 1489.9Z" fill="#8b0000" fill-opacity="0.8"/><circle cx="1145.9" cy="1478.4" r="4" fill="#8b0000" fill-opacity="0.7"/><path d="M1148.7 1481.2A4 4 0 0 1 1143.1 1475.5Z" fill="#8b0000" fill-opacity="0.8"/><circle cx="1194.8" cy="1462.9" r="4" fill="#8b0000" fill-opacity="0.7"/><path d="M1190.8 1462.9A4 4 0 0 1 1198.8 1462.9Z" fill="#8b0000" fill-opacity="0.8"/><path d="M1072.9 1507.7L1194.5 1461.5" stroke="#1010ff" stroke-width="1.45" fill="none"/><path d="M1066.8 1444.3V1520.4H1200.2M1066.8 1458.2h-2.6M1066.8 1473.3h-2.6M1066.8 1488.7h-2.6M1066.8 1504.1h-2.6M1066.8 1519.4h-2.6M1104.4 1520.4v2.6M1145.6 1520.4v2.6M1186.4 1520.4v2.6" stroke="#555" stroke-width="1" fill="none"/><g font-family="'Liberation Sans',sans-serif" font-size="10.6" fill="#3c3c3c"><text x="1063.6" y="1462.0" text-anchor="end">4</text><text x="1063.6" y="1477.1" text-anchor="end">3</text><text x="1063.6" y="1492.5" text-anchor="end">2</text><text x="1063.6" y="1507.9" text-anchor="end">1</text><text x="1063.6" y="1523.2" text-anchor="end">0</text><text x="1104.4" y="1532.4" text-anchor="middle">1</text><text x="1145.6" y="1532.4" text-anchor="middle">2</text><text x="1186.4" y="1532.4" text-anchor="middle">3</text></g><text x="1072.5" y="1452.5" font-family="'Liberation Sans',sans-serif" font-weight="bold" font-size="12.2" fill="#111" textLength="118.0" lengthAdjust="spacingAndGlyphs">R = 0.94, p = 0.0015</text><text transform="translate(1046.5 1480.4) rotate(-90)" text-anchor="middle" font-family="'Liberation Sans',sans-serif" font-weight="bold" font-size="14.6" fill="#000" textLength="27.4" lengthAdjust="spacingAndGlyphs">IL-7</text></g>
<g><polygon points="1076.9,1615.8 1114.4,1601.5 1151.6,1583.6 1189.5,1562.9 1189.5,1580.8 1151.6,1593.6 1114.4,1608.7 1076.9,1628.0" fill="#ebebeb"/><circle cx="1076.5" cy="1616.5" r="4" fill="#8b0000" fill-opacity="0.7"/><path d="M1076.5 1612.5A4 4 0 0 1 1076.5 1620.5Z" fill="#8b0000" fill-opacity="0.8"/><circle cx="1080.5" cy="1619.7" r="4" fill="#8b0000" fill-opacity="0.7"/><path d="M1077.7 1616.9A4 4 0 0 1 1083.3 1622.5Z" fill="#8b0000" fill-opacity="0.8"/><circle cx="1095.5" cy="1619.1" r="4" fill="#8b0000" fill-opacity="0.7"/><path d="M1098.4 1616.3A4 4 0 0 1 1092.7 1621.9Z" fill="#8b0000" fill-opacity="0.8"/><circle cx="1114.4" cy="1605.1" r="4" fill="#8b0000" fill-opacity="0.7"/><path d="M1114.4 1601.1A4 4 0 0 1 1114.4 1609.1Z" fill="#8b0000" fill-opacity="0.8"/><circle cx="1114.4" cy="1606.5" r="4" fill="#8b0000" fill-opacity="0.7"/><path d="M1111.6 1603.7A4 4 0 0 1 1117.2 1609.4Z" fill="#8b0000" fill-opacity="0.8"/><circle cx="1144.4" cy="1582.9" r="4" fill="#8b0000" fill-opacity="0.7"/><path d="M1141.6 1580.1A4 4 0 0 1 1147.3 1585.7Z" fill="#8b0000" fill-opacity="0.8"/><circle cx="1144.4" cy="1582.9" r="4" fill="#8b0000" fill-opacity="0.7"/><path d="M1144.4 1578.9A4 4 0 0 1 1144.4 1586.9Z" fill="#8b0000" fill-opacity="0.8"/><circle cx="1189.5" cy="1572.5" r="4" fill="#8b0000" fill-opacity="0.7"/><path d="M1192.3 1569.6A4 4 0 0 1 1186.7 1575.3Z" fill="#8b0000" fill-opacity="0.8"/><path d="M1076.9 1621.3L1189.5 1570.5" stroke="#1010ff" stroke-width="1.45" fill="none"/><path d="M1071.5 1555.7V1631.6H1195.7M1071.5 1574.3h-2.6M1071.5 1598.4h-2.6M1071.5 1622.5h-2.6M1106.5 1631.6v2.6M1144.4 1631.6v2.6M1182.4 1631.6v2.6" stroke="#555" stroke-width="1" fill="none"/><g font-family="'Liberation Sans',sans-serif" font-size="10.6" fill="#3c3c3c"><text x="1068.3" y="1578.1" text-anchor="end">100</text><text x="1068.3" y="1602.2" text-anchor="end">50</text><text x="1068.3" y="1626.3" text-anchor="end">0</text><text x="1106.5" y="1643.4" text-anchor="middle">1</text><text x="1144.4" y="1643.4" text-anchor="middle">2</text><text x="1182.4" y="1643.4" text-anchor="middle">3</text></g><text x="1076.0" y="1561.7" font-family="'Liberation Sans',sans-serif" font-weight="bold" font-size="12.2" fill="#111" textLength="124.9" lengthAdjust="spacingAndGlyphs">R = 0.97, p = 0.00032</text><text transform="translate(1046.5 1588.3) rotate(-90)" text-anchor="middle" font-family="'Liberation Sans',sans-serif" font-weight="bold" font-size="14.6" fill="#000" textLength="30.8" lengthAdjust="spacingAndGlyphs">EGF</text><text x="1104.8" y="1670.5" font-family="'Liberation Sans',sans-serif" font-weight="bold" font-size="15.6" fill="#111" textLength="64.9" lengthAdjust="spacingAndGlyphs">LDN (%)</text></g>
<g><polygon points="1277.1,1504.4 1315.6,1486.5 1353.9,1468.6 1392.3,1447.2 1392.3,1460.0 1353.9,1475.8 1315.6,1493.7 1277.1,1514.4" fill="#ebebeb"/><circle cx="1276.4" cy="1504.4" r="4" fill="#8b0000" fill-opacity="0.7"/><path d="M1280.4 1504.4A4 4 0 0 1 1272.4 1504.4Z" fill="#8b0000" fill-opacity="0.8"/><circle cx="1280.7" cy="1504.4" r="4" fill="#8b0000" fill-opacity="0.7"/><path d="M1283.5 1501.6A4 4 0 0 1 1277.9 1507.2Z" fill="#8b0000" fill-opacity="0.8"/><circle cx="1296.4" cy="1504.4" r="4" fill="#8b0000" fill-opacity="0.7"/><path d="M1296.4 1500.4A4 4 0 0 1 1296.4 1508.4Z" fill="#8b0000" fill-opacity="0.8"/><circle cx="1315.6" cy="1489.1" r="4" fill="#8b0000" fill-opacity="0.7"/><path d="M1319.6 1489.1A4 4 0 0 1 1311.6 1489.1Z" fill="#8b0000" fill-opacity="0.8"/><circle cx="1315.6" cy="1494.7" r="4" fill="#8b0000" fill-opacity="0.7"/><path d="M1315.6 1498.7A4 4 0 0 1 1315.6 1490.7Z" fill="#8b0000" fill-opacity="0.8"/><circle cx="1346.1" cy="1476.9" r="4" fill="#8b0000" fill-opacity="0.7"/><path d="M1350.1 1476.9A4 4 0 0 1 1342.1 1476.9Z" fill="#8b0000" fill-opacity="0.8"/><circle cx="1392.3" cy="1450.7" r="4" fill="#8b0000" fill-opacity="0.7"/><path d="M1395.1 1447.9A4 4 0 0 1 1389.4 1453.6Z" fill="#8b0000" fill-opacity="0.8"/><path d="M1277.1 1508.4L1392.3 1452.9" stroke="#1010ff" stroke-width="1.45" fill="none"/><path d="M1271.7 1442.2V1517.6H1398.0M1271.7 1448.6h-2.6M1271.7 1468.2h-2.6M1271.7 1487.7h-2.6M1271.7 1507.3h-2.6M1307.4 1517.6v2.6M1346.1 1517.6v2.6M1384.4 1517.6v2.6" stroke="#555" stroke-width="1" fill="none"/><g font-family="'Liberation Sans',sans-serif" font-size="10.6" fill="#3c3c3c"><text x="1268.5" y="1452.4" text-anchor="end">2.0</text><text x="1268.5" y="1472.0" text-anchor="end">1.5</text><text x="1268.5" y="1491.5" text-anchor="end">1.0</text><text x="1268.5" y="1511.1" text-anchor="end">0.5</text><text x="1307.4" y="1529.3" text-anchor="middle">1</text><text x="1346.1" y="1529.3" text-anchor="middle">2</text><text x="1384.4" y="1529.3" text-anchor="middle">3</text></g><text x="1275.9" y="1448.6" font-family="'Liberation Sans',sans-serif" font-weight="bold" font-size="12.2" fill="#111" textLength="121.6" lengthAdjust="spacingAndGlyphs">R = 0.98, p = 6.7e-05</text><text transform="translate(1239.8 1482.0) rotate(-90)" text-anchor="middle" font-family="'Liberation Sans',sans-serif" font-weight="bold" font-size="14.6" fill="#000" textLength="30.5" lengthAdjust="spacingAndGlyphs">IL–4</text></g>
<g><polygon points="1279.3,1605.1 1315.0,1595.1 1351.1,1580.8 1386.8,1561.5 1386.8,1585.8 1351.1,1594.4 1315.0,1608.7 1279.3,1624.7" fill="#ebebeb"/><circle cx="1278.8" cy="1609.8" r="4" fill="#8b0000" fill-opacity="0.7"/><path d="M1276.0 1607.0A4 4 0 0 1 1281.7 1612.6Z" fill="#8b0000" fill-opacity="0.8"/><circle cx="1282.7" cy="1609.8" r="4" fill="#8b0000" fill-opacity="0.7"/><path d="M1279.9 1607.0A4 4 0 0 1 1285.5 1612.6Z" fill="#8b0000" fill-opacity="0.8"/><circle cx="1297.0" cy="1608.7" r="4" fill="#8b0000" fill-opacity="0.7"/><path d="M1297.0 1612.7A4 4 0 0 1 1297.0 1604.7Z" fill="#8b0000" fill-opacity="0.8"/><circle cx="1315.0" cy="1604.8" r="4" fill="#8b0000" fill-opacity="0.7"/><path d="M1311.0 1604.8A4 4 0 0 1 1319.0 1604.8Z" fill="#8b0000" fill-opacity="0.8"/><circle cx="1315.0" cy="1604.8" r="4" fill="#8b0000" fill-opacity="0.7"/><path d="M1312.2 1602.0A4 4 0 0 1 1317.9 1607.6Z" fill="#8b0000" fill-opacity="0.8"/><circle cx="1343.6" cy="1598.2" r="4" fill="#8b0000" fill-opacity="0.7"/><path d="M1339.6 1598.2A4 4 0 0 1 1347.6 1598.2Z" fill="#8b0000" fill-opacity="0.8"/><circle cx="1343.6" cy="1598.2" r="4" fill="#8b0000" fill-opacity="0.7"/><path d="M1340.8 1595.4A4 4 0 0 1 1346.5 1601.1Z" fill="#8b0000" fill-opacity="0.8"/><circle cx="1386.8" cy="1562.9" r="4" fill="#8b0000" fill-opacity="0.7"/><path d="M1384.0 1565.7A4 4 0 0 1 1389.7 1560.1Z" fill="#8b0000" fill-opacity="0.8"/><path d="M1279.3 1615.1L1386.8 1570.8" stroke="#1010ff" stroke-width="1.45" fill="none"/><path d="M1273.8 1552.9V1628.7H1392.3M1273.8 1566.2h-2.6M1273.8 1581.5h-2.6M1273.8 1596.8h-2.6M1273.8 1612.0h-2.6M1273.8 1627.0h-2.6M1307.4 1628.7v2.6M1343.6 1628.7v2.6M1379.4 1628.7v2.6" stroke="#555" stroke-width="1" fill="none"/><g font-family="'Liberation Sans',sans-serif" font-size="10.6" fill="#3c3c3c"><text x="1270.7" y="1570.0" text-anchor="end">300</text><text x="1270.7" y="1585.3" text-anchor="end">200</text><text x="1270.7" y="1600.6" text-anchor="end">100</text><text x="1270.7" y="1615.8" text-anchor="end">0</text><text x="1270.7" y="1630.8" text-anchor="end">−100</text><text x="1307.4" y="1640.3" text-anchor="middle">1</text><text x="1343.6" y="1640.3" text-anchor="middle">2</text><text x="1379.4" y="1640.3" text-anchor="middle">3</text></g><text x="1276.2" y="1562.2" font-family="'Liberation Sans',sans-serif" font-weight="bold" font-size="12.2" fill="#111" textLength="117.7" lengthAdjust="spacingAndGlyphs">R = 0.93, p = 0.0028</text><text transform="translate(1239.8 1588.3) rotate(-90)" text-anchor="middle" font-family="'Liberation Sans',sans-serif" font-weight="bold" font-size="14.6" fill="#000" textLength="39.4" lengthAdjust="spacingAndGlyphs">IL–10</text></g>
<g><polygon points="1279.5,1741.6 1315.0,1728.0 1351.1,1710.8 1387.1,1690.1 1387.1,1704.4 1351.1,1717.9 1315.0,1734.4 1279.5,1753.7" fill="#ebebeb"/><circle cx="1278.8" cy="1741.3" r="4" fill="#8b0000" fill-opacity="0.7"/><path d="M1278.8 1745.3A4 4 0 0 1 1278.8 1737.3Z" fill="#8b0000" fill-opacity="0.8"/><circle cx="1282.8" cy="1748.7" r="4" fill="#8b0000" fill-opacity="0.7"/><path d="M1280.0 1751.5A4 4 0 0 1 1285.7 1745.9Z" fill="#8b0000" fill-opacity="0.8"/><circle cx="1297.1" cy="1745.6" r="4" fill="#8b0000" fill-opacity="0.7"/><path d="M1297.1 1741.6A4 4 0 0 1 1297.1 1749.6Z" fill="#8b0000" fill-opacity="0.8"/><circle cx="1315.0" cy="1728.7" r="4" fill="#8b0000" fill-opacity="0.7"/><path d="M1315.0 1724.7A4 4 0 0 1 1315.0 1732.7Z" fill="#8b0000" fill-opacity="0.8"/><circle cx="1315.0" cy="1733.0" r="4" fill="#8b0000" fill-opacity="0.7"/><path d="M1317.9 1735.8A4 4 0 0 1 1312.2 1730.1Z" fill="#8b0000" fill-opacity="0.8"/><circle cx="1343.9" cy="1713.2" r="4" fill="#8b0000" fill-opacity="0.7"/><path d="M1343.9 1709.2A4 4 0 0 1 1343.9 1717.2Z" fill="#8b0000" fill-opacity="0.8"/><circle cx="1387.1" cy="1696.2" r="4" fill="#8b0000" fill-opacity="0.7"/><path d="M1383.1 1696.2A4 4 0 0 1 1391.1 1696.2Z" fill="#8b0000" fill-opacity="0.8"/><path d="M1279.5 1747.7L1387.1 1696.5" stroke="#1010ff" stroke-width="1.45" fill="none"/><path d="M1273.8 1682.2V1757.7H1392.3M1273.8 1698.2h-2.6M1273.8 1717.2h-2.6M1273.8 1736.1h-2.6M1273.8 1754.9h-2.6M1307.4 1757.7v2.6M1343.6 1757.7v2.6M1379.4 1757.7v2.6" stroke="#555" stroke-width="1" fill="none"/><g font-family="'Liberation Sans',sans-serif" font-size="10.6" fill="#3c3c3c"><text x="1270.7" y="1702.0" text-anchor="end">1500</text><text x="1270.7" y="1721.0" text-anchor="end">1000</text><text x="1270.7" y="1739.9" text-anchor="end">500</text><text x="1270.7" y="1758.7" text-anchor="end">0</text><text x="1307.4" y="1769.6" text-anchor="middle">1</text><text x="1343.6" y="1769.6" text-anchor="middle">2</text><text x="1379.4" y="1769.6" text-anchor="middle">3</text></g><text x="1274.5" y="1686.5" font-family="'Liberation Sans',sans-serif" font-weight="bold" font-size="12.2" fill="#111" textLength="123.7" lengthAdjust="spacingAndGlyphs">R = 0.97, p = 0.00022</text><text transform="translate(1239.8 1725.1) rotate(-90)" text-anchor="middle" font-family="'Liberation Sans',sans-serif" font-weight="bold" font-size="14.6" fill="#000" textLength="97.4" lengthAdjust="spacingAndGlyphs">PDGF–AB/BB</text><text x="1314.0" y="1783.5" font-family="'Liberation Sans',sans-serif" font-weight="bold" font-size="15.6" fill="#111" textLength="63.8" lengthAdjust="spacingAndGlyphs">LDN (%)</text></g>
<path d="M452 1771.9h3" stroke="#333" stroke-width="0.8"/>
</svg></body></html>
